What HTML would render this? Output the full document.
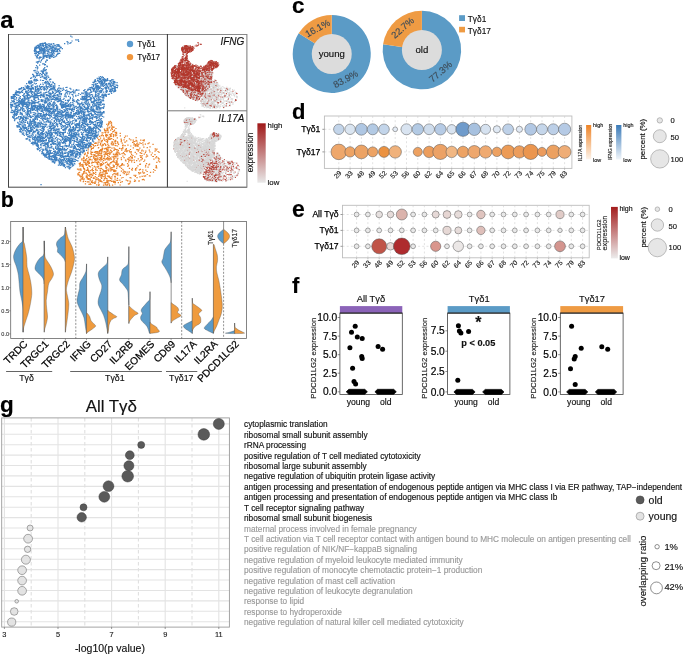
<!DOCTYPE html>
<html><head><meta charset="utf-8"><style>html,body{margin:0;padding:0;background:#fff;overflow:hidden}svg{display:block;will-change:transform}text{font-family:"Liberation Sans",sans-serif}</style></head>
<body><svg width="685" height="657" viewBox="0 0 685 657">
<rect width="685" height="657" fill="#fff"/>
<path d="M17.8 110.3h.1M16.3 106.7h.1M56.8 51.3h.1M55.8 147.1h.1M34.1 121.9h.1M41.3 60.7h.1M43.3 145.7h.1M72.8 123.3h.1M83.5 96.6h.1M73.2 99.8h.1M95.8 130.9h.1M72.0 108.9h.1M55.2 138.3h.1M82.2 139.2h.1M104.6 82.2h.1M74.2 115.9h.1M61.2 126.5h.1M85.8 124.4h.1M98.8 78.5h.1M36.7 92.0h.1M18.7 99.3h.1M103.3 77.7h.1M48.7 154.4h.1M35.1 72.0h.1M49.9 114.1h.1M84.6 107.7h.1M52.4 93.0h.1M27.5 85.5h.1M21.0 88.5h.1M47.5 88.6h.1M60.3 103.7h.1M38.6 147.4h.1M67.0 166.3h.1M93.4 109.9h.1M65.9 87.5h.1M38.0 130.1h.1M58.3 161.0h.1M113.1 88.6h.1M32.1 121.4h.1M100.8 103.2h.1M94.5 137.4h.1M45.9 143.8h.1M52.8 93.3h.1M47.8 111.9h.1M80.2 109.1h.1M56.9 152.8h.1M32.8 74.4h.1M36.0 116.7h.1M108.3 87.3h.1M73.0 156.9h.1M67.4 108.7h.1M28.6 102.4h.1M66.0 112.8h.1M21.5 113.4h.1M39.9 140.2h.1M70.7 138.6h.1M57.9 120.0h.1M65.3 130.1h.1M67.6 103.0h.1M70.4 161.8h.1M57.7 51.7h.1M17.9 127.2h.1M87.3 126.0h.1M53.0 104.1h.1M56.6 107.7h.1M12.1 112.6h.1M77.4 107.3h.1M38.7 47.5h.1M39.2 58.9h.1M71.6 131.1h.1M55.9 51.7h.1M78.5 143.9h.1M103.2 99.9h.1M69.7 159.7h.1M24.0 109.2h.1M41.3 105.8h.1M47.5 44.8h.1M61.3 160.7h.1M98.4 97.2h.1M100.1 92.2h.1M47.0 147.8h.1M78.7 93.7h.1M37.6 63.2h.1M36.2 79.6h.1M27.0 98.9h.1M114.3 81.7h.1M61.3 106.1h.1M38.5 53.9h.1M67.2 137.4h.1M26.1 134.1h.1M89.3 145.2h.1M66.6 106.3h.1M73.1 155.4h.1M49.0 55.8h.1M70.3 121.9h.1M83.5 104.4h.1M96.2 137.2h.1M67.8 125.9h.1M83.8 139.5h.1M82.6 130.1h.1M41.4 107.8h.1M11.9 100.6h.1M32.8 116.1h.1M66.6 163.0h.1M98.6 106.9h.1M63.1 99.5h.1M25.2 86.0h.1M41.3 89.6h.1M49.0 96.6h.1M100.1 78.6h.1M30.5 89.7h.1M78.1 158.0h.1M69.3 133.5h.1M89.1 99.5h.1M23.7 102.2h.1M42.2 136.0h.1M38.1 125.5h.1M70.2 92.4h.1M37.9 114.6h.1M91.0 94.7h.1M66.6 90.2h.1M64.4 122.1h.1M33.3 76.8h.1M53.2 98.9h.1M61.1 116.8h.1M52.3 159.7h.1M36.8 56.3h.1M66.4 128.8h.1M87.9 124.4h.1M59.4 112.3h.1M42.8 58.7h.1M78.7 130.9h.1M17.6 108.8h.1M42.6 100.8h.1M79.6 154.3h.1M12.4 105.5h.1M46.5 95.7h.1M31.4 143.3h.1M114.7 81.9h.1M34.1 95.3h.1M52.5 156.1h.1M110.6 84.1h.1M50.9 89.8h.1M40.2 87.0h.1M32.4 87.6h.1M98.8 97.2h.1M30.8 88.6h.1M13.3 94.5h.1M61.3 163.5h.1M56.4 104.9h.1M89.8 146.6h.1M44.5 88.3h.1M63.8 132.3h.1M35.3 95.2h.1M82.8 137.1h.1M100.8 79.7h.1M50.3 135.9h.1M36.7 73.5h.1M45.2 92.6h.1M97.3 125.1h.1M21.1 102.6h.1M110.5 89.6h.1M21.4 117.9h.1M33.5 89.1h.1M74.7 124.9h.1M20.9 92.5h.1M27.7 130.5h.1M43.7 114.2h.1M55.0 151.8h.1M55.8 146.3h.1M69.6 123.5h.1M19.6 121.2h.1M40.6 108.4h.1M21.7 104.5h.1M51.9 156.9h.1M53.7 149.6h.1M53.2 108.0h.1M14.4 113.6h.1M22.7 118.3h.1M55.4 116.2h.1M81.2 99.0h.1M92.5 141.2h.1M29.4 102.4h.1M23.9 97.0h.1M57.7 107.0h.1M89.2 140.9h.1M15.9 106.2h.1M89.1 145.6h.1M47.9 138.2h.1M64.2 158.9h.1M38.4 106.5h.1M22.4 109.6h.1M48.9 152.9h.1M72.6 154.1h.1M52.6 143.4h.1M48.9 139.2h.1M29.1 136.6h.1M73.3 126.5h.1M26.1 120.4h.1M65.4 155.8h.1M34.5 125.1h.1M21.5 87.7h.1M73.0 117.0h.1M77.4 102.6h.1M78.9 152.7h.1M67.4 93.9h.1M11.3 112.2h.1M75.7 106.6h.1M43.4 80.5h.1M60.2 136.3h.1M35.1 47.4h.1M91.0 130.4h.1M35.5 136.6h.1M105.1 84.1h.1M84.8 126.7h.1M60.7 148.7h.1M102.6 97.8h.1M32.9 121.3h.1M110.3 86.1h.1M84.8 122.7h.1M97.7 122.7h.1M44.5 96.1h.1M64.4 150.2h.1M13.3 94.7h.1M93.5 86.4h.1M10.5 104.6h.1M33.2 131.0h.1M21.9 123.0h.1M95.1 130.7h.1M53.3 92.4h.1M35.2 100.8h.1M91.5 137.8h.1M47.6 83.8h.1M101.1 126.3h.1M28.3 98.0h.1M59.9 154.5h.1M45.3 108.6h.1M95.8 135.3h.1M31.2 123.2h.1M32.3 91.6h.1M53.1 142.6h.1M64.1 122.5h.1M25.3 118.9h.1M56.4 115.1h.1M93.6 131.1h.1M83.4 123.7h.1M43.8 122.0h.1M55.3 141.5h.1M55.7 100.1h.1M54.2 127.9h.1M29.8 125.3h.1M52.0 104.5h.1M14.1 111.2h.1M72.1 110.9h.1M65.3 123.4h.1M32.7 129.1h.1M116.3 87.5h.1M39.6 93.1h.1M55.2 95.7h.1M48.0 76.0h.1M96.6 92.1h.1M97.4 122.7h.1M114.1 87.2h.1M100.0 87.4h.1M38.9 90.1h.1M40.4 73.5h.1M35.2 140.7h.1M94.4 127.1h.1M31.3 130.1h.1M90.1 98.0h.1M63.1 105.5h.1M100.8 101.7h.1M81.9 148.8h.1M18.1 123.1h.1M65.1 103.8h.1M103.1 88.8h.1M66.8 140.0h.1M57.0 95.9h.1M99.3 79.5h.1M53.6 106.2h.1M64.7 165.8h.1M95.5 84.4h.1M42.3 116.7h.1M42.4 43.3h.1M81.1 142.3h.1M76.1 120.5h.1M85.2 117.9h.1M33.0 126.9h.1M42.6 95.9h.1M56.5 123.7h.1M15.9 114.3h.1M72.1 158.7h.1M73.9 161.1h.1M61.3 94.7h.1M77.9 132.2h.1M80.3 145.9h.1M43.6 134.8h.1M103.0 104.0h.1M49.7 115.2h.1M96.1 88.5h.1M78.0 95.4h.1M94.7 114.2h.1M86.0 147.2h.1M99.8 118.5h.1M56.3 154.8h.1M84.0 118.6h.1M97.2 78.3h.1M38.4 95.9h.1M47.5 53.3h.1M35.3 119.3h.1M37.5 137.5h.1M35.1 115.8h.1M61.5 117.1h.1M21.5 122.5h.1M26.9 118.0h.1M103.5 104.0h.1M38.3 141.1h.1M37.4 47.3h.1M15.5 113.0h.1M59.5 162.3h.1M16.9 118.2h.1M37.8 113.9h.1M52.5 99.2h.1M37.6 87.0h.1M86.6 124.3h.1M73.9 138.4h.1M45.0 75.0h.1M25.1 99.1h.1M77.9 99.7h.1M98.9 102.9h.1M39.3 148.7h.1M28.1 104.6h.1M32.8 102.9h.1M37.8 68.0h.1M46.8 60.2h.1M99.9 109.1h.1M57.0 157.9h.1M29.5 140.0h.1M19.4 119.5h.1M86.4 145.2h.1M89.1 94.1h.1M46.2 149.0h.1M50.1 117.8h.1M23.0 132.9h.1M103.5 83.1h.1M51.2 137.5h.1M63.4 107.4h.1M37.0 145.9h.1M20.4 130.9h.1M72.3 108.6h.1M23.3 104.9h.1M40.2 57.9h.1M24.8 117.4h.1M25.9 115.0h.1M111.3 91.7h.1M100.7 109.0h.1M46.6 72.9h.1M15.8 107.9h.1M55.6 122.5h.1M56.8 106.4h.1M78.4 144.9h.1M68.6 159.4h.1M37.1 108.3h.1M43.0 124.4h.1M74.2 163.4h.1M39.0 101.5h.1M36.3 53.6h.1M100.7 119.7h.1M86.7 100.8h.1M76.2 101.8h.1M51.4 116.6h.1M48.1 151.5h.1M70.1 104.7h.1M57.5 50.3h.1M57.5 135.5h.1M46.4 87.1h.1M76.6 150.0h.1M65.9 136.0h.1M92.0 102.6h.1M73.3 105.5h.1M51.0 99.7h.1M52.2 112.8h.1M44.8 142.1h.1M64.0 98.7h.1M109.4 83.5h.1M32.1 96.4h.1M71.0 105.4h.1M93.5 110.6h.1M65.9 107.9h.1M52.1 87.8h.1M83.1 108.9h.1M50.4 93.2h.1M72.0 153.8h.1M117.6 85.9h.1M99.2 107.3h.1M105.9 95.7h.1M41.3 107.2h.1M78.1 118.8h.1M14.6 94.5h.1M43.1 129.9h.1M42.9 149.0h.1M63.8 112.5h.1M79.9 109.7h.1M72.0 94.5h.1M26.9 138.6h.1M66.4 146.6h.1M44.9 133.0h.1M58.6 91.3h.1M102.3 82.3h.1M98.1 80.9h.1M52.1 133.4h.1M43.4 153.2h.1M28.7 87.8h.1M67.6 91.3h.1M99.2 86.9h.1M30.6 78.4h.1M57.9 148.3h.1M27.2 87.1h.1M65.4 111.1h.1M93.3 91.2h.1M52.1 53.4h.1M101.9 83.1h.1M21.8 113.6h.1M53.6 157.5h.1M54.6 125.9h.1M48.0 122.0h.1M89.3 132.6h.1M31.4 80.8h.1M100.7 114.6h.1M37.5 97.5h.1M40.9 47.9h.1M36.4 56.6h.1M85.0 92.3h.1M99.5 78.1h.1M77.8 99.8h.1M85.4 96.7h.1M85.9 144.4h.1M69.0 165.1h.1M36.1 107.7h.1M111.1 87.0h.1M98.1 111.9h.1M28.3 126.8h.1M59.8 139.4h.1M31.3 131.3h.1M60.6 88.4h.1M21.8 104.3h.1M30.5 111.2h.1M77.8 160.8h.1M37.2 73.6h.1M100.7 80.0h.1M78.9 149.5h.1M44.6 89.1h.1M49.9 147.7h.1M14.5 114.2h.1M98.5 131.8h.1M42.4 116.0h.1M95.0 96.3h.1M81.5 107.6h.1M46.6 98.0h.1M57.9 113.8h.1M45.0 100.8h.1M76.9 145.1h.1M83.1 119.6h.1M71.7 163.0h.1M47.1 154.5h.1M30.4 128.4h.1M19.2 126.1h.1M71.0 92.6h.1M20.3 109.6h.1M62.8 112.6h.1M65.4 116.9h.1M54.1 51.8h.1M103.3 112.1h.1M35.6 89.6h.1M42.4 132.0h.1M28.1 136.8h.1M92.5 128.6h.1M23.3 89.7h.1M14.7 118.9h.1M69.3 144.1h.1M37.5 66.9h.1M100.5 116.0h.1M84.2 90.7h.1M84.5 144.7h.1M26.3 106.0h.1M52.5 152.9h.1M28.3 88.2h.1M72.3 91.6h.1M46.0 45.1h.1M25.7 127.4h.1M39.5 105.8h.1M71.4 109.3h.1M70.5 140.0h.1M93.6 122.6h.1M92.4 136.1h.1M69.5 93.9h.1M62.0 89.0h.1M35.4 86.7h.1M58.9 98.9h.1M42.7 63.9h.1M69.5 161.1h.1M48.6 140.5h.1M62.3 156.2h.1M37.8 45.4h.1M38.9 131.6h.1M75.1 151.8h.1M31.2 135.3h.1M46.8 59.8h.1M68.0 153.2h.1M45.3 137.3h.1M53.8 128.4h.1M16.2 94.9h.1M63.4 118.1h.1M76.3 134.1h.1M55.7 110.6h.1M69.9 125.7h.1M45.7 136.2h.1M86.8 139.1h.1M43.4 140.2h.1M66.5 161.5h.1M11.0 102.7h.1M93.6 88.4h.1M34.6 138.2h.1M16.5 106.0h.1M29.2 135.8h.1M96.5 100.7h.1M16.5 113.9h.1M37.2 75.7h.1M38.9 137.6h.1M40.5 84.4h.1M83.7 118.1h.1M72.6 154.2h.1M105.4 88.1h.1M42.1 45.6h.1M28.2 128.9h.1M35.3 142.7h.1M14.1 106.4h.1M56.5 55.8h.1M117.0 82.5h.1M23.0 104.2h.1M89.7 105.8h.1M48.2 105.3h.1M49.2 43.8h.1M80.5 111.3h.1M53.1 82.8h.1M115.1 91.5h.1M75.6 159.7h.1M76.0 90.2h.1M79.8 111.9h.1M65.1 117.4h.1M35.3 122.1h.1M50.9 132.6h.1M66.8 120.0h.1M44.8 122.1h.1M34.1 120.0h.1M87.9 108.5h.1M66.6 109.2h.1M98.8 100.7h.1M51.2 147.8h.1M37.2 55.5h.1M96.7 108.5h.1M19.5 92.5h.1M85.1 99.3h.1M26.2 128.5h.1M50.0 85.5h.1M29.3 133.3h.1M19.9 123.0h.1M31.8 96.0h.1M76.7 89.5h.1M57.8 88.9h.1M41.9 94.1h.1M97.6 87.1h.1M72.5 159.5h.1M50.2 126.7h.1M51.0 109.0h.1M12.8 117.5h.1M59.9 148.7h.1M61.1 155.1h.1M63.1 107.2h.1M82.4 136.2h.1M69.8 139.8h.1M91.4 113.9h.1M83.5 132.4h.1M55.1 116.4h.1M39.7 75.7h.1M70.0 107.1h.1M62.8 116.3h.1M41.5 132.4h.1M73.9 100.0h.1M58.0 153.6h.1M56.8 123.4h.1M96.5 105.5h.1M100.3 79.6h.1M108.5 83.5h.1M60.2 134.6h.1M41.4 86.5h.1M63.6 160.1h.1M62.4 151.8h.1M13.5 118.2h.1M46.0 99.4h.1M95.1 80.2h.1M69.6 142.2h.1M59.8 46.8h.1M20.5 124.3h.1M50.5 126.4h.1M45.8 149.1h.1M22.6 105.3h.1M22.7 101.7h.1M67.8 106.6h.1M31.4 93.6h.1M104.1 106.0h.1M62.7 142.6h.1M38.5 46.4h.1M74.3 141.7h.1M14.5 120.7h.1M98.0 85.8h.1M59.9 159.0h.1M54.0 53.6h.1M89.2 128.4h.1M47.2 60.3h.1M61.8 105.4h.1M77.5 149.5h.1M82.7 136.8h.1M67.4 162.2h.1M37.2 148.6h.1M31.4 100.4h.1M63.2 157.4h.1M86.7 92.1h.1M95.7 128.9h.1M99.2 93.9h.1M80.5 148.3h.1M74.2 148.3h.1M10.5 104.4h.1M55.2 119.0h.1M46.2 69.5h.1M101.2 120.8h.1M85.7 98.4h.1M106.5 92.4h.1M59.1 144.9h.1M48.0 55.3h.1M103.1 107.5h.1M49.1 126.1h.1M50.6 108.6h.1M83.8 113.0h.1M88.7 137.4h.1M73.5 115.5h.1M52.4 137.0h.1M40.3 139.0h.1M80.1 144.3h.1M86.6 129.9h.1M27.5 115.3h.1M95.7 86.4h.1M65.7 153.5h.1M43.7 49.3h.1M31.3 83.1h.1M52.5 91.3h.1M58.6 148.4h.1M94.1 82.3h.1M91.8 102.0h.1M82.4 137.7h.1M49.2 158.6h.1M41.1 122.2h.1M99.3 114.2h.1M36.3 51.3h.1M91.4 128.3h.1M43.2 124.1h.1M78.5 130.0h.1M52.6 161.5h.1M46.9 92.2h.1M66.3 127.2h.1M17.1 94.8h.1M102.0 127.0h.1M53.6 115.1h.1M82.5 137.9h.1M90.2 146.4h.1M86.0 131.5h.1M39.7 51.0h.1M99.0 77.0h.1M96.6 88.0h.1M45.1 42.9h.1M16.4 98.9h.1M34.2 122.1h.1M45.8 114.4h.1M64.5 96.1h.1M78.0 134.2h.1M53.2 107.3h.1M113.8 84.2h.1M17.7 103.0h.1M59.0 128.9h.1M59.1 85.7h.1M31.0 135.6h.1M38.7 113.4h.1M88.0 133.5h.1M43.0 48.1h.1M48.4 156.2h.1M94.0 102.1h.1M61.4 146.5h.1M21.8 113.8h.1M32.6 74.4h.1M57.2 135.1h.1M33.1 116.5h.1M94.9 101.2h.1M77.5 154.5h.1M51.3 55.7h.1M59.3 116.6h.1M86.4 98.1h.1M80.2 130.0h.1M34.7 92.1h.1M99.0 122.7h.1M33.7 127.5h.1M38.4 61.9h.1M27.6 107.3h.1M102.0 112.8h.1M64.3 120.9h.1M15.9 111.5h.1M48.1 54.4h.1M21.0 89.0h.1M84.8 118.2h.1M59.2 94.0h.1M89.1 143.3h.1M101.8 97.0h.1M57.7 131.9h.1M42.5 86.6h.1M20.2 98.5h.1M39.6 74.1h.1M45.5 140.0h.1M99.1 82.2h.1M49.6 110.5h.1M27.4 109.7h.1M68.1 161.1h.1M29.0 97.9h.1M84.6 136.9h.1M36.8 75.0h.1M79.5 117.3h.1M74.6 130.4h.1M63.3 165.1h.1M39.5 139.8h.1M54.2 129.7h.1M110.7 85.8h.1M96.7 127.3h.1M81.2 116.8h.1M51.4 125.0h.1M49.3 133.9h.1M49.6 108.7h.1M36.8 143.2h.1M51.1 139.2h.1M51.5 88.7h.1M61.0 152.5h.1M81.7 148.3h.1M13.2 98.0h.1M59.7 132.5h.1M22.7 103.2h.1M34.9 98.2h.1M60.7 161.0h.1M90.4 113.7h.1M59.8 135.0h.1M32.2 126.4h.1M60.8 136.2h.1M35.3 105.6h.1M49.7 156.7h.1M34.5 118.1h.1M13.9 98.0h.1M30.7 137.2h.1M111.5 93.4h.1M35.2 102.8h.1M113.8 83.2h.1M47.1 127.1h.1M59.0 113.6h.1M66.4 116.0h.1M28.1 116.6h.1M54.2 154.9h.1M54.0 49.0h.1M104.0 95.6h.1M80.6 107.4h.1M36.3 125.8h.1M35.5 88.8h.1M90.1 121.5h.1M82.6 143.6h.1M61.3 128.3h.1M35.2 97.0h.1M32.4 94.3h.1M89.4 88.0h.1M38.7 47.0h.1M53.9 95.7h.1M72.9 161.7h.1M48.4 131.6h.1M28.9 103.4h.1M79.3 122.8h.1M37.6 146.4h.1M11.6 110.2h.1M39.4 51.4h.1M28.7 130.5h.1M46.2 108.6h.1M55.1 103.1h.1M77.4 130.6h.1M95.5 134.7h.1M34.8 143.3h.1M20.2 116.7h.1M86.4 144.2h.1M81.7 114.0h.1M30.8 116.2h.1M37.9 96.1h.1M41.4 123.4h.1M76.4 156.6h.1M43.6 126.3h.1M95.8 81.7h.1M15.3 107.5h.1M22.9 106.6h.1M49.2 133.1h.1M17.6 91.5h.1M37.3 127.1h.1M44.4 102.8h.1M93.2 89.5h.1M59.2 123.1h.1M60.3 120.8h.1M93.2 97.8h.1M52.5 54.4h.1M27.7 109.8h.1M92.6 96.4h.1M38.0 136.2h.1M41.2 101.4h.1M46.6 73.9h.1M46.9 66.2h.1M92.5 119.2h.1M112.8 83.9h.1M49.5 89.9h.1M50.9 56.4h.1M108.2 94.4h.1M88.6 138.0h.1M37.3 125.5h.1M98.6 86.2h.1M90.4 128.1h.1M69.2 100.1h.1M46.8 74.0h.1M45.3 45.8h.1M34.5 51.4h.1M59.9 93.3h.1M113.0 81.7h.1M43.6 153.1h.1M21.4 116.8h.1M66.0 103.7h.1M32.5 88.3h.1M13.8 117.2h.1M87.5 96.8h.1M66.6 146.3h.1M90.4 143.9h.1M56.8 90.6h.1M30.2 111.7h.1M70.6 143.1h.1M49.1 159.4h.1M12.5 106.1h.1M65.2 160.5h.1M25.5 122.3h.1M55.8 118.7h.1M39.8 95.7h.1M87.4 137.2h.1M37.6 107.9h.1M75.1 156.9h.1M73.2 133.7h.1M86.9 132.4h.1M57.8 53.4h.1M96.1 128.2h.1M59.7 123.3h.1M46.3 139.5h.1M54.3 120.7h.1M44.1 106.3h.1M62.5 162.0h.1M31.4 117.4h.1M53.6 87.3h.1M48.0 129.9h.1M48.3 122.2h.1M53.4 97.2h.1M69.9 126.3h.1M49.5 150.2h.1M73.7 128.2h.1M44.9 103.2h.1M49.3 155.7h.1M67.5 160.1h.1M51.8 119.6h.1M38.1 89.4h.1M49.2 158.0h.1M27.3 129.8h.1M34.6 49.8h.1M89.2 133.6h.1M30.8 137.1h.1M51.7 54.3h.1M91.4 118.0h.1M86.5 122.2h.1M75.8 127.6h.1M56.9 91.9h.1M26.4 86.9h.1M16.4 109.6h.1M13.6 98.1h.1M52.8 161.8h.1M51.4 129.9h.1M96.2 94.9h.1M71.5 134.6h.1M44.2 90.1h.1M44.4 138.3h.1M102.6 104.3h.1M26.1 138.8h.1M56.1 160.6h.1M39.9 56.9h.1M57.7 134.4h.1M88.9 124.6h.1M63.3 133.8h.1M50.0 158.9h.1M71.7 144.8h.1M59.3 151.7h.1M25.6 128.5h.1M78.8 90.1h.1M13.7 101.3h.1M87.6 134.7h.1M61.2 141.9h.1M78.1 109.9h.1M83.7 136.7h.1M60.0 146.6h.1M83.9 112.6h.1M60.8 104.9h.1M49.7 112.6h.1M105.7 89.0h.1M72.9 164.8h.1M78.0 113.7h.1M68.7 151.6h.1M48.9 119.0h.1M11.1 112.5h.1M100.4 127.1h.1M83.2 132.7h.1M15.3 96.5h.1M43.8 114.4h.1M54.9 156.7h.1M53.7 130.7h.1M39.2 61.2h.1M77.3 125.2h.1M88.4 112.2h.1M26.1 116.9h.1M27.3 106.1h.1M20.0 102.9h.1M46.2 139.3h.1M82.4 148.1h.1M64.3 159.3h.1M19.6 124.6h.1M43.3 107.3h.1M36.4 62.1h.1M86.3 96.7h.1M101.5 124.5h.1M87.4 107.1h.1M19.5 129.5h.1M34.0 93.2h.1M17.6 111.2h.1M64.2 104.3h.1M82.3 105.2h.1M98.0 102.4h.1M84.1 130.7h.1M87.2 143.8h.1M44.8 49.3h.1M22.4 90.6h.1M48.2 153.1h.1M73.5 165.1h.1M31.2 108.1h.1M46.4 89.8h.1M40.0 106.1h.1M55.2 126.5h.1M93.2 131.5h.1M50.5 79.2h.1M86.5 146.0h.1M58.8 87.8h.1M48.8 138.0h.1M94.7 125.3h.1M78.6 130.2h.1M66.7 127.3h.1M46.4 56.2h.1M89.6 104.2h.1M39.1 104.1h.1M103.7 98.1h.1M102.1 84.4h.1M106.2 96.5h.1M93.5 89.9h.1M52.9 117.8h.1M51.0 43.9h.1M92.2 84.6h.1M73.3 115.2h.1M79.6 118.6h.1M43.6 95.2h.1M73.4 90.2h.1M39.1 140.7h.1M77.5 140.9h.1M91.3 98.2h.1M19.8 100.9h.1M19.8 89.2h.1M85.8 107.8h.1M28.3 107.1h.1M50.2 151.4h.1M104.8 87.8h.1M76.4 113.8h.1M49.9 57.0h.1M45.5 149.4h.1M49.0 93.4h.1M81.5 126.6h.1M95.3 100.3h.1M50.5 135.3h.1M83.7 128.0h.1M28.7 124.1h.1M37.9 124.0h.1M62.2 120.5h.1M43.3 128.3h.1M76.6 141.2h.1M34.0 98.5h.1M71.2 137.8h.1M58.4 165.2h.1M99.4 108.4h.1M99.7 129.6h.1M107.0 85.4h.1M46.3 50.9h.1M69.6 120.0h.1M25.5 131.0h.1M94.9 100.2h.1M36.8 130.4h.1M49.8 107.0h.1M47.5 135.1h.1M53.9 108.9h.1M64.7 142.1h.1M39.8 122.9h.1M50.7 115.7h.1M99.7 112.3h.1M83.2 145.6h.1M54.5 107.0h.1M29.8 115.6h.1M61.3 110.5h.1M64.4 148.4h.1M71.6 110.5h.1M94.4 81.3h.1M34.7 115.0h.1M50.1 103.2h.1M79.5 129.9h.1M69.5 135.2h.1M19.3 104.4h.1M42.4 100.9h.1M95.2 133.9h.1M45.6 56.2h.1M91.7 94.6h.1M52.4 82.0h.1M57.6 97.8h.1M99.7 102.7h.1M53.9 155.3h.1M81.4 113.3h.1M70.2 151.9h.1M49.8 153.9h.1M78.3 149.2h.1M87.0 134.6h.1M79.4 125.6h.1M12.4 98.4h.1M23.8 127.3h.1M95.4 81.2h.1M88.2 89.1h.1M52.7 105.9h.1M23.2 108.6h.1M114.5 91.0h.1M44.8 124.3h.1M52.5 138.0h.1M58.5 153.1h.1M57.6 139.0h.1M26.5 108.2h.1M35.7 113.4h.1M13.7 98.7h.1M42.7 116.6h.1M31.0 108.0h.1M98.7 95.2h.1M54.1 118.1h.1M84.9 116.8h.1M40.0 105.4h.1M39.7 123.8h.1M96.5 105.2h.1M22.4 106.9h.1M87.7 89.8h.1M37.8 145.5h.1M79.9 144.9h.1M60.0 132.8h.1M61.4 124.7h.1M113.7 92.0h.1M50.5 130.6h.1M60.3 148.6h.1M90.2 132.9h.1M38.9 142.1h.1M43.7 89.1h.1M26.8 114.4h.1M46.3 55.5h.1M101.6 84.1h.1M42.7 76.3h.1M11.3 97.6h.1M37.3 45.6h.1M86.7 116.1h.1M86.8 144.9h.1M69.4 145.3h.1M86.5 115.0h.1M77.8 118.3h.1M97.7 114.2h.1M110.2 89.4h.1M46.0 131.9h.1M79.7 126.3h.1M94.0 98.8h.1M21.9 120.9h.1M36.8 129.0h.1M58.1 142.8h.1M58.9 44.8h.1M54.5 163.2h.1M42.9 104.7h.1M79.7 106.4h.1M31.9 85.0h.1M55.7 148.3h.1M73.3 115.9h.1M53.7 55.4h.1M96.4 118.2h.1M74.7 152.7h.1M36.7 115.5h.1M42.0 138.8h.1M45.8 111.2h.1M71.2 158.1h.1M59.7 112.4h.1M61.6 122.7h.1M80.0 143.7h.1M86.1 109.4h.1M45.2 116.7h.1M36.7 107.8h.1M47.4 144.1h.1M70.3 140.4h.1M63.3 161.0h.1M100.8 92.7h.1M45.6 62.2h.1M42.8 131.1h.1M92.8 140.3h.1M45.4 148.0h.1M43.9 129.0h.1M101.7 114.2h.1M37.2 111.2h.1M36.2 130.7h.1M93.3 101.5h.1M47.7 153.8h.1M19.9 127.0h.1M36.7 126.4h.1M54.2 99.4h.1M87.1 141.7h.1M40.5 136.0h.1M79.0 103.3h.1M58.6 114.2h.1M37.7 75.2h.1M64.2 139.7h.1M106.3 90.1h.1M78.7 136.2h.1M58.2 101.7h.1M61.6 164.5h.1M104.2 94.8h.1M98.5 89.8h.1M33.1 137.7h.1M96.4 135.0h.1M50.5 95.0h.1M66.0 116.3h.1M47.9 95.4h.1M68.6 96.4h.1M44.1 104.9h.1M27.2 86.2h.1M94.3 98.4h.1M17.1 126.9h.1M51.1 158.8h.1M42.6 51.0h.1M14.7 104.1h.1M89.6 121.6h.1M98.1 99.8h.1M47.5 144.6h.1M82.6 109.9h.1M11.4 98.7h.1M94.5 133.4h.1M35.1 131.6h.1M92.1 115.0h.1M69.4 138.1h.1M33.6 102.2h.1M38.0 126.7h.1M67.8 118.1h.1M31.4 81.8h.1M88.8 115.6h.1M40.6 137.4h.1M44.7 67.6h.1M100.3 81.6h.1M49.7 57.6h.1M37.0 115.7h.1M42.9 109.0h.1M70.7 102.7h.1M35.7 110.3h.1M47.9 105.5h.1M30.8 121.7h.1M39.6 57.4h.1M77.3 151.4h.1M33.5 139.3h.1M110.7 85.2h.1M113.4 86.0h.1M68.9 161.6h.1M90.9 118.5h.1M94.6 134.0h.1M51.5 144.1h.1M97.7 80.6h.1M12.7 104.4h.1M88.6 119.1h.1M74.3 145.6h.1M39.2 47.7h.1M54.6 162.2h.1M55.3 49.7h.1M63.2 104.6h.1M65.3 144.0h.1M104.6 95.6h.1M35.8 100.7h.1M71.5 155.1h.1M65.4 167.6h.1M43.8 58.2h.1M62.3 153.7h.1M88.8 138.5h.1M69.9 117.8h.1M28.1 86.0h.1M90.5 124.5h.1M65.7 113.6h.1M80.0 125.5h.1M63.3 138.2h.1M23.9 96.4h.1M56.7 113.5h.1M52.2 96.5h.1M52.7 99.3h.1M37.5 130.8h.1M60.7 91.5h.1M87.2 100.6h.1M81.9 102.4h.1M20.8 117.0h.1M45.1 98.1h.1M29.6 133.6h.1M45.4 119.2h.1M54.3 121.3h.1M47.0 46.8h.1M43.1 120.7h.1M38.3 98.0h.1M45.9 92.5h.1M53.6 102.6h.1M56.0 159.0h.1M83.7 90.7h.1M48.8 130.9h.1M86.8 97.3h.1M36.8 79.3h.1M47.4 142.5h.1M37.9 109.3h.1M73.3 96.9h.1M46.9 48.3h.1M37.7 149.7h.1M106.0 80.1h.1M39.4 53.5h.1M14.7 120.0h.1M30.2 97.7h.1M81.0 107.1h.1M65.5 102.8h.1M60.6 47.8h.1M25.5 118.7h.1M21.7 129.3h.1M51.6 112.3h.1M53.6 143.7h.1M92.6 110.3h.1M37.6 54.8h.1M44.8 94.0h.1M20.9 131.8h.1M84.9 89.5h.1M59.7 145.2h.1M44.7 107.4h.1M105.3 87.2h.1M53.6 151.5h.1M70.0 88.4h.1M43.0 53.2h.1M97.5 109.4h.1M82.6 123.6h.1M35.6 141.0h.1M67.4 139.9h.1M67.0 156.4h.1M53.0 103.1h.1M89.0 104.1h.1M49.3 154.0h.1M58.7 113.7h.1M67.1 164.0h.1M62.9 150.0h.1M46.5 132.8h.1M38.2 99.1h.1M70.3 98.7h.1M88.5 147.0h.1M23.6 95.9h.1M33.9 70.6h.1M39.6 49.6h.1M42.5 127.7h.1M89.4 129.7h.1M60.9 101.2h.1M14.3 101.4h.1M98.1 104.3h.1M39.3 135.8h.1M48.2 86.7h.1M46.5 157.4h.1M73.7 146.9h.1M68.6 135.2h.1M67.8 163.6h.1M38.5 113.4h.1M72.4 160.6h.1M55.0 161.9h.1M49.7 116.1h.1M86.5 125.0h.1M59.6 143.0h.1M39.7 108.1h.1M88.9 127.2h.1M54.2 113.2h.1M12.7 110.4h.1M54.5 117.3h.1M37.6 144.7h.1M12.0 97.1h.1M34.1 98.1h.1M45.0 82.5h.1M27.5 93.4h.1M45.0 143.2h.1M21.0 121.8h.1M90.6 127.2h.1M23.9 119.9h.1M61.0 102.3h.1M75.8 96.1h.1M60.1 112.1h.1M52.3 161.3h.1M80.4 152.1h.1M61.5 136.7h.1M14.0 97.1h.1M66.8 122.5h.1M102.5 94.8h.1M48.6 120.9h.1M38.4 141.1h.1M42.3 119.6h.1M52.2 108.8h.1M89.5 131.1h.1M82.7 122.3h.1M46.8 86.6h.1M55.1 56.6h.1M45.1 42.7h.1M54.8 140.0h.1M16.5 97.5h.1M85.8 108.3h.1M46.3 94.8h.1M43.4 149.8h.1M43.6 58.1h.1M87.4 135.0h.1M32.2 133.8h.1M71.0 92.4h.1M42.6 110.8h.1M78.9 116.5h.1M34.0 125.7h.1M12.2 105.0h.1M38.0 90.8h.1M36.3 83.5h.1M48.9 83.5h.1M23.2 105.9h.1M76.8 127.7h.1M77.0 90.3h.1M28.6 86.3h.1M99.9 90.8h.1M38.1 115.1h.1M35.2 90.8h.1M79.1 123.1h.1M32.7 110.1h.1M73.9 109.5h.1M20.1 114.1h.1M36.0 117.0h.1M52.7 96.0h.1M93.1 110.6h.1M33.4 114.4h.1M35.0 141.4h.1M86.7 104.4h.1M86.3 134.2h.1M38.5 127.2h.1M48.6 45.8h.1M21.4 103.7h.1M28.5 98.7h.1M64.0 109.6h.1M70.4 165.2h.1M63.3 143.2h.1M49.8 93.0h.1M72.2 164.4h.1M74.2 147.3h.1M67.7 116.1h.1M90.5 89.8h.1M39.3 104.1h.1M54.7 141.6h.1M106.1 87.7h.1M60.9 155.3h.1M37.8 61.6h.1M61.9 101.8h.1M88.1 106.9h.1M65.3 116.2h.1M87.6 110.5h.1M17.4 91.7h.1M37.7 136.6h.1M25.0 106.5h.1M21.3 100.2h.1M55.7 159.6h.1M18.2 91.7h.1M48.3 133.2h.1M65.7 110.7h.1M72.6 98.9h.1M99.7 130.0h.1M38.4 123.0h.1M92.3 102.3h.1M75.9 121.5h.1M75.5 120.1h.1M34.0 125.1h.1M96.0 111.6h.1M35.8 114.0h.1M49.8 97.5h.1M29.6 116.1h.1M61.1 132.7h.1M74.7 146.3h.1M37.6 107.0h.1M34.1 139.3h.1M17.7 122.4h.1M46.4 98.3h.1M27.3 88.7h.1M83.5 116.5h.1M33.4 75.0h.1M79.1 115.0h.1M69.9 158.7h.1M60.1 161.0h.1M31.4 121.4h.1M61.4 159.8h.1M85.7 118.0h.1M58.8 148.2h.1M27.8 131.9h.1M60.1 145.0h.1M16.9 113.0h.1M76.7 153.3h.1M45.8 61.4h.1M79.8 156.9h.1M68.6 160.9h.1M68.2 156.6h.1M45.3 126.3h.1M55.4 132.9h.1M27.0 103.7h.1M19.3 104.0h.1M86.0 121.0h.1M81.8 108.5h.1M43.5 150.2h.1M65.2 132.3h.1M51.5 112.4h.1M48.0 47.5h.1M40.6 144.3h.1M75.3 136.3h.1M100.1 111.1h.1M54.4 88.2h.1M62.9 111.5h.1M84.1 110.1h.1M39.9 107.6h.1M48.8 51.9h.1M52.0 96.3h.1M66.9 152.3h.1M45.3 43.6h.1M79.9 125.4h.1M49.3 102.3h.1M31.1 122.8h.1M70.6 136.0h.1M69.1 146.8h.1M77.9 127.1h.1M48.7 91.6h.1M67.6 122.3h.1M59.7 163.6h.1M66.7 103.0h.1M25.8 106.6h.1M56.7 50.0h.1M55.5 138.1h.1M55.2 93.4h.1M110.1 80.5h.1M44.3 110.0h.1M41.5 100.3h.1M87.6 125.0h.1M29.8 126.2h.1M36.5 65.6h.1M83.7 115.7h.1M97.5 128.0h.1M75.6 125.6h.1M19.9 88.6h.1M50.3 123.3h.1M50.3 89.6h.1M37.3 69.0h.1M84.2 106.9h.1M76.5 120.9h.1M72.1 153.3h.1M80.0 112.7h.1M18.6 104.1h.1M35.1 122.7h.1M61.1 161.5h.1M100.8 90.4h.1M27.6 114.0h.1M80.6 120.0h.1M81.3 108.5h.1M100.2 102.7h.1M53.9 52.0h.1M33.7 131.3h.1M84.5 120.6h.1M112.7 79.9h.1M52.9 155.6h.1M92.5 118.4h.1M112.6 85.3h.1M83.3 148.7h.1M59.1 92.5h.1M80.7 110.8h.1M69.7 162.5h.1M68.3 100.9h.1M92.2 111.2h.1M68.2 153.8h.1M29.8 137.3h.1M61.8 151.1h.1M46.2 107.5h.1M103.6 92.1h.1M34.2 103.6h.1M49.1 126.3h.1M41.1 111.5h.1M101.9 107.9h.1M39.3 107.2h.1M66.2 124.5h.1M90.4 120.4h.1M30.0 131.5h.1M16.8 95.2h.1M60.5 152.9h.1M90.4 139.3h.1M67.3 126.9h.1M43.8 149.9h.1M23.4 87.7h.1M63.2 164.6h.1M44.7 70.3h.1M92.9 115.0h.1M64.8 122.5h.1M85.2 93.9h.1M42.5 137.6h.1M78.2 111.5h.1M45.5 102.8h.1M106.6 88.5h.1M22.2 108.1h.1M105.5 81.0h.1M36.8 143.9h.1M60.3 156.6h.1M71.9 135.5h.1M53.2 105.6h.1M84.4 107.0h.1M32.2 101.6h.1M37.5 146.7h.1M110.6 89.5h.1M72.7 129.9h.1M89.9 113.7h.1M36.0 102.6h.1M14.8 99.4h.1M90.9 143.0h.1M68.5 168.0h.1M43.5 95.8h.1M80.4 154.1h.1M88.1 106.5h.1M21.6 118.2h.1M93.9 127.6h.1M68.1 116.9h.1M40.5 77.3h.1M48.9 156.9h.1M42.8 50.9h.1M37.4 102.3h.1M45.7 54.0h.1M20.2 124.3h.1M81.9 127.6h.1M84.6 121.1h.1M65.6 117.2h.1M91.6 109.9h.1M32.6 106.8h.1M72.6 100.7h.1M65.7 141.7h.1M43.9 87.3h.1M89.3 89.5h.1M50.5 153.5h.1M54.9 86.8h.1M29.0 89.2h.1M31.7 85.5h.1M80.5 94.5h.1M80.6 111.9h.1M40.6 96.1h.1M25.6 117.4h.1M14.2 112.3h.1M51.2 144.4h.1M95.2 111.3h.1M46.3 47.8h.1M88.1 106.6h.1M31.5 77.8h.1M26.7 134.3h.1M92.6 133.4h.1M79.1 130.4h.1M49.0 108.2h.1M65.7 139.8h.1M13.5 111.7h.1M46.2 92.4h.1M43.7 137.0h.1M59.3 149.5h.1M65.7 136.7h.1M22.2 114.7h.1M91.6 114.6h.1M72.7 118.1h.1M19.8 131.7h.1M62.6 139.7h.1M77.5 110.1h.1M55.2 127.0h.1M18.3 107.0h.1M111.4 85.8h.1M55.2 131.9h.1M70.3 163.1h.1M55.2 45.4h.1M42.4 109.0h.1M83.1 93.7h.1M18.1 112.2h.1M86.4 118.9h.1M57.2 109.1h.1M53.1 106.5h.1M97.7 135.7h.1M48.0 135.9h.1M76.4 148.8h.1M58.4 150.8h.1M94.3 124.5h.1M66.5 119.2h.1M29.3 114.3h.1M37.3 146.2h.1M82.7 98.2h.1M49.1 153.2h.1M86.8 99.2h.1M55.4 111.1h.1M117.3 87.7h.1M95.2 103.9h.1M85.1 111.9h.1M59.6 50.4h.1M24.6 97.5h.1M33.5 123.1h.1M72.9 104.1h.1M117.4 85.5h.1M63.1 105.7h.1M11.4 104.7h.1M53.8 105.2h.1M91.3 108.2h.1M30.8 102.9h.1M95.4 85.0h.1M43.5 149.8h.1M15.5 103.6h.1M89.4 115.2h.1M40.8 50.8h.1M91.4 102.3h.1M74.3 108.1h.1M15.4 104.0h.1M90.7 97.1h.1M72.6 117.9h.1M96.7 85.2h.1M75.6 136.8h.1M90.2 99.6h.1M76.8 137.1h.1M57.2 99.6h.1M48.6 141.0h.1M42.2 132.5h.1M93.8 84.2h.1M50.8 109.4h.1M41.8 50.1h.1M87.5 130.4h.1M69.9 108.7h.1M80.8 106.8h.1M100.8 123.6h.1M91.6 91.9h.1M68.2 114.4h.1M46.9 119.2h.1M51.2 128.7h.1M49.9 109.1h.1M100.6 76.6h.1M52.4 125.0h.1M88.9 94.7h.1M51.6 114.8h.1M59.6 46.1h.1M46.4 124.7h.1M71.0 129.5h.1M91.0 121.3h.1M80.9 103.7h.1M111.2 87.0h.1M34.8 124.7h.1M99.1 98.9h.1M63.7 89.6h.1M84.8 121.8h.1M24.5 97.1h.1M75.9 154.3h.1M89.6 143.0h.1M114.6 88.7h.1M60.7 150.7h.1M55.6 144.0h.1M91.6 131.7h.1M67.4 91.6h.1M66.9 87.4h.1M48.9 141.6h.1M82.7 104.3h.1M61.6 113.6h.1M63.4 102.7h.1M89.5 135.5h.1M93.8 90.0h.1M50.8 156.2h.1M94.0 90.7h.1M56.8 119.0h.1M68.9 159.9h.1M87.6 137.8h.1M33.5 105.7h.1M49.3 104.4h.1M29.2 140.1h.1M74.5 113.7h.1M42.5 128.3h.1M94.5 104.9h.1M66.7 124.2h.1M106.2 91.3h.1M52.2 134.4h.1M49.2 95.6h.1M46.9 94.6h.1M95.4 113.3h.1M42.4 139.2h.1M51.2 105.7h.1M48.6 115.3h.1M38.4 136.1h.1M90.2 137.3h.1M69.6 115.9h.1M69.3 157.2h.1M54.0 157.3h.1M101.2 81.8h.1M38.9 109.4h.1M50.3 123.5h.1M14.7 115.8h.1M27.3 94.3h.1M91.3 123.1h.1M65.2 125.5h.1M53.0 148.4h.1M53.8 128.4h.1M47.2 97.3h.1M32.7 87.4h.1M30.3 102.9h.1M72.4 140.3h.1M79.8 128.2h.1M34.9 80.8h.1M95.5 92.3h.1M31.7 100.7h.1M19.9 92.4h.1M101.3 80.6h.1M65.5 143.8h.1M37.1 118.1h.1M63.3 88.2h.1M69.9 140.3h.1M20.7 129.2h.1M95.5 94.6h.1M104.2 83.2h.1M86.2 146.0h.1M64.5 111.3h.1M102.3 112.9h.1M89.9 121.3h.1M27.7 123.0h.1M28.8 110.8h.1M26.3 93.2h.1M45.0 51.6h.1M19.1 124.7h.1M62.2 155.2h.1M57.1 107.2h.1M43.4 87.1h.1M84.6 97.4h.1M39.2 48.5h.1M100.1 96.8h.1M70.3 161.9h.1M50.6 130.0h.1M84.3 138.9h.1M101.6 95.0h.1M89.3 96.7h.1M56.1 119.3h.1M106.3 83.6h.1M81.8 129.5h.1M77.6 146.4h.1M62.5 106.2h.1M88.1 114.5h.1M33.8 124.8h.1M51.8 146.6h.1M90.7 99.0h.1M22.7 125.9h.1M91.4 129.3h.1M96.5 102.4h.1M19.0 89.6h.1M78.2 123.9h.1M77.7 112.0h.1M30.0 102.8h.1M46.1 153.7h.1M61.6 107.4h.1M100.9 100.1h.1M58.8 49.1h.1M31.3 82.7h.1M44.3 108.4h.1M64.6 149.7h.1M24.5 127.6h.1M53.9 112.7h.1M49.8 135.8h.1M59.8 158.3h.1M47.7 120.4h.1M59.8 109.4h.1M20.4 118.2h.1M91.6 132.9h.1M26.4 139.2h.1M70.9 136.8h.1M36.4 129.7h.1M72.9 165.6h.1M94.4 89.4h.1M73.4 144.3h.1M15.1 114.6h.1M52.7 143.4h.1M45.6 45.2h.1M45.5 108.7h.1M82.4 117.5h.1M51.2 93.8h.1M57.8 132.8h.1M97.9 93.7h.1M11.3 96.7h.1M53.6 95.2h.1M40.8 87.4h.1M35.6 96.8h.1M47.7 114.6h.1M51.9 113.3h.1M20.3 112.6h.1M54.2 121.7h.1M44.5 50.1h.1M91.4 91.8h.1M84.5 114.3h.1M88.1 132.6h.1M54.7 50.8h.1M37.7 133.3h.1M58.0 46.4h.1M90.8 100.7h.1M97.1 110.0h.1M51.2 101.4h.1M28.5 126.9h.1M40.4 88.6h.1M72.0 121.5h.1M48.4 98.8h.1M93.9 103.2h.1M48.6 145.8h.1M52.2 123.3h.1M80.0 129.2h.1M55.1 150.8h.1M69.7 92.0h.1M49.7 128.5h.1M108.7 88.9h.1M69.5 160.3h.1M99.0 114.2h.1M79.1 124.5h.1M92.4 109.2h.1M83.3 148.7h.1M57.0 105.8h.1M74.2 101.4h.1M37.1 119.4h.1M75.6 156.0h.1M100.2 101.8h.1M61.1 115.0h.1M79.7 123.4h.1M90.4 145.4h.1M12.7 116.7h.1M78.3 118.9h.1M98.8 110.0h.1M63.6 102.1h.1M82.7 148.0h.1M64.6 128.9h.1M45.7 44.6h.1M28.0 118.6h.1M87.8 90.4h.1M85.4 94.2h.1M57.3 101.6h.1M45.9 154.8h.1M23.4 117.2h.1M88.2 135.8h.1M87.3 111.7h.1M98.4 125.4h.1M81.9 122.5h.1M59.2 158.8h.1M26.8 104.8h.1M51.8 142.0h.1M40.7 147.5h.1M54.2 101.9h.1M12.8 98.2h.1M69.1 164.0h.1M53.4 50.7h.1M30.0 110.7h.1M97.7 95.4h.1M104.8 80.1h.1M68.3 124.5h.1M70.1 134.4h.1M85.3 91.8h.1M49.3 83.7h.1M93.1 108.9h.1M23.6 133.2h.1M103.8 106.8h.1M102.8 94.1h.1M56.9 139.8h.1M90.9 107.5h.1M63.4 116.0h.1M71.3 113.2h.1M71.1 160.1h.1M74.3 140.6h.1M100.7 108.7h.1M43.2 112.6h.1M35.0 122.8h.1M92.4 134.5h.1M75.8 124.4h.1M33.2 135.1h.1M50.9 130.1h.1M56.9 159.7h.1M47.2 66.7h.1M35.6 135.1h.1M37.9 103.0h.1M50.0 110.9h.1M54.5 153.2h.1M34.9 49.1h.1M80.3 111.5h.1M75.7 95.3h.1M57.2 99.9h.1M25.1 130.6h.1M70.8 89.1h.1M27.6 138.9h.1M27.0 113.3h.1M85.9 147.6h.1M57.2 54.4h.1M104.1 78.6h.1M25.2 96.0h.1M43.6 73.5h.1M67.6 112.1h.1M38.0 122.6h.1M21.3 132.2h.1M109.0 87.0h.1M33.8 101.3h.1M43.0 119.0h.1M69.0 117.5h.1M73.9 147.2h.1M61.9 132.7h.1M112.1 89.6h.1M56.0 110.9h.1M102.0 114.1h.1M66.3 140.2h.1M26.0 117.7h.1M75.0 159.3h.1M15.0 110.5h.1M52.8 92.5h.1M40.8 130.0h.1M37.6 80.5h.1M85.7 130.2h.1M22.7 117.8h.1M69.5 125.4h.1M34.1 96.4h.1M16.1 118.6h.1M33.1 92.0h.1M71.9 158.6h.1M96.7 114.6h.1M49.7 157.5h.1M11.0 112.3h.1M60.7 120.8h.1M49.7 111.3h.1M34.5 99.6h.1M117.0 85.0h.1M51.9 153.4h.1M66.0 118.4h.1M45.3 119.3h.1M46.5 124.8h.1M83.5 127.9h.1M40.5 80.1h.1M66.8 112.0h.1M69.1 145.5h.1M14.4 95.1h.1M58.8 121.4h.1M95.8 128.5h.1M90.6 89.4h.1M54.3 97.3h.1M44.4 53.2h.1M77.0 155.6h.1M73.4 93.0h.1M64.3 146.0h.1M41.0 94.8h.1M89.5 128.3h.1M46.5 121.7h.1M73.2 126.7h.1M63.2 126.4h.1M63.4 165.8h.1M29.3 95.1h.1M61.9 115.1h.1M81.2 132.3h.1M36.9 47.3h.1M15.8 106.6h.1M86.3 98.9h.1M24.2 124.2h.1M52.4 53.3h.1M86.4 140.0h.1M105.8 91.8h.1M40.9 92.4h.1M13.4 114.8h.1M72.8 95.1h.1M60.8 152.9h.1M112.4 90.9h.1M44.7 86.9h.1M56.5 158.7h.1M40.7 88.0h.1M98.6 106.2h.1M47.1 87.7h.1M62.7 148.0h.1M34.6 103.5h.1M90.1 126.8h.1M71.7 109.3h.1M93.4 97.5h.1M99.4 130.0h.1M94.0 135.7h.1M97.4 123.6h.1M96.6 119.0h.1M85.1 101.2h.1M43.1 143.6h.1M90.7 91.0h.1M56.2 92.4h.1M63.5 156.1h.1M90.3 138.5h.1M82.8 116.4h.1M60.0 143.9h.1M96.6 118.0h.1M32.7 129.8h.1M21.3 91.3h.1M87.9 100.5h.1M61.0 123.5h.1M81.9 141.5h.1M51.3 52.5h.1M77.1 144.6h.1M49.5 110.7h.1M45.6 88.8h.1M22.6 102.0h.1M28.1 108.8h.1M66.8 105.6h.1M71.4 130.5h.1M53.1 85.9h.1M40.1 113.9h.1M24.2 135.3h.1M21.7 129.4h.1M86.2 91.3h.1M43.8 71.2h.1M50.9 113.4h.1M100.6 84.2h.1M50.8 130.8h.1M47.0 157.3h.1M64.0 98.3h.1M78.7 142.1h.1M36.5 140.0h.1M41.2 99.6h.1M97.4 91.2h.1M50.2 122.7h.1M40.9 115.7h.1M40.9 107.7h.1M79.2 141.1h.1M41.1 106.8h.1M44.9 118.1h.1M87.6 105.3h.1M18.9 92.8h.1M56.8 116.6h.1M19.6 106.5h.1M95.3 135.4h.1M23.8 94.3h.1M21.0 113.9h.1M77.0 135.2h.1M70.9 152.9h.1M87.9 96.8h.1M41.5 143.8h.1M36.7 129.5h.1M56.1 128.9h.1M37.8 109.1h.1M114.3 89.0h.1M62.7 138.6h.1M89.6 118.4h.1M46.3 101.1h.1M37.6 89.5h.1M80.0 104.4h.1M92.5 95.0h.1M27.4 96.0h.1M39.7 120.8h.1M103.7 96.9h.1M20.9 108.9h.1M48.4 106.4h.1M64.2 148.8h.1M24.0 122.4h.1M40.1 57.7h.1M25.7 127.8h.1M58.5 116.2h.1M98.4 129.2h.1M62.3 125.4h.1M45.1 49.4h.1M76.9 139.4h.1M89.8 144.6h.1M38.6 132.4h.1M22.0 105.1h.1M53.3 125.2h.1M79.8 154.9h.1M101.5 91.4h.1M57.7 148.9h.1M32.4 136.8h.1M106.0 94.6h.1M55.0 90.4h.1M102.8 95.7h.1M88.4 114.2h.1M87.4 118.6h.1M91.5 98.5h.1M40.9 92.0h.1M101.5 125.7h.1M42.4 126.4h.1M100.7 122.7h.1M30.8 108.1h.1M29.7 139.4h.1M23.5 116.1h.1M113.4 84.1h.1M78.4 158.2h.1M47.7 51.6h.1M96.3 135.6h.1M115.0 82.6h.1M43.2 46.3h.1M74.5 123.0h.1M33.1 142.7h.1M94.7 99.6h.1M30.7 88.6h.1M46.3 121.8h.1M55.6 134.0h.1M32.9 139.6h.1M87.4 144.7h.1M48.0 118.5h.1M57.7 129.0h.1M81.7 93.1h.1M21.4 125.0h.1M83.4 151.7h.1M74.3 109.7h.1M35.5 53.4h.1M70.8 147.3h.1M30.7 117.1h.1M102.6 89.9h.1M85.7 109.6h.1M62.8 106.0h.1M22.7 95.5h.1M24.9 110.6h.1M76.9 112.1h.1M106.2 87.2h.1M70.0 143.4h.1M106.2 95.7h.1M55.8 147.0h.1M31.9 103.0h.1M37.8 140.2h.1M93.7 131.7h.1M28.8 105.9h.1M94.7 117.2h.1M37.4 93.1h.1M36.9 58.0h.1M72.1 104.6h.1M40.7 114.8h.1M65.7 93.1h.1M23.2 134.5h.1M84.3 123.3h.1M67.5 100.4h.1M53.9 144.2h.1M35.3 80.9h.1M57.2 142.8h.1M78.8 133.9h.1M57.0 94.8h.1M55.1 91.0h.1M62.0 157.0h.1M16.4 115.4h.1M68.2 101.7h.1M69.8 115.1h.1M99.8 83.2h.1M47.1 144.7h.1M17.7 102.5h.1M51.1 99.5h.1M68.7 166.5h.1M51.8 48.8h.1M95.6 126.3h.1M27.6 123.5h.1M29.7 132.5h.1M34.4 95.3h.1M38.8 95.5h.1M15.3 103.2h.1M53.4 96.6h.1M45.7 55.5h.1M31.6 107.1h.1M63.7 136.2h.1M49.7 79.3h.1M61.0 149.7h.1M35.6 118.2h.1M39.6 65.2h.1M48.1 103.5h.1M65.4 160.7h.1M64.8 158.5h.1M57.8 129.7h.1M57.5 108.3h.1M49.7 128.0h.1M96.7 132.4h.1M73.9 140.6h.1M18.6 116.6h.1M51.2 132.8h.1M51.7 133.3h.1M40.2 115.2h.1M42.3 138.8h.1M30.0 95.9h.1M112.1 79.8h.1M91.8 87.1h.1M58.3 150.2h.1M50.2 85.4h.1M59.1 162.8h.1M57.8 148.0h.1M30.2 125.8h.1M19.9 103.8h.1M48.3 51.6h.1M80.1 127.1h.1M31.8 129.1h.1M31.3 105.9h.1M12.8 96.6h.1M28.0 117.0h.1M60.7 113.1h.1M75.4 154.2h.1M49.1 95.0h.1M72.5 94.5h.1M37.6 133.9h.1M84.1 98.3h.1M53.6 110.2h.1M41.7 95.4h.1M41.1 100.1h.1M59.8 100.7h.1M26.4 105.7h.1M42.8 49.3h.1M47.6 55.6h.1M33.8 109.8h.1M11.5 105.5h.1M100.5 126.3h.1M62.6 159.6h.1M108.1 87.7h.1M33.7 96.5h.1M102.4 76.9h.1M36.7 117.1h.1M71.9 116.4h.1M28.0 126.9h.1M71.7 124.4h.1M44.1 155.4h.1M78.6 111.2h.1M26.6 83.7h.1M31.7 105.2h.1M32.3 108.7h.1M44.0 68.6h.1M49.3 90.5h.1M44.1 78.3h.1M32.7 142.0h.1M86.9 93.0h.1M54.2 136.2h.1M16.9 107.5h.1M59.3 150.4h.1M65.0 156.8h.1M60.3 99.1h.1M30.1 91.0h.1M47.4 46.9h.1M47.2 57.1h.1M89.4 122.4h.1M15.3 109.0h.1M47.2 133.3h.1M77.9 103.1h.1M91.5 144.1h.1M86.0 95.5h.1M22.6 119.1h.1M32.1 123.1h.1M70.7 139.4h.1M80.1 118.6h.1M93.8 127.1h.1M21.6 113.1h.1M106.7 84.7h.1M22.1 104.9h.1M44.1 127.6h.1M98.5 128.4h.1M95.7 91.2h.1M92.8 105.4h.1M68.5 108.9h.1M42.6 127.1h.1M45.2 144.9h.1M68.8 91.7h.1M61.4 155.9h.1M78.9 100.7h.1M101.8 90.7h.1M60.7 116.6h.1M58.2 46.2h.1M73.5 104.0h.1M42.1 110.1h.1M76.2 119.8h.1M71.2 160.7h.1M76.6 108.4h.1M59.0 131.9h.1M70.0 135.3h.1M75.1 91.1h.1M80.8 98.9h.1M77.6 153.6h.1M80.2 109.7h.1M81.6 93.1h.1M49.2 108.4h.1M59.0 130.1h.1M16.9 117.7h.1M89.4 88.0h.1M69.5 167.1h.1M105.4 84.7h.1M38.4 72.2h.1M10.7 106.0h.1M27.1 130.2h.1M104.9 82.0h.1M114.8 89.9h.1M45.3 64.6h.1M53.1 132.5h.1M32.0 82.3h.1M37.0 142.9h.1M51.7 135.4h.1M18.3 118.0h.1M18.8 110.2h.1M88.4 107.2h.1M45.9 101.8h.1M55.5 98.7h.1M102.7 81.1h.1M34.0 105.7h.1M16.0 103.5h.1M68.1 140.4h.1M96.1 114.8h.1M23.7 116.0h.1M69.7 103.9h.1M56.1 116.1h.1M16.9 125.6h.1M84.9 122.7h.1M59.9 96.0h.1M52.8 50.5h.1M53.1 107.6h.1M89.8 129.9h.1M30.7 109.4h.1M26.5 133.0h.1M28.1 100.9h.1M68.6 154.1h.1M21.7 129.6h.1M81.2 110.1h.1M90.9 133.8h.1M92.5 139.6h.1M69.3 109.7h.1M35.3 137.3h.1M76.7 160.5h.1M34.5 102.5h.1M51.1 141.5h.1M87.0 117.5h.1M65.1 152.2h.1M101.9 123.3h.1M14.2 96.3h.1M81.8 125.4h.1M37.3 124.2h.1M33.1 132.4h.1M71.4 109.5h.1M18.9 110.1h.1M68.0 146.1h.1M83.1 93.2h.1M25.2 124.8h.1M56.5 137.4h.1M70.3 126.8h.1M90.6 87.7h.1M23.5 121.7h.1M98.9 117.1h.1M42.0 151.5h.1M62.3 112.0h.1M96.4 116.7h.1M93.1 133.0h.1M111.8 79.5h.1M66.7 112.7h.1M56.6 133.5h.1M30.1 119.6h.1M18.0 125.8h.1M25.2 128.3h.1M15.1 94.0h.1M21.3 122.5h.1M38.8 99.6h.1M22.6 127.1h.1M16.8 111.6h.1M35.9 91.0h.1M51.1 50.4h.1M70.9 162.0h.1M82.8 144.6h.1M34.7 94.5h.1M38.8 134.3h.1M72.3 115.7h.1M32.7 116.5h.1M63.9 158.2h.1M110.9 80.5h.1M94.7 111.6h.1M76.7 124.0h.1M100.2 99.4h.1M34.2 143.4h.1M29.5 121.8h.1M60.3 125.0h.1M48.2 144.1h.1M53.7 46.8h.1M60.2 165.3h.1M96.7 109.2h.1M100.3 127.1h.1M80.0 152.8h.1M56.1 124.0h.1M34.3 128.5h.1M22.3 126.6h.1M42.9 130.1h.1M50.3 121.0h.1M30.7 113.2h.1M69.7 118.0h.1M35.7 126.9h.1M83.7 125.7h.1M37.4 115.2h.1M65.2 145.8h.1M59.1 111.2h.1M101.8 100.1h.1M86.1 93.3h.1M42.4 49.1h.1M48.1 99.5h.1M63.4 149.8h.1M100.3 127.3h.1M62.8 134.8h.1M107.1 80.5h.1M51.0 133.8h.1M85.0 98.8h.1M94.8 99.8h.1M73.2 120.5h.1M91.9 123.0h.1M37.6 116.1h.1M55.3 130.4h.1M44.0 63.9h.1M50.9 146.0h.1M57.6 126.1h.1M27.5 97.0h.1M66.7 92.5h.1M91.1 135.8h.1M35.1 70.4h.1M37.5 105.9h.1M92.8 123.2h.1M42.8 143.3h.1M101.3 102.2h.1M44.5 48.9h.1M65.0 150.1h.1M88.5 111.2h.1M72.3 122.8h.1M13.7 115.2h.1M47.2 152.3h.1M22.7 130.9h.1M71.3 163.1h.1M42.5 80.5h.1M37.2 116.5h.1M45.5 144.9h.1M18.8 95.4h.1M98.8 119.5h.1M39.5 89.8h.1M29.1 89.1h.1M31.4 123.9h.1M57.8 147.7h.1M48.1 107.8h.1M85.3 124.5h.1M46.9 44.1h.1M50.7 79.4h.1M45.2 55.8h.1M16.4 94.7h.1M57.6 129.7h.1M51.0 156.4h.1M50.4 103.1h.1M36.2 72.9h.1M44.4 144.0h.1M73.8 143.0h.1M62.9 132.5h.1M73.0 107.2h.1M51.1 122.1h.1M96.0 133.1h.1M46.4 143.1h.1M113.8 83.5h.1M34.7 53.3h.1M73.7 158.8h.1M24.1 88.3h.1M113.9 91.2h.1M49.2 122.1h.1M46.7 102.6h.1M43.3 131.4h.1M19.4 126.9h.1M32.1 101.1h.1M57.0 98.3h.1M75.2 161.3h.1M49.8 46.7h.1M87.5 140.7h.1M36.2 47.1h.1M11.4 108.2h.1M25.2 97.8h.1M22.0 115.0h.1M44.4 116.2h.1M54.8 48.1h.1M102.1 97.2h.1M37.0 71.2h.1M44.4 127.4h.1M60.5 134.3h.1M59.5 53.3h.1M82.1 96.4h.1M68.3 104.5h.1M106.3 80.4h.1M113.5 80.0h.1M34.0 102.0h.1M51.3 126.6h.1M93.8 133.8h.1M65.6 117.0h.1M34.8 48.2h.1M85.0 137.3h.1M70.0 152.0h.1M27.9 112.5h.1M51.7 51.6h.1M35.2 131.8h.1M35.5 84.0h.1M23.0 130.6h.1M38.3 133.3h.1M50.0 135.3h.1M68.6 121.5h.1M54.7 94.2h.1M30.5 111.4h.1M38.0 102.6h.1M54.1 106.8h.1M45.7 149.6h.1M95.4 96.2h.1M97.2 127.2h.1M24.0 116.0h.1M91.5 117.8h.1M61.8 165.2h.1M11.9 101.0h.1M51.4 44.3h.1M34.0 97.4h.1M85.7 130.6h.1M69.0 131.2h.1M46.3 82.1h.1M11.0 107.4h.1M113.8 82.8h.1M34.4 136.9h.1M103.1 83.9h.1M59.1 53.4h.1M66.5 115.2h.1M29.4 108.5h.1M62.0 127.4h.1M95.9 131.4h.1M54.5 132.9h.1M98.8 126.5h.1M19.7 93.1h.1M76.1 106.4h.1M18.6 101.3h.1M53.9 102.2h.1M85.4 132.0h.1M30.6 117.7h.1M20.8 107.6h.1M101.0 120.7h.1M53.3 52.4h.1M52.0 47.8h.1M109.5 91.4h.1M95.8 87.3h.1M50.4 130.1h.1M57.7 94.5h.1M103.9 111.6h.1M51.4 99.6h.1M41.1 71.1h.1M52.7 125.3h.1M31.1 90.6h.1M59.4 133.5h.1M59.8 90.2h.1M62.5 152.4h.1M70.9 150.7h.1M40.3 104.2h.1M30.1 141.1h.1M47.8 101.2h.1M66.5 150.0h.1M51.4 108.4h.1M104.2 80.9h.1M55.4 155.7h.1M47.1 120.1h.1M22.0 122.6h.1M60.8 152.8h.1M68.2 155.0h.1M38.1 146.3h.1M34.1 114.5h.1M89.8 92.9h.1M92.3 130.5h.1M47.1 95.4h.1M43.7 87.0h.1M64.7 156.3h.1M41.9 59.5h.1M19.8 93.0h.1M19.2 97.9h.1M33.1 112.5h.1M111.8 83.0h.1M22.4 110.4h.1M47.3 97.8h.1M40.5 62.1h.1M115.6 90.6h.1M96.2 109.2h.1M62.0 110.9h.1M58.3 160.0h.1M84.8 98.5h.1M74.6 107.4h.1M80.7 118.7h.1M33.0 119.2h.1M104.2 104.3h.1M63.6 141.6h.1M61.8 119.5h.1M62.3 142.9h.1M51.1 132.4h.1M92.2 107.0h.1M83.8 139.0h.1M49.5 158.8h.1M93.9 100.8h.1M42.8 83.0h.1M41.1 46.1h.1M64.3 166.4h.1M63.2 164.7h.1M77.4 151.6h.1M63.6 130.5h.1M74.1 106.0h.1M58.2 49.5h.1M36.3 145.4h.1M38.9 117.3h.1M38.6 52.9h.1M54.9 99.3h.1M69.5 128.8h.1M60.8 150.6h.1M39.7 44.0h.1M105.0 94.1h.1M70.7 160.3h.1M45.8 77.8h.1M49.1 45.5h.1M80.0 129.8h.1M45.3 100.0h.1M95.7 95.3h.1M87.2 96.9h.1M71.9 145.1h.1M47.9 57.1h.1M30.0 88.5h.1M78.4 108.0h.1M47.5 148.0h.1M85.2 146.1h.1M62.7 146.3h.1M69.6 164.2h.1M37.9 57.9h.1M87.5 115.1h.1M94.4 127.9h.1M43.2 138.1h.1M85.8 130.2h.1M36.2 80.8h.1M20.3 96.7h.1M46.2 86.1h.1M53.8 162.1h.1M66.0 109.2h.1M96.1 106.6h.1M91.4 106.7h.1M52.8 141.9h.1M93.4 124.6h.1M38.3 93.4h.1M37.9 139.3h.1M27.9 134.6h.1M39.5 87.0h.1M103.4 108.4h.1M60.5 132.2h.1M52.3 111.0h.1M64.5 148.4h.1M19.0 101.0h.1M57.9 118.9h.1M50.2 53.0h.1M55.3 109.8h.1M30.1 116.9h.1M28.1 95.4h.1M82.7 124.3h.1M72.9 136.0h.1M107.3 91.1h.1M58.1 138.8h.1M46.4 56.5h.1M40.0 129.7h.1M60.1 112.5h.1M20.3 88.5h.1M34.3 83.2h.1M41.9 70.8h.1M73.8 113.7h.1M40.2 45.9h.1M43.8 69.1h.1M68.7 131.0h.1M93.2 102.1h.1M19.0 124.3h.1M42.6 49.1h.1M72.6 151.9h.1M109.1 83.2h.1M64.1 115.2h.1M86.5 150.4h.1M35.5 143.4h.1M38.2 140.3h.1M99.0 105.0h.1M12.6 112.3h.1M65.8 149.9h.1M49.7 118.0h.1M75.0 136.9h.1M38.9 53.2h.1M44.6 82.9h.1M33.4 88.2h.1M45.7 143.4h.1M69.8 156.9h.1M60.7 153.3h.1M84.3 138.5h.1M69.0 137.9h.1M72.1 146.9h.1M48.7 43.9h.1M22.4 98.8h.1M89.7 116.8h.1M80.1 145.1h.1M29.1 81.3h.1M63.0 121.7h.1M50.0 98.2h.1M43.0 114.8h.1M38.7 51.7h.1M111.2 82.8h.1M102.0 122.0h.1M39.6 89.9h.1M53.4 57.4h.1M34.6 106.7h.1M14.4 111.6h.1M35.8 122.3h.1M65.3 126.9h.1M89.6 137.3h.1M52.3 161.8h.1M30.8 129.7h.1M30.2 120.4h.1M95.3 91.7h.1M47.0 118.4h.1M45.0 125.8h.1M84.9 148.2h.1M29.0 102.5h.1M14.7 96.6h.1M85.9 124.2h.1M55.1 160.5h.1M26.1 103.2h.1M95.4 116.7h.1M70.1 105.8h.1M44.6 145.6h.1M35.5 116.5h.1M68.8 129.8h.1M105.7 94.3h.1M66.1 138.6h.1M29.8 104.3h.1M31.5 88.7h.1M78.9 107.0h.1M57.5 131.3h.1M65.5 90.6h.1M98.5 97.8h.1M73.0 109.2h.1M93.4 127.4h.1M72.6 153.1h.1M50.6 88.8h.1M112.2 88.2h.1M74.9 92.9h.1M19.1 92.2h.1M96.9 99.9h.1M90.4 121.3h.1M62.0 139.9h.1M23.5 128.0h.1M75.7 157.3h.1M45.6 73.0h.1M116.6 85.1h.1M84.9 120.5h.1M45.8 146.6h.1M88.4 146.2h.1M103.6 111.7h.1M45.8 50.9h.1M56.3 125.2h.1M31.5 104.0h.1M62.7 133.4h.1M95.9 83.7h.1M88.7 142.9h.1M47.4 108.6h.1M28.8 131.2h.1M32.4 82.1h.1M77.6 114.4h.1M67.0 120.4h.1M58.0 111.7h.1M117.0 82.6h.1M46.2 115.7h.1M81.5 113.0h.1M45.8 124.2h.1M49.7 106.2h.1M92.5 87.8h.1M63.7 122.1h.1M115.1 86.6h.1M53.9 156.1h.1M35.5 141.1h.1M47.6 146.1h.1M67.4 110.5h.1M59.3 101.2h.1M51.0 159.9h.1M62.7 129.9h.1M43.1 57.9h.1M98.0 106.6h.1M94.1 127.5h.1M20.4 127.9h.1M112.1 90.9h.1M68.5 137.7h.1M98.5 114.0h.1M34.0 142.3h.1M54.9 151.3h.1M26.5 107.9h.1M78.6 108.0h.1M55.1 157.7h.1M64.3 159.2h.1M39.5 53.3h.1M66.2 156.2h.1M58.0 44.7h.1M83.3 139.3h.1M34.6 112.9h.1M34.8 121.5h.1M19.0 91.5h.1M79.1 127.9h.1M14.9 110.2h.1M42.8 101.7h.1M56.7 149.5h.1M31.9 92.5h.1M46.7 132.3h.1M64.5 121.8h.1M36.5 137.9h.1M78.0 142.7h.1M56.8 121.5h.1M34.2 131.6h.1M59.2 112.1h.1M70.1 122.6h.1M52.0 159.6h.1M57.5 89.9h.1M79.5 105.6h.1M95.9 136.0h.1M43.7 94.4h.1M45.2 70.1h.1M59.1 111.6h.1M28.4 128.6h.1M33.1 96.8h.1M93.6 141.9h.1M31.3 124.9h.1M66.8 158.5h.1M42.5 133.4h.1M56.6 153.9h.1M41.1 57.3h.1M81.2 107.2h.1M55.0 114.1h.1M44.5 88.9h.1M78.1 146.3h.1M73.6 91.8h.1M40.4 107.0h.1M72.7 102.5h.1M83.3 123.4h.1M46.3 140.7h.1M43.2 96.8h.1M22.0 113.4h.1M66.9 92.1h.1M27.7 136.6h.1M90.7 142.6h.1M75.4 155.6h.1M51.3 89.2h.1M110.1 90.2h.1M95.7 130.5h.1M102.8 112.6h.1M79.6 153.5h.1M86.2 100.6h.1M32.9 96.9h.1M62.8 114.8h.1M62.5 149.1h.1M73.2 138.4h.1M93.3 115.1h.1M47.4 110.4h.1M61.3 160.5h.1M51.5 126.4h.1M43.6 49.1h.1M23.6 125.9h.1M97.5 83.5h.1M64.0 106.1h.1M36.5 97.4h.1M51.9 139.6h.1M21.7 88.1h.1M24.2 96.6h.1M92.6 88.6h.1M97.0 117.2h.1M65.9 157.0h.1M70.9 105.1h.1M84.0 121.6h.1M62.3 159.9h.1M32.4 108.8h.1M59.2 149.1h.1M46.5 57.3h.1M58.3 119.1h.1M57.6 91.6h.1M45.5 107.5h.1M47.1 49.7h.1M30.9 83.0h.1M46.9 78.2h.1M100.5 113.2h.1M43.2 51.4h.1M88.6 145.9h.1M87.9 130.1h.1M76.4 101.2h.1M61.3 119.4h.1M46.3 113.0h.1M28.5 131.6h.1M28.3 136.8h.1M42.3 104.3h.1M52.9 128.7h.1M69.6 132.4h.1M52.9 159.8h.1M54.6 158.6h.1M38.5 132.8h.1M54.2 127.3h.1M43.1 84.7h.1M37.4 149.2h.1M81.7 124.5h.1M40.0 138.7h.1M32.5 138.7h.1M79.9 122.0h.1M82.9 134.8h.1M100.4 105.2h.1M32.9 120.2h.1M55.6 105.5h.1M55.1 117.6h.1M32.7 103.6h.1M39.8 135.9h.1M42.7 150.1h.1M100.8 112.2h.1M60.8 110.9h.1M50.3 103.9h.1M109.5 91.4h.1M41.6 136.8h.1M73.0 137.0h.1M42.9 150.5h.1M95.3 134.1h.1M35.0 123.0h.1M89.6 132.4h.1M67.7 127.1h.1M40.8 95.8h.1M63.0 154.1h.1M30.9 122.4h.1M67.5 167.0h.1M73.6 135.1h.1M51.1 160.0h.1M62.4 90.5h.1M47.2 149.9h.1M100.3 107.9h.1M44.7 56.7h.1M80.1 149.7h.1M28.8 100.6h.1M57.8 109.4h.1M54.2 115.0h.1M42.0 95.1h.1M26.7 102.3h.1M89.4 106.0h.1M40.8 94.3h.1M82.0 121.0h.1M50.0 124.6h.1M34.5 76.2h.1M42.0 118.2h.1M44.1 119.0h.1M95.1 97.0h.1M81.9 142.8h.1M26.4 131.8h.1M41.6 53.0h.1M69.5 124.1h.1M37.1 56.9h.1M37.8 109.4h.1M58.2 146.6h.1M27.0 87.4h.1M46.0 83.4h.1M79.3 104.7h.1M45.1 156.8h.1M57.1 95.3h.1M16.1 105.3h.1M81.8 111.2h.1M54.3 49.0h.1M35.8 67.6h.1M86.1 146.3h.1M92.2 122.4h.1M25.1 89.5h.1M30.4 130.6h.1M31.7 142.8h.1M71.1 105.8h.1M27.8 97.6h.1M83.9 140.3h.1M91.2 88.0h.1M64.8 115.0h.1M29.1 105.5h.1M113.5 83.0h.1M76.9 101.4h.1M85.1 115.3h.1M42.4 71.5h.1M95.1 105.5h.1M60.1 155.7h.1M68.5 139.0h.1M28.6 99.2h.1M33.6 102.3h.1M70.6 116.8h.1M67.5 137.2h.1M64.6 164.7h.1M92.3 115.3h.1M42.6 95.9h.1M61.0 102.0h.1M66.7 162.9h.1M98.7 80.9h.1M61.6 160.5h.1M11.3 107.1h.1M42.8 137.4h.1M19.3 100.9h.1M43.6 93.0h.1M45.3 155.4h.1M85.1 119.3h.1M88.6 131.6h.1M63.3 134.7h.1M19.3 100.4h.1M76.4 108.5h.1M62.1 162.8h.1M34.9 131.4h.1M51.5 56.9h.1M103.1 80.1h.1M38.6 101.9h.1M48.5 92.0h.1M92.5 117.4h.1M89.9 95.4h.1M44.2 106.1h.1M38.0 123.2h.1M44.6 64.8h.1M57.8 129.1h.1M103.9 112.8h.1M48.2 146.9h.1M95.6 123.0h.1M38.3 149.1h.1M82.4 146.3h.1M67.7 160.1h.1M57.2 142.8h.1M42.2 126.3h.1M63.2 129.4h.1M27.0 99.5h.1M51.8 88.8h.1M105.6 80.8h.1M112.1 90.6h.1M67.6 124.3h.1M43.7 100.0h.1M51.2 135.8h.1M36.8 109.1h.1M44.6 115.6h.1M81.3 146.6h.1M93.7 128.3h.1M93.6 85.4h.1M40.0 150.5h.1M49.2 87.2h.1M96.6 104.9h.1M26.7 135.2h.1M32.9 84.8h.1M62.6 104.5h.1M95.6 93.1h.1M79.1 106.6h.1M15.9 107.8h.1M60.4 118.6h.1M17.0 105.1h.1M66.7 145.7h.1M115.1 85.0h.1M114.2 91.3h.1M37.9 125.6h.1M65.0 94.3h.1M28.6 81.8h.1M40.4 50.5h.1M79.7 105.3h.1M35.3 107.9h.1M89.2 104.4h.1M56.3 108.9h.1M79.0 146.9h.1M17.0 100.6h.1M53.8 144.4h.1M34.3 108.3h.1M43.4 51.9h.1M103.5 100.6h.1M33.7 106.8h.1M23.1 119.7h.1M51.3 140.7h.1M28.0 113.7h.1M89.3 109.0h.1M27.7 111.4h.1M63.6 133.2h.1M88.5 143.1h.1M109.3 94.2h.1M92.5 140.2h.1M58.0 119.3h.1M66.4 149.6h.1M18.4 105.3h.1M50.8 95.2h.1M28.6 83.0h.1M34.7 79.3h.1M82.9 98.7h.1M113.3 85.8h.1M58.7 160.2h.1M98.8 82.0h.1M38.4 145.2h.1M82.8 128.2h.1M102.3 116.4h.1M84.2 150.2h.1M37.4 136.8h.1M91.3 113.0h.1M47.8 100.1h.1M22.3 133.9h.1M79.0 113.2h.1M65.9 145.5h.1M92.7 117.0h.1M68.7 100.2h.1M55.0 114.4h.1M31.1 92.2h.1M74.0 133.7h.1M24.0 127.8h.1M98.4 112.3h.1M94.0 106.3h.1M66.8 136.8h.1M23.1 103.3h.1M48.4 110.4h.1M19.5 89.0h.1M35.9 124.8h.1M65.1 162.1h.1M55.2 154.8h.1M44.0 138.5h.1M39.0 108.6h.1M53.3 82.3h.1M40.2 126.8h.1M80.6 154.9h.1M40.2 92.2h.1M41.4 133.8h.1M53.9 45.9h.1M40.9 145.4h.1M95.7 129.1h.1M47.6 104.7h.1M70.0 109.3h.1M35.1 86.5h.1M80.6 144.0h.1M51.6 128.6h.1M87.8 99.5h.1M28.3 86.4h.1M54.7 89.2h.1M35.2 52.9h.1M79.9 141.9h.1M78.1 124.1h.1M83.5 99.6h.1M43.9 96.8h.1M72.6 159.8h.1M107.9 80.5h.1M59.0 96.9h.1M17.4 112.4h.1M84.1 126.4h.1M98.9 91.8h.1M86.8 140.3h.1M44.1 129.8h.1M102.9 100.9h.1M68.6 113.9h.1M30.1 92.0h.1M95.0 113.5h.1M29.1 86.6h.1M35.0 143.7h.1M74.1 161.4h.1M56.4 55.2h.1M89.8 127.3h.1M50.0 104.5h.1M20.2 97.0h.1M77.6 99.7h.1M62.3 111.3h.1M44.6 74.4h.1M48.6 77.4h.1M41.8 134.4h.1M50.6 144.4h.1M26.4 127.7h.1M71.1 155.8h.1M104.6 85.5h.1M19.7 129.7h.1M39.6 150.9h.1M65.8 140.8h.1M85.7 103.0h.1M33.8 132.8h.1M40.5 133.2h.1M33.9 99.3h.1M53.1 88.4h.1M17.7 111.9h.1M96.9 137.1h.1M27.5 121.9h.1M53.8 143.0h.1M103.6 117.0h.1M114.5 86.6h.1M42.2 99.8h.1M94.4 81.1h.1M22.5 92.3h.1M43.1 43.8h.1M76.3 126.3h.1M32.0 105.6h.1M65.8 95.9h.1M107.3 86.6h.1M97.0 112.4h.1M86.8 108.4h.1M70.1 135.9h.1M62.0 156.9h.1M84.7 109.7h.1M99.3 99.7h.1M49.4 100.2h.1M41.2 86.9h.1M43.5 54.2h.1M53.1 124.5h.1M92.8 110.8h.1M88.8 114.9h.1M57.2 148.9h.1M73.0 130.6h.1M87.1 118.0h.1M72.2 129.4h.1M50.5 48.2h.1M76.7 151.6h.1M78.3 112.6h.1M40.6 97.5h.1M97.8 85.7h.1M67.3 103.2h.1M42.4 44.0h.1M47.8 158.2h.1M65.7 128.6h.1M14.1 117.1h.1M15.8 109.5h.1M35.3 77.3h.1M101.2 115.2h.1M93.0 82.4h.1M42.9 141.7h.1M28.9 130.6h.1M59.3 150.9h.1M34.4 120.5h.1M78.6 125.3h.1M42.5 142.0h.1M86.3 94.4h.1M109.1 84.8h.1M74.3 148.4h.1M54.5 104.2h.1M79.6 156.6h.1M53.7 136.0h.1M32.9 132.6h.1M96.4 86.7h.1M17.5 105.7h.1M25.8 95.9h.1M46.8 144.3h.1M72.9 120.6h.1M58.0 144.7h.1M85.3 134.8h.1M110.3 89.1h.1M51.0 55.7h.1M21.8 100.3h.1M50.0 132.3h.1M42.8 104.9h.1M73.3 100.8h.1M110.7 89.9h.1M36.4 125.8h.1M78.7 113.2h.1M35.0 105.0h.1M45.0 117.1h.1M54.0 112.0h.1M68.2 109.0h.1M88.0 93.2h.1M37.4 143.6h.1M52.1 47.4h.1M29.2 103.7h.1M22.0 105.1h.1M34.0 80.7h.1M52.4 112.9h.1M33.7 119.6h.1M23.1 111.1h.1M54.2 123.4h.1M49.4 56.2h.1M62.0 112.5h.1M68.5 140.3h.1M52.7 123.1h.1M100.4 88.0h.1M64.9 105.8h.1M75.9 149.1h.1M76.6 110.6h.1M85.2 126.5h.1M57.6 117.4h.1M54.2 87.3h.1M20.0 110.8h.1M44.6 51.5h.1M70.3 97.4h.1M68.6 106.7h.1M34.9 117.8h.1M43.0 88.9h.1M48.9 84.9h.1M92.2 138.8h.1M88.7 127.6h.1M65.3 131.9h.1M79.4 150.3h.1M51.7 134.9h.1M93.8 110.1h.1M67.5 148.6h.1M40.3 141.8h.1M70.3 109.3h.1M52.0 96.3h.1M73.5 144.3h.1M85.8 135.0h.1M28.8 98.9h.1M84.9 96.5h.1M67.4 155.3h.1M67.7 133.1h.1M86.6 120.6h.1M22.3 114.8h.1M40.9 107.9h.1M77.2 144.9h.1M80.9 115.7h.1M81.2 111.0h.1M83.6 115.9h.1M81.7 125.7h.1M76.9 123.9h.1M79.4 123.9h.1M79.5 121.1h.1M72.3 109.5h.1M71.3 112.3h.1M70.5 106.9h.1M72.7 110.8h.1M71.2 109.6h.1M63.9 138.0h.1M66.0 140.9h.1M59.1 141.8h.1M62.5 120.9h.1M62.7 119.4h.1M60.8 124.2h.1M69.9 142.9h.1M75.7 141.3h.1M69.3 141.4h.1M42.2 71.5h.1M45.9 71.0h.1M43.4 73.0h.1M43.5 71.4h.1M43.2 69.9h.1M69.5 168.8h.1M43.2 106.6h.1M40.9 107.4h.1M37.4 108.7h.1M42.1 108.7h.1M40.3 107.4h.1M115.0 87.1h.1M114.9 87.9h.1M115.3 89.2h.1M32.4 107.6h.1M34.4 109.6h.1M33.9 102.9h.1M34.4 106.8h.1M36.5 105.8h.1M35.4 106.7h.1M58.5 101.1h.1M61.9 103.8h.1M61.9 101.6h.1M60.8 103.8h.1M61.6 101.6h.1M62.8 101.9h.1M64.8 106.5h.1M60.2 104.3h.1M63.7 106.3h.1M53.8 57.4h.1M49.9 55.5h.1M49.9 58.3h.1M49.4 58.1h.1M45.5 81.6h.1M42.0 76.8h.1M44.6 77.9h.1M80.9 141.1h.1M82.2 143.2h.1M80.8 144.8h.1M76.4 132.8h.1M74.2 134.4h.1M73.9 131.8h.1M75.4 134.4h.1M75.1 132.4h.1M55.2 153.1h.1M57.9 155.4h.1M56.0 152.0h.1M54.0 153.9h.1M55.0 151.5h.1M58.1 153.4h.1M34.6 128.2h.1M36.3 127.0h.1M34.3 125.3h.1M38.1 124.5h.1M35.5 126.5h.1M17.3 92.7h.1M16.7 107.9h.1M16.8 106.1h.1M15.2 110.0h.1M28.8 92.2h.1M26.8 95.3h.1M27.0 91.6h.1M86.0 102.1h.1M85.7 98.8h.1M82.1 97.5h.1M42.9 54.2h.1M43.9 55.6h.1M82.8 100.0h.1M83.7 99.6h.1M85.0 94.2h.1M53.5 161.1h.1M55.9 156.8h.1M55.8 160.2h.1M56.2 158.6h.1M54.6 159.7h.1M56.3 159.8h.1M43.8 114.6h.1M42.2 116.3h.1M43.5 115.9h.1M41.1 114.9h.1M41.9 117.6h.1M42.2 111.3h.1M70.8 115.9h.1M68.1 115.5h.1M71.3 115.6h.1M69.6 116.1h.1M71.5 139.0h.1M67.7 137.6h.1M71.2 138.6h.1M60.0 114.8h.1M56.9 114.4h.1M57.9 113.6h.1M58.6 116.0h.1M57.7 112.4h.1M60.8 114.9h.1M37.6 139.1h.1M38.2 140.6h.1M36.6 138.0h.1M86.4 119.3h.1M83.9 120.6h.1M85.3 104.0h.1M87.5 109.8h.1M84.6 106.2h.1M87.3 109.0h.1M88.1 106.3h.1M88.5 106.5h.1M15.4 93.3h.1M15.9 94.1h.1M16.0 94.6h.1M16.4 92.7h.1M18.2 95.1h.1M15.5 92.3h.1M43.5 112.4h.1M44.5 109.5h.1M41.2 113.5h.1M41.1 111.5h.1M42.0 110.5h.1M42.4 106.7h.1M84.9 126.3h.1M82.5 124.7h.1M84.5 128.0h.1M85.3 128.4h.1M84.5 96.1h.1M82.5 98.2h.1M82.4 96.6h.1M82.8 97.0h.1M82.0 99.5h.1M61.4 93.6h.1M57.7 94.9h.1M54.8 97.4h.1M60.6 97.0h.1M59.4 93.4h.1M84.9 130.3h.1M87.7 128.7h.1M85.5 129.8h.1M88.2 130.0h.1M84.3 126.7h.1M84.0 128.0h.1M47.2 118.0h.1M47.3 120.4h.1M48.1 120.9h.1M96.3 108.0h.1M97.2 108.2h.1M96.5 107.2h.1M52.9 127.2h.1M49.3 128.4h.1M51.1 128.6h.1M50.2 127.1h.1M50.5 127.5h.1M56.5 155.2h.1M55.7 154.5h.1M55.9 159.8h.1M52.4 155.8h.1M55.2 159.4h.1M54.2 159.3h.1M27.5 111.8h.1M28.5 111.3h.1M27.6 110.4h.1M28.8 113.0h.1M25.4 112.8h.1M27.7 114.5h.1M34.7 139.9h.1M38.9 137.5h.1M43.3 141.5h.1M38.2 138.0h.1M68.8 156.5h.1M68.3 158.5h.1M65.8 156.9h.1M69.6 159.5h.1M68.8 156.4h.1M53.1 143.9h.1M51.4 146.0h.1M49.3 147.9h.1M46.7 136.4h.1M45.5 134.7h.1M46.0 135.3h.1M25.0 102.0h.1M23.9 102.7h.1M23.4 100.3h.1M43.5 140.5h.1M44.8 140.7h.1M42.1 140.5h.1M39.5 137.0h.1M41.1 138.6h.1M43.8 133.5h.1M61.1 100.3h.1M58.9 100.1h.1M61.0 100.0h.1M60.3 98.7h.1M58.0 99.2h.1M56.6 100.0h.1M110.7 91.9h.1M113.9 90.8h.1M111.9 88.7h.1M80.1 145.6h.1M85.3 144.5h.1M84.6 142.5h.1M40.0 125.7h.1M39.6 123.3h.1M76.0 126.1h.1M75.7 127.8h.1M75.9 127.5h.1M77.1 127.7h.1M76.4 125.4h.1M77.0 123.7h.1M72.1 151.4h.1M74.6 153.2h.1M73.3 153.5h.1M73.9 148.7h.1M71.5 151.7h.1M70.2 150.7h.1M77.4 139.3h.1M77.6 138.4h.1M76.4 137.3h.1M71.8 137.4h.1M77.4 138.4h.1M77.0 134.5h.1M70.1 115.3h.1M68.0 116.8h.1M63.6 126.8h.1M65.2 127.2h.1M64.3 129.9h.1M63.8 125.8h.1M99.5 115.8h.1M97.9 115.6h.1M100.1 122.2h.1M97.6 118.0h.1M99.2 117.1h.1M101.5 118.5h.1M103.3 86.3h.1M101.8 85.8h.1M102.9 85.4h.1M101.4 82.8h.1M101.1 81.4h.1M100.6 85.9h.1M44.1 110.4h.1M46.0 110.1h.1M46.5 106.4h.1M45.7 110.7h.1M90.1 132.2h.1M87.9 134.5h.1M87.2 136.3h.1M89.6 132.5h.1M18.2 92.2h.1M16.9 91.9h.1M29.8 123.7h.1M29.7 122.2h.1M29.8 124.7h.1M75.2 135.6h.1M74.4 136.3h.1M70.6 131.7h.1M75.1 134.3h.1M96.1 96.7h.1M96.7 98.4h.1M97.9 96.6h.1M54.8 153.1h.1M53.6 149.1h.1M55.7 151.8h.1M50.2 141.5h.1M49.8 138.0h.1M51.0 140.8h.1M53.0 138.6h.1M50.9 141.1h.1M52.8 140.8h.1M39.9 110.0h.1M38.2 105.8h.1M41.0 110.0h.1M23.8 89.4h.1M43.5 118.1h.1M39.5 117.4h.1M40.8 118.5h.1M31.7 89.4h.1M32.0 87.9h.1M28.3 90.4h.1M31.0 86.0h.1M30.8 88.1h.1M31.4 86.4h.1M18.7 99.6h.1M20.6 101.7h.1M21.5 102.7h.1M22.1 101.1h.1M21.4 101.6h.1M20.0 102.4h.1M59.8 145.4h.1M63.7 142.4h.1M103.8 79.9h.1M100.6 81.7h.1M101.1 80.7h.1M102.7 79.3h.1M101.6 77.8h.1M82.7 148.1h.1M83.1 147.1h.1M82.7 152.8h.1M82.3 148.9h.1M31.7 127.6h.1M30.4 127.4h.1M32.3 125.9h.1M30.5 127.8h.1M28.5 125.9h.1M29.4 125.6h.1M100.4 96.7h.1M101.6 92.0h.1M101.6 95.1h.1M101.2 92.2h.1M98.7 97.2h.1M70.7 167.4h.1M70.1 167.8h.1M45.1 144.9h.1M43.5 140.4h.1M47.7 143.2h.1M31.0 80.8h.1M29.3 82.2h.1M29.2 81.1h.1M46.5 72.8h.1M46.2 77.1h.1M48.7 110.6h.1M48.6 108.3h.1M47.9 107.9h.1M70.4 141.2h.1M72.5 136.9h.1M72.1 140.5h.1M69.8 139.0h.1M72.0 135.2h.1M71.0 131.1h.1M73.5 129.5h.1M70.6 131.4h.1M70.6 127.8h.1M71.0 130.8h.1M46.7 108.7h.1M45.4 114.7h.1M46.5 110.8h.1M48.8 111.8h.1M47.8 110.1h.1M74.9 134.1h.1M71.0 135.8h.1M72.2 130.7h.1M70.9 131.7h.1M68.9 135.5h.1M70.6 138.1h.1M54.6 100.0h.1M56.7 99.4h.1M56.8 97.6h.1M55.9 98.1h.1M80.7 140.1h.1M86.8 139.7h.1M83.2 140.6h.1M65.6 114.7h.1M62.0 115.5h.1M55.6 144.2h.1M55.2 143.6h.1M51.8 141.3h.1M76.5 116.3h.1M78.5 116.6h.1M79.4 113.4h.1M79.0 113.6h.1M56.5 120.3h.1M56.6 116.3h.1M13.2 96.0h.1M53.5 85.8h.1M50.5 86.7h.1M51.6 86.3h.1M50.0 87.0h.1M51.0 84.8h.1M16.6 93.0h.1M16.2 94.7h.1M16.0 93.2h.1M65.9 150.1h.1M70.0 149.9h.1M70.6 154.6h.1M67.8 153.8h.1M49.4 80.0h.1M46.2 84.9h.1M47.5 81.4h.1M69.6 123.3h.1M68.2 121.7h.1M69.7 123.4h.1M72.1 123.5h.1M69.4 123.2h.1M68.9 123.1h.1M93.8 138.7h.1M94.7 139.0h.1M50.3 152.2h.1M47.7 152.1h.1M51.5 153.1h.1M49.4 154.8h.1M50.4 153.4h.1M48.9 151.0h.1M39.3 48.6h.1M41.2 51.1h.1M19.6 119.4h.1M20.5 118.9h.1M65.1 106.8h.1M63.7 106.2h.1M66.8 109.5h.1M64.6 110.0h.1M47.9 109.4h.1M48.1 109.6h.1M48.5 111.2h.1M99.6 124.8h.1M96.2 127.5h.1M96.1 127.2h.1M73.1 152.2h.1M76.6 154.3h.1M72.8 154.5h.1M71.0 152.3h.1M74.8 156.8h.1M38.8 88.5h.1M35.9 91.3h.1M106.1 94.8h.1M56.1 51.5h.1M54.7 50.4h.1M53.6 52.0h.1M51.9 50.9h.1M52.8 50.3h.1M41.8 126.1h.1M40.1 124.8h.1M42.8 124.2h.1M40.6 124.4h.1M42.1 123.5h.1M61.1 114.1h.1M61.7 114.0h.1M24.3 104.5h.1M24.2 102.9h.1M25.6 104.5h.1M24.2 104.6h.1M23.1 104.0h.1M86.8 135.6h.1M87.1 137.2h.1M81.5 139.1h.1M86.3 138.4h.1M34.7 94.7h.1M36.9 94.4h.1M35.5 95.4h.1M47.3 144.0h.1M47.6 145.2h.1M48.9 142.7h.1M80.7 152.5h.1M79.0 155.2h.1M82.1 152.0h.1M82.7 152.4h.1M36.4 47.4h.1M38.6 45.8h.1M21.9 128.9h.1M20.8 128.6h.1M25.3 120.7h.1M22.4 120.7h.1M26.4 119.0h.1M23.4 119.7h.1M23.3 118.6h.1M51.7 84.3h.1M54.6 83.6h.1M50.2 81.8h.1M51.3 84.4h.1M49.4 84.8h.1M48.2 82.4h.1M101.5 107.9h.1M97.0 106.9h.1M99.9 104.4h.1M84.3 129.5h.1M84.7 129.7h.1M85.7 130.1h.1M87.1 130.6h.1M25.0 102.2h.1M26.7 98.3h.1M25.2 99.9h.1M71.4 132.9h.1M72.3 135.5h.1M74.4 133.5h.1M74.0 136.2h.1M73.0 132.0h.1M89.7 111.6h.1M93.3 108.8h.1M88.3 111.1h.1M91.0 109.8h.1M35.4 55.1h.1M38.1 55.5h.1M37.4 52.5h.1M37.1 56.0h.1M71.7 153.0h.1M72.4 154.9h.1M71.9 153.9h.1M20.3 104.0h.1M19.0 102.1h.1M94.9 136.3h.1M95.2 136.6h.1M96.3 135.1h.1M95.4 131.8h.1M58.9 155.2h.1M58.1 150.9h.1M60.9 150.7h.1M57.6 151.9h.1M58.9 150.3h.1M59.0 152.8h.1M12.7 101.7h.1M13.7 100.3h.1M14.2 103.2h.1M13.2 102.0h.1M12.7 101.5h.1M50.9 150.5h.1M47.9 151.1h.1M46.7 152.3h.1M47.0 150.9h.1M46.2 150.6h.1M100.5 78.5h.1M99.0 81.1h.1M101.0 81.7h.1M74.9 151.0h.1M78.0 152.9h.1M77.7 151.7h.1M52.2 47.2h.1M49.9 46.8h.1M38.8 140.0h.1M37.0 140.1h.1M38.0 141.1h.1M40.8 140.7h.1M37.5 141.8h.1M41.3 141.7h.1M84.6 96.9h.1M84.3 99.7h.1M86.0 98.9h.1M86.2 102.2h.1M80.7 99.2h.1M83.9 112.4h.1M81.8 107.5h.1M84.7 113.0h.1M82.3 112.0h.1M83.6 112.0h.1M83.2 114.5h.1M65.7 160.3h.1M62.6 163.6h.1M63.6 163.2h.1M83.2 148.9h.1M81.4 148.3h.1M79.8 147.3h.1M84.5 144.4h.1M82.5 149.1h.1M34.9 124.3h.1M34.9 123.0h.1M35.0 123.7h.1M35.7 124.0h.1M33.2 123.2h.1M37.4 119.6h.1M60.4 162.7h.1M61.4 161.8h.1M60.2 162.7h.1M59.2 161.1h.1M59.7 164.2h.1M42.9 116.0h.1M46.3 113.8h.1M47.2 117.9h.1M46.4 114.6h.1M48.4 113.9h.1M30.9 96.9h.1M28.5 94.7h.1M30.0 96.2h.1M31.1 91.5h.1M72.0 136.4h.1M76.2 139.2h.1M74.0 137.0h.1M74.1 138.7h.1M74.1 139.0h.1M98.2 134.2h.1M100.4 130.9h.1M59.3 135.7h.1M60.8 134.7h.1M63.1 134.3h.1M61.0 136.2h.1M58.0 131.5h.1M89.1 145.8h.1M88.8 145.1h.1M87.0 147.9h.1M27.4 102.1h.1M24.5 100.3h.1M41.4 43.9h.1M91.6 115.6h.1M93.5 116.9h.1M54.1 156.5h.1M51.9 158.1h.1M49.1 156.6h.1M52.8 156.2h.1M41.2 140.8h.1M40.4 138.4h.1M37.6 136.8h.1M39.7 137.8h.1M40.4 139.4h.1M42.0 138.4h.1M61.8 117.4h.1M59.3 121.7h.1M59.5 120.2h.1M65.5 100.3h.1M69.4 100.2h.1M66.1 96.9h.1M68.7 100.2h.1M17.4 114.1h.1M80.5 137.5h.1M78.8 135.0h.1M80.0 136.8h.1M33.8 95.4h.1M37.2 95.5h.1M33.8 95.4h.1M75.1 129.3h.1M73.8 127.6h.1M73.5 129.1h.1M72.5 127.6h.1M75.5 129.9h.1M75.2 128.8h.1M97.7 88.0h.1M97.1 86.1h.1M96.3 89.8h.1M98.3 89.2h.1M69.8 138.2h.1M67.5 139.0h.1M68.8 135.3h.1M21.3 128.4h.1M24.0 128.3h.1M24.0 129.6h.1M60.1 142.8h.1M60.6 140.5h.1M58.5 143.5h.1M26.1 88.1h.1M27.8 87.3h.1M99.9 125.6h.1M96.3 125.9h.1M50.8 136.7h.1M45.9 136.3h.1M51.8 140.3h.1M49.4 138.7h.1M50.5 137.9h.1M49.5 137.9h.1M101.1 105.1h.1M96.9 103.3h.1M98.1 102.0h.1M97.7 102.6h.1M81.7 142.0h.1M85.7 140.3h.1M82.3 141.3h.1M82.0 140.8h.1M83.1 142.3h.1M83.4 142.6h.1M50.5 111.3h.1M53.7 110.2h.1M53.8 111.0h.1M52.5 111.5h.1M55.1 109.5h.1M54.5 111.7h.1M30.7 82.8h.1M30.0 83.9h.1M29.3 83.1h.1M29.6 82.5h.1M29.6 81.4h.1M31.1 81.5h.1M91.2 99.2h.1M88.4 102.0h.1M88.0 103.1h.1M87.5 105.0h.1M47.7 134.1h.1M49.0 133.3h.1M50.6 135.1h.1M49.1 134.0h.1M49.5 134.1h.1M70.5 130.1h.1M69.7 130.1h.1M71.6 133.3h.1M45.0 156.6h.1M46.4 155.8h.1M43.3 153.8h.1M44.6 154.4h.1M44.6 155.8h.1M71.0 116.8h.1M70.8 112.3h.1M74.5 119.0h.1M50.1 94.1h.1M46.6 95.2h.1M50.3 96.7h.1M51.5 97.9h.1M47.8 98.9h.1M43.6 129.5h.1M41.8 126.5h.1M41.2 130.3h.1M41.9 128.4h.1M88.3 133.8h.1M90.4 135.4h.1M54.0 129.6h.1M49.9 130.9h.1M53.8 130.6h.1M53.4 130.6h.1M44.9 101.4h.1M45.9 102.4h.1M44.7 102.1h.1M49.1 99.8h.1M43.7 105.1h.1M78.0 113.8h.1M75.0 115.1h.1M73.5 111.7h.1M75.1 113.8h.1M75.7 112.7h.1M75.1 113.6h.1M43.5 53.5h.1M43.7 50.3h.1M43.9 48.6h.1M44.6 52.6h.1M39.8 49.0h.1M42.7 49.8h.1M43.7 48.8h.1M43.3 51.8h.1M44.3 50.8h.1M86.2 96.8h.1M87.5 95.3h.1M87.1 94.3h.1M31.8 123.0h.1M33.2 120.1h.1M37.4 96.2h.1M36.3 97.6h.1M35.9 97.1h.1M56.9 117.0h.1M57.6 115.6h.1M68.1 140.4h.1M70.9 141.7h.1M70.6 142.1h.1M24.2 100.8h.1M27.2 97.2h.1M24.6 99.0h.1M108.8 84.1h.1M110.8 81.4h.1M109.3 83.1h.1M111.1 82.7h.1M68.9 153.0h.1M70.3 152.7h.1M70.4 155.2h.1M72.5 154.6h.1M83.5 113.4h.1M84.3 112.1h.1M83.9 112.5h.1M83.2 111.7h.1M92.7 104.4h.1M93.4 106.8h.1M91.7 101.6h.1M95.3 105.4h.1M93.7 103.3h.1M60.5 159.6h.1M56.7 160.1h.1M61.4 157.6h.1M47.8 137.6h.1M49.0 140.3h.1M83.2 118.4h.1M82.2 119.0h.1M94.8 114.2h.1M93.5 109.8h.1M94.2 112.5h.1M93.4 111.4h.1M91.4 110.3h.1M94.5 110.2h.1M83.0 150.6h.1M84.2 151.4h.1M88.2 147.9h.1M81.0 151.2h.1M82.8 152.8h.1M94.9 117.3h.1M92.9 114.9h.1M88.3 108.4h.1M91.5 107.3h.1M87.9 108.2h.1M90.8 110.9h.1M87.6 109.1h.1M90.6 109.2h.1M33.0 144.7h.1M36.1 139.1h.1M33.3 142.5h.1M34.9 140.1h.1M32.6 143.4h.1M83.3 146.4h.1M86.2 144.4h.1M83.0 144.9h.1M84.7 146.9h.1M85.7 144.8h.1M71.0 118.0h.1M70.9 114.5h.1M72.0 116.8h.1M74.5 118.8h.1M68.7 116.9h.1M98.9 87.4h.1M98.7 87.0h.1M97.9 88.6h.1M101.5 88.7h.1M82.3 104.4h.1M83.2 106.2h.1M81.8 103.3h.1M84.2 102.7h.1M87.0 103.9h.1M93.5 136.8h.1M95.8 136.2h.1M94.4 137.9h.1M95.0 138.6h.1M46.4 136.6h.1M50.1 137.3h.1M68.5 105.7h.1M65.9 105.2h.1M67.8 106.6h.1M68.4 105.3h.1M65.6 105.1h.1M63.6 104.8h.1M103.1 84.3h.1M106.7 85.2h.1M106.6 84.1h.1M106.5 83.6h.1M92.2 122.5h.1M91.3 121.8h.1M90.2 123.0h.1M90.7 121.3h.1M92.6 121.9h.1M49.1 100.2h.1M49.7 103.8h.1M52.6 98.9h.1M29.8 130.7h.1M26.5 129.4h.1M25.1 126.0h.1M32.3 126.6h.1M74.8 164.0h.1M71.2 164.0h.1M72.2 163.4h.1M71.6 162.1h.1M71.4 160.8h.1M72.2 166.1h.1M56.5 46.9h.1M61.1 47.4h.1M24.0 98.7h.1M22.0 103.1h.1M25.0 103.6h.1M35.4 89.9h.1M38.1 91.7h.1M36.9 90.0h.1M36.7 89.8h.1M38.4 90.8h.1M22.7 99.7h.1M16.7 102.5h.1M20.6 101.4h.1M53.1 140.2h.1M57.4 141.1h.1M21.5 99.5h.1M25.9 103.2h.1M25.1 102.8h.1M21.9 103.6h.1M23.8 101.0h.1M65.1 136.7h.1M65.4 139.1h.1M64.2 139.9h.1M65.2 140.6h.1M62.4 137.0h.1M62.1 137.6h.1M88.4 96.7h.1M87.0 95.3h.1M86.1 99.5h.1M36.8 95.5h.1M35.9 93.9h.1M36.2 94.3h.1M37.4 95.7h.1M34.5 93.7h.1M36.0 97.6h.1M95.2 79.6h.1M97.5 80.1h.1M75.6 147.9h.1M74.4 146.0h.1M73.8 150.7h.1M70.8 146.9h.1M66.7 141.4h.1M64.9 137.9h.1M64.1 141.0h.1M62.4 142.7h.1M64.9 142.8h.1M62.4 143.2h.1M40.0 135.1h.1M39.8 134.3h.1M42.4 134.4h.1M39.1 137.1h.1M40.7 133.4h.1M47.6 108.5h.1M47.9 111.2h.1M47.9 108.6h.1M51.8 109.3h.1M50.4 46.4h.1M57.1 48.9h.1M52.2 45.9h.1M51.8 48.6h.1M52.1 48.7h.1M52.8 50.1h.1M46.4 79.7h.1M46.3 82.1h.1M45.6 82.6h.1M45.2 78.8h.1M47.6 81.8h.1M79.1 145.1h.1M74.3 140.8h.1M75.2 146.6h.1M76.0 144.7h.1M54.2 126.0h.1M56.9 125.0h.1M55.8 119.7h.1M59.4 92.2h.1M58.4 96.2h.1M59.8 94.2h.1M59.6 92.4h.1M58.7 90.5h.1M59.1 88.2h.1M39.2 117.4h.1M40.2 115.6h.1M39.0 116.0h.1M38.3 117.0h.1M84.3 119.3h.1M85.1 123.2h.1M84.6 121.6h.1M84.2 116.3h.1M80.9 117.8h.1M82.6 120.7h.1M84.9 121.6h.1M83.5 115.7h.1M59.0 119.9h.1M60.1 116.6h.1M67.0 114.6h.1M68.8 115.6h.1M67.0 112.1h.1M66.9 112.1h.1M67.3 112.7h.1M68.5 112.1h.1M53.5 111.5h.1M53.7 110.8h.1M49.3 112.5h.1M52.5 113.2h.1M51.4 112.4h.1M57.5 126.6h.1M57.6 124.4h.1M51.9 56.5h.1M50.0 54.7h.1M50.0 55.3h.1M44.4 56.2h.1M49.6 56.5h.1M64.9 153.4h.1M64.3 153.3h.1M54.8 85.2h.1M53.5 86.3h.1M98.7 107.9h.1M98.9 106.5h.1M98.1 106.0h.1M98.7 104.4h.1M76.5 134.3h.1M76.3 135.0h.1M43.4 154.8h.1M42.4 151.8h.1M42.0 153.1h.1M41.8 153.7h.1M106.4 88.0h.1M107.3 90.9h.1M110.5 91.4h.1M38.1 61.9h.1M64.3 149.9h.1M60.3 149.3h.1M62.6 147.2h.1M62.5 146.8h.1M61.9 149.3h.1M105.3 79.3h.1M106.7 81.0h.1M107.5 79.4h.1M107.2 79.6h.1M109.6 81.0h.1M107.4 78.5h.1M88.8 126.7h.1M93.2 129.6h.1M91.7 129.2h.1M36.8 145.6h.1M36.7 144.8h.1M35.0 144.2h.1M56.8 144.8h.1M57.5 145.9h.1M55.7 143.9h.1M55.8 148.2h.1M34.7 49.1h.1M36.0 48.5h.1M35.9 49.9h.1M39.4 46.4h.1M39.2 46.8h.1M38.2 75.4h.1M36.2 76.0h.1M37.1 73.6h.1M37.9 73.4h.1M36.6 75.2h.1M43.0 72.7h.1M42.4 72.6h.1M42.5 73.1h.1M45.4 70.3h.1M47.0 72.8h.1M46.7 109.6h.1M45.9 109.5h.1M45.0 75.6h.1M44.8 74.5h.1M46.9 76.1h.1M45.7 75.1h.1M42.1 74.8h.1M41.6 74.6h.1M37.4 133.1h.1M32.8 134.9h.1M37.7 132.5h.1M37.8 134.0h.1M35.7 135.2h.1M17.4 105.7h.1M23.2 103.5h.1M19.5 106.2h.1M24.4 103.8h.1M16.2 90.8h.1M19.5 92.9h.1M18.9 89.0h.1M79.8 149.8h.1M76.9 142.5h.1M78.4 146.3h.1M25.6 92.1h.1M24.3 93.7h.1M25.6 91.0h.1M26.7 91.2h.1M28.0 94.4h.1M27.1 91.9h.1M64.8 107.1h.1M62.5 107.6h.1M62.5 104.5h.1M65.4 104.6h.1M76.2 113.1h.1M74.0 114.0h.1M55.5 109.5h.1M51.5 113.4h.1M57.5 110.9h.1M52.8 113.2h.1M55.1 115.4h.1M44.1 114.5h.1M40.8 116.3h.1M32.3 110.5h.1M30.9 112.7h.1M30.5 110.1h.1M32.0 110.0h.1M33.7 108.8h.1M30.7 112.4h.1M34.8 79.1h.1M34.0 79.8h.1M33.4 75.9h.1M55.4 152.2h.1M54.0 153.7h.1M55.5 147.8h.1M27.4 113.3h.1M28.3 108.5h.1M27.3 111.8h.1M26.9 112.0h.1M58.3 155.4h.1M56.2 157.7h.1M57.1 153.1h.1M44.0 77.4h.1M42.4 76.6h.1M88.9 131.4h.1M89.7 131.3h.1M85.2 131.0h.1M28.0 111.9h.1M24.3 111.3h.1M40.8 135.9h.1M43.2 135.0h.1M41.0 133.6h.1M102.3 121.3h.1M102.2 122.3h.1M100.1 123.6h.1M102.0 124.1h.1M22.8 124.0h.1M22.9 126.7h.1M68.1 155.9h.1M68.7 156.3h.1M66.5 159.4h.1M91.8 135.4h.1M92.5 136.1h.1M90.7 137.6h.1M65.3 104.7h.1M63.2 104.4h.1M62.1 108.2h.1M67.4 105.3h.1M65.5 106.6h.1M94.6 88.2h.1M97.8 88.7h.1M96.8 89.7h.1M99.4 88.4h.1M93.7 91.1h.1M96.1 87.5h.1M70.2 114.0h.1M68.3 116.3h.1M71.0 116.3h.1M68.6 114.6h.1M42.2 44.1h.1M40.4 44.6h.1M40.8 43.7h.1M43.9 43.3h.1M40.7 48.2h.1M73.0 154.4h.1M72.9 151.6h.1M72.3 150.4h.1M72.7 150.3h.1M73.5 148.8h.1M73.4 148.3h.1M96.6 136.5h.1M95.3 133.9h.1M97.1 135.4h.1M100.9 123.1h.1M100.2 121.9h.1M99.1 120.7h.1M97.7 120.5h.1M81.8 137.9h.1M82.1 133.7h.1M79.9 139.6h.1M82.1 137.9h.1M81.6 134.4h.1M82.0 142.4h.1M81.4 146.0h.1M78.6 144.2h.1M82.9 147.1h.1M84.5 144.1h.1M84.1 147.1h.1M90.9 113.4h.1M90.4 116.8h.1M89.4 119.9h.1M91.6 115.2h.1M41.6 110.1h.1M37.3 110.2h.1M39.1 110.2h.1M37.7 111.9h.1M39.8 113.5h.1M36.8 87.2h.1M39.4 85.8h.1M37.5 88.6h.1M37.2 85.8h.1M35.4 87.6h.1M80.4 108.2h.1M80.1 108.4h.1M82.1 112.2h.1M78.5 112.6h.1M56.3 132.3h.1M55.8 130.2h.1M56.5 130.0h.1M55.9 130.3h.1M60.0 51.3h.1M60.6 48.0h.1M91.0 92.5h.1M94.1 89.4h.1M90.1 87.5h.1M36.2 46.4h.1M36.5 48.4h.1M34.3 50.7h.1M37.4 47.8h.1M76.5 100.9h.1M77.8 104.1h.1M11.1 107.5h.1M86.6 120.8h.1M87.4 123.8h.1M90.0 128.8h.1M86.4 121.5h.1M55.3 89.8h.1M53.1 89.6h.1M41.0 149.2h.1M41.1 147.0h.1M47.9 50.3h.1M49.0 49.8h.1M37.7 136.4h.1M36.3 138.3h.1M38.4 136.8h.1M38.3 138.0h.1M38.0 136.0h.1M35.9 135.2h.1M28.8 87.3h.1M27.7 87.2h.1M28.1 92.8h.1M31.9 95.7h.1M75.1 120.7h.1M72.7 123.5h.1M65.5 115.2h.1M65.9 117.9h.1M64.9 114.9h.1M69.0 116.3h.1M67.2 114.0h.1M95.6 124.6h.1M95.5 121.4h.1M96.6 120.6h.1M94.8 121.5h.1M57.0 49.3h.1M56.7 44.8h.1M38.0 51.5h.1M50.8 56.5h.1M49.1 48.9h.1M53.5 47.6h.1M56.0 46.9h.1M39.5 53.6h.1M46.8 55.7h.1M44.9 52.7h.1M41.7 48.8h.1M44.3 51.4h.1M52.3 56.0h.1M43.0 53.5h.1M43.3 46.1h.1M45.8 46.2h.1M53.1 51.8h.1M43.0 45.6h.1M35.5 51.1h.1M51.0 52.7h.1M50.1 45.0h.1M43.7 50.0h.1M51.7 55.6h.1M59.1 48.7h.1M41.4 47.7h.1M58.0 53.8h.1M44.5 50.3h.1M43.1 56.8h.1M62.3 48.7h.1M48.9 49.7h.1M43.9 52.7h.1M43.3 51.1h.1M38.8 48.0h.1M52.7 49.9h.1M51.1 48.1h.1M51.3 50.3h.1M43.5 57.4h.1M37.7 45.7h.1M57.9 45.3h.1M40.4 49.5h.1M40.9 53.2h.1M52.3 50.4h.1M45.9 47.1h.1M36.6 52.2h.1M48.8 52.0h.1M48.6 51.7h.1M53.3 43.7h.1M44.6 47.7h.1M52.5 56.1h.1M42.3 48.6h.1M53.3 43.8h.1M49.8 49.3h.1M45.5 43.7h.1M51.5 56.4h.1M54.0 44.0h.1M40.8 47.6h.1M50.3 55.3h.1M43.7 45.6h.1M38.8 45.2h.1M45.0 56.0h.1M43.0 45.0h.1M51.9 46.8h.1M55.8 48.4h.1M36.2 47.3h.1M44.0 55.1h.1M43.1 55.9h.1M49.3 53.0h.1M38.5 45.1h.1M46.2 46.6h.1M41.0 52.3h.1M68.0 42.3h.1M77.2 40.0h.1M69.9 43.4h.1M64.6 43.7h.1M78.3 39.8h.1M67.1 41.7h.1M67.8 43.9h.1M75.8 39.8h.1M70.9 42.7h.1M72.0 41.0h.1M41.0 184.7h.1M70.7 36.2h.1M72.0 37.0h.1M78.6 41.3h.1" stroke="#3f80c0" stroke-width="1.2" stroke-linecap="square" fill="none"/>
<path d="M100.0 151.0h.1M131.6 154.6h.1M95.1 183.3h.1M83.8 171.6h.1M98.2 155.1h.1M103.5 158.3h.1M88.3 179.1h.1M111.5 123.8h.1M105.9 132.0h.1M94.1 178.5h.1M98.9 184.8h.1M111.9 133.8h.1M82.0 178.5h.1M101.2 153.0h.1M105.8 171.7h.1M90.3 156.8h.1M100.3 165.2h.1M109.2 127.8h.1M113.7 131.5h.1M94.7 152.4h.1M89.8 172.8h.1M85.3 164.4h.1M107.9 182.8h.1M100.2 179.9h.1M117.7 175.1h.1M99.5 151.7h.1M95.8 178.0h.1M77.5 169.2h.1M103.9 138.0h.1M111.1 152.4h.1M109.1 122.5h.1M110.5 162.6h.1M124.2 173.6h.1M91.2 174.1h.1M113.8 170.4h.1M149.4 175.9h.1M115.0 155.8h.1M113.8 156.3h.1M100.5 144.8h.1M144.6 176.2h.1M106.6 182.2h.1M108.6 176.0h.1M101.5 153.8h.1M116.8 153.8h.1M144.0 140.9h.1M105.4 148.3h.1M111.5 136.1h.1M104.5 143.7h.1M86.3 173.2h.1M123.1 172.7h.1M116.9 180.4h.1M153.6 169.5h.1M103.1 176.7h.1M147.5 156.1h.1M114.9 173.3h.1M77.8 173.8h.1M106.5 136.9h.1M120.1 185.0h.1M139.1 180.9h.1M129.0 150.6h.1M119.1 153.1h.1M92.4 180.8h.1M133.8 145.0h.1M130.8 139.8h.1M82.4 179.1h.1M108.0 132.6h.1M146.2 156.8h.1M99.0 184.5h.1M102.8 172.4h.1M102.3 140.3h.1M100.3 175.9h.1M118.3 150.4h.1M93.8 157.6h.1M134.1 143.6h.1M95.2 167.2h.1M95.6 181.9h.1M86.2 177.1h.1M134.1 160.2h.1M102.3 140.6h.1M91.5 177.5h.1M80.9 170.4h.1M113.0 161.3h.1M113.9 127.1h.1M92.5 183.0h.1M113.9 166.0h.1M109.5 185.7h.1M107.5 181.8h.1M97.9 151.5h.1M122.9 169.7h.1M106.0 159.0h.1M104.7 130.5h.1M96.0 160.9h.1M156.8 162.4h.1M121.7 150.2h.1M101.4 176.1h.1M116.8 154.4h.1M114.3 165.8h.1M95.6 145.6h.1M127.9 145.2h.1M115.6 141.5h.1M110.3 168.8h.1M113.9 158.2h.1M116.8 163.1h.1M100.9 181.5h.1M102.0 132.9h.1M132.6 142.3h.1M87.5 169.8h.1M102.3 149.3h.1M106.1 168.3h.1M128.6 159.7h.1M123.9 165.1h.1M90.4 166.9h.1M121.2 148.6h.1M108.7 145.5h.1M85.3 154.0h.1M98.2 142.2h.1M127.2 136.0h.1M150.1 176.0h.1M115.1 145.4h.1M112.0 151.6h.1M128.6 174.0h.1M115.5 134.0h.1M108.0 183.1h.1M112.9 169.8h.1M106.2 139.6h.1M121.2 141.7h.1M100.3 170.7h.1M105.3 182.6h.1M110.4 178.4h.1M134.4 181.5h.1M107.2 173.3h.1M115.9 128.5h.1M111.8 181.5h.1M113.9 154.4h.1M89.1 182.0h.1M107.3 142.3h.1M90.3 146.9h.1M116.5 164.7h.1M104.7 156.4h.1M124.0 157.7h.1M84.5 154.7h.1M85.7 160.6h.1M122.2 181.7h.1M142.3 158.8h.1M82.5 178.7h.1M111.8 176.9h.1M107.8 144.1h.1M126.2 150.1h.1M99.0 162.4h.1M138.6 172.7h.1M105.5 153.8h.1M85.4 163.0h.1M117.1 164.1h.1M98.4 147.8h.1M107.7 155.7h.1M150.0 146.8h.1M106.1 141.5h.1M88.4 161.4h.1M98.6 185.4h.1M112.1 156.8h.1M124.0 139.9h.1M111.1 169.2h.1M101.3 181.1h.1M95.6 172.4h.1M93.1 182.5h.1M117.3 137.9h.1M83.7 162.1h.1M95.6 179.9h.1M145.8 170.1h.1M108.8 139.3h.1M84.5 171.4h.1M114.0 147.8h.1M107.0 150.3h.1M99.7 155.4h.1M115.6 140.3h.1M115.0 178.0h.1M113.7 157.4h.1M117.7 158.3h.1M127.5 163.6h.1M116.7 149.8h.1M92.3 162.0h.1M115.0 181.5h.1M84.4 169.2h.1M109.1 137.0h.1M87.6 169.2h.1M100.8 172.4h.1M80.6 176.9h.1M86.8 170.3h.1M86.5 170.5h.1M112.0 144.9h.1M132.3 157.2h.1M94.1 146.1h.1M99.1 174.9h.1M126.3 148.5h.1M108.0 183.0h.1M110.4 157.8h.1M108.0 153.3h.1M134.6 180.0h.1M97.7 156.0h.1M129.2 171.8h.1M134.9 141.5h.1M79.5 172.3h.1M149.3 150.1h.1M108.4 165.5h.1M127.1 174.4h.1M113.2 144.9h.1M104.1 174.2h.1M153.9 159.2h.1M110.0 177.3h.1M86.8 155.7h.1M80.8 169.2h.1M137.1 149.5h.1M105.6 135.2h.1M107.7 147.0h.1M101.5 168.7h.1M135.2 152.4h.1M106.9 185.4h.1M141.2 143.5h.1M82.1 166.3h.1M89.2 172.4h.1M101.4 156.7h.1M128.4 165.2h.1M100.0 163.8h.1M146.6 154.8h.1M112.6 174.9h.1M113.6 161.6h.1M117.4 178.4h.1M91.1 177.5h.1M120.3 135.8h.1M98.6 139.8h.1M81.8 159.8h.1M131.7 157.4h.1M130.5 156.4h.1M83.4 160.6h.1M103.3 136.0h.1M111.6 126.0h.1M107.6 125.9h.1M135.6 168.6h.1M147.1 171.5h.1M93.4 147.7h.1M122.7 148.6h.1M136.8 149.7h.1M107.5 149.4h.1M89.1 159.2h.1M80.7 165.2h.1M96.2 155.8h.1M135.2 146.2h.1M125.0 154.7h.1M108.7 169.1h.1M98.5 166.4h.1M122.2 143.2h.1M88.0 153.3h.1M98.1 144.0h.1M106.2 134.6h.1M110.6 134.9h.1M85.4 181.5h.1M136.7 143.8h.1M124.8 142.1h.1M140.0 173.2h.1M131.3 153.0h.1M111.5 169.8h.1M101.3 153.7h.1M106.8 153.0h.1M97.9 152.3h.1M88.9 165.5h.1M117.3 173.4h.1M121.3 157.9h.1M91.6 154.5h.1M106.9 180.7h.1M119.5 148.3h.1M156.5 156.7h.1M139.7 164.4h.1M99.8 140.0h.1M91.7 163.2h.1M122.7 147.4h.1M144.2 154.2h.1M82.8 177.4h.1M81.9 158.8h.1M141.6 151.0h.1M149.5 164.2h.1M93.7 156.7h.1M106.1 152.0h.1M145.3 144.1h.1M111.4 122.4h.1M103.4 160.5h.1M117.7 165.4h.1M107.7 151.5h.1M86.4 176.3h.1M100.6 176.0h.1M103.3 171.2h.1M98.2 166.5h.1M95.1 158.4h.1M91.5 170.0h.1M106.0 130.7h.1M116.5 132.3h.1M138.9 149.9h.1M108.6 124.6h.1M106.4 182.4h.1M111.4 143.1h.1M99.5 150.6h.1M113.7 135.4h.1M87.2 155.1h.1M87.5 161.1h.1M130.4 149.5h.1M143.8 161.5h.1M130.9 158.0h.1M140.4 164.0h.1M98.9 179.8h.1M78.0 174.8h.1M132.3 158.1h.1M117.5 141.8h.1M125.9 161.0h.1M96.3 158.8h.1M88.9 162.6h.1M87.4 162.4h.1M94.7 182.1h.1M159.6 161.8h.1M125.0 145.7h.1M90.1 178.9h.1M98.3 178.9h.1M81.0 179.2h.1M124.9 151.3h.1M90.3 183.9h.1M143.0 144.9h.1M115.5 154.4h.1M115.7 135.8h.1M83.2 173.8h.1M99.0 153.3h.1M158.0 151.5h.1M117.5 156.0h.1M110.5 136.7h.1M87.9 168.9h.1M96.2 151.5h.1M109.1 153.6h.1M127.5 159.1h.1M144.3 180.0h.1M89.0 184.4h.1M110.7 170.9h.1M117.8 174.8h.1M107.2 179.0h.1M107.7 182.4h.1M88.0 175.4h.1M138.2 151.2h.1M111.3 159.2h.1M92.2 148.5h.1M116.6 168.5h.1M132.4 168.4h.1M115.1 181.8h.1M113.9 150.5h.1M127.7 180.5h.1M79.9 176.2h.1M100.1 181.5h.1M156.0 167.7h.1M139.8 148.2h.1M94.8 154.7h.1M94.3 166.3h.1M87.3 177.1h.1M108.2 138.2h.1M80.2 163.3h.1M115.3 156.3h.1M129.1 157.7h.1M108.5 170.7h.1M107.2 164.7h.1M96.9 179.7h.1M95.4 143.3h.1M83.6 173.3h.1M97.2 167.1h.1M107.0 147.8h.1M95.6 159.7h.1M140.6 157.3h.1M85.2 173.0h.1M143.9 176.0h.1M107.4 157.7h.1M102.8 144.3h.1M93.0 148.4h.1M87.4 167.5h.1M107.6 140.4h.1M94.8 161.2h.1M125.4 136.1h.1M106.2 170.6h.1M85.0 153.1h.1M117.9 151.8h.1M108.6 164.5h.1M94.6 155.6h.1M115.0 184.0h.1M101.5 157.0h.1M143.0 140.3h.1M128.8 184.1h.1M110.6 130.1h.1M111.3 162.6h.1M115.3 149.1h.1M141.0 159.8h.1M103.8 180.3h.1M145.5 175.9h.1M119.9 154.3h.1M87.1 176.8h.1M149.8 151.9h.1M109.8 163.8h.1M113.7 182.3h.1M156.2 165.7h.1M117.6 180.3h.1M104.6 129.9h.1M105.7 173.7h.1M121.4 140.3h.1M137.1 144.8h.1M101.9 150.7h.1M102.0 181.8h.1M128.6 161.8h.1M108.8 158.8h.1M110.6 180.6h.1M155.0 151.1h.1M115.6 140.7h.1M106.8 124.4h.1M143.4 151.0h.1M138.9 181.2h.1M115.8 162.7h.1M136.4 146.0h.1M140.1 152.6h.1M108.7 170.8h.1M98.0 154.2h.1M102.7 162.2h.1M90.0 174.9h.1M158.5 160.8h.1M126.4 174.8h.1M136.5 153.9h.1M82.3 175.1h.1M91.8 152.3h.1M110.4 138.9h.1M88.5 157.4h.1M93.5 158.2h.1M104.4 158.2h.1M111.6 138.7h.1M99.5 153.1h.1M153.3 156.5h.1M117.1 173.4h.1M118.4 164.2h.1M116.6 135.1h.1M82.2 177.5h.1M115.2 176.7h.1M115.1 182.4h.1M90.8 184.5h.1M78.5 174.7h.1M128.4 165.2h.1M130.0 181.1h.1M121.4 171.2h.1M136.7 167.9h.1M119.3 166.3h.1M114.9 170.5h.1M95.8 156.5h.1M90.8 151.2h.1M97.1 178.0h.1M98.6 147.5h.1M106.5 149.4h.1M142.1 150.0h.1M82.7 177.1h.1M99.3 159.5h.1M117.5 146.0h.1M95.9 152.9h.1M140.4 169.4h.1M91.9 181.2h.1M114.1 150.2h.1M146.5 163.7h.1M129.4 168.3h.1M148.8 164.8h.1M100.2 181.0h.1M114.3 141.1h.1M114.7 181.9h.1M91.4 146.8h.1M89.4 160.0h.1M83.5 158.4h.1M86.0 163.4h.1M107.6 130.7h.1M84.9 162.4h.1M104.4 129.1h.1M115.0 171.5h.1M97.7 157.9h.1M92.7 152.4h.1M101.3 135.6h.1M83.7 160.0h.1M115.9 145.7h.1M100.8 153.8h.1M156.1 150.1h.1M87.6 152.8h.1M121.1 139.1h.1M91.0 177.1h.1M88.7 171.7h.1M92.8 174.1h.1M117.4 159.8h.1M107.6 163.9h.1M118.3 164.1h.1M101.3 163.5h.1M89.4 163.5h.1M102.5 156.0h.1M117.7 173.2h.1M108.3 150.2h.1M121.8 165.5h.1M112.0 127.6h.1M88.5 178.6h.1M153.0 144.4h.1M139.5 161.0h.1M103.7 152.0h.1M101.2 155.6h.1M99.9 140.0h.1M92.5 171.0h.1M91.5 148.5h.1M109.2 156.4h.1M95.2 176.5h.1M117.7 154.3h.1M96.2 156.0h.1M113.8 127.4h.1M143.8 147.2h.1M82.8 164.3h.1M95.9 162.5h.1M97.7 162.9h.1M145.8 151.1h.1M121.5 178.0h.1M93.4 178.5h.1M123.0 177.5h.1M109.8 134.6h.1M111.9 128.6h.1M136.6 160.6h.1M153.4 172.2h.1M112.5 185.1h.1M97.2 164.0h.1M129.1 172.2h.1M99.6 136.3h.1M125.0 171.6h.1M107.1 154.4h.1M101.0 168.4h.1M86.4 176.9h.1M105.5 144.4h.1M155.2 148.8h.1M83.3 181.6h.1M104.7 155.8h.1M147.2 174.5h.1M117.8 152.6h.1M91.1 146.4h.1M115.0 179.9h.1M92.3 169.7h.1M86.5 165.4h.1M128.4 183.8h.1M112.1 141.6h.1M91.6 156.4h.1M105.9 154.4h.1M149.1 142.8h.1M98.5 182.9h.1M116.7 162.0h.1M101.5 153.9h.1M137.8 145.6h.1M129.6 183.4h.1M109.9 127.0h.1M154.9 154.7h.1M116.8 166.8h.1M113.4 139.5h.1M107.6 141.6h.1M134.1 175.4h.1M108.9 176.8h.1M96.9 151.8h.1M109.1 176.1h.1M83.6 180.0h.1M99.9 157.6h.1M91.3 181.9h.1M89.2 162.4h.1M101.1 177.7h.1M100.8 159.4h.1M79.0 169.8h.1M93.0 144.5h.1M130.6 160.2h.1M98.7 180.8h.1M92.1 165.3h.1M105.2 184.9h.1M107.2 139.8h.1M97.2 159.9h.1M136.1 140.4h.1M142.0 155.7h.1M96.5 143.2h.1M137.9 165.8h.1M100.4 144.8h.1M125.4 142.0h.1M111.3 133.6h.1M145.4 152.6h.1M101.7 140.9h.1M101.7 165.3h.1M123.4 152.9h.1M83.7 157.1h.1M139.9 176.9h.1M102.2 134.8h.1M94.7 143.4h.1M87.4 178.9h.1M103.1 144.6h.1M151.3 154.8h.1M80.1 168.9h.1M140.2 164.4h.1M134.8 156.8h.1M91.0 176.8h.1M109.9 139.3h.1M110.9 159.1h.1M100.1 168.9h.1M120.1 167.1h.1M113.4 154.2h.1M116.5 156.1h.1M90.2 170.7h.1M156.2 166.2h.1M145.6 165.4h.1M103.6 163.7h.1M115.9 170.9h.1M116.2 153.1h.1M107.0 129.9h.1M98.0 155.7h.1M113.2 165.2h.1M107.4 129.2h.1M119.8 180.2h.1M87.3 181.8h.1M132.0 160.3h.1M126.6 140.9h.1M117.2 161.9h.1M133.6 141.8h.1M126.4 174.2h.1M90.2 180.2h.1M101.1 149.7h.1M101.8 174.7h.1M123.1 145.2h.1M104.0 182.8h.1M110.4 121.4h.1M131.6 161.8h.1M114.8 149.0h.1M86.2 164.2h.1M144.2 139.9h.1M106.9 167.6h.1M104.6 148.8h.1M97.3 164.2h.1M102.1 175.4h.1M91.3 175.0h.1M108.1 160.0h.1M126.7 151.6h.1M114.3 170.0h.1M90.0 159.2h.1M106.6 182.3h.1M104.9 178.2h.1M115.6 164.1h.1M81.8 176.3h.1M111.0 150.6h.1M148.0 143.6h.1M94.2 173.4h.1M121.5 168.3h.1M117.0 149.7h.1M115.0 142.9h.1M92.6 162.4h.1M109.3 152.1h.1M104.8 132.2h.1M125.4 149.9h.1M88.3 170.3h.1M101.7 158.2h.1M91.0 153.2h.1M113.2 181.2h.1M102.9 174.2h.1M84.1 178.9h.1M108.9 122.2h.1M136.1 137.7h.1M97.3 151.5h.1M78.9 172.6h.1M117.0 151.8h.1M107.6 176.2h.1M130.1 177.6h.1M100.9 151.0h.1M102.5 164.4h.1M96.6 177.8h.1M112.0 161.9h.1M158.1 157.8h.1M98.0 161.7h.1M101.6 146.0h.1M155.0 170.5h.1M79.9 166.2h.1M88.8 182.0h.1M95.5 169.9h.1M83.4 166.9h.1M102.5 176.0h.1M86.9 177.6h.1M117.7 155.9h.1M108.8 180.9h.1M109.5 177.2h.1M93.9 162.5h.1M113.6 134.7h.1M93.3 170.5h.1M131.4 158.0h.1M108.4 132.0h.1M115.7 143.5h.1M106.7 162.1h.1M111.5 181.3h.1M117.8 143.1h.1M95.8 168.9h.1M156.9 149.2h.1M100.5 138.2h.1M97.0 170.3h.1M135.4 169.9h.1M113.4 143.9h.1M101.4 153.6h.1M114.7 170.2h.1M108.1 130.0h.1M111.2 144.0h.1M85.4 183.9h.1M106.4 148.3h.1M155.8 157.8h.1M101.6 142.0h.1M120.3 175.4h.1M110.0 147.3h.1M121.7 164.4h.1M142.1 176.4h.1M114.2 130.5h.1M109.3 184.2h.1M141.2 153.3h.1M122.8 147.0h.1M114.3 162.2h.1M93.9 173.5h.1M135.3 144.7h.1M127.3 150.8h.1M88.9 178.8h.1M84.0 162.0h.1M133.3 147.9h.1M116.9 174.0h.1M110.4 150.1h.1M97.0 166.8h.1M116.5 133.4h.1M87.4 162.5h.1M93.4 145.4h.1M103.3 145.2h.1M107.0 128.3h.1M124.5 137.6h.1M152.8 156.5h.1M121.4 159.7h.1M83.4 167.4h.1M109.1 158.4h.1M102.4 148.1h.1M109.0 165.6h.1M110.6 178.4h.1M122.3 163.7h.1M77.9 169.0h.1M140.2 155.6h.1M140.7 140.1h.1M126.0 149.6h.1M115.9 174.3h.1M129.2 160.3h.1M125.5 160.1h.1M148.0 167.1h.1M91.9 159.9h.1M95.7 152.8h.1M108.1 158.1h.1M104.7 151.6h.1M108.5 170.9h.1M118.3 182.7h.1M102.7 148.6h.1M108.0 138.1h.1M101.6 174.4h.1M105.5 133.0h.1M96.7 184.9h.1M95.7 174.3h.1M131.1 151.5h.1M159.0 152.3h.1M123.7 171.2h.1M86.7 158.6h.1M101.9 151.8h.1M92.1 144.5h.1M139.9 142.8h.1M103.9 139.2h.1M137.5 149.7h.1M144.4 172.9h.1M92.0 162.5h.1M104.5 129.3h.1M112.4 169.3h.1M105.7 145.4h.1M84.1 158.1h.1M112.6 131.8h.1M138.7 144.4h.1M135.8 170.2h.1M139.4 169.9h.1M87.7 152.9h.1M156.7 168.0h.1M122.0 153.7h.1M105.5 177.0h.1M105.0 159.9h.1M84.8 170.0h.1M133.2 140.2h.1M93.3 172.6h.1M134.7 156.9h.1M89.3 176.2h.1M94.4 183.5h.1M142.8 169.9h.1M110.6 136.0h.1M132.1 170.2h.1M142.2 158.4h.1M79.8 164.6h.1M139.1 174.0h.1M91.5 182.4h.1M108.9 121.9h.1M82.5 164.8h.1M103.7 158.7h.1M147.2 147.6h.1M124.1 153.7h.1M106.0 167.7h.1M114.2 158.9h.1M93.8 177.5h.1M97.0 153.5h.1M97.8 158.7h.1M102.8 169.5h.1M85.1 160.4h.1M91.2 152.6h.1M88.2 163.2h.1M122.5 164.4h.1M135.3 176.5h.1M137.9 146.5h.1M105.5 166.0h.1M101.3 164.2h.1M130.9 152.9h.1M109.9 166.8h.1M80.0 180.1h.1M111.7 128.5h.1M105.9 172.3h.1M126.2 180.1h.1M106.4 158.6h.1M93.4 154.8h.1M106.5 178.6h.1M125.1 172.3h.1M108.5 123.5h.1M102.2 148.4h.1M105.1 178.2h.1M132.9 155.5h.1M105.8 184.2h.1M135.5 145.9h.1M80.3 162.9h.1M115.6 149.5h.1M92.6 175.6h.1M107.8 144.6h.1M122.6 145.3h.1M115.9 157.9h.1M110.5 153.1h.1M107.2 135.5h.1M142.8 142.8h.1M88.3 161.1h.1M106.9 173.1h.1M98.7 176.3h.1M123.4 152.5h.1M120.2 133.4h.1M150.5 172.4h.1M103.2 135.5h.1M79.3 163.7h.1M104.5 171.6h.1M104.7 140.3h.1M104.1 154.3h.1M98.6 168.2h.1M99.9 173.9h.1M111.2 167.6h.1M102.1 159.5h.1M142.6 171.9h.1M101.6 178.3h.1M90.8 154.0h.1M100.6 166.0h.1M113.8 173.9h.1M113.7 171.3h.1M89.8 174.5h.1M94.6 159.3h.1M112.3 129.3h.1M109.1 180.6h.1M127.8 166.4h.1M112.8 142.9h.1M109.5 160.0h.1M105.2 170.7h.1M79.9 164.4h.1M100.5 150.2h.1M105.7 135.8h.1M137.0 177.6h.1M88.5 179.4h.1M122.9 156.1h.1M137.9 146.1h.1M115.3 182.5h.1M113.5 166.7h.1M107.6 135.0h.1M104.9 171.1h.1M85.5 164.6h.1M88.1 151.0h.1M78.2 174.0h.1M107.9 180.8h.1M105.0 182.8h.1M99.1 153.6h.1M142.4 179.6h.1M140.6 172.9h.1M99.1 160.0h.1M136.8 141.2h.1M129.6 151.8h.1M107.0 169.9h.1M145.5 166.9h.1M105.2 175.1h.1M100.8 160.8h.1M135.7 175.3h.1M92.7 168.2h.1M116.2 160.8h.1M103.6 170.5h.1M113.5 136.6h.1M87.2 174.4h.1M143.4 179.4h.1M103.5 185.2h.1M131.7 169.5h.1M95.3 151.5h.1M144.6 160.1h.1M115.2 132.3h.1M98.2 162.1h.1M105.4 162.7h.1M107.3 153.6h.1M115.9 174.6h.1M120.8 165.6h.1M106.4 135.4h.1M81.8 164.7h.1M106.7 134.9h.1M85.9 160.4h.1M83.6 168.7h.1M106.1 167.0h.1M87.8 152.5h.1M156.4 166.9h.1M107.5 184.7h.1M107.0 151.0h.1M90.3 159.7h.1M159.3 159.0h.1M113.7 160.1h.1M107.2 159.1h.1M102.9 132.8h.1M100.9 174.8h.1M127.1 172.2h.1M84.2 168.7h.1M141.4 157.2h.1M110.0 123.2h.1M100.7 149.5h.1M158.6 158.9h.1M97.8 164.6h.1M127.7 180.9h.1M128.8 159.0h.1M97.6 138.1h.1M135.4 180.9h.1M87.8 164.4h.1M134.4 162.4h.1M109.8 154.5h.1M79.2 175.0h.1M106.4 171.1h.1M96.3 156.7h.1M114.1 181.7h.1M130.4 182.0h.1M92.4 182.5h.1M83.8 172.9h.1M79.9 175.4h.1M152.3 153.0h.1M105.3 153.1h.1M98.7 139.7h.1M109.0 147.0h.1M96.4 162.6h.1M108.5 147.9h.1M86.4 175.8h.1M113.6 127.1h.1M130.7 146.0h.1M89.2 166.5h.1M100.8 149.8h.1M114.7 176.4h.1M107.8 128.0h.1M129.4 138.9h.1M111.6 178.8h.1M120.6 182.4h.1M118.5 144.3h.1M91.3 149.4h.1M78.0 169.2h.1M102.4 145.8h.1M83.0 165.4h.1M97.6 145.3h.1M111.5 125.4h.1M100.6 143.7h.1M100.4 158.2h.1M85.8 159.5h.1M104.4 178.9h.1M137.4 143.0h.1M114.1 166.9h.1M97.4 163.3h.1M104.8 176.3h.1M95.6 142.9h.1M80.5 180.8h.1M141.7 153.4h.1M117.9 173.0h.1M99.5 173.0h.1M111.9 148.2h.1M143.4 173.2h.1M88.4 181.9h.1M112.7 167.5h.1M82.3 174.2h.1M117.2 155.8h.1M112.6 126.9h.1M109.1 138.0h.1M80.7 169.1h.1M115.9 135.0h.1M99.9 142.1h.1M138.2 158.9h.1M88.2 149.2h.1M86.8 156.4h.1M94.8 155.4h.1M131.0 178.0h.1M114.5 130.2h.1" stroke="#e8832c" stroke-width="1.2" stroke-linecap="square" fill="none"/>
<path d="M193.5 71.7h.1M189.7 76.3h.1M201.9 103.8h.1M186.8 91.1h.1M213.9 101.4h.1M208.5 71.2h.1M210.2 72.6h.1M189.7 95.3h.1M197.4 98.1h.1M201.2 75.7h.1M214.6 90.7h.1M192.3 92.7h.1M212.7 83.4h.1M197.2 88.9h.1M177.8 84.3h.1M189.8 89.7h.1M201.0 103.5h.1M206.3 102.6h.1M209.6 93.3h.1M213.1 101.7h.1M216.0 61.7h.1M205.1 70.9h.1M217.3 92.2h.1M193.6 94.9h.1M200.9 70.5h.1M217.5 106.9h.1M212.7 96.2h.1M202.9 85.5h.1M213.9 64.3h.1M213.2 94.3h.1M216.9 102.0h.1M187.4 79.5h.1M212.1 85.1h.1M183.8 74.4h.1M213.0 107.0h.1M208.9 95.5h.1M206.7 94.4h.1M205.2 100.3h.1M221.8 89.2h.1M205.6 97.5h.1M192.4 89.8h.1M230.5 97.1h.1M191.3 95.6h.1M193.0 98.8h.1M214.3 106.1h.1M198.8 95.7h.1M203.0 91.8h.1M212.5 87.9h.1M223.0 98.6h.1M196.0 98.3h.1M205.8 90.5h.1M176.4 70.2h.1M195.3 86.8h.1M210.4 60.6h.1M211.5 95.7h.1M202.7 81.4h.1M202.2 73.9h.1M179.0 86.8h.1M216.9 94.6h.1M219.7 108.0h.1M210.9 74.2h.1M210.4 103.6h.1M188.4 50.1h.1M210.9 101.7h.1M210.8 98.7h.1M201.0 78.7h.1M201.6 103.6h.1M179.0 65.5h.1M234.2 95.5h.1M229.4 92.6h.1M189.5 51.6h.1M186.3 89.1h.1M185.3 74.6h.1M185.6 81.2h.1M219.5 91.9h.1M212.6 103.3h.1M203.0 73.0h.1M193.0 90.6h.1M201.6 88.7h.1M203.9 76.0h.1M206.5 76.7h.1M202.0 90.7h.1M180.1 78.2h.1M199.8 97.6h.1M183.6 76.6h.1M206.0 99.9h.1M217.6 106.9h.1M200.8 101.1h.1M210.4 107.8h.1M216.9 96.2h.1M207.0 101.4h.1M211.7 103.8h.1M185.5 89.0h.1M205.4 93.7h.1M209.1 86.1h.1M207.0 76.8h.1M189.1 49.9h.1M208.8 80.1h.1M211.2 79.8h.1M176.4 85.6h.1M203.6 97.9h.1M218.2 100.0h.1M204.1 80.2h.1M217.4 102.0h.1M206.8 104.4h.1M208.6 87.6h.1M201.8 92.5h.1M224.4 88.1h.1M203.2 87.0h.1M204.8 80.4h.1M201.0 82.6h.1M179.4 86.4h.1M228.1 106.2h.1M209.8 98.3h.1M206.0 102.5h.1M200.1 82.1h.1M218.1 84.9h.1M215.9 101.3h.1M203.4 103.1h.1M201.9 80.3h.1M214.8 91.3h.1M192.7 97.5h.1M210.7 71.9h.1M208.3 99.8h.1M204.1 82.4h.1M198.0 98.8h.1M194.3 77.2h.1M212.4 78.1h.1M225.9 89.8h.1M195.6 94.2h.1M201.2 92.3h.1M235.1 94.7h.1M204.1 79.7h.1M202.7 91.9h.1M201.2 74.2h.1M232.9 93.5h.1M209.8 76.9h.1M202.5 78.0h.1M208.3 107.3h.1M227.1 88.8h.1M205.6 75.6h.1M210.7 74.7h.1M182.0 80.8h.1M188.3 74.4h.1M211.2 102.5h.1M205.3 93.9h.1M175.8 74.6h.1M215.5 106.0h.1M203.1 104.5h.1M193.4 88.5h.1M218.7 93.8h.1M211.5 90.9h.1M177.4 82.8h.1M195.0 90.9h.1M211.1 74.6h.1M206.5 96.9h.1M191.1 91.7h.1M215.4 105.1h.1M209.7 74.8h.1M215.9 86.5h.1M211.5 89.1h.1M203.7 96.2h.1M217.7 92.4h.1M209.3 78.6h.1M212.0 76.2h.1M214.0 86.3h.1M195.0 94.1h.1M227.5 90.7h.1M211.5 99.3h.1M233.1 102.5h.1M211.3 62.5h.1M208.4 95.1h.1M191.9 71.4h.1M201.9 75.0h.1M210.4 79.8h.1M203.3 67.9h.1M212.8 83.5h.1M181.7 74.9h.1M209.9 94.5h.1M216.7 88.0h.1M203.0 103.2h.1M205.2 105.3h.1M210.1 66.2h.1M213.4 107.6h.1M211.0 82.2h.1M213.5 101.7h.1M213.6 106.8h.1M224.8 97.8h.1M203.3 91.4h.1M193.9 93.1h.1M208.0 83.1h.1M178.2 87.9h.1M204.5 83.9h.1M204.1 78.1h.1M205.4 70.9h.1M211.2 100.7h.1M207.7 106.9h.1M210.0 85.7h.1M222.5 103.3h.1M207.4 84.1h.1M188.8 93.6h.1M214.8 99.5h.1M183.0 89.8h.1M206.1 86.3h.1M218.2 94.6h.1M213.9 83.1h.1M199.5 94.0h.1M203.1 87.3h.1M178.7 76.8h.1M183.2 92.5h.1M206.4 87.1h.1M208.1 102.9h.1M200.2 79.7h.1M213.7 106.8h.1M212.9 95.4h.1M209.0 93.9h.1M181.3 87.9h.1M189.1 97.0h.1M226.0 106.5h.1M193.1 76.0h.1M185.8 50.6h.1M188.7 93.3h.1M208.0 84.6h.1M214.1 61.3h.1M204.8 79.2h.1M202.7 75.6h.1M208.8 101.4h.1M217.5 106.6h.1M203.7 80.2h.1M209.0 82.6h.1M218.3 92.5h.1M180.4 89.7h.1M208.9 80.8h.1M235.8 100.1h.1M202.7 74.4h.1M204.1 84.0h.1M190.4 94.3h.1M202.9 104.7h.1M189.6 50.2h.1M194.0 95.7h.1M220.3 100.6h.1M213.9 93.0h.1M197.8 94.7h.1M202.5 75.1h.1M204.0 80.2h.1M213.7 106.8h.1M215.8 90.0h.1M206.5 105.9h.1M210.7 103.1h.1M208.3 82.9h.1M207.8 102.5h.1M215.9 82.1h.1M215.2 80.8h.1M191.7 73.2h.1M214.2 91.3h.1M203.5 76.6h.1M216.1 85.5h.1M187.3 95.9h.1M212.3 108.1h.1M204.5 90.3h.1M183.7 78.3h.1M211.5 76.9h.1M177.0 77.7h.1M234.4 95.5h.1M204.8 101.6h.1M206.3 83.3h.1M204.7 90.2h.1M206.9 103.2h.1M209.4 72.1h.1M211.9 99.0h.1M223.7 96.0h.1M205.0 85.9h.1M193.0 47.3h.1M202.9 99.8h.1M210.1 69.7h.1M190.7 98.0h.1M213.6 91.9h.1M193.4 93.9h.1M215.4 98.1h.1M205.3 88.5h.1M215.8 65.0h.1M215.6 96.6h.1M175.2 80.0h.1M189.5 94.1h.1M202.3 78.5h.1M203.1 81.3h.1M206.8 74.0h.1M212.4 96.3h.1M202.2 106.2h.1M208.8 78.0h.1M205.2 98.1h.1M204.8 104.2h.1M178.2 64.9h.1M191.5 47.4h.1M209.5 73.7h.1M200.3 79.4h.1M201.5 101.3h.1M213.7 92.4h.1M214.0 94.2h.1M214.0 94.5h.1M205.0 84.9h.1M211.0 82.6h.1M176.5 71.6h.1M193.4 93.8h.1M207.7 74.6h.1M228.3 97.4h.1M216.4 84.6h.1M228.7 101.1h.1M209.3 74.7h.1M218.1 95.3h.1M227.9 102.6h.1M199.8 93.4h.1M191.2 91.4h.1M203.6 76.4h.1M215.4 96.0h.1M198.3 94.3h.1M228.5 89.5h.1M208.5 86.6h.1M223.1 90.5h.1M171.4 71.9h.1M208.6 107.3h.1M210.3 98.1h.1M208.3 82.6h.1M209.5 100.1h.1M225.9 103.8h.1M203.4 106.5h.1M201.3 83.9h.1M225.0 101.5h.1M214.2 106.8h.1M211.8 80.5h.1M201.5 94.9h.1M232.1 100.1h.1M189.7 97.8h.1M196.4 98.0h.1M204.9 88.4h.1M182.5 87.8h.1M232.6 92.7h.1M184.9 85.5h.1M195.4 90.0h.1M203.6 95.7h.1M214.1 107.9h.1M205.6 101.5h.1M230.0 105.5h.1M204.3 86.0h.1M197.3 96.8h.1M210.3 73.5h.1M181.4 69.1h.1M207.3 90.2h.1M223.4 99.3h.1M176.5 67.3h.1M224.5 93.9h.1M209.1 74.7h.1M229.0 94.1h.1M181.0 89.1h.1M208.9 83.4h.1M205.6 83.8h.1M186.8 94.7h.1M217.8 96.1h.1M185.9 69.3h.1M208.7 73.1h.1M188.3 94.4h.1M192.9 89.6h.1M202.0 90.1h.1M195.0 96.5h.1M209.7 98.4h.1M211.2 103.5h.1M202.9 87.3h.1M205.8 106.7h.1M202.0 83.9h.1M176.5 71.4h.1M217.8 103.4h.1M210.6 93.4h.1M193.0 96.3h.1M186.8 71.7h.1M205.3 77.3h.1M208.9 84.1h.1M195.2 77.3h.1M193.4 69.4h.1M190.8 93.2h.1M208.4 106.7h.1M211.0 89.9h.1M205.7 95.9h.1M205.2 74.6h.1M203.9 79.7h.1M184.7 88.6h.1M214.2 93.3h.1M217.8 90.7h.1M210.9 99.3h.1M186.6 79.2h.1M201.5 77.2h.1M205.9 98.2h.1M217.1 88.7h.1M228.7 98.8h.1M179.8 75.4h.1M175.3 84.6h.1M222.3 97.5h.1M185.7 90.8h.1M208.9 83.4h.1M228.6 95.1h.1M223.5 103.2h.1M190.3 90.2h.1M187.5 74.5h.1M214.4 87.5h.1M210.3 94.1h.1M217.1 98.0h.1M210.8 100.9h.1M198.2 97.9h.1M213.2 98.2h.1M205.1 94.9h.1M207.5 80.3h.1M211.0 73.0h.1M218.2 92.6h.1M211.0 84.2h.1M209.8 96.4h.1M200.1 82.8h.1M211.5 103.4h.1M184.8 49.2h.1M183.5 76.6h.1M207.9 90.6h.1M203.7 88.4h.1M213.9 92.7h.1M178.9 75.9h.1M188.3 46.0h.1M205.5 72.1h.1M191.8 92.2h.1M182.6 82.5h.1M210.3 79.3h.1M203.8 80.9h.1M187.5 90.0h.1M214.3 85.0h.1M188.3 91.7h.1M196.0 97.7h.1M206.0 96.7h.1M218.7 93.4h.1M205.8 77.5h.1M178.0 78.5h.1M210.9 82.7h.1M189.2 81.7h.1M211.9 90.8h.1M209.9 97.7h.1M200.8 88.6h.1M203.9 90.2h.1M180.4 65.7h.1M203.8 75.1h.1M230.4 88.2h.1M217.0 82.6h.1M206.1 73.3h.1M217.1 99.6h.1M203.8 100.8h.1M215.0 104.6h.1M204.7 104.5h.1M206.1 98.6h.1M177.2 72.7h.1" stroke="#d8d8d8" stroke-width="0.95" stroke-linecap="square" fill="none"/>
<path d="M185.2 78.0h.1M211.6 93.4h.1M210.8 89.1h.1M192.0 48.9h.1M208.7 67.0h.1M205.2 75.8h.1M177.7 79.8h.1M174.0 67.1h.1M206.0 74.6h.1M208.8 63.8h.1M181.6 69.1h.1M209.8 95.3h.1M186.1 75.1h.1M183.1 73.3h.1M199.8 83.6h.1M198.1 84.0h.1M186.2 69.0h.1M213.5 100.1h.1M201.3 81.8h.1M198.5 74.8h.1M190.7 70.7h.1M207.5 65.7h.1M188.4 75.4h.1M193.8 71.4h.1M178.2 74.3h.1M174.8 70.4h.1M195.7 73.0h.1M191.7 81.7h.1M186.2 87.5h.1M183.1 68.8h.1M195.1 75.6h.1M189.9 67.7h.1M187.4 51.9h.1M196.5 94.3h.1M181.4 71.7h.1M190.4 73.7h.1M196.0 73.4h.1M211.5 61.0h.1M178.9 78.1h.1M183.1 49.8h.1M187.2 51.2h.1M184.1 60.0h.1M194.1 89.7h.1M201.3 83.9h.1M186.2 48.2h.1M187.0 65.0h.1M192.2 75.8h.1M201.0 76.7h.1M214.8 64.0h.1M196.3 72.1h.1M186.2 49.4h.1M190.4 48.3h.1M175.2 81.5h.1M209.9 70.6h.1M176.3 74.3h.1M179.1 64.7h.1M199.1 83.5h.1M180.1 80.2h.1M194.8 84.9h.1M179.8 65.6h.1M182.0 47.6h.1M192.5 91.8h.1M195.6 75.4h.1M208.8 64.1h.1M183.7 84.6h.1M179.6 77.8h.1M194.6 77.7h.1M205.7 75.6h.1M212.0 98.0h.1M182.7 82.3h.1M184.1 75.1h.1M208.3 62.5h.1M210.1 81.8h.1M197.8 97.1h.1M186.3 56.5h.1M188.1 67.0h.1M186.0 83.8h.1M208.4 85.6h.1M184.1 48.3h.1M200.8 92.4h.1M190.6 65.5h.1M196.3 76.2h.1M175.8 65.6h.1M225.8 90.5h.1M182.4 71.8h.1M193.4 67.0h.1M186.6 62.6h.1M184.7 80.4h.1M183.6 50.4h.1M200.4 71.2h.1M214.4 68.2h.1M191.7 48.4h.1M185.7 92.5h.1M182.0 80.8h.1M188.0 77.4h.1M198.3 86.2h.1M172.7 73.5h.1M188.6 69.6h.1M188.2 51.3h.1M178.5 70.2h.1M203.0 69.9h.1M203.9 90.1h.1M190.6 73.7h.1M173.6 68.1h.1M215.7 63.1h.1M187.5 79.6h.1M198.3 94.0h.1M211.2 66.5h.1M182.1 68.6h.1M183.1 85.2h.1M191.7 49.3h.1M197.8 91.3h.1M183.5 54.0h.1M187.8 86.4h.1M186.8 51.1h.1M178.5 67.0h.1M189.7 51.4h.1M212.2 61.9h.1M214.9 63.4h.1M212.7 63.3h.1M218.7 96.3h.1M201.2 91.0h.1M195.2 73.8h.1M193.4 86.6h.1M185.9 58.0h.1M196.0 81.3h.1M183.3 82.4h.1M185.7 49.2h.1M203.0 105.2h.1M208.9 84.3h.1M205.0 70.3h.1M182.4 71.0h.1M185.5 58.7h.1M203.8 82.4h.1M192.5 66.5h.1M198.8 99.5h.1M174.0 78.5h.1M193.5 81.0h.1M200.0 73.6h.1M184.6 47.8h.1M190.2 64.6h.1M208.1 66.6h.1M217.4 66.2h.1M187.6 90.2h.1M182.6 54.0h.1M200.7 90.4h.1M197.9 91.4h.1M201.1 68.6h.1M208.1 87.7h.1M208.1 98.1h.1M204.7 69.3h.1M184.7 51.9h.1M184.3 67.3h.1M184.9 50.0h.1M204.7 71.0h.1M188.5 73.4h.1M212.3 60.9h.1M188.2 69.2h.1M206.6 65.3h.1M178.7 80.3h.1M187.6 51.2h.1M181.6 87.9h.1M183.4 59.9h.1M194.0 82.7h.1M211.2 70.7h.1M182.0 89.9h.1M185.9 77.1h.1M177.6 73.5h.1M196.7 80.2h.1M175.5 65.6h.1M207.1 77.4h.1M192.7 75.6h.1M173.9 75.8h.1M183.5 85.3h.1M186.3 77.5h.1M203.8 71.9h.1M173.0 72.5h.1M216.7 64.5h.1M206.5 78.1h.1M192.8 50.2h.1M202.0 74.7h.1M174.3 73.2h.1M187.1 61.8h.1M195.6 83.2h.1M218.0 65.2h.1M201.2 79.0h.1M189.6 85.8h.1M210.9 61.3h.1M186.5 48.5h.1M194.5 72.6h.1M197.0 83.8h.1M186.5 45.9h.1M200.0 81.9h.1M177.3 69.4h.1M194.7 73.4h.1M196.8 88.4h.1M192.7 68.1h.1M191.7 78.1h.1M182.5 61.7h.1M204.2 82.3h.1M201.9 94.8h.1M183.1 74.5h.1M194.6 72.8h.1M191.4 49.4h.1M195.2 73.5h.1M187.1 51.6h.1M210.3 69.5h.1M185.8 52.3h.1M173.3 72.4h.1M207.3 73.8h.1M210.2 74.2h.1M212.5 61.9h.1M185.2 59.6h.1M208.7 76.5h.1M195.7 65.2h.1M183.3 59.0h.1M171.4 76.1h.1M186.5 57.5h.1M200.2 66.4h.1M208.6 69.1h.1M212.6 72.6h.1M204.7 71.7h.1M210.2 71.0h.1M184.7 71.3h.1M191.0 46.7h.1M187.8 60.2h.1M186.0 56.9h.1M212.9 95.2h.1M204.7 69.9h.1M186.3 63.2h.1M203.9 102.0h.1M193.4 92.9h.1M210.2 69.5h.1M187.6 63.6h.1M203.8 79.1h.1M203.9 83.0h.1M188.1 87.3h.1M186.7 75.4h.1M195.0 80.4h.1M209.0 65.2h.1M175.1 67.6h.1M187.8 50.7h.1M202.9 69.6h.1M211.0 77.7h.1M198.5 99.7h.1M198.5 80.7h.1M182.6 69.6h.1M205.7 73.5h.1M197.5 100.4h.1M217.0 65.0h.1M194.5 99.1h.1M193.4 77.2h.1M213.9 62.1h.1M197.9 76.1h.1M211.1 61.9h.1M197.8 78.1h.1M207.1 77.1h.1M211.1 99.7h.1M209.2 78.0h.1M197.8 89.2h.1M177.1 79.4h.1M214.6 91.7h.1M189.4 88.4h.1M185.7 78.6h.1M198.9 74.7h.1M181.6 72.3h.1M189.6 75.5h.1M188.3 70.6h.1M184.6 50.1h.1M198.7 78.5h.1M177.1 69.1h.1M187.3 46.2h.1M192.0 66.2h.1M187.0 67.3h.1M202.1 87.1h.1M186.8 53.7h.1M210.0 65.9h.1M210.9 61.7h.1M208.6 62.0h.1M192.6 84.7h.1M182.7 83.6h.1M183.3 67.0h.1M212.7 62.3h.1M189.0 51.6h.1M203.5 72.6h.1M199.6 91.0h.1M192.8 86.4h.1M174.8 75.1h.1M196.0 67.4h.1M212.0 68.8h.1M213.4 68.8h.1M185.3 87.9h.1M206.3 83.8h.1M176.8 78.9h.1M183.7 47.9h.1M201.5 76.7h.1M174.9 65.8h.1M174.6 68.5h.1M193.2 72.3h.1M187.7 75.6h.1M195.4 88.5h.1M201.9 88.1h.1M174.5 82.0h.1M172.2 69.2h.1M183.3 56.6h.1M184.6 47.7h.1M193.0 68.1h.1M194.9 80.6h.1M197.9 78.0h.1M187.1 77.1h.1M208.7 70.8h.1M182.1 84.6h.1M188.3 85.6h.1M189.7 50.2h.1M179.1 82.5h.1M194.3 85.4h.1M173.9 74.1h.1M195.4 72.7h.1M189.5 76.5h.1M194.0 95.7h.1M183.7 87.2h.1M180.3 74.2h.1M178.0 77.2h.1M173.5 77.0h.1M187.6 79.6h.1M183.1 89.0h.1M175.1 79.2h.1M177.6 81.6h.1M186.3 55.2h.1M188.7 87.0h.1M203.4 92.1h.1M201.4 66.3h.1M202.6 85.8h.1M220.2 89.0h.1M194.7 66.1h.1M180.2 87.0h.1M180.2 64.5h.1M181.9 78.5h.1M183.5 69.8h.1M187.3 78.8h.1M188.3 94.1h.1M201.9 81.9h.1M187.7 48.9h.1M199.9 86.6h.1M173.8 70.2h.1M191.6 70.4h.1M191.0 84.7h.1M192.4 66.9h.1M187.0 86.7h.1M204.0 83.7h.1M183.9 86.4h.1M182.8 90.0h.1M218.3 63.0h.1M197.6 67.3h.1M185.4 60.3h.1M177.9 73.6h.1M195.4 90.8h.1M181.4 75.0h.1M178.9 78.0h.1M181.1 67.2h.1M209.7 65.0h.1M178.5 72.3h.1M204.8 77.3h.1M205.9 84.4h.1M201.5 84.0h.1M190.6 72.5h.1M188.0 49.5h.1M181.5 72.0h.1M206.3 80.0h.1M182.1 74.2h.1M197.9 97.9h.1M195.8 87.6h.1M186.4 72.1h.1M196.0 79.1h.1M209.5 97.0h.1M191.6 73.5h.1M209.8 68.7h.1M177.7 70.6h.1M193.3 98.2h.1M183.1 50.8h.1M182.5 47.5h.1M197.1 87.3h.1M196.9 96.8h.1M211.7 76.3h.1M193.4 78.0h.1M199.0 77.3h.1M203.3 92.2h.1M186.3 71.6h.1M174.0 74.0h.1M212.1 63.6h.1M179.2 81.3h.1M178.5 83.9h.1M218.6 64.5h.1M203.4 92.1h.1M176.1 83.6h.1M182.5 47.2h.1M198.4 86.1h.1M208.6 86.7h.1M196.7 71.4h.1M174.0 72.9h.1M206.2 73.2h.1M181.1 69.3h.1M208.9 83.2h.1M208.6 73.1h.1M210.2 64.6h.1M213.9 91.7h.1M190.5 82.1h.1M172.9 68.3h.1M192.9 67.3h.1M216.5 63.6h.1M198.4 94.3h.1M188.9 86.2h.1M216.3 66.7h.1M199.7 93.1h.1M185.2 82.2h.1M203.2 77.9h.1M185.9 80.3h.1M186.7 65.8h.1M192.3 97.0h.1M194.5 99.3h.1M210.5 96.8h.1M197.5 74.5h.1M201.0 72.1h.1M202.3 70.2h.1M178.9 76.7h.1M215.7 65.0h.1M193.0 66.4h.1M186.6 88.2h.1M199.7 67.6h.1M203.6 76.2h.1M204.3 69.2h.1M186.8 75.6h.1M215.5 63.7h.1M177.1 82.9h.1M193.5 86.6h.1M174.2 73.2h.1M204.2 68.1h.1M177.9 82.9h.1M199.2 89.5h.1M190.7 68.1h.1M195.4 82.6h.1M197.3 81.8h.1M176.4 75.2h.1M185.8 67.6h.1M190.4 83.7h.1M189.6 80.9h.1M206.5 83.0h.1M205.3 73.0h.1M186.4 71.3h.1M195.4 80.9h.1M185.4 48.4h.1M203.7 83.0h.1M176.4 82.4h.1M197.4 78.6h.1M191.8 50.7h.1M181.3 80.8h.1M208.8 85.9h.1M196.9 78.1h.1M176.9 77.7h.1M192.3 93.0h.1M185.3 45.8h.1M187.8 83.8h.1M195.7 72.3h.1M180.4 60.9h.1M194.7 88.9h.1M185.8 50.3h.1M185.3 85.3h.1M213.5 61.9h.1M213.8 64.2h.1M178.7 75.3h.1M178.6 83.8h.1M175.3 71.1h.1M188.9 83.8h.1M192.8 67.2h.1M188.4 51.4h.1M211.1 63.7h.1M186.5 70.7h.1M188.8 69.3h.1M173.9 71.8h.1M193.7 86.8h.1M184.4 85.3h.1M214.6 65.8h.1M199.3 76.8h.1M179.9 79.6h.1M191.8 48.2h.1M190.2 75.7h.1M215.8 96.7h.1M211.1 79.3h.1M211.1 64.5h.1M182.9 51.7h.1M190.7 49.1h.1M185.9 65.1h.1M189.9 67.4h.1M180.3 86.2h.1M191.6 94.3h.1M190.9 66.7h.1M195.4 77.8h.1M178.1 65.5h.1M188.6 72.7h.1M206.0 90.5h.1M194.8 82.0h.1M192.6 79.4h.1M188.3 72.6h.1M178.8 75.0h.1M189.1 88.9h.1M198.7 80.9h.1M197.4 87.8h.1M181.7 80.4h.1M176.8 70.8h.1M191.8 89.4h.1M204.9 71.0h.1M191.8 89.5h.1M181.8 48.6h.1M189.2 88.5h.1M185.7 94.0h.1M203.9 70.5h.1M186.5 51.3h.1M180.6 68.8h.1M190.5 81.0h.1M198.7 78.6h.1M180.3 62.6h.1M184.8 46.0h.1M185.3 71.1h.1M181.6 68.6h.1M195.5 87.9h.1M176.3 77.3h.1M208.9 65.1h.1M196.4 67.0h.1M188.6 91.6h.1M198.5 77.6h.1M203.3 92.9h.1M180.5 64.3h.1M201.6 81.4h.1M190.4 95.3h.1M190.1 62.9h.1M203.0 81.5h.1M175.3 65.7h.1M190.2 97.5h.1M196.4 81.3h.1M203.3 88.5h.1M190.4 76.3h.1M193.1 78.0h.1M184.5 74.4h.1M197.9 72.9h.1M182.2 82.3h.1M184.8 74.1h.1M195.0 92.6h.1M185.5 72.7h.1M182.1 50.0h.1M205.5 83.9h.1M213.0 68.1h.1M194.0 94.9h.1M192.9 76.1h.1M203.6 70.5h.1M183.0 68.7h.1M210.9 65.4h.1M198.6 71.0h.1M198.5 67.0h.1M185.5 50.1h.1M203.4 91.0h.1M190.2 69.2h.1M215.7 63.1h.1M179.3 84.1h.1M182.8 90.3h.1M187.1 52.0h.1M210.3 65.1h.1M188.6 51.0h.1M191.3 96.9h.1M190.9 51.6h.1M189.4 77.2h.1M186.3 81.3h.1M190.3 75.5h.1M214.9 63.2h.1M202.7 87.3h.1M178.1 83.2h.1M186.8 81.3h.1M179.4 71.8h.1M179.7 82.2h.1M194.5 73.2h.1M175.9 70.8h.1M208.9 68.6h.1M183.7 46.6h.1M206.8 84.0h.1M175.3 82.5h.1M185.8 52.0h.1M179.3 72.2h.1M204.9 74.4h.1M183.5 66.6h.1M174.9 66.1h.1M188.8 67.7h.1M189.6 76.3h.1M190.0 74.0h.1M187.3 60.2h.1M206.2 85.0h.1M181.2 77.9h.1M182.5 47.4h.1M193.6 73.4h.1M194.1 89.5h.1M188.2 46.8h.1M175.8 65.9h.1M186.5 90.4h.1M191.0 93.6h.1M188.5 47.3h.1M201.0 101.0h.1M187.4 56.1h.1M185.3 87.2h.1M180.1 65.4h.1M186.6 77.1h.1M209.5 75.1h.1M212.8 64.3h.1M208.4 65.5h.1M173.5 74.9h.1M202.6 87.9h.1M190.4 68.8h.1M178.2 73.2h.1M189.1 74.6h.1M190.1 84.1h.1M213.8 64.0h.1M172.0 73.3h.1M220.3 96.9h.1M181.7 49.1h.1M201.8 82.2h.1M187.7 47.6h.1M187.4 90.3h.1M215.5 66.1h.1M199.4 90.7h.1M202.2 68.3h.1M187.0 88.0h.1M192.3 71.4h.1M188.7 46.5h.1M208.7 86.2h.1M177.0 71.7h.1M187.8 72.2h.1M181.1 64.0h.1M172.3 71.5h.1M180.2 62.2h.1M187.6 77.1h.1M193.7 83.1h.1M182.6 83.7h.1M199.3 73.3h.1M178.9 82.5h.1M202.8 88.6h.1M182.9 88.3h.1M197.5 78.5h.1M174.8 75.1h.1M184.6 78.8h.1M174.9 81.4h.1M208.4 85.4h.1M197.3 83.3h.1M210.9 82.6h.1M187.7 71.2h.1M204.9 86.3h.1M191.0 85.1h.1M199.3 86.6h.1M179.3 65.9h.1M189.5 48.2h.1M186.6 74.5h.1M191.2 91.9h.1M193.1 76.2h.1M184.1 49.2h.1M188.0 67.2h.1M198.4 86.6h.1M178.7 69.4h.1M211.3 62.6h.1M214.7 80.3h.1M187.6 85.6h.1M173.7 73.6h.1M196.2 76.0h.1M196.2 79.6h.1M188.2 87.9h.1M179.0 66.4h.1M207.1 83.5h.1M208.1 71.0h.1M190.8 64.9h.1M208.5 80.1h.1M188.8 72.0h.1M188.5 75.3h.1M213.6 63.5h.1M181.6 71.6h.1M199.6 98.8h.1M181.4 74.5h.1M190.5 48.3h.1M206.3 76.7h.1M183.9 52.6h.1M206.1 65.4h.1M176.5 82.0h.1M185.1 81.0h.1M189.9 95.1h.1M194.8 87.4h.1M210.2 68.6h.1M192.7 80.8h.1M195.7 74.7h.1M200.2 71.5h.1M190.4 49.6h.1M183.2 86.7h.1M216.9 86.2h.1M216.2 65.5h.1M204.0 74.1h.1M198.4 75.5h.1M191.8 86.1h.1M180.9 73.7h.1M189.9 48.8h.1M184.7 75.7h.1M210.1 69.4h.1M211.1 94.3h.1M186.3 48.4h.1M175.1 72.6h.1M196.8 77.8h.1M195.0 83.8h.1M194.7 82.4h.1M185.8 48.4h.1M199.0 90.1h.1M226.6 101.5h.1M185.6 49.3h.1M203.1 89.8h.1M186.8 92.2h.1M177.6 71.7h.1M203.1 91.8h.1M181.8 81.7h.1M198.2 85.3h.1M175.7 83.5h.1M190.2 52.0h.1M184.8 73.2h.1M174.1 68.4h.1M194.3 87.6h.1M212.1 103.2h.1M193.6 97.7h.1M197.0 86.3h.1M186.2 51.4h.1M184.9 75.1h.1M194.6 71.8h.1M187.7 87.4h.1M185.6 86.0h.1" stroke="#b3372c" stroke-width="0.95" stroke-linecap="square" fill="none"/>
<path d="M196.9 97.4h.1M198.8 94.6h.1M194.5 72.7h.1M208.5 70.5h.1M190.8 64.2h.1M205.2 106.6h.1M220.7 98.7h.1M196.9 100.5h.1M187.5 86.1h.1M185.5 65.8h.1M214.8 96.3h.1M208.6 96.3h.1M226.5 101.4h.1M213.2 104.5h.1M235.7 99.7h.1M205.7 105.2h.1M190.9 78.4h.1M188.0 46.9h.1M197.3 97.1h.1M217.4 95.2h.1M219.7 100.2h.1M185.3 89.1h.1M196.2 95.5h.1M192.0 93.5h.1M211.8 76.3h.1M179.0 82.5h.1M207.0 104.7h.1M188.4 74.5h.1M192.5 91.9h.1M206.0 90.8h.1M222.4 92.7h.1M207.5 101.8h.1M182.7 87.3h.1M182.1 80.4h.1M232.7 98.9h.1M183.5 80.8h.1M192.2 87.7h.1M221.4 96.0h.1M194.2 97.9h.1M208.4 96.7h.1M181.2 86.1h.1M192.2 94.2h.1M203.5 102.8h.1M210.0 98.0h.1M212.4 96.4h.1M188.6 96.5h.1M209.5 100.0h.1M204.2 78.6h.1M210.8 75.6h.1M206.2 78.7h.1M222.3 92.5h.1M190.1 73.1h.1M209.8 86.3h.1M206.8 80.0h.1M191.2 94.6h.1M214.7 106.2h.1M211.2 96.7h.1M214.8 104.1h.1M175.5 72.4h.1M173.6 72.2h.1M190.2 95.9h.1M196.9 84.3h.1M208.4 93.7h.1M200.0 95.8h.1M195.7 78.5h.1M190.6 94.0h.1M227.0 89.9h.1M205.7 91.3h.1M201.4 89.2h.1M196.1 96.4h.1M183.1 87.1h.1M202.8 71.7h.1M183.2 46.9h.1M200.4 94.5h.1M209.5 104.9h.1M212.2 76.0h.1M214.1 83.5h.1M183.2 74.8h.1M195.1 83.4h.1M195.6 78.2h.1M207.1 84.6h.1M208.5 95.0h.1M200.1 92.2h.1M210.1 91.7h.1M205.9 90.7h.1M217.7 88.9h.1M211.0 90.3h.1M224.5 96.1h.1M187.0 92.9h.1M182.7 87.3h.1M204.8 99.4h.1M213.8 94.0h.1M193.0 94.6h.1M200.0 95.3h.1M195.2 96.4h.1M186.4 60.0h.1M203.0 88.8h.1M231.8 95.3h.1M185.5 81.3h.1M177.2 86.2h.1M187.5 89.3h.1M187.0 95.2h.1M203.5 100.9h.1M206.6 82.6h.1M207.6 73.1h.1M212.9 84.1h.1M215.5 105.1h.1M182.9 58.0h.1M202.2 75.9h.1M217.7 85.6h.1M198.2 98.3h.1M178.3 85.7h.1M200.3 86.1h.1M172.6 77.3h.1M201.5 73.6h.1M230.4 94.5h.1M181.1 79.1h.1M210.8 81.0h.1M207.5 86.5h.1M212.3 97.3h.1M198.5 98.9h.1M182.9 89.5h.1M204.1 101.4h.1M195.1 92.5h.1M179.5 77.0h.1M172.5 75.8h.1M205.4 100.9h.1M196.9 99.9h.1M215.8 98.2h.1M214.8 106.1h.1M217.1 101.4h.1M207.5 78.8h.1M216.9 106.8h.1M218.9 92.8h.1M186.6 57.7h.1M202.0 92.5h.1M207.0 78.6h.1M228.8 88.3h.1M204.4 99.1h.1M233.5 94.7h.1M186.7 51.4h.1M197.5 92.6h.1M230.4 105.8h.1M196.4 87.0h.1M218.5 89.0h.1M195.0 96.7h.1M192.0 81.4h.1M202.7 96.9h.1M180.6 68.9h.1M212.6 94.5h.1M204.1 98.1h.1M188.1 94.5h.1M209.1 95.2h.1M204.0 76.4h.1M197.1 99.3h.1M206.4 96.6h.1M211.1 104.1h.1M204.1 78.7h.1M193.5 92.5h.1M187.7 70.2h.1M183.3 87.9h.1M212.2 90.5h.1M207.5 88.8h.1M200.4 79.8h.1M197.0 97.7h.1M221.1 93.9h.1M184.6 90.6h.1M231.7 91.6h.1M204.6 98.5h.1M205.4 74.4h.1M209.3 79.0h.1M183.6 85.1h.1M201.5 92.4h.1M205.5 94.1h.1M177.9 82.7h.1M209.3 79.7h.1M190.9 94.7h.1M209.3 71.7h.1M188.9 74.4h.1M214.0 105.3h.1M208.4 87.8h.1M200.7 82.8h.1M235.2 93.1h.1M211.5 96.2h.1M213.5 93.5h.1M218.1 99.1h.1M189.9 97.8h.1M209.8 99.0h.1M204.8 90.1h.1M206.6 74.7h.1M194.7 86.6h.1M210.3 78.2h.1M194.3 91.7h.1M196.7 94.3h.1M215.9 87.7h.1M185.5 92.8h.1M203.4 93.4h.1M205.6 92.3h.1M206.6 90.6h.1M203.6 83.0h.1M195.9 92.6h.1M212.1 71.1h.1M211.9 95.3h.1M220.9 91.3h.1M211.8 88.5h.1M204.3 83.1h.1M214.2 83.0h.1M183.3 86.6h.1M205.3 101.0h.1M207.3 77.3h.1M204.3 98.9h.1M224.6 93.3h.1M185.3 82.9h.1M192.6 93.8h.1M191.0 96.8h.1M218.4 102.9h.1M204.9 101.5h.1M194.2 93.7h.1M217.0 91.7h.1M205.1 89.0h.1M218.6 95.3h.1M201.1 76.7h.1M212.4 93.5h.1M211.3 72.9h.1M189.0 83.9h.1M195.7 92.6h.1M185.3 64.8h.1M225.2 100.7h.1M222.5 103.5h.1M220.3 104.9h.1M197.4 95.7h.1M195.1 99.1h.1M207.4 106.2h.1M212.0 101.2h.1M211.8 88.4h.1M200.8 91.1h.1M183.1 90.3h.1M198.5 92.8h.1M229.2 93.1h.1M196.0 96.8h.1M220.2 87.9h.1M176.7 85.1h.1M214.3 107.0h.1M199.3 97.6h.1M182.6 87.5h.1M172.1 71.3h.1M224.5 104.9h.1M215.2 104.6h.1M192.4 99.3h.1M214.1 92.4h.1M221.5 103.0h.1M199.8 95.6h.1M193.5 47.6h.1M207.1 95.4h.1M213.3 86.4h.1M202.7 74.0h.1M212.8 83.8h.1M205.5 73.4h.1M184.6 77.8h.1M192.3 97.5h.1M201.5 76.5h.1M216.8 86.8h.1M189.1 95.4h.1M182.0 84.5h.1M205.2 98.1h.1M185.3 58.2h.1M210.1 107.1h.1M177.6 66.1h.1M201.9 105.9h.1M218.5 87.3h.1M176.4 66.6h.1M198.0 95.2h.1M229.0 89.8h.1M204.7 85.7h.1M193.1 95.1h.1M178.1 85.7h.1M208.5 78.3h.1M210.4 94.2h.1M189.7 93.9h.1M222.4 105.8h.1M201.0 103.1h.1M207.6 80.9h.1M191.4 96.9h.1M187.2 90.1h.1M189.1 96.5h.1M202.5 73.8h.1M220.0 99.5h.1M176.2 72.9h.1M192.4 93.0h.1M176.0 80.6h.1M178.1 72.1h.1M190.0 89.9h.1M210.0 89.2h.1M209.1 95.2h.1M204.5 97.2h.1M237.1 96.6h.1M212.4 101.6h.1M208.9 93.8h.1M194.5 95.9h.1M219.0 90.1h.1M202.8 105.2h.1M211.8 77.9h.1M203.2 99.4h.1M207.9 105.1h.1M189.3 94.0h.1M193.6 78.0h.1M207.5 107.1h.1M217.9 97.4h.1M201.9 83.8h.1M216.4 108.0h.1M208.4 89.7h.1M208.9 103.3h.1M192.7 98.3h.1M221.0 90.5h.1M211.1 92.4h.1M211.6 80.9h.1M203.0 99.1h.1M231.1 93.1h.1M213.6 101.9h.1M214.0 96.6h.1M223.4 99.3h.1M224.1 104.7h.1M201.9 98.9h.1M227.2 92.4h.1M197.7 97.8h.1M177.1 65.5h.1M222.8 102.4h.1M203.7 76.1h.1M209.2 98.2h.1M204.6 79.9h.1M208.0 85.5h.1M228.8 95.9h.1M191.6 74.1h.1M183.8 71.3h.1M220.3 88.4h.1M209.3 73.0h.1M207.6 77.2h.1M196.7 96.4h.1M197.0 80.8h.1M181.5 70.4h.1M201.9 99.7h.1M216.9 84.5h.1M196.4 70.9h.1M223.8 100.7h.1M192.7 89.0h.1M203.8 87.6h.1M191.2 91.8h.1M215.9 105.3h.1M204.8 81.7h.1M179.8 88.7h.1M204.5 88.4h.1M214.8 86.9h.1M229.8 90.4h.1M210.0 62.3h.1M202.8 82.8h.1M198.9 86.9h.1M209.4 105.7h.1M209.2 89.6h.1M209.0 86.5h.1M204.2 71.2h.1M217.5 104.4h.1M190.3 73.0h.1M214.3 90.0h.1M183.3 53.8h.1M230.2 91.4h.1M204.8 92.8h.1M215.4 87.8h.1M190.5 94.8h.1M201.7 95.5h.1M192.4 77.8h.1M209.9 71.5h.1M210.6 77.6h.1M201.0 72.5h.1M203.2 93.9h.1M203.9 94.7h.1M195.5 95.2h.1M178.3 66.8h.1M194.2 91.2h.1M210.8 106.4h.1M209.9 93.6h.1M215.7 100.4h.1M203.8 92.7h.1M216.8 100.0h.1M210.7 88.3h.1M208.8 102.5h.1M188.2 70.8h.1M218.4 95.2h.1M204.4 74.9h.1M183.1 56.2h.1M185.4 78.0h.1M201.9 104.1h.1M214.1 106.6h.1M215.0 97.0h.1M194.6 99.6h.1M198.0 97.0h.1M197.0 97.0h.1M203.1 83.9h.1M205.1 103.3h.1M184.1 76.6h.1M192.1 91.7h.1M206.7 85.5h.1M182.8 89.6h.1M209.0 98.1h.1M197.6 85.8h.1M203.6 78.6h.1M187.7 87.2h.1M195.1 91.9h.1M185.2 88.5h.1M229.5 96.3h.1M214.8 65.0h.1M209.9 69.2h.1M209.3 108.0h.1M211.7 85.1h.1M213.4 84.7h.1M207.0 75.2h.1M214.6 99.0h.1M209.9 93.3h.1M192.9 98.6h.1M200.6 95.1h.1M197.2 70.8h.1M210.2 88.2h.1M207.5 103.9h.1M189.1 85.5h.1M208.4 87.1h.1M208.6 85.6h.1M210.5 83.8h.1M209.8 90.6h.1M205.5 93.0h.1M193.5 94.9h.1M193.8 99.0h.1M187.7 74.5h.1M203.5 96.3h.1M225.1 96.2h.1M207.9 94.7h.1M221.0 104.7h.1M184.6 88.6h.1M204.5 91.6h.1M214.9 93.6h.1M184.8 76.6h.1M185.6 89.8h.1M213.7 86.9h.1M202.1 74.3h.1M192.3 79.1h.1M202.5 74.4h.1M214.4 96.2h.1M205.1 104.4h.1M186.4 51.4h.1M187.2 93.7h.1M209.2 86.0h.1M226.5 106.2h.1M193.8 76.6h.1M211.1 71.4h.1M202.6 82.4h.1M188.4 70.8h.1M204.3 84.3h.1M213.1 105.0h.1" stroke="#d8d8d8" stroke-width="0.95" stroke-linecap="square" fill="none"/>
<path d="M193.3 65.6h.1M192.0 86.3h.1M196.7 94.8h.1M200.1 68.9h.1M189.4 63.8h.1M197.8 87.4h.1M194.7 98.4h.1M187.3 47.3h.1M177.7 76.3h.1M204.0 69.3h.1M190.2 73.4h.1M176.5 79.1h.1M190.2 68.6h.1M210.8 69.3h.1M181.2 89.3h.1M196.7 88.4h.1M196.8 73.0h.1M181.5 68.6h.1M206.2 87.0h.1M192.7 50.2h.1M182.0 58.4h.1M184.7 68.4h.1M178.7 77.4h.1M175.9 84.8h.1M175.7 84.6h.1M187.0 76.4h.1M199.0 67.6h.1M188.7 72.1h.1M208.0 64.3h.1M198.0 73.2h.1M207.9 89.1h.1M175.1 65.9h.1M182.8 59.1h.1M182.4 66.9h.1M235.6 100.4h.1M206.8 68.4h.1M188.3 80.4h.1M188.2 85.3h.1M209.4 93.4h.1M192.4 71.2h.1M190.2 49.6h.1M229.6 102.2h.1M174.9 71.1h.1M198.7 70.2h.1M184.6 49.1h.1M198.2 87.8h.1M186.0 60.7h.1M185.8 83.6h.1M176.8 78.2h.1M181.0 79.5h.1M199.2 82.8h.1M203.2 90.2h.1M199.0 73.1h.1M173.3 74.6h.1M189.8 70.2h.1M185.7 76.1h.1M188.8 66.1h.1M202.4 70.2h.1M192.7 90.4h.1M208.3 75.2h.1M183.7 68.7h.1M177.3 72.3h.1M187.1 81.5h.1M214.0 61.7h.1M189.1 76.6h.1M187.8 74.1h.1M182.0 81.4h.1M196.9 70.8h.1M185.8 82.2h.1M173.4 76.4h.1M207.9 64.7h.1M206.8 78.8h.1M207.5 69.1h.1M174.8 72.5h.1M180.4 73.2h.1M193.5 71.2h.1M188.8 47.1h.1M192.8 85.4h.1M206.7 71.0h.1M179.9 82.7h.1M191.0 79.0h.1M213.1 61.6h.1M175.0 72.4h.1M206.9 69.9h.1M197.8 42.7h.1M171.1 72.6h.1M180.3 67.3h.1M210.4 70.2h.1M178.4 78.6h.1M186.0 87.6h.1M202.5 91.1h.1M205.5 67.7h.1M171.8 69.4h.1M202.7 83.6h.1M197.8 88.0h.1M199.2 74.9h.1M187.0 47.8h.1M195.7 76.3h.1M182.2 49.2h.1M187.9 84.6h.1M183.1 69.0h.1M207.4 71.7h.1M183.2 85.6h.1M197.2 90.6h.1M183.4 73.2h.1M212.3 63.3h.1M194.2 72.6h.1M184.4 49.0h.1M205.3 93.9h.1M171.6 74.3h.1M191.2 79.3h.1M174.3 72.0h.1M212.6 61.3h.1M181.1 85.0h.1M179.5 68.5h.1M208.7 100.2h.1M199.7 85.6h.1M208.3 62.4h.1M206.6 79.6h.1M195.5 97.3h.1M190.4 94.9h.1M184.8 47.7h.1M173.0 69.2h.1M185.1 52.9h.1M189.1 80.4h.1M235.7 99.5h.1M175.7 74.0h.1M184.3 77.3h.1M192.0 77.5h.1M183.7 65.6h.1M211.3 62.2h.1M202.8 70.5h.1M185.1 78.7h.1M187.1 59.2h.1M184.1 74.2h.1M187.2 64.8h.1M199.0 92.1h.1M184.5 68.9h.1M184.1 87.3h.1M184.6 67.2h.1M182.8 90.7h.1M185.8 85.9h.1M206.1 65.4h.1M192.2 84.5h.1M182.7 59.8h.1M189.7 48.9h.1M186.3 64.9h.1M203.8 66.6h.1M203.2 69.4h.1M206.4 80.1h.1M217.3 62.7h.1M182.4 69.6h.1M192.0 83.7h.1M184.0 50.2h.1M197.9 86.4h.1M190.8 76.9h.1M208.9 81.5h.1M197.9 86.9h.1M187.9 80.4h.1M192.0 82.1h.1M179.4 64.8h.1M177.1 69.3h.1M176.4 74.9h.1M181.7 81.8h.1M194.1 75.9h.1M187.1 68.6h.1M190.2 65.1h.1M179.7 87.0h.1M187.2 86.7h.1M188.7 62.7h.1M204.0 70.0h.1M203.5 69.2h.1M188.9 90.2h.1M204.1 80.7h.1M185.6 57.5h.1M229.4 95.1h.1M194.5 65.5h.1M193.2 98.2h.1M178.7 64.3h.1M183.6 47.2h.1M206.4 65.2h.1M176.8 72.2h.1M198.8 84.7h.1M206.7 69.4h.1M190.5 82.7h.1M208.8 68.3h.1M198.7 94.4h.1M197.3 89.2h.1M180.9 59.4h.1M186.1 71.9h.1M187.0 62.8h.1M213.4 67.1h.1M181.6 69.8h.1M186.0 82.8h.1M180.9 74.5h.1M185.1 57.9h.1M191.8 70.5h.1M194.5 83.6h.1M193.3 78.9h.1M213.9 106.1h.1M171.3 73.3h.1M187.0 57.3h.1M205.0 91.7h.1M194.3 79.2h.1M186.9 86.2h.1M199.9 85.8h.1M184.2 73.4h.1M190.3 83.2h.1M195.2 89.5h.1M180.2 86.3h.1M188.2 48.6h.1M210.6 83.7h.1M198.7 96.9h.1M216.9 63.1h.1M195.9 77.3h.1M192.5 97.1h.1M197.6 92.9h.1M181.0 72.0h.1M183.0 75.2h.1M211.5 65.7h.1M189.1 51.2h.1M178.7 75.8h.1M189.4 64.7h.1M207.5 78.1h.1M197.9 77.9h.1M205.6 71.6h.1M195.5 71.9h.1M188.6 86.4h.1M198.3 90.3h.1M183.0 57.1h.1M192.1 65.8h.1M204.3 84.7h.1M187.1 69.8h.1M187.7 51.9h.1M180.3 66.5h.1M194.6 92.5h.1M197.5 73.8h.1M196.9 77.1h.1M208.8 69.0h.1M178.5 64.6h.1M197.5 65.6h.1M212.2 64.7h.1M185.2 84.9h.1M189.0 51.6h.1M175.0 71.1h.1M200.6 81.1h.1M205.2 78.8h.1M177.8 80.5h.1M184.2 82.0h.1M199.1 86.1h.1M172.7 69.4h.1M209.4 84.9h.1M197.5 86.2h.1M198.6 68.3h.1M212.7 68.4h.1M211.6 70.7h.1M186.5 78.0h.1M180.1 74.2h.1M185.2 79.3h.1M189.8 73.3h.1M204.9 67.2h.1M184.1 46.1h.1M187.0 60.6h.1M181.9 68.3h.1M204.1 80.6h.1M174.3 71.8h.1M198.4 77.9h.1M184.3 76.8h.1M189.8 66.8h.1M182.2 77.9h.1M189.4 83.2h.1M174.4 75.2h.1M202.8 92.1h.1M183.3 72.0h.1M200.8 75.1h.1M191.4 67.3h.1M187.5 69.7h.1M186.9 63.4h.1M197.9 84.2h.1M188.3 83.2h.1M173.5 74.2h.1M189.3 46.2h.1M191.0 89.8h.1M203.2 91.3h.1M181.6 73.2h.1M215.7 101.1h.1M210.9 80.3h.1M196.2 87.1h.1M207.0 67.1h.1M202.8 89.3h.1M207.4 80.5h.1M206.2 75.8h.1M183.9 72.5h.1M200.1 80.1h.1M176.5 68.7h.1M185.5 74.6h.1M209.1 87.0h.1M204.2 68.0h.1M188.4 87.3h.1M184.0 86.9h.1M176.9 83.0h.1M175.5 82.9h.1M175.7 83.2h.1M177.1 80.5h.1M196.7 77.5h.1M183.2 74.7h.1M181.8 83.1h.1M196.0 90.7h.1M193.7 97.2h.1M194.6 78.6h.1M177.3 75.7h.1M206.1 77.4h.1M213.5 88.1h.1M199.2 83.0h.1M195.6 89.0h.1M186.8 92.5h.1M185.9 76.9h.1M175.0 82.1h.1M173.9 68.6h.1M174.2 76.1h.1M207.1 71.5h.1M186.2 90.0h.1M180.4 84.4h.1M203.7 69.9h.1M201.7 78.3h.1M190.0 89.4h.1M211.5 63.7h.1M196.7 74.6h.1M183.1 62.1h.1M205.3 75.0h.1M191.0 66.2h.1M186.0 51.0h.1M188.8 80.9h.1M203.1 79.8h.1M175.1 83.6h.1M185.2 75.1h.1M186.1 82.7h.1M174.9 66.9h.1M188.5 52.1h.1M179.0 72.7h.1M172.9 75.8h.1M188.3 71.7h.1M199.1 91.3h.1M172.6 71.2h.1M174.3 66.9h.1M175.8 76.8h.1M177.9 78.3h.1M179.5 63.2h.1M185.4 75.4h.1M187.0 49.1h.1M209.3 86.7h.1M182.2 68.6h.1M171.4 73.9h.1M180.4 67.9h.1M178.9 68.2h.1M190.7 48.9h.1M172.1 78.0h.1M236.9 93.6h.1M198.8 68.5h.1M188.3 65.1h.1M176.8 66.2h.1M211.4 106.3h.1M180.4 63.3h.1M196.7 72.7h.1M212.0 68.1h.1M196.9 80.1h.1M196.5 82.0h.1M208.8 62.4h.1M192.0 69.7h.1M203.6 86.8h.1M176.2 76.6h.1M181.8 70.5h.1M181.1 80.0h.1M197.4 80.9h.1M181.8 72.2h.1M194.4 73.1h.1M211.1 74.5h.1M190.0 65.6h.1M209.8 80.7h.1M181.8 60.3h.1M190.8 47.9h.1M186.4 78.2h.1M204.6 68.7h.1M175.6 81.4h.1M194.7 80.4h.1M191.0 82.3h.1M172.1 72.6h.1M180.0 75.6h.1M187.4 69.5h.1M188.3 66.5h.1M196.9 70.8h.1M198.5 86.3h.1M198.8 72.5h.1M183.0 81.3h.1M187.5 50.2h.1M188.0 88.7h.1M189.1 70.5h.1M193.0 67.8h.1M185.3 71.0h.1M199.4 88.6h.1M207.1 98.4h.1M183.0 60.0h.1M187.0 77.6h.1M181.5 81.6h.1M209.9 73.6h.1M211.5 68.5h.1M180.1 63.1h.1M187.2 53.2h.1M203.7 84.2h.1M196.0 88.9h.1M217.4 63.1h.1M186.0 77.1h.1M177.1 82.7h.1M192.7 75.8h.1M197.8 84.6h.1M189.9 78.5h.1M185.8 48.7h.1M187.6 62.7h.1M209.8 62.2h.1M172.1 76.1h.1M198.4 44.8h.1M196.1 79.5h.1M185.4 68.9h.1M188.2 64.1h.1M182.2 65.3h.1M186.8 58.0h.1M185.5 89.7h.1M211.0 62.6h.1M182.1 60.7h.1M175.1 82.5h.1M190.5 71.5h.1M191.0 84.0h.1M189.2 83.3h.1M182.3 86.1h.1M186.6 55.1h.1M205.7 76.9h.1M196.6 78.1h.1M181.6 69.6h.1M201.8 94.5h.1M191.3 79.2h.1M181.0 86.0h.1M188.9 61.6h.1M183.5 67.8h.1M192.7 76.6h.1M183.2 85.6h.1M194.8 70.1h.1M192.1 50.2h.1M185.6 51.3h.1M201.7 81.2h.1M200.5 66.1h.1M192.0 84.4h.1M189.5 91.1h.1M189.0 85.0h.1M192.1 68.3h.1M203.0 69.2h.1M189.4 51.2h.1M175.8 67.4h.1M200.1 44.2h.1M172.7 78.2h.1M178.1 67.7h.1M182.7 78.2h.1M188.4 96.5h.1M173.6 68.3h.1M178.8 77.0h.1M195.8 88.3h.1M212.8 68.8h.1M204.0 69.5h.1M180.8 85.5h.1M190.0 85.0h.1M213.7 65.6h.1M188.1 46.0h.1M184.5 77.2h.1M189.5 47.8h.1M197.3 79.4h.1M213.5 68.8h.1M201.3 90.0h.1M179.2 70.2h.1M174.1 67.5h.1M195.4 84.9h.1M184.5 69.6h.1M179.2 71.7h.1M212.4 69.3h.1M187.8 80.4h.1M182.3 69.3h.1M198.9 69.3h.1M188.1 49.6h.1M190.2 71.8h.1M184.0 59.3h.1M201.9 81.8h.1M185.3 82.3h.1M180.4 80.1h.1M185.6 69.3h.1M193.7 75.3h.1M197.9 83.6h.1M208.3 70.0h.1M191.5 87.1h.1M184.4 87.5h.1M173.8 77.4h.1M175.5 69.2h.1M203.1 72.5h.1M184.3 52.1h.1M207.8 84.5h.1M190.1 49.1h.1M180.8 74.0h.1M207.5 85.3h.1M198.1 74.8h.1M205.7 69.2h.1M203.4 85.0h.1M205.8 82.8h.1M173.7 74.9h.1M188.4 52.3h.1M188.5 77.4h.1M202.8 93.5h.1M203.8 77.8h.1M195.5 73.6h.1M176.6 78.7h.1M206.0 85.4h.1M199.2 84.6h.1M213.2 90.2h.1M217.6 66.0h.1M184.5 85.3h.1M191.5 72.8h.1M184.3 46.9h.1M176.1 65.5h.1M181.2 84.3h.1M185.6 87.4h.1M179.0 64.7h.1M179.8 71.9h.1M216.9 67.2h.1M200.5 81.2h.1M190.1 46.0h.1M210.5 65.6h.1M182.3 81.2h.1M185.7 65.0h.1M197.9 77.0h.1M183.4 81.4h.1M194.0 79.7h.1M188.6 81.5h.1M216.6 99.3h.1M185.6 79.8h.1M209.9 65.7h.1M183.2 74.1h.1M182.0 62.3h.1M193.0 90.5h.1M186.4 71.0h.1M187.8 78.8h.1M178.8 69.6h.1M193.6 77.3h.1M210.0 105.3h.1M203.4 81.0h.1M180.2 69.3h.1M195.7 86.5h.1M213.5 65.3h.1M199.6 81.6h.1M178.8 84.7h.1M205.0 67.6h.1M197.8 84.4h.1M235.9 100.5h.1M193.4 76.5h.1M195.3 68.2h.1M192.7 48.2h.1M181.8 78.6h.1M192.1 85.8h.1M205.4 74.3h.1M213.3 68.2h.1M182.1 57.7h.1M213.6 62.1h.1M208.3 66.0h.1M179.6 85.0h.1M179.5 62.9h.1M218.2 64.1h.1M195.8 69.3h.1M178.5 65.0h.1M189.1 88.6h.1M190.4 90.1h.1M196.4 72.0h.1M198.6 88.4h.1M182.2 50.2h.1M192.0 82.4h.1M177.1 83.1h.1M198.6 96.8h.1M197.3 87.4h.1M196.0 82.7h.1M196.9 86.1h.1M186.5 95.6h.1M178.6 76.5h.1M211.9 68.4h.1M203.5 77.7h.1M192.9 84.9h.1M185.9 85.4h.1M202.6 74.0h.1M175.8 71.8h.1M182.2 63.7h.1M180.6 67.4h.1M207.6 75.4h.1M202.0 90.5h.1M188.0 75.6h.1M192.0 92.2h.1M195.3 87.3h.1M189.8 48.7h.1M188.3 85.2h.1M198.1 74.9h.1M209.2 86.3h.1M192.8 79.6h.1M185.9 68.2h.1M183.7 49.5h.1M207.8 71.4h.1M180.4 81.2h.1M184.4 59.0h.1M181.9 50.2h.1M199.1 83.6h.1M203.1 69.9h.1M183.5 82.6h.1M195.7 77.8h.1M190.1 49.8h.1M223.6 92.9h.1M181.3 77.0h.1M193.3 96.8h.1M188.3 76.2h.1M195.6 76.7h.1M202.4 89.3h.1M190.5 83.7h.1M187.6 72.8h.1M184.6 83.9h.1M185.1 83.2h.1M177.2 71.0h.1M178.8 76.2h.1M178.6 65.7h.1M197.4 82.2h.1M176.9 80.2h.1M192.2 46.7h.1M197.9 89.0h.1M179.1 70.1h.1M196.3 88.2h.1M183.0 82.6h.1M203.1 81.0h.1M189.3 82.3h.1M190.3 47.3h.1M178.9 68.7h.1M187.1 58.8h.1M185.7 73.9h.1M199.8 83.3h.1M187.1 81.5h.1M184.2 74.0h.1M193.5 70.7h.1M200.3 87.1h.1M197.8 87.6h.1M185.2 46.1h.1M208.5 70.6h.1M186.5 45.5h.1M179.6 85.4h.1M189.2 73.2h.1M208.2 62.9h.1M187.2 48.0h.1M197.1 90.6h.1M192.8 67.8h.1M186.4 82.0h.1M174.9 81.5h.1M190.7 65.9h.1M190.4 50.3h.1M189.0 74.8h.1M196.7 77.0h.1M212.6 68.8h.1M211.5 78.8h.1M186.2 47.7h.1M184.0 78.3h.1M190.4 94.3h.1M191.6 77.9h.1M183.0 75.6h.1M178.2 82.9h.1M173.2 77.1h.1M172.3 69.8h.1M177.3 67.9h.1M198.4 91.2h.1M201.5 93.8h.1M190.9 77.4h.1M197.6 76.8h.1M185.0 82.3h.1M174.2 76.9h.1M184.0 66.2h.1M186.0 54.8h.1M191.1 90.0h.1M189.9 48.9h.1M195.6 72.9h.1M205.1 69.3h.1M184.7 64.9h.1M209.7 83.0h.1M182.1 73.1h.1M177.8 72.7h.1M192.7 64.4h.1M182.3 56.5h.1M185.3 83.1h.1M194.4 80.2h.1M173.3 69.1h.1M200.6 71.3h.1M184.8 89.0h.1M227.3 89.6h.1M186.0 75.2h.1M201.3 76.5h.1M208.2 66.0h.1M177.2 72.0h.1M203.0 92.2h.1M188.5 75.6h.1M190.8 69.6h.1M193.8 76.8h.1M203.1 80.5h.1M184.7 84.0h.1M185.0 85.8h.1M213.0 63.7h.1M182.8 47.6h.1M181.6 67.7h.1M190.0 72.5h.1M182.2 66.2h.1M199.3 85.8h.1M195.1 46.0h.1M186.7 58.8h.1M207.0 87.3h.1M206.6 66.0h.1M191.2 83.9h.1M206.0 89.7h.1M181.9 80.1h.1M194.4 73.9h.1M198.9 70.6h.1M208.1 75.1h.1M202.6 90.9h.1M180.9 62.8h.1M189.3 70.5h.1M186.3 51.7h.1M203.7 76.2h.1M182.1 66.6h.1M174.1 82.5h.1" stroke="#b3372c" stroke-width="0.95" stroke-linecap="square" fill="none"/>
<path d="M183.2 85.3h.1M214.8 94.2h.1M201.8 73.5h.1M203.3 78.7h.1M217.4 104.9h.1M211.3 94.0h.1M214.5 81.0h.1M187.4 92.6h.1M184.5 87.1h.1M210.4 73.9h.1M194.1 94.2h.1M188.6 75.5h.1M189.2 90.2h.1M212.1 72.4h.1M222.0 92.6h.1M227.0 94.3h.1M205.2 82.1h.1M192.2 95.0h.1M206.3 103.4h.1M201.0 93.9h.1M216.3 83.5h.1M173.0 79.4h.1M211.4 86.3h.1M208.1 86.4h.1M193.2 92.0h.1M198.8 79.7h.1M209.5 94.1h.1M235.2 101.6h.1M216.0 83.2h.1M222.0 89.1h.1M206.5 100.0h.1M185.7 94.7h.1M197.2 95.8h.1M181.6 89.2h.1M204.6 81.3h.1M185.4 92.7h.1M216.4 64.2h.1M224.7 93.9h.1M211.4 94.3h.1M212.9 104.2h.1M176.4 79.8h.1M192.6 94.9h.1M214.7 104.4h.1M214.7 96.5h.1M183.8 77.7h.1M210.3 107.9h.1M205.4 70.5h.1M209.0 97.4h.1M178.1 87.7h.1M208.8 82.2h.1M217.0 100.1h.1M208.6 69.4h.1M201.4 86.6h.1M205.4 85.8h.1M191.4 97.3h.1M223.4 107.5h.1M208.9 104.9h.1M204.6 91.0h.1M203.0 78.4h.1M225.5 88.3h.1M203.0 105.4h.1M204.2 97.2h.1M217.3 104.2h.1M220.9 92.0h.1M192.8 80.2h.1M207.9 96.2h.1M207.2 106.3h.1M210.7 72.6h.1M212.4 72.4h.1M191.0 94.0h.1M217.5 84.9h.1M203.5 77.6h.1M227.1 100.5h.1M216.9 101.6h.1M201.7 92.7h.1M213.5 100.7h.1M204.2 94.0h.1M206.8 89.6h.1M198.1 74.8h.1M194.3 77.9h.1M209.2 73.8h.1M180.6 73.0h.1M213.8 100.3h.1M202.5 75.5h.1M208.3 87.3h.1M186.6 95.0h.1M228.0 92.6h.1M206.1 83.7h.1M203.6 97.0h.1M218.9 107.0h.1M203.4 97.3h.1M190.9 93.0h.1M216.1 83.2h.1M191.7 68.9h.1M234.0 94.0h.1M189.3 74.4h.1M212.9 61.9h.1M195.9 92.5h.1M209.5 86.2h.1M182.3 88.7h.1M222.8 86.5h.1M194.6 95.3h.1M188.4 94.7h.1M181.0 72.3h.1M203.3 79.3h.1M214.1 98.7h.1M185.0 94.3h.1M184.7 107.9h.1M196.7 95.5h.1M215.5 83.9h.1M237.2 97.8h.1M191.4 96.4h.1M206.8 67.4h.1M207.3 71.8h.1M187.1 89.6h.1M199.8 86.3h.1M185.7 92.7h.1M206.2 72.5h.1M216.8 85.9h.1M202.8 80.6h.1M216.1 95.6h.1M188.5 95.6h.1M211.8 91.9h.1M218.6 105.9h.1M209.6 98.8h.1M185.7 88.9h.1M200.5 97.3h.1M196.9 94.4h.1M184.5 91.5h.1M201.8 80.9h.1M211.1 92.5h.1M201.9 83.5h.1M210.6 81.6h.1M182.4 48.1h.1M202.0 82.6h.1M205.1 84.1h.1M211.4 104.1h.1M206.9 104.7h.1M185.5 79.0h.1M183.5 87.4h.1M195.2 77.2h.1M211.2 97.4h.1M206.7 87.2h.1M217.1 96.5h.1M217.7 86.4h.1M206.0 88.6h.1M183.3 80.6h.1M212.5 87.4h.1M203.6 82.0h.1M208.4 72.8h.1M205.2 86.1h.1M189.0 90.9h.1M217.7 88.4h.1M202.4 105.5h.1M188.9 68.5h.1M187.8 94.0h.1M191.2 91.0h.1M201.7 76.5h.1M205.3 75.3h.1M177.8 67.2h.1M190.7 85.1h.1M230.0 93.1h.1M205.1 89.9h.1M203.0 87.2h.1M190.5 96.7h.1M198.4 94.1h.1M210.5 70.5h.1M208.0 72.1h.1M205.2 104.5h.1M201.1 89.4h.1M185.3 93.4h.1M184.5 90.1h.1M197.9 92.9h.1M209.6 81.7h.1M213.5 96.6h.1M214.9 68.1h.1M219.7 85.3h.1M224.8 94.7h.1M188.2 93.1h.1M184.0 88.2h.1M181.1 87.2h.1M216.9 95.4h.1M218.7 94.5h.1M204.7 68.2h.1M214.5 101.8h.1M234.7 96.7h.1M206.4 82.5h.1M206.1 97.0h.1M216.9 63.3h.1M231.4 94.8h.1M214.1 61.6h.1M206.7 93.2h.1M214.9 107.6h.1M208.1 71.6h.1M178.8 86.8h.1M183.1 87.8h.1M202.2 78.9h.1M189.9 49.0h.1M211.4 94.3h.1M187.0 64.1h.1M193.4 92.1h.1M213.0 101.9h.1M235.7 92.7h.1M203.8 83.6h.1M226.4 104.3h.1M180.0 75.7h.1M171.6 73.1h.1M216.1 93.3h.1M214.2 86.1h.1M220.6 94.3h.1M193.4 97.4h.1M190.3 92.4h.1M199.8 85.7h.1M211.9 104.0h.1M203.7 91.4h.1M223.9 107.3h.1M213.3 103.0h.1M220.6 89.7h.1M200.5 93.3h.1M209.1 82.8h.1M230.6 104.1h.1M214.1 88.4h.1M222.4 92.0h.1M202.9 92.1h.1M210.0 72.6h.1M210.6 94.0h.1M213.1 107.0h.1M205.8 90.8h.1M199.1 96.5h.1M179.9 72.0h.1M215.2 100.0h.1M196.4 92.0h.1M215.4 80.1h.1M207.4 86.5h.1M200.8 73.9h.1M214.4 97.0h.1M179.8 67.2h.1M172.4 68.4h.1M209.6 98.9h.1M220.5 99.4h.1M209.9 75.9h.1M210.7 83.8h.1M236.5 96.1h.1M194.9 88.2h.1M194.3 71.5h.1M223.8 87.8h.1M189.2 91.6h.1M195.0 91.9h.1M216.4 89.5h.1M217.4 101.6h.1M205.5 73.6h.1M186.8 47.5h.1M204.0 73.4h.1M204.9 95.4h.1M203.4 100.3h.1M195.2 99.6h.1M174.9 71.6h.1M194.7 97.1h.1M212.8 102.1h.1M206.5 80.0h.1M199.6 93.8h.1M205.2 90.3h.1M219.2 94.0h.1M185.6 76.2h.1M207.8 91.6h.1M196.1 76.0h.1M212.5 75.8h.1M210.9 71.5h.1M198.8 97.8h.1M183.3 88.7h.1M183.2 88.3h.1M220.2 96.1h.1M205.6 98.4h.1M188.1 84.2h.1M209.2 95.6h.1M200.3 85.7h.1M233.0 104.0h.1M217.7 88.6h.1M207.4 85.8h.1M178.9 64.5h.1M220.6 106.5h.1M197.4 67.1h.1M197.8 65.9h.1M202.3 73.7h.1M209.2 71.0h.1M229.8 89.5h.1M201.0 101.0h.1M204.7 87.5h.1M200.9 87.5h.1M191.2 93.4h.1M213.9 83.8h.1M205.7 105.5h.1M199.4 85.4h.1M201.7 80.0h.1M210.2 91.5h.1M193.7 91.1h.1M208.8 96.9h.1M221.4 99.3h.1M226.9 90.9h.1M190.9 87.5h.1M200.3 81.8h.1M199.7 79.8h.1M196.8 74.6h.1M219.3 99.8h.1M191.3 96.6h.1M193.5 93.0h.1M179.4 86.7h.1M206.9 93.8h.1M203.2 90.4h.1M224.1 106.3h.1M193.2 72.5h.1M201.4 77.9h.1M192.2 94.1h.1M196.1 80.6h.1M210.9 105.8h.1M193.5 93.7h.1M188.2 95.6h.1M193.7 96.9h.1M204.5 74.3h.1M189.5 96.8h.1M213.3 90.6h.1M200.5 81.2h.1M224.3 92.4h.1M202.0 98.5h.1M183.5 88.7h.1M211.4 98.6h.1M201.5 102.5h.1M194.8 96.2h.1M207.5 98.1h.1M216.7 90.0h.1M182.4 78.2h.1M214.6 81.5h.1M202.8 96.5h.1M195.7 95.7h.1M194.5 99.0h.1M234.3 90.2h.1M193.6 97.3h.1M201.3 76.2h.1M206.6 66.2h.1M235.3 92.1h.1M181.6 77.0h.1M226.5 90.3h.1M205.4 69.3h.1M229.3 94.1h.1M226.4 91.0h.1M221.8 94.7h.1M227.7 96.5h.1M184.0 66.2h.1M216.5 97.6h.1M217.4 105.8h.1M184.7 73.7h.1M208.1 73.4h.1M213.8 102.8h.1M210.1 83.2h.1M184.3 72.5h.1M211.4 71.7h.1M184.1 86.4h.1M216.2 88.9h.1M211.0 69.2h.1M188.2 96.7h.1M225.7 89.1h.1M206.5 95.6h.1M217.7 98.8h.1M182.1 87.0h.1M215.5 86.0h.1M225.5 91.7h.1M198.8 99.1h.1M212.1 102.5h.1M226.8 87.2h.1M203.4 73.4h.1M218.7 89.6h.1M227.6 90.9h.1M212.0 90.1h.1M212.2 86.3h.1M195.7 92.7h.1M181.8 76.3h.1M205.0 78.4h.1M208.0 80.6h.1M214.3 94.1h.1M212.3 71.0h.1M211.6 103.5h.1M179.7 81.5h.1M201.6 80.8h.1M198.4 72.7h.1M228.8 102.7h.1M179.1 83.2h.1M196.4 100.1h.1M194.1 97.0h.1M201.8 73.0h.1M207.9 75.0h.1M215.9 89.6h.1M207.8 83.7h.1M183.1 91.2h.1M188.7 82.6h.1M218.3 106.0h.1M201.9 83.1h.1M181.9 88.2h.1M229.8 101.4h.1M221.9 90.7h.1M200.4 77.8h.1M182.0 90.1h.1M206.5 87.9h.1M213.4 102.4h.1M217.9 83.2h.1M230.4 102.7h.1M226.3 88.9h.1M196.1 98.3h.1M183.1 92.3h.1M207.1 77.5h.1M203.6 79.7h.1M209.0 84.5h.1M203.2 104.7h.1M191.8 94.0h.1M203.2 70.7h.1M208.8 89.5h.1M197.0 95.5h.1M229.0 97.0h.1M209.3 82.7h.1M219.6 105.9h.1M215.4 94.0h.1M219.9 106.9h.1M207.2 65.0h.1M207.8 74.6h.1M195.2 80.5h.1M208.7 75.7h.1M173.6 74.1h.1M218.5 96.9h.1M187.6 96.2h.1M181.8 71.8h.1M178.3 86.1h.1M214.0 89.3h.1M190.2 92.3h.1M199.6 95.6h.1M205.5 81.4h.1M180.7 71.2h.1M194.9 88.1h.1M175.9 66.9h.1M183.0 92.0h.1M204.9 79.8h.1M215.0 108.3h.1M196.2 98.8h.1M231.4 98.7h.1M189.0 88.7h.1M216.9 95.9h.1M206.0 106.7h.1M195.6 97.1h.1M186.4 95.5h.1M215.7 93.7h.1M217.0 66.6h.1M217.5 90.6h.1M182.1 71.9h.1M180.9 86.8h.1M173.9 67.6h.1" stroke="#d8d8d8" stroke-width="0.95" stroke-linecap="square" fill="none"/>
<path d="M182.0 81.1h.1M172.5 70.1h.1M189.1 70.6h.1M187.4 93.6h.1M173.3 74.0h.1M191.6 76.6h.1M206.4 69.8h.1M214.7 101.0h.1M185.3 48.3h.1M196.1 65.2h.1M182.9 74.3h.1M211.3 92.5h.1M175.4 69.4h.1M183.0 47.8h.1M189.1 83.2h.1M185.3 60.4h.1M190.8 95.6h.1M198.4 88.5h.1M189.2 49.8h.1M184.4 86.5h.1M197.5 89.7h.1M207.1 68.3h.1M184.0 55.4h.1M218.5 65.3h.1M193.4 79.8h.1M211.8 92.3h.1M194.2 73.4h.1M182.2 64.8h.1M204.3 81.4h.1M185.6 47.1h.1M210.4 64.9h.1M198.6 82.8h.1M189.8 68.9h.1M185.4 82.6h.1M215.4 64.6h.1M186.4 85.2h.1M195.6 77.1h.1M176.6 78.5h.1M196.2 45.1h.1M187.0 71.1h.1M209.3 70.0h.1M189.2 71.3h.1M184.3 52.2h.1M198.4 80.1h.1M186.8 47.1h.1M183.3 49.4h.1M180.5 72.5h.1M184.1 68.8h.1M189.0 68.6h.1M195.0 80.3h.1M191.7 80.9h.1M213.3 62.3h.1M192.1 83.4h.1M184.4 62.0h.1M194.3 92.6h.1M208.7 61.7h.1M217.5 65.0h.1M220.8 90.6h.1M206.3 67.6h.1M187.4 65.3h.1M181.5 71.3h.1M193.9 71.5h.1M188.2 67.8h.1M182.4 68.0h.1M207.8 71.6h.1M173.5 73.6h.1M200.4 71.1h.1M205.0 68.6h.1M198.2 74.7h.1M180.0 82.9h.1M180.4 81.6h.1M201.2 44.3h.1M200.4 88.7h.1M179.1 84.6h.1M207.9 78.1h.1M182.0 80.6h.1M202.7 72.1h.1M193.8 80.7h.1M195.1 69.0h.1M215.5 67.1h.1M199.4 75.0h.1M193.4 72.3h.1M201.0 70.6h.1M201.4 67.9h.1M181.3 60.5h.1M179.4 65.9h.1M185.3 62.1h.1M179.3 76.4h.1M208.4 78.2h.1M178.9 67.5h.1M191.7 78.0h.1M208.7 72.4h.1M186.3 57.7h.1M174.3 80.5h.1M216.8 97.7h.1M182.1 71.0h.1M199.5 86.6h.1M178.3 71.7h.1M200.1 81.4h.1M186.2 74.9h.1M188.8 79.9h.1M193.7 81.5h.1M215.5 64.4h.1M181.6 70.0h.1M187.0 88.5h.1M209.7 61.9h.1M180.2 63.2h.1M206.7 80.0h.1M178.6 71.6h.1M197.4 77.3h.1M179.2 70.3h.1M182.6 50.3h.1M190.6 80.1h.1M195.7 90.7h.1M183.2 65.0h.1M172.8 69.1h.1M209.0 85.2h.1M189.5 72.6h.1M207.1 67.1h.1M200.6 76.0h.1M185.8 48.2h.1M175.3 80.8h.1M181.8 77.2h.1M195.0 79.9h.1M197.0 95.4h.1M201.0 84.8h.1M185.5 83.9h.1M186.1 66.4h.1M186.4 59.7h.1M211.4 63.1h.1M202.1 90.8h.1M181.5 85.1h.1M199.5 78.9h.1M217.2 66.7h.1M193.3 85.7h.1M184.7 47.0h.1M183.4 77.3h.1M178.2 79.0h.1M206.1 80.5h.1M206.8 76.6h.1M171.5 73.8h.1M189.4 86.0h.1M217.1 65.8h.1M197.4 72.4h.1M197.4 89.5h.1M182.0 69.9h.1M196.9 76.8h.1M183.1 47.5h.1M193.1 77.2h.1M180.6 80.8h.1M179.0 83.4h.1M195.5 70.8h.1M201.1 91.0h.1M204.4 70.1h.1M183.0 46.8h.1M207.8 101.6h.1M189.9 96.9h.1M200.0 88.8h.1M206.4 80.8h.1M196.8 76.0h.1M190.5 77.3h.1M201.5 91.3h.1M189.3 83.8h.1M178.7 81.0h.1M212.0 61.6h.1M213.6 66.3h.1M194.0 75.5h.1M211.3 62.7h.1M187.1 68.8h.1M176.0 78.5h.1M192.9 48.9h.1M196.0 76.3h.1M180.8 75.3h.1M181.4 71.6h.1M190.3 98.0h.1M218.6 95.2h.1M186.7 46.4h.1M197.6 72.7h.1M189.8 75.7h.1M180.7 69.1h.1M184.5 81.4h.1M189.2 90.9h.1M180.1 76.5h.1M186.8 60.9h.1M193.0 68.9h.1M179.4 62.5h.1M198.7 81.0h.1M213.2 62.3h.1M182.0 64.7h.1M181.9 67.2h.1M187.3 82.6h.1M196.4 97.0h.1M172.4 77.2h.1M187.1 85.1h.1M211.5 105.1h.1M209.1 69.2h.1M212.0 69.7h.1M175.2 83.7h.1M197.9 45.5h.1M189.5 74.8h.1M209.3 64.2h.1M202.9 87.9h.1M180.7 65.3h.1M176.8 73.3h.1M192.4 76.9h.1M183.9 73.8h.1M191.6 85.4h.1M202.9 69.1h.1M197.9 77.7h.1M216.6 65.7h.1M196.7 71.1h.1M195.5 77.3h.1M194.1 48.2h.1M195.4 81.9h.1M188.1 89.0h.1M186.8 74.8h.1M179.1 63.2h.1M187.6 49.4h.1M195.4 84.7h.1M226.1 105.8h.1M200.9 75.9h.1M181.9 81.5h.1M189.7 76.5h.1M211.3 82.2h.1M180.5 89.5h.1M182.4 66.7h.1M191.2 48.0h.1M193.3 84.8h.1M195.3 78.3h.1M200.6 85.8h.1M180.4 83.9h.1M175.5 70.0h.1M184.6 68.8h.1M211.3 77.4h.1M185.9 77.0h.1M182.1 79.1h.1M173.1 70.4h.1M180.1 71.9h.1M180.0 78.4h.1M208.8 67.3h.1M192.7 92.2h.1M192.1 76.1h.1M196.1 72.0h.1M172.8 72.1h.1M183.2 54.5h.1M188.7 64.3h.1M209.3 72.8h.1M181.9 48.3h.1M185.9 57.1h.1M194.4 75.7h.1M179.9 75.8h.1M195.1 75.1h.1M178.8 80.8h.1M186.9 94.3h.1M205.5 85.4h.1M189.9 76.5h.1M194.3 76.2h.1M189.6 65.3h.1M218.5 64.3h.1M182.8 84.0h.1M177.3 70.8h.1M205.2 69.3h.1M182.0 88.8h.1M182.8 68.2h.1M207.8 77.3h.1M199.0 72.4h.1M178.5 67.1h.1M183.1 86.8h.1M177.1 77.7h.1M189.1 87.9h.1M189.3 65.7h.1M204.8 79.7h.1M186.5 90.4h.1M183.9 92.1h.1M185.9 45.8h.1M188.5 51.6h.1M181.2 80.9h.1M189.5 48.1h.1M188.8 83.9h.1M182.8 67.1h.1M215.9 67.8h.1M199.1 67.1h.1M210.7 78.8h.1M212.1 64.3h.1M178.4 72.8h.1M177.1 83.7h.1M189.3 51.7h.1M211.4 74.1h.1M191.7 88.2h.1M179.5 74.4h.1M193.1 49.3h.1M193.4 92.9h.1M188.7 50.8h.1M220.2 92.0h.1M191.5 51.3h.1M217.1 106.6h.1M185.9 46.8h.1M183.4 66.0h.1M214.2 82.1h.1M210.2 65.0h.1M199.2 91.4h.1M175.7 78.1h.1M186.9 47.2h.1M188.0 60.8h.1M174.0 70.9h.1M210.4 72.9h.1M185.5 50.3h.1M187.8 93.3h.1M186.2 65.9h.1M208.3 81.4h.1M180.7 62.9h.1M187.2 74.5h.1M189.4 85.3h.1M182.6 47.6h.1M179.8 66.7h.1M211.8 62.9h.1M191.4 83.4h.1M180.2 80.5h.1M175.4 81.3h.1M183.0 59.1h.1M183.2 86.6h.1M176.7 72.5h.1M192.2 89.5h.1M197.4 87.4h.1M209.4 87.0h.1M184.4 46.3h.1M185.3 68.9h.1M183.4 70.3h.1M189.0 84.2h.1M189.0 66.2h.1M183.3 74.8h.1M207.5 78.3h.1M209.1 65.6h.1M226.8 88.4h.1M185.7 49.5h.1M186.4 49.9h.1M175.3 67.6h.1M210.7 63.3h.1M209.8 64.4h.1M205.0 104.7h.1M195.3 92.7h.1M188.1 49.6h.1M185.6 83.8h.1M174.3 74.6h.1M193.0 86.0h.1M194.4 85.7h.1M176.7 84.1h.1M190.1 81.8h.1M176.6 81.2h.1M218.3 102.9h.1M193.9 73.1h.1M189.2 86.4h.1M190.1 69.5h.1M184.9 70.8h.1M187.7 73.1h.1M210.8 65.1h.1M183.3 71.8h.1M174.9 67.3h.1M177.6 68.9h.1M187.0 64.6h.1M188.2 89.4h.1M176.2 80.8h.1M182.8 51.5h.1M171.9 76.2h.1M183.5 86.8h.1M190.4 76.0h.1M197.0 77.5h.1M193.9 85.1h.1M204.7 69.3h.1M207.4 74.7h.1M203.0 103.7h.1M182.3 75.2h.1M203.1 86.8h.1M179.7 81.8h.1M179.3 73.3h.1M183.5 86.5h.1M179.1 74.4h.1M183.7 85.7h.1M189.5 89.1h.1M184.4 48.5h.1M190.3 75.2h.1M188.7 64.3h.1M202.9 89.7h.1M179.4 72.3h.1M198.7 75.4h.1M201.6 80.7h.1M184.4 60.7h.1M183.0 64.5h.1M194.1 66.5h.1M187.9 76.8h.1M183.0 91.0h.1M204.9 83.8h.1M191.0 88.9h.1M188.7 88.9h.1M204.2 90.9h.1M204.9 81.3h.1M210.2 61.2h.1M184.2 86.1h.1M188.7 78.5h.1M208.9 66.8h.1M183.6 46.9h.1M175.4 76.9h.1M206.7 70.2h.1M183.1 67.6h.1M208.2 76.2h.1M196.5 77.8h.1M202.2 75.4h.1M171.9 72.9h.1M192.6 83.3h.1M180.8 67.0h.1M192.8 92.8h.1M182.5 58.8h.1M185.6 64.0h.1M213.2 65.1h.1M199.0 91.9h.1M188.6 86.2h.1M176.8 79.3h.1M173.6 78.9h.1M205.1 68.2h.1M175.6 71.4h.1M199.4 88.5h.1M193.0 88.0h.1M185.8 48.3h.1M176.6 84.3h.1M194.4 85.0h.1M177.6 71.6h.1M195.5 89.9h.1M202.2 88.3h.1M186.3 90.7h.1M209.4 74.4h.1M171.8 71.1h.1M197.3 84.9h.1M174.4 82.6h.1M181.3 59.7h.1M189.8 80.8h.1M196.5 82.6h.1M216.1 65.7h.1M192.5 80.1h.1M192.1 83.4h.1M189.0 61.6h.1M174.0 76.4h.1M183.5 68.9h.1M189.1 97.0h.1M194.2 79.9h.1M191.2 69.8h.1M199.5 79.0h.1M191.1 85.6h.1M171.8 70.9h.1M197.3 80.9h.1M209.2 78.7h.1M207.6 88.4h.1M180.3 80.7h.1M216.2 61.8h.1M176.7 75.5h.1M186.2 95.2h.1M194.0 65.8h.1M190.0 49.5h.1M192.6 69.3h.1M172.1 78.4h.1M190.3 71.6h.1M199.4 74.2h.1M196.9 69.1h.1M217.4 102.8h.1M197.1 84.4h.1M183.6 84.9h.1M190.8 94.0h.1M206.0 69.2h.1M216.7 64.5h.1M177.4 70.2h.1M196.1 86.8h.1M206.1 83.1h.1M197.6 82.4h.1M193.0 71.0h.1M203.9 77.0h.1M177.9 83.2h.1M183.2 91.1h.1M201.7 94.2h.1M174.6 78.6h.1M204.9 95.1h.1M188.5 61.6h.1M190.2 64.4h.1M194.5 97.4h.1M186.0 61.2h.1M213.7 63.5h.1M192.4 94.0h.1M186.8 67.4h.1M216.7 63.7h.1M217.2 64.8h.1M175.5 76.2h.1M176.1 72.6h.1M180.1 61.2h.1M188.7 80.6h.1M184.4 63.8h.1M190.9 67.8h.1M189.7 87.4h.1M209.2 82.0h.1M191.7 77.0h.1M180.0 83.1h.1M191.5 77.3h.1M182.9 79.2h.1M171.5 69.2h.1M187.2 71.8h.1M216.8 82.6h.1M173.3 67.3h.1M203.5 89.4h.1M194.6 73.9h.1M185.0 68.1h.1M209.0 83.1h.1M179.3 75.4h.1M178.9 71.1h.1M196.5 98.6h.1M220.9 101.3h.1M172.1 71.4h.1M188.7 68.1h.1M211.7 63.8h.1M208.1 96.0h.1M175.1 73.4h.1M179.7 80.4h.1M188.1 75.3h.1M191.5 96.5h.1M198.2 81.4h.1M197.9 84.6h.1M190.9 77.0h.1M178.6 68.9h.1M206.2 84.9h.1M205.4 83.3h.1M198.4 43.0h.1M182.2 88.7h.1M174.3 75.6h.1M189.0 86.8h.1M177.6 71.9h.1M181.2 79.5h.1M198.0 87.6h.1M214.3 62.1h.1M179.8 63.6h.1M191.1 74.9h.1M175.2 79.2h.1M194.7 85.2h.1M192.3 47.0h.1M183.1 84.2h.1M185.5 92.2h.1M214.6 63.5h.1M198.4 74.6h.1M194.6 71.6h.1M188.9 86.1h.1M182.6 82.0h.1M172.1 75.3h.1M223.6 107.6h.1M187.3 58.7h.1M179.9 82.0h.1M197.5 74.8h.1M183.1 69.6h.1M186.3 68.1h.1M186.0 72.8h.1M212.5 73.7h.1M183.3 83.9h.1M197.8 71.8h.1M182.8 52.2h.1M193.1 97.5h.1M205.0 88.1h.1M183.7 47.4h.1M185.2 87.7h.1M198.7 83.8h.1M196.4 76.0h.1M205.8 87.6h.1M190.0 87.6h.1M184.4 65.7h.1M187.6 62.5h.1M178.6 73.4h.1M201.5 82.9h.1M190.5 78.6h.1M184.2 83.7h.1M186.7 54.1h.1M185.1 94.0h.1M187.0 62.8h.1M209.6 61.2h.1M190.6 75.8h.1M185.2 48.1h.1M182.6 90.6h.1M187.7 70.7h.1M176.2 83.4h.1M178.1 73.3h.1M181.1 82.5h.1M188.2 85.6h.1M194.8 73.3h.1M190.1 67.4h.1M183.2 66.1h.1M191.1 73.1h.1M182.6 49.3h.1M188.5 78.6h.1M203.9 69.0h.1M191.1 80.6h.1M182.9 78.6h.1M207.9 75.0h.1M197.2 80.8h.1M191.0 75.6h.1M196.5 73.6h.1M208.1 66.3h.1M174.2 67.0h.1M177.6 84.1h.1M185.9 72.9h.1M203.0 86.6h.1M184.7 77.2h.1M187.7 74.8h.1M194.9 77.3h.1M191.1 70.1h.1M210.4 62.4h.1M186.6 87.0h.1M185.0 68.6h.1M216.9 63.4h.1M196.1 73.1h.1M175.5 78.7h.1M182.1 62.3h.1M189.3 76.6h.1M183.3 81.2h.1M184.9 84.9h.1M183.6 47.6h.1M182.8 65.0h.1M203.9 90.3h.1M186.3 61.0h.1M192.5 48.3h.1M186.0 79.0h.1M190.5 82.9h.1M191.4 81.7h.1M211.2 76.0h.1M197.7 70.1h.1M202.0 74.9h.1M177.1 74.7h.1M178.9 85.9h.1M186.0 95.0h.1M189.8 81.8h.1M208.1 70.2h.1M197.5 81.9h.1M192.6 70.2h.1M184.1 80.7h.1M176.7 72.5h.1M197.0 67.1h.1M193.6 89.1h.1M184.0 47.2h.1M179.7 84.2h.1M195.3 73.7h.1M206.3 68.7h.1M202.2 99.3h.1M195.9 83.3h.1M184.0 80.9h.1M196.7 81.4h.1M188.5 87.3h.1M189.6 47.6h.1M196.3 76.8h.1M210.4 62.9h.1M178.8 75.7h.1M191.2 75.4h.1M195.4 72.4h.1M236.5 93.3h.1M183.9 48.1h.1M187.3 61.1h.1M182.7 49.7h.1M204.7 90.9h.1M201.1 96.2h.1M194.9 88.7h.1M196.5 73.6h.1M204.8 103.9h.1M187.4 78.5h.1M193.9 77.3h.1M207.9 69.6h.1M197.2 90.0h.1M198.9 93.6h.1M188.3 96.1h.1M205.6 105.4h.1M180.7 75.1h.1M187.5 90.1h.1M176.1 76.6h.1M183.4 81.9h.1M186.2 49.9h.1M183.9 78.3h.1M188.5 77.7h.1M209.8 79.7h.1M198.5 83.6h.1M218.6 102.8h.1M179.6 63.0h.1M191.7 69.6h.1M209.5 78.2h.1M186.9 84.7h.1M181.0 77.9h.1M181.5 68.7h.1M184.4 73.9h.1M191.5 51.0h.1M214.0 66.8h.1M194.1 86.9h.1M185.2 46.8h.1M182.2 73.6h.1M194.2 88.1h.1M205.9 72.5h.1M185.1 75.3h.1M179.8 78.1h.1M199.2 88.5h.1M197.3 81.0h.1M193.2 81.7h.1M188.9 82.8h.1M177.2 81.3h.1M185.8 48.8h.1M178.9 74.6h.1M172.6 69.8h.1M226.4 93.7h.1M176.6 72.1h.1M204.6 71.6h.1M207.8 66.8h.1M199.0 94.2h.1M182.9 51.4h.1M191.3 77.7h.1M188.2 82.2h.1M186.1 74.4h.1M208.4 75.8h.1M184.2 73.0h.1M188.3 48.3h.1M193.9 71.4h.1M181.4 79.3h.1M187.1 73.5h.1M207.7 75.4h.1M177.4 69.6h.1M193.7 95.2h.1M215.3 65.9h.1M201.2 76.2h.1M188.4 66.2h.1M199.3 70.7h.1M176.0 70.4h.1M184.8 73.8h.1M182.8 61.6h.1M185.2 58.2h.1M176.1 83.6h.1M209.6 82.6h.1M183.4 88.7h.1M200.8 71.8h.1M199.2 87.5h.1" stroke="#b3372c" stroke-width="0.95" stroke-linecap="square" fill="none"/>
<path d="M208.2 90.9h.1M204.2 80.9h.1M210.2 88.1h.1M187.8 91.3h.1M206.4 84.8h.1M196.1 93.6h.1M217.1 84.1h.1M212.4 75.8h.1M207.4 106.9h.1M192.1 91.6h.1M212.4 98.6h.1M207.0 106.7h.1M198.5 98.5h.1M206.2 89.6h.1M206.0 83.1h.1M213.4 102.1h.1M208.2 102.9h.1M236.7 97.4h.1M215.9 81.8h.1M208.5 97.5h.1M206.1 84.3h.1M205.0 72.4h.1M186.5 61.4h.1M209.1 77.2h.1M211.4 95.6h.1M204.5 86.1h.1M204.9 77.8h.1M208.1 82.6h.1M183.3 51.1h.1M195.4 82.5h.1M205.3 74.7h.1M183.3 77.1h.1M214.1 96.0h.1M210.9 106.3h.1M205.9 105.3h.1M211.3 104.8h.1M203.6 102.7h.1M210.3 75.1h.1M191.8 68.4h.1M207.1 71.4h.1M204.6 70.5h.1M216.0 91.8h.1M199.9 79.5h.1M210.6 92.9h.1M221.0 102.6h.1M204.1 82.2h.1M221.9 102.4h.1M217.8 98.2h.1M232.7 104.0h.1M232.5 89.5h.1M210.2 108.2h.1M207.1 94.6h.1M209.9 90.0h.1M183.7 88.2h.1M189.5 95.7h.1M212.6 107.0h.1M206.1 104.1h.1M195.0 96.7h.1M194.2 91.4h.1M197.0 94.0h.1M221.8 93.2h.1M184.4 87.8h.1M200.7 90.2h.1M218.0 94.0h.1M207.7 85.2h.1M234.5 101.2h.1M213.5 85.9h.1M198.4 93.2h.1M189.2 63.8h.1M176.1 83.7h.1M204.8 104.4h.1M191.2 96.8h.1M211.1 81.0h.1M214.7 80.4h.1M214.0 88.2h.1M192.1 76.7h.1M207.9 75.3h.1M185.7 88.5h.1M206.4 105.3h.1M231.0 99.4h.1M201.4 85.5h.1M218.2 94.3h.1M182.1 88.5h.1M214.6 101.7h.1M215.4 86.8h.1M187.8 90.0h.1M227.6 99.6h.1M192.8 93.4h.1M207.4 79.1h.1M204.5 84.1h.1M198.6 93.5h.1M178.9 78.8h.1M223.0 106.2h.1M203.6 102.1h.1M192.5 76.7h.1M204.5 90.2h.1M201.6 98.6h.1M200.9 94.2h.1M209.5 101.6h.1M210.9 67.3h.1M212.3 74.4h.1M201.8 75.9h.1M206.0 98.1h.1M204.2 77.4h.1M210.1 99.8h.1M225.9 97.1h.1M182.3 82.5h.1M203.8 87.7h.1M190.2 89.9h.1M182.7 88.2h.1M186.7 89.7h.1M229.1 95.8h.1M201.1 75.0h.1M213.1 94.0h.1M197.3 100.9h.1M189.5 69.1h.1M229.4 104.2h.1M211.0 76.5h.1M204.7 102.8h.1M183.5 46.6h.1M204.3 72.4h.1M212.3 86.5h.1M206.1 79.4h.1M188.6 51.1h.1M213.4 100.4h.1M201.5 71.0h.1M212.2 90.2h.1M214.2 84.1h.1M210.0 73.3h.1M195.6 95.6h.1M207.0 90.0h.1M195.3 95.6h.1M186.1 49.4h.1M196.9 93.3h.1M203.4 90.7h.1M211.0 96.2h.1M205.6 106.6h.1M198.7 94.6h.1M212.9 93.3h.1M197.4 88.4h.1M190.8 93.4h.1M206.9 80.3h.1M200.4 74.4h.1M186.2 94.6h.1M196.1 67.2h.1M219.0 98.8h.1M216.5 101.3h.1M213.3 86.1h.1M172.9 76.9h.1M208.2 105.1h.1M215.2 91.5h.1M181.1 88.0h.1M210.4 68.0h.1M210.6 95.0h.1M185.3 73.6h.1M199.8 76.7h.1M188.1 75.9h.1M188.1 93.9h.1M176.5 70.5h.1M207.3 98.1h.1M189.5 96.2h.1M205.9 81.5h.1M209.9 71.7h.1M175.4 78.0h.1M223.4 96.9h.1M181.9 89.7h.1M202.7 104.2h.1M223.1 106.0h.1M207.9 73.7h.1M236.7 96.5h.1M191.7 96.9h.1M188.3 95.1h.1M209.0 100.9h.1M218.2 100.7h.1M207.0 71.7h.1M206.2 78.1h.1M201.3 103.5h.1M185.7 88.3h.1M206.8 86.4h.1M210.1 83.5h.1M208.1 72.1h.1M210.8 80.4h.1M223.5 97.8h.1M202.3 101.0h.1M217.2 83.9h.1M201.3 78.0h.1M189.3 90.0h.1M204.2 102.7h.1M209.6 74.3h.1M188.7 50.0h.1M201.9 89.9h.1M205.7 84.5h.1M206.5 87.6h.1M194.2 98.6h.1M215.3 66.0h.1M185.7 47.0h.1M194.2 96.8h.1M231.1 101.5h.1M184.3 89.0h.1M212.0 92.0h.1M218.3 64.1h.1M188.4 92.7h.1M210.2 104.2h.1M229.8 88.4h.1M187.2 59.3h.1M215.2 87.9h.1M205.6 86.4h.1M207.4 101.3h.1M197.5 93.5h.1M209.5 76.1h.1M230.3 88.6h.1M204.1 91.8h.1M217.8 103.3h.1M192.0 75.4h.1M177.0 66.0h.1M188.9 94.2h.1M211.2 80.8h.1M183.9 47.7h.1M204.3 107.5h.1M218.3 93.4h.1M212.9 84.8h.1M192.6 92.7h.1M206.7 107.8h.1M204.8 80.1h.1M223.7 102.2h.1M191.6 97.1h.1M173.5 73.4h.1M224.3 95.4h.1M200.5 89.3h.1M196.6 94.1h.1M173.7 68.3h.1M186.6 92.4h.1M200.3 85.1h.1M180.0 84.1h.1M214.4 83.9h.1M182.8 83.4h.1M200.4 75.3h.1M197.9 78.6h.1M201.3 74.2h.1M203.8 93.2h.1M221.4 88.2h.1M205.8 87.4h.1M202.2 104.4h.1M218.1 86.1h.1M206.3 90.3h.1M214.5 84.7h.1M223.7 97.1h.1M190.5 65.1h.1M218.5 105.1h.1M202.0 98.3h.1M210.2 73.4h.1M208.6 104.2h.1M206.2 80.2h.1M203.9 73.8h.1M198.1 98.4h.1M215.6 101.8h.1M218.4 97.8h.1M211.5 81.4h.1M216.9 97.1h.1M207.0 92.0h.1M180.5 66.0h.1M202.3 101.0h.1M188.9 75.7h.1M227.4 92.5h.1M209.1 73.6h.1M177.8 78.9h.1M216.9 82.7h.1M226.6 100.8h.1M206.5 91.2h.1M202.1 91.9h.1M200.3 76.7h.1M201.8 99.0h.1M208.7 85.6h.1M176.0 65.3h.1M200.3 74.4h.1M212.6 73.3h.1M210.2 73.7h.1M213.6 96.4h.1M180.0 75.1h.1M202.5 76.5h.1M222.9 93.0h.1M213.0 105.0h.1M184.0 50.3h.1M193.0 92.1h.1M205.5 103.8h.1M185.8 77.7h.1M182.9 90.8h.1M219.8 86.4h.1M199.2 93.0h.1M217.3 106.6h.1M202.6 91.9h.1M197.6 93.8h.1M183.9 53.7h.1M211.0 61.2h.1M223.1 99.8h.1M204.0 89.3h.1M187.5 91.7h.1M190.9 96.0h.1M207.3 99.3h.1M193.3 47.9h.1M199.9 95.1h.1M217.0 92.9h.1M203.5 84.9h.1M199.9 94.5h.1M210.7 88.2h.1M207.3 87.7h.1M204.3 94.4h.1M184.6 92.3h.1M218.4 98.8h.1M181.9 88.3h.1M193.1 91.1h.1M206.8 94.0h.1M189.1 46.1h.1M186.0 73.5h.1M211.7 96.8h.1M187.1 95.9h.1M208.1 82.8h.1M202.9 79.0h.1M228.6 93.8h.1M185.7 92.5h.1M227.9 90.2h.1M220.8 98.9h.1M200.1 82.8h.1M208.8 106.6h.1M203.1 93.9h.1M212.4 67.2h.1M185.8 94.0h.1M205.2 87.0h.1M183.2 46.7h.1M213.8 97.9h.1M193.9 99.3h.1M206.8 75.0h.1M196.3 95.0h.1M209.7 80.7h.1M191.4 81.2h.1M186.4 78.6h.1M192.7 96.5h.1M205.6 91.7h.1M210.6 86.6h.1M215.1 94.6h.1M187.8 70.5h.1M185.9 52.3h.1M224.4 90.9h.1M219.6 94.5h.1M187.7 93.1h.1M207.0 91.2h.1M194.2 92.2h.1M214.0 102.8h.1M212.2 101.9h.1M222.6 93.3h.1M220.8 91.5h.1M228.3 101.4h.1M180.1 87.0h.1M200.6 90.5h.1M207.0 73.6h.1M192.1 76.7h.1M205.3 97.5h.1M213.5 88.9h.1M188.6 94.3h.1M207.1 85.1h.1M216.3 101.1h.1M203.7 78.9h.1M195.4 83.9h.1M189.4 86.2h.1M232.4 99.1h.1M226.5 90.8h.1M217.4 107.6h.1M221.5 94.3h.1M217.0 92.7h.1M206.3 103.6h.1M190.5 86.6h.1M186.3 88.5h.1M208.8 90.7h.1M211.8 91.8h.1M180.9 89.7h.1M198.1 76.1h.1M221.7 87.2h.1M202.6 76.4h.1M188.7 82.4h.1M215.1 98.7h.1M201.9 90.4h.1M184.5 65.4h.1M210.7 76.1h.1M207.6 93.7h.1M223.0 96.6h.1M215.9 81.1h.1M224.3 106.7h.1M215.9 106.4h.1M212.9 88.4h.1M184.6 74.1h.1M207.3 92.0h.1M179.4 62.4h.1M209.2 66.2h.1M227.0 97.3h.1M203.1 75.0h.1M202.3 101.6h.1M195.4 97.2h.1M218.1 85.3h.1M193.4 94.1h.1M213.1 103.7h.1M221.3 101.9h.1M201.9 89.1h.1M201.5 90.5h.1M210.0 94.9h.1M213.8 86.0h.1M206.5 85.1h.1M186.8 89.9h.1M178.1 79.6h.1M184.9 59.5h.1M189.7 96.9h.1M230.2 97.7h.1M212.2 74.0h.1M209.9 77.5h.1M226.2 95.7h.1M207.4 97.9h.1M215.7 92.9h.1M213.2 91.9h.1M187.6 89.6h.1M216.4 100.3h.1M173.7 67.5h.1M216.1 90.4h.1M184.9 89.9h.1M184.2 87.7h.1M184.6 49.8h.1M195.5 72.7h.1M195.5 78.1h.1M230.3 104.0h.1M207.0 74.3h.1M188.5 95.9h.1M217.4 106.5h.1M208.9 64.7h.1M189.8 97.7h.1M205.8 82.4h.1M201.8 91.4h.1M211.0 92.7h.1M197.4 83.9h.1M211.1 80.6h.1M205.5 77.0h.1M192.8 76.1h.1M189.2 65.9h.1M217.7 94.6h.1M214.0 99.1h.1M181.8 73.7h.1M207.2 86.2h.1M192.0 90.8h.1M210.2 106.2h.1M224.3 97.1h.1M205.6 85.5h.1M184.2 88.3h.1M214.2 104.1h.1M187.0 76.7h.1M176.8 85.8h.1M187.8 79.9h.1M194.1 95.4h.1M210.7 95.9h.1M205.9 82.6h.1M203.7 97.9h.1M205.9 99.4h.1" stroke="#d8d8d8" stroke-width="0.95" stroke-linecap="square" fill="none"/>
<path d="M179.5 71.7h.1M196.9 73.6h.1M213.2 64.0h.1M189.8 70.4h.1M207.6 103.2h.1M182.3 86.1h.1M203.4 87.9h.1M185.9 65.9h.1M186.5 82.2h.1M183.4 87.3h.1M194.0 74.3h.1M196.5 85.2h.1M181.8 49.4h.1M205.3 72.9h.1M180.3 67.0h.1M200.7 44.4h.1M187.7 74.2h.1M192.1 74.8h.1M201.4 73.8h.1M181.9 68.3h.1M173.1 75.3h.1M192.1 83.7h.1M209.7 63.4h.1M197.0 86.2h.1M180.4 64.7h.1M216.9 63.7h.1M183.1 77.7h.1M207.9 82.7h.1M190.2 93.3h.1M213.8 81.4h.1M212.9 65.3h.1M183.8 72.5h.1M179.9 69.6h.1M210.3 105.7h.1M191.1 90.1h.1M184.3 65.0h.1M184.3 77.5h.1M190.0 73.5h.1M186.2 65.5h.1M184.0 73.2h.1M204.6 70.2h.1M211.7 76.9h.1M184.4 73.8h.1M185.5 46.5h.1M173.6 67.7h.1M183.8 87.0h.1M197.3 77.6h.1M196.7 97.5h.1M211.9 66.2h.1M181.7 83.2h.1M188.9 64.8h.1M202.2 93.7h.1M175.2 73.5h.1M190.9 77.9h.1M196.7 95.2h.1M193.9 77.5h.1M199.7 86.9h.1M184.0 49.3h.1M207.5 68.5h.1M205.7 76.1h.1M187.7 75.9h.1M217.8 89.8h.1M202.7 89.1h.1M193.2 70.1h.1M179.1 75.6h.1M172.0 70.0h.1M187.0 92.2h.1M204.8 88.2h.1M216.4 61.8h.1M198.8 73.8h.1M216.0 63.2h.1M202.4 84.9h.1M182.2 51.0h.1M205.0 87.8h.1M187.5 75.3h.1M182.0 72.9h.1M197.8 86.5h.1M202.4 93.2h.1M178.2 84.6h.1M200.8 84.1h.1M194.4 70.5h.1M194.0 76.2h.1M213.2 65.4h.1M191.3 75.5h.1M175.3 65.9h.1M202.7 76.8h.1M216.2 66.7h.1M211.4 62.2h.1M209.8 65.7h.1M191.6 92.4h.1M188.8 72.4h.1M195.8 95.4h.1M184.6 65.2h.1M197.3 81.3h.1M184.6 73.9h.1M184.7 75.7h.1M184.9 86.8h.1M195.2 95.4h.1M207.4 77.4h.1M192.3 91.1h.1M203.3 67.7h.1M185.9 70.7h.1M187.6 74.4h.1M191.4 96.0h.1M185.1 60.5h.1M200.3 82.2h.1M187.9 73.5h.1M189.9 89.7h.1M186.7 63.1h.1M177.2 69.2h.1M184.6 86.4h.1M205.5 73.6h.1M187.0 87.9h.1M179.6 80.3h.1M187.9 70.1h.1M200.0 68.6h.1M188.5 76.2h.1M199.9 83.8h.1M205.3 81.7h.1M179.2 84.1h.1M192.5 65.3h.1M188.6 52.4h.1M212.0 72.6h.1M185.5 49.1h.1M205.7 79.1h.1M179.6 62.5h.1M199.1 75.8h.1M172.8 76.1h.1M188.4 87.7h.1M182.3 66.1h.1M191.0 82.5h.1M209.9 67.9h.1M210.2 62.8h.1M198.4 68.3h.1M198.6 86.9h.1M198.2 93.4h.1M216.1 66.1h.1M191.7 66.6h.1M199.5 73.9h.1M187.1 66.2h.1M202.7 67.7h.1M181.6 81.7h.1M217.5 64.8h.1M215.0 66.9h.1M209.1 68.4h.1M211.7 82.5h.1M184.7 70.7h.1M187.8 63.0h.1M197.6 73.2h.1M199.5 76.7h.1M187.9 49.4h.1M192.0 74.3h.1M182.3 80.5h.1M181.9 61.5h.1M180.7 73.1h.1M228.4 99.0h.1M209.5 64.6h.1M193.2 70.3h.1M197.3 77.7h.1M191.4 94.8h.1M178.2 85.2h.1M214.4 65.3h.1M176.6 82.4h.1M185.0 48.8h.1M198.5 74.5h.1M190.2 47.7h.1M178.5 65.1h.1M190.5 70.4h.1M187.2 53.0h.1M214.5 65.1h.1M201.8 78.9h.1M184.6 68.2h.1M185.3 85.8h.1M213.5 66.9h.1M199.2 92.0h.1M194.4 94.4h.1M183.6 71.5h.1M186.5 45.6h.1M190.5 76.5h.1M176.2 80.6h.1M199.4 90.9h.1M200.3 92.1h.1M185.8 58.1h.1M183.7 50.1h.1M179.2 67.3h.1M197.7 88.8h.1M173.3 72.1h.1M189.3 51.5h.1M196.4 74.5h.1M205.4 66.5h.1M187.9 85.2h.1M172.5 78.7h.1M204.9 96.4h.1M209.4 70.7h.1M206.5 86.2h.1M183.4 78.2h.1M190.6 98.4h.1M173.8 68.4h.1M188.5 73.8h.1M188.4 85.6h.1M190.7 88.9h.1M204.1 69.1h.1M186.1 73.4h.1M194.6 85.5h.1M194.8 74.9h.1M193.1 90.0h.1M197.4 96.9h.1M171.5 70.1h.1M209.2 74.2h.1M213.5 68.4h.1M195.6 88.6h.1M191.8 68.6h.1M189.4 65.8h.1M181.1 84.9h.1M185.8 59.0h.1M197.8 89.6h.1M188.2 74.3h.1M192.6 46.4h.1M214.3 107.2h.1M183.1 65.7h.1M177.8 66.7h.1M183.5 92.2h.1M188.8 86.4h.1M184.8 81.0h.1M212.4 69.8h.1M195.4 100.4h.1M201.7 83.8h.1M216.1 66.6h.1M196.8 87.2h.1M191.5 81.1h.1M204.7 67.7h.1M206.3 82.7h.1M225.1 95.8h.1M188.3 95.5h.1M190.7 63.5h.1M198.8 78.2h.1M207.3 63.9h.1M215.3 66.4h.1M203.2 70.1h.1M206.0 70.5h.1M176.8 74.5h.1M181.0 83.4h.1M181.8 67.9h.1M205.7 89.6h.1M206.6 90.0h.1M175.1 67.4h.1M190.1 73.9h.1M181.0 77.7h.1M181.5 62.2h.1M193.4 85.9h.1M189.5 88.8h.1M198.3 87.1h.1M214.7 63.7h.1M185.3 77.7h.1M210.8 81.9h.1M190.3 75.4h.1M190.3 84.2h.1M207.1 75.0h.1M211.8 60.5h.1M195.8 81.4h.1M179.2 70.9h.1M209.8 65.4h.1M171.4 74.0h.1M209.3 67.2h.1M193.4 81.3h.1M224.7 96.1h.1M198.4 78.1h.1M192.6 70.7h.1M197.6 74.8h.1M196.0 91.0h.1M231.7 102.1h.1M193.9 92.3h.1M187.3 67.2h.1M174.7 73.0h.1M181.3 73.2h.1M229.6 105.6h.1M196.9 87.8h.1M208.0 84.3h.1M181.4 82.7h.1M202.2 70.3h.1M174.8 70.5h.1M197.8 82.9h.1M200.8 93.3h.1M186.1 49.1h.1M213.3 65.9h.1M188.5 83.2h.1M201.1 85.7h.1M185.6 77.2h.1M198.3 90.5h.1M200.7 81.7h.1M182.8 66.3h.1M178.6 68.2h.1M200.3 87.9h.1M193.0 74.8h.1M185.8 68.8h.1M195.6 86.8h.1M175.2 67.6h.1M180.7 82.3h.1M188.6 67.6h.1M185.3 58.9h.1M201.6 72.7h.1M174.6 67.3h.1M183.9 47.3h.1M211.1 77.1h.1M199.1 99.3h.1M187.3 55.9h.1M190.8 97.9h.1M208.1 63.8h.1M189.3 76.1h.1M199.3 87.7h.1M193.1 85.1h.1M181.1 69.3h.1M181.6 80.3h.1M181.9 61.6h.1M198.8 93.3h.1M189.4 50.6h.1M192.4 77.7h.1M177.5 78.3h.1M189.2 87.2h.1M185.7 58.8h.1M188.0 88.4h.1M201.3 90.1h.1M185.2 72.5h.1M213.5 65.1h.1M183.0 81.9h.1M182.5 60.1h.1M215.8 85.4h.1M198.0 73.1h.1M190.4 46.1h.1M178.5 69.4h.1M181.8 87.5h.1M217.7 66.5h.1M189.9 88.6h.1M177.6 82.1h.1M178.3 69.9h.1M188.2 48.6h.1M176.7 72.1h.1M192.1 79.5h.1M186.2 48.8h.1M176.8 72.8h.1M185.7 83.1h.1M205.6 65.9h.1M202.0 93.8h.1M191.5 83.9h.1M203.6 77.6h.1M193.5 71.5h.1M199.3 86.9h.1M189.0 77.6h.1M185.1 93.3h.1M178.4 87.6h.1M194.3 89.4h.1M176.1 72.7h.1M177.1 71.9h.1M181.7 79.7h.1M181.7 74.3h.1M183.7 74.8h.1M181.4 84.4h.1M205.6 97.6h.1M177.6 69.7h.1M195.0 72.6h.1M193.1 90.4h.1M196.2 77.1h.1M197.7 88.2h.1M208.6 84.2h.1M186.7 59.8h.1M191.8 70.6h.1M189.1 64.0h.1M176.3 77.1h.1M187.3 91.7h.1M184.6 75.1h.1M203.2 85.9h.1M188.5 83.0h.1M197.9 67.4h.1M215.5 64.2h.1M183.3 52.2h.1M200.0 91.7h.1M186.6 79.1h.1M192.1 49.5h.1M188.7 69.9h.1M202.7 82.0h.1M183.5 73.5h.1M205.7 73.9h.1M189.6 48.2h.1M215.6 62.1h.1M211.6 63.3h.1M185.0 82.1h.1M198.2 84.3h.1M199.3 87.8h.1M185.5 46.8h.1M186.8 86.6h.1M186.9 70.4h.1M186.7 71.9h.1M182.2 65.8h.1M213.7 67.3h.1M203.4 75.8h.1M182.0 80.7h.1M215.4 66.9h.1M184.6 67.4h.1M185.1 74.5h.1M182.5 62.2h.1M182.0 84.5h.1M189.4 49.4h.1M181.6 82.0h.1M197.9 93.9h.1M199.0 77.5h.1M207.7 77.3h.1M181.6 79.5h.1M182.7 48.0h.1M195.6 68.9h.1M172.0 73.1h.1M205.2 73.8h.1M201.8 95.7h.1M185.1 87.5h.1M204.8 90.9h.1M207.9 66.2h.1M182.5 74.1h.1M191.7 96.1h.1M172.5 69.8h.1M199.4 89.0h.1M188.2 82.2h.1M191.5 79.6h.1M190.0 72.0h.1M185.1 78.4h.1M182.1 69.4h.1M194.5 85.9h.1M190.3 84.1h.1M186.7 46.6h.1M222.1 97.1h.1M176.2 72.9h.1M199.0 77.7h.1M190.8 70.4h.1M197.5 45.8h.1M178.5 70.5h.1M185.9 83.4h.1M189.1 47.9h.1M181.0 75.1h.1M186.6 91.7h.1M191.6 48.7h.1M187.8 64.8h.1M186.4 49.4h.1M202.0 75.7h.1M180.3 63.1h.1M192.8 78.0h.1M194.2 83.8h.1M179.3 84.4h.1M179.7 72.5h.1M198.1 85.1h.1M182.1 77.6h.1M195.5 75.6h.1M185.3 58.6h.1M204.0 86.9h.1M200.1 94.5h.1M201.1 81.3h.1M185.4 87.1h.1M199.0 90.1h.1M202.4 73.8h.1M179.1 82.0h.1M184.1 79.8h.1M189.3 69.8h.1M191.7 93.8h.1M193.6 70.8h.1M188.6 47.3h.1M196.5 46.1h.1M180.2 65.7h.1M192.0 67.0h.1M193.4 72.8h.1M182.7 74.1h.1M184.5 47.9h.1M174.6 67.0h.1M185.5 52.5h.1M177.2 72.7h.1M206.9 103.6h.1M176.1 78.7h.1M232.9 91.2h.1M182.4 48.7h.1M199.0 82.3h.1M192.9 80.9h.1M205.5 73.7h.1M184.6 74.1h.1M181.3 65.9h.1M188.6 51.8h.1M215.8 67.0h.1M203.3 89.3h.1M201.9 72.6h.1M175.0 70.9h.1M191.7 80.1h.1M186.2 77.8h.1M180.3 80.9h.1M198.2 75.3h.1M210.4 76.9h.1M186.5 69.8h.1M190.3 75.2h.1M187.5 46.4h.1M185.6 46.0h.1M204.2 79.1h.1M206.9 65.4h.1M172.8 71.3h.1M188.3 63.5h.1M197.9 67.4h.1M177.1 70.1h.1M186.2 50.1h.1M175.8 80.3h.1M197.1 77.8h.1M188.2 68.5h.1M186.2 65.8h.1M212.2 70.6h.1M185.7 84.4h.1M203.1 93.7h.1M186.8 86.6h.1M185.3 48.3h.1M190.0 64.5h.1M197.3 68.0h.1M196.2 99.8h.1M203.0 91.0h.1M204.2 70.4h.1M211.5 68.5h.1M176.0 72.3h.1M187.8 51.0h.1M192.3 48.5h.1M191.2 97.1h.1M197.1 70.7h.1M182.8 74.7h.1M211.7 69.5h.1M194.3 86.0h.1M180.1 65.7h.1M188.2 79.0h.1M181.7 89.7h.1M187.0 51.5h.1M199.3 85.5h.1M193.2 79.8h.1M206.0 66.0h.1M215.8 80.5h.1M184.0 65.0h.1M201.7 81.9h.1M188.8 51.1h.1M185.5 50.6h.1M196.1 75.9h.1M171.5 69.6h.1M186.8 77.0h.1M194.3 91.0h.1M188.6 65.0h.1M192.1 68.5h.1M176.0 71.9h.1M207.9 81.5h.1M191.8 74.7h.1M197.3 98.9h.1M211.2 67.5h.1M181.0 83.8h.1M195.7 74.2h.1M209.2 64.8h.1M186.4 63.0h.1M182.6 82.0h.1M186.8 71.5h.1M192.9 47.0h.1M204.7 79.0h.1M184.1 81.1h.1M200.5 94.1h.1M210.2 62.3h.1M177.6 83.1h.1M190.4 95.8h.1M183.7 70.5h.1M202.4 88.7h.1M189.7 97.6h.1M205.3 84.0h.1M192.0 78.3h.1M179.1 68.3h.1M185.6 47.9h.1M175.3 71.7h.1M185.2 77.8h.1M195.5 66.6h.1M175.5 84.3h.1M181.0 65.1h.1M193.1 85.9h.1M185.8 86.9h.1M182.3 76.8h.1M183.4 54.0h.1M181.9 47.9h.1M199.4 98.5h.1M204.1 66.1h.1M172.3 68.9h.1M226.6 103.7h.1M178.8 65.1h.1M202.0 74.3h.1M203.8 82.3h.1M198.1 77.5h.1M179.4 69.8h.1M198.4 96.5h.1M181.3 60.1h.1M173.0 77.6h.1M180.6 83.5h.1M174.7 71.3h.1M203.4 81.1h.1M187.9 75.2h.1M188.6 74.7h.1M214.2 95.1h.1M185.3 84.7h.1M186.2 59.5h.1M186.8 49.1h.1M191.0 48.6h.1M206.9 70.3h.1M192.2 50.4h.1M186.6 46.9h.1M178.6 75.8h.1M185.5 81.4h.1M173.3 67.7h.1M184.3 82.4h.1M175.6 79.0h.1M189.6 47.5h.1M204.5 72.0h.1M178.2 74.1h.1M187.3 93.0h.1M189.2 85.1h.1M193.7 79.2h.1M193.9 78.3h.1M186.5 67.4h.1M176.0 76.6h.1M204.3 67.1h.1M220.3 101.9h.1M193.2 86.6h.1M200.4 85.7h.1M191.3 49.5h.1M191.2 84.0h.1M172.4 68.2h.1M178.8 84.1h.1M191.6 90.4h.1M190.0 66.1h.1M211.7 81.3h.1M215.3 62.1h.1M193.7 96.0h.1M200.0 96.9h.1M183.1 86.8h.1M183.9 64.4h.1M174.6 73.7h.1M192.1 79.0h.1M176.2 79.8h.1M191.6 70.7h.1M178.4 77.0h.1M185.8 68.6h.1M200.3 76.4h.1M204.5 70.0h.1M200.6 88.0h.1M182.7 66.2h.1M191.2 70.7h.1M175.9 80.6h.1M187.3 48.6h.1M214.3 107.1h.1M189.6 69.1h.1M191.8 69.9h.1M211.0 60.4h.1M206.5 70.5h.1M198.5 84.2h.1M181.4 73.7h.1M172.9 76.7h.1M194.6 87.5h.1M183.5 90.5h.1M191.1 87.4h.1M180.1 77.8h.1M192.2 90.3h.1M183.2 75.9h.1M178.6 74.9h.1M212.1 65.8h.1M173.9 73.4h.1M209.6 66.8h.1M176.1 76.7h.1M198.7 71.8h.1M178.1 78.1h.1M174.5 80.8h.1M196.4 68.0h.1M186.3 73.9h.1M198.9 82.4h.1M171.6 75.1h.1M187.3 68.3h.1M173.2 68.0h.1M189.5 88.0h.1M199.4 77.6h.1M193.3 47.8h.1M197.4 88.2h.1M199.4 71.3h.1M197.5 80.6h.1M209.8 96.1h.1M202.3 90.4h.1M192.2 70.3h.1M207.5 72.6h.1M193.2 99.3h.1M178.3 63.5h.1M183.8 75.2h.1M210.1 76.8h.1M185.6 52.2h.1M206.7 66.7h.1M197.6 69.6h.1M185.2 75.6h.1M196.0 74.7h.1M188.9 65.8h.1M198.9 85.5h.1M202.2 90.0h.1M189.1 84.9h.1M196.5 66.9h.1M173.3 72.3h.1M210.3 67.1h.1M201.4 86.1h.1M191.9 88.7h.1M211.4 66.9h.1M189.7 81.7h.1M215.5 66.2h.1M183.0 51.1h.1M191.0 75.0h.1M191.5 84.9h.1M210.6 61.1h.1M204.8 90.5h.1M187.4 68.7h.1M188.0 90.8h.1M201.9 76.3h.1M184.3 81.6h.1M186.0 48.1h.1M183.8 48.1h.1M187.4 53.2h.1M183.2 76.8h.1M188.9 82.3h.1M177.0 71.1h.1M178.8 65.1h.1M208.5 81.8h.1M205.8 87.1h.1M182.4 81.6h.1M209.8 71.8h.1M176.0 78.1h.1M199.0 71.0h.1M210.4 78.2h.1M191.7 79.0h.1M194.8 69.9h.1" stroke="#b3372c" stroke-width="0.95" stroke-linecap="square" fill="none"/>
<path d="M214.5 145.1h.1M187.0 139.7h.1M200.8 115.0h.1M204.8 166.2h.1M191.0 145.3h.1M197.0 144.4h.1M213.9 141.0h.1M178.7 145.5h.1M205.8 157.9h.1M208.5 171.8h.1M197.6 149.9h.1M211.2 141.5h.1M226.1 170.3h.1M175.8 149.1h.1M193.9 123.4h.1M180.2 139.2h.1M197.7 165.8h.1M219.9 157.8h.1M186.6 165.9h.1M192.3 120.9h.1M179.0 154.0h.1M218.9 174.6h.1M210.3 146.3h.1M209.6 153.6h.1M212.9 147.0h.1M199.2 161.3h.1M229.7 162.6h.1M207.5 176.6h.1M196.1 168.4h.1M195.5 163.0h.1M198.5 166.7h.1M183.5 161.0h.1M178.7 146.9h.1M191.5 161.6h.1M192.2 142.9h.1M185.0 123.7h.1M211.0 141.6h.1M192.5 146.5h.1M218.5 155.7h.1M203.9 146.2h.1M187.8 120.7h.1M187.6 118.1h.1M181.3 143.7h.1M174.5 151.1h.1M197.1 138.6h.1M207.9 144.7h.1M185.2 124.4h.1M191.9 119.8h.1M185.1 145.8h.1M194.1 142.2h.1M177.4 143.7h.1M177.8 154.1h.1M217.3 181.0h.1M188.9 142.4h.1M183.2 144.0h.1M214.5 138.2h.1M181.8 134.8h.1M215.6 158.1h.1M208.3 145.1h.1M204.6 172.5h.1M186.7 119.0h.1M200.6 157.2h.1M188.9 168.7h.1M202.4 141.1h.1M188.9 117.5h.1M178.0 143.9h.1M196.0 149.6h.1M197.4 167.2h.1M187.9 118.6h.1M193.9 123.1h.1M212.3 148.6h.1M207.2 152.9h.1M178.6 145.5h.1M188.9 129.8h.1M186.7 145.1h.1M189.4 149.4h.1M206.7 157.6h.1M191.5 157.8h.1M196.0 143.4h.1M201.4 145.1h.1M211.0 180.7h.1M213.6 175.8h.1M189.3 147.8h.1M205.6 143.2h.1M207.1 139.3h.1M213.9 172.6h.1M211.2 174.6h.1M181.9 147.1h.1M189.6 163.1h.1M205.1 148.3h.1M215.4 170.1h.1M200.2 160.4h.1M209.5 171.6h.1M184.9 140.7h.1M197.4 165.8h.1M199.1 168.7h.1M189.2 164.2h.1M217.1 153.2h.1M186.0 118.9h.1M188.4 155.6h.1M213.9 169.4h.1M179.5 155.5h.1M204.5 164.9h.1M201.8 162.0h.1M209.1 143.5h.1M229.4 162.9h.1M216.9 137.5h.1M193.5 145.7h.1M216.4 161.1h.1M202.7 168.7h.1M211.2 136.5h.1M202.9 155.7h.1M206.7 145.0h.1M192.7 145.6h.1M203.3 148.6h.1M183.2 155.2h.1M195.1 136.8h.1M183.2 137.7h.1M211.7 142.5h.1M188.8 154.8h.1M222.8 165.8h.1M182.7 146.9h.1M209.4 146.9h.1M191.9 121.2h.1M208.5 156.0h.1M177.0 139.5h.1M178.5 145.3h.1M232.4 166.2h.1M180.0 142.2h.1M191.5 158.4h.1M198.5 152.2h.1M233.7 168.7h.1M205.4 177.0h.1M207.0 164.0h.1M193.1 140.6h.1M189.4 135.2h.1M194.2 165.2h.1M218.2 163.0h.1M186.4 153.7h.1M214.5 136.0h.1M190.0 152.4h.1M195.2 140.3h.1M191.0 157.1h.1M216.6 166.4h.1M182.9 145.1h.1M176.1 140.0h.1M195.4 140.6h.1M189.4 166.0h.1M196.3 157.9h.1M200.3 157.5h.1M210.5 138.8h.1M214.0 146.8h.1M194.7 170.2h.1M212.2 163.6h.1M188.1 131.1h.1M196.4 168.8h.1M185.7 154.0h.1M189.2 162.9h.1M195.5 150.7h.1M192.5 118.0h.1M210.8 138.0h.1M212.8 145.5h.1M210.7 134.8h.1M190.4 118.9h.1M188.3 123.3h.1M187.9 138.3h.1M175.2 143.9h.1M215.9 137.5h.1M198.5 161.2h.1M180.3 155.7h.1M196.5 159.8h.1M196.9 145.2h.1M187.0 146.8h.1M187.1 137.4h.1M192.6 150.0h.1M207.8 143.5h.1M205.5 147.7h.1M204.2 145.6h.1M174.0 145.7h.1M191.0 154.3h.1M187.7 143.6h.1M207.2 172.6h.1M176.2 140.9h.1M187.7 131.2h.1M215.9 173.9h.1M197.0 160.4h.1M202.9 154.0h.1M185.9 158.2h.1M182.4 151.2h.1M206.0 152.5h.1M186.8 121.0h.1M181.7 157.0h.1M213.9 176.7h.1M205.5 164.8h.1M190.6 141.7h.1M182.5 147.5h.1M181.8 159.3h.1M184.5 145.8h.1M196.5 139.0h.1M188.1 161.4h.1M187.0 139.9h.1M226.7 168.6h.1M193.2 171.1h.1M189.0 151.9h.1M198.4 147.4h.1M207.0 143.0h.1M192.0 148.2h.1M193.3 149.7h.1M194.5 149.4h.1M199.6 161.8h.1M187.9 154.1h.1M189.0 149.8h.1M225.2 175.7h.1M232.2 163.4h.1M210.7 155.8h.1M217.2 177.4h.1M212.3 141.7h.1M192.1 167.0h.1M210.9 167.8h.1M203.6 151.7h.1M183.4 152.3h.1M209.4 147.9h.1M207.3 163.4h.1M192.1 135.2h.1M195.6 154.5h.1M203.1 163.4h.1M179.5 141.6h.1M187.9 162.0h.1M210.3 159.8h.1M196.4 148.9h.1M191.1 135.1h.1M217.6 178.0h.1M182.4 155.7h.1M209.3 153.0h.1M194.1 145.9h.1M179.1 145.1h.1M178.4 153.4h.1M177.7 148.1h.1M194.0 165.5h.1M199.7 173.4h.1M179.0 146.2h.1M184.1 154.6h.1M175.9 147.5h.1M188.0 121.4h.1M195.8 148.2h.1M181.1 146.5h.1M195.2 159.3h.1M231.9 169.5h.1M185.4 119.8h.1M205.6 163.3h.1M216.8 160.4h.1M215.3 156.9h.1M187.3 143.4h.1M189.0 164.8h.1M208.8 142.3h.1M214.2 158.9h.1M203.4 149.4h.1M190.1 160.1h.1M204.4 171.7h.1M176.0 145.6h.1M200.0 147.4h.1M218.5 168.8h.1M196.3 151.0h.1M201.1 165.9h.1M189.5 131.5h.1M183.3 131.7h.1M212.7 167.2h.1M186.9 163.1h.1M177.9 142.6h.1M182.8 134.6h.1M214.7 147.0h.1M218.1 137.4h.1M213.3 175.0h.1M188.0 146.2h.1M210.5 176.2h.1M187.8 120.5h.1M175.5 148.0h.1M213.5 134.3h.1M192.9 159.5h.1M176.4 149.1h.1M203.9 144.7h.1M188.2 155.1h.1M210.9 154.6h.1M197.9 139.0h.1M193.3 150.6h.1M195.1 165.3h.1M200.2 150.8h.1M179.4 144.2h.1M186.0 158.0h.1M217.7 138.9h.1M177.5 152.0h.1M196.5 120.2h.1M195.3 119.1h.1M191.0 140.1h.1M187.0 163.6h.1M186.7 154.4h.1M181.5 154.9h.1M220.4 167.1h.1M178.4 151.3h.1M213.3 153.1h.1M187.0 122.2h.1M177.1 145.6h.1M203.9 150.0h.1M190.7 139.0h.1M183.1 155.1h.1M184.4 161.8h.1M187.0 141.4h.1M187.8 127.0h.1M214.3 140.9h.1M178.5 149.1h.1M188.2 120.8h.1M200.5 170.6h.1M197.2 157.7h.1M193.0 167.1h.1M182.4 148.3h.1M212.2 136.8h.1M218.7 156.4h.1M197.8 163.0h.1M210.5 178.0h.1M203.7 148.3h.1M188.4 156.6h.1M192.3 156.1h.1M207.8 147.1h.1M222.1 158.2h.1M194.8 150.4h.1M211.9 170.2h.1M199.9 138.0h.1M195.4 141.5h.1M204.8 146.4h.1M212.7 153.4h.1M184.4 120.4h.1M178.6 144.6h.1M214.5 136.7h.1M182.1 155.0h.1M185.0 119.6h.1M195.8 154.1h.1M224.3 175.4h.1M184.3 120.4h.1M184.4 153.6h.1M195.0 157.6h.1M205.0 163.9h.1M201.7 143.3h.1M195.0 168.0h.1M207.5 143.5h.1M175.1 148.3h.1M214.1 149.6h.1M238.3 171.3h.1M189.5 146.1h.1M185.2 137.5h.1M199.8 168.8h.1M194.4 159.2h.1M193.8 169.6h.1M187.9 135.6h.1M192.3 168.2h.1M206.2 151.9h.1M213.7 150.1h.1M174.0 147.8h.1M187.4 167.4h.1M198.4 154.1h.1M186.8 159.4h.1M197.9 170.5h.1M197.0 158.4h.1M177.7 138.1h.1M179.5 152.2h.1M184.6 137.7h.1M181.0 140.7h.1M219.3 139.6h.1M190.2 135.4h.1M201.2 172.7h.1M206.4 159.8h.1M208.8 152.9h.1M204.6 148.6h.1M197.8 153.7h.1M202.3 167.6h.1M210.6 178.5h.1M186.2 150.4h.1M202.6 152.5h.1M203.2 160.9h.1M183.8 147.6h.1M213.0 154.4h.1M208.6 150.8h.1M194.4 163.8h.1M209.0 138.7h.1M188.9 150.8h.1M206.0 170.2h.1M205.4 164.8h.1M185.2 123.6h.1M177.6 140.1h.1M211.7 145.5h.1M217.7 138.3h.1M205.0 146.7h.1M219.7 174.8h.1M203.4 151.5h.1M200.5 156.9h.1M210.4 157.2h.1M214.6 175.2h.1M200.6 171.5h.1M188.8 121.5h.1M206.5 151.4h.1M179.1 144.7h.1M213.2 174.2h.1M196.5 148.3h.1M208.4 141.8h.1M205.8 160.9h.1M214.9 146.3h.1M210.0 145.7h.1M194.1 141.4h.1M207.6 151.6h.1M187.7 146.3h.1M199.8 155.1h.1M184.2 154.5h.1M192.6 162.9h.1M201.1 151.3h.1M203.8 157.1h.1M209.1 142.8h.1M197.5 148.3h.1M211.4 167.0h.1M185.6 158.5h.1M181.6 142.9h.1M184.1 135.7h.1M200.3 117.5h.1M191.9 168.8h.1M184.0 141.6h.1M203.9 166.9h.1M195.0 156.7h.1M208.9 179.3h.1M188.4 146.1h.1M180.5 137.9h.1M201.1 156.7h.1M181.8 138.4h.1M201.3 160.5h.1M191.1 144.7h.1M220.2 176.6h.1M216.5 180.0h.1M217.0 135.9h.1M194.9 137.8h.1M200.8 161.4h.1M208.1 146.2h.1M196.5 167.3h.1M185.5 140.1h.1M215.8 173.6h.1M215.9 166.6h.1M206.5 156.8h.1M218.8 157.5h.1M215.8 157.6h.1M234.9 162.5h.1M231.4 170.1h.1M197.9 148.2h.1M191.4 168.5h.1M217.1 179.6h.1M184.5 161.5h.1M208.6 153.0h.1M198.5 171.5h.1M196.8 153.0h.1M177.9 148.9h.1M205.4 164.1h.1M203.9 149.4h.1M190.2 163.0h.1M191.7 147.0h.1M209.4 165.0h.1M185.9 161.7h.1M189.9 162.3h.1M216.4 167.3h.1M194.1 150.9h.1M185.6 118.7h.1M217.5 167.7h.1M224.2 167.8h.1M215.8 175.7h.1M191.1 151.2h.1M184.4 163.1h.1M182.3 142.2h.1M194.6 157.4h.1M188.4 147.9h.1M194.4 150.3h.1M209.1 162.4h.1M188.0 136.4h.1M183.1 143.7h.1M210.2 147.2h.1M219.3 157.4h.1M221.1 172.6h.1M203.0 148.7h.1M192.5 154.6h.1M183.9 158.0h.1M214.1 154.1h.1M190.3 157.4h.1M176.7 145.8h.1M191.2 167.2h.1M197.6 169.5h.1M208.8 160.0h.1M211.0 177.6h.1M199.3 170.6h.1M210.1 163.2h.1M210.9 151.0h.1M202.6 144.1h.1M199.3 173.1h.1M217.3 135.6h.1M191.3 148.3h.1M202.3 159.5h.1M186.1 138.1h.1M178.2 144.4h.1M199.8 160.4h.1M199.3 143.3h.1M200.3 162.0h.1M207.5 177.7h.1M186.5 141.3h.1M176.1 146.3h.1M186.9 118.0h.1M202.3 158.7h.1M178.4 143.0h.1M194.9 164.9h.1M203.2 166.4h.1M213.4 157.1h.1M194.0 170.2h.1M217.1 153.1h.1M201.3 158.4h.1M177.5 140.1h.1M179.8 142.8h.1M199.8 153.7h.1M189.9 163.0h.1M216.3 165.8h.1M191.8 158.2h.1M213.3 144.5h.1M219.6 156.8h.1M182.2 144.5h.1M199.9 154.8h.1M185.2 163.0h.1M196.2 144.0h.1M189.5 138.7h.1M209.8 151.9h.1M182.2 138.1h.1M213.1 169.1h.1M200.6 168.0h.1M190.9 148.9h.1M190.8 138.7h.1M210.7 155.4h.1M212.7 139.6h.1M193.5 142.7h.1M192.6 166.4h.1M206.0 175.4h.1M193.9 160.1h.1M191.6 159.3h.1M199.6 143.3h.1M199.7 159.1h.1M193.1 143.2h.1M179.2 138.6h.1M205.3 158.4h.1M207.9 177.1h.1M193.4 138.7h.1M184.5 133.1h.1M200.2 159.4h.1M182.3 148.5h.1M180.6 151.8h.1M199.7 152.2h.1M207.9 146.2h.1M214.4 174.4h.1M206.2 155.1h.1M179.4 138.5h.1M232.4 178.9h.1M210.9 149.6h.1M193.6 164.4h.1M199.9 147.1h.1M180.1 149.0h.1M211.0 134.4h.1M190.1 146.8h.1M202.6 163.3h.1M188.2 150.4h.1M199.3 159.1h.1M182.6 137.0h.1M204.3 156.4h.1M210.2 139.3h.1M216.7 167.2h.1M191.3 138.2h.1M217.3 140.6h.1M194.2 141.1h.1M193.7 170.1h.1M182.8 138.2h.1M211.5 159.0h.1M197.8 154.7h.1M208.3 154.3h.1M197.6 162.1h.1M233.0 177.5h.1M196.2 149.5h.1M217.2 136.4h.1M213.8 139.4h.1M188.0 123.4h.1M205.3 142.1h.1M202.2 149.5h.1M183.0 141.5h.1M182.0 153.0h.1M189.2 119.5h.1M182.1 153.2h.1M208.1 157.4h.1M188.8 144.7h.1M211.1 158.5h.1M188.9 117.6h.1M200.8 169.6h.1M190.0 123.3h.1M185.7 149.8h.1M177.6 156.6h.1M191.0 120.5h.1M194.2 167.1h.1M186.0 157.8h.1M208.1 162.6h.1M202.7 159.0h.1M211.3 156.0h.1M184.0 162.2h.1M180.2 153.3h.1M205.5 142.4h.1M178.5 156.5h.1M230.0 164.0h.1M207.6 159.0h.1M191.2 159.4h.1M190.7 147.0h.1M202.8 165.7h.1M189.5 153.0h.1M211.7 144.3h.1M186.0 144.1h.1M213.4 155.4h.1M198.9 118.1h.1M196.3 150.0h.1M182.2 139.7h.1M208.6 145.9h.1M189.5 169.0h.1M206.9 159.0h.1M207.2 151.9h.1M181.1 160.7h.1M200.2 114.6h.1M179.2 143.4h.1M239.3 166.7h.1M182.2 148.0h.1M185.6 163.7h.1M186.2 143.9h.1M189.4 133.0h.1M210.1 158.1h.1M194.5 164.9h.1M183.4 131.7h.1M186.6 146.7h.1M193.9 119.4h.1M192.7 171.1h.1M204.1 151.0h.1M182.8 135.7h.1M181.0 148.5h.1M219.3 172.9h.1M189.1 146.6h.1M203.1 163.3h.1M181.4 138.9h.1M210.3 142.1h.1M192.9 149.2h.1M188.6 131.8h.1M199.7 170.0h.1M205.9 149.3h.1M190.6 155.0h.1M191.5 170.2h.1M212.8 176.9h.1M184.8 150.9h.1M200.1 171.0h.1M200.3 166.7h.1M196.7 148.9h.1M201.4 140.1h.1M194.8 149.6h.1M209.9 141.0h.1M209.9 151.1h.1M181.7 157.3h.1M198.5 145.8h.1M198.7 161.2h.1M203.4 170.6h.1M194.6 163.3h.1M210.2 142.3h.1M206.6 151.3h.1M216.5 171.9h.1M176.6 139.5h.1M184.5 151.9h.1M197.1 153.2h.1M219.0 135.0h.1M221.0 176.1h.1M189.4 161.5h.1M183.8 152.1h.1M185.8 126.1h.1M227.1 167.0h.1M192.9 137.6h.1M179.3 158.2h.1M201.2 172.3h.1M211.7 149.8h.1M206.8 151.3h.1M217.4 139.4h.1M190.2 156.7h.1M188.3 149.6h.1M198.9 155.4h.1M196.3 150.2h.1M221.6 167.1h.1M211.2 140.8h.1M191.9 162.1h.1M221.1 169.4h.1M194.4 157.3h.1M202.7 155.0h.1M179.1 145.1h.1M185.1 142.1h.1M195.6 152.6h.1M205.4 165.3h.1M203.4 174.3h.1M189.8 151.3h.1M219.6 139.2h.1M193.1 138.4h.1M174.5 143.9h.1M200.0 153.1h.1M199.3 157.2h.1M192.1 121.0h.1M179.8 155.6h.1M199.7 170.3h.1M196.6 145.3h.1M191.6 123.3h.1M184.4 162.9h.1M188.2 161.4h.1M219.8 175.3h.1M182.9 162.5h.1M177.0 146.4h.1M188.4 129.2h.1M211.7 145.6h.1M191.0 149.6h.1M215.0 180.4h.1M187.9 122.4h.1M194.0 146.7h.1M204.4 165.6h.1M192.5 118.0h.1M209.2 156.9h.1M189.1 132.1h.1M185.7 131.3h.1M213.5 152.1h.1M194.5 151.7h.1M199.4 170.2h.1M193.2 166.5h.1M195.3 121.0h.1M181.1 150.1h.1M204.2 146.1h.1M194.0 167.4h.1M180.5 145.9h.1M211.5 149.9h.1M202.2 149.3h.1M192.3 162.1h.1M204.0 154.3h.1M220.8 168.3h.1M184.1 156.1h.1M191.2 140.2h.1M221.1 167.6h.1M186.9 154.2h.1M192.3 151.2h.1M176.0 144.8h.1M186.3 159.3h.1M199.5 172.0h.1M213.4 165.8h.1M183.2 147.9h.1M214.0 176.8h.1M192.4 146.6h.1M196.0 150.0h.1M181.4 137.9h.1M200.8 164.3h.1M224.7 165.5h.1M180.5 150.9h.1M194.1 151.8h.1M178.9 139.8h.1M173.9 142.7h.1M227.9 164.8h.1M185.6 161.3h.1M195.9 143.2h.1M184.2 160.4h.1M178.1 156.4h.1M212.2 153.5h.1M217.8 171.3h.1M209.9 177.2h.1M191.2 157.0h.1M208.7 149.4h.1M194.9 165.0h.1M200.3 139.9h.1M198.8 171.2h.1M207.6 171.2h.1M201.8 158.3h.1M186.4 121.4h.1M177.3 139.4h.1M187.7 158.7h.1M208.4 161.6h.1M203.5 154.0h.1M176.8 155.5h.1M191.0 123.9h.1M186.4 127.6h.1M199.9 162.7h.1M206.7 141.8h.1M175.1 150.9h.1M208.0 144.1h.1M214.4 142.3h.1M193.0 146.4h.1M196.1 154.3h.1M219.0 179.7h.1M218.2 137.4h.1M211.7 155.5h.1M212.1 135.8h.1M196.6 146.0h.1M195.8 166.0h.1M210.0 148.1h.1M200.5 147.5h.1M188.7 131.8h.1M191.5 169.6h.1M185.7 139.1h.1M193.7 168.7h.1M209.7 148.3h.1M199.1 150.2h.1M192.6 136.9h.1M200.8 169.6h.1M177.2 147.8h.1M180.6 158.1h.1M207.2 177.8h.1M212.6 142.0h.1M189.5 148.1h.1M198.9 170.2h.1M204.4 148.4h.1M220.1 161.3h.1M187.1 119.1h.1M194.5 156.3h.1M210.8 169.9h.1M175.9 148.4h.1M179.1 157.0h.1M200.2 161.0h.1M199.1 167.9h.1M199.6 153.6h.1M199.8 171.3h.1M185.8 150.0h.1M175.3 149.6h.1M195.4 119.3h.1M189.8 151.3h.1M188.6 138.4h.1M206.4 142.1h.1M206.3 163.3h.1M209.4 139.5h.1M211.7 178.2h.1M207.2 177.5h.1M216.1 178.6h.1M185.1 121.8h.1M207.7 145.6h.1M182.5 144.5h.1M207.4 145.0h.1M199.5 157.3h.1M212.6 145.2h.1M196.6 170.0h.1M192.3 139.9h.1M198.1 159.4h.1M197.2 154.8h.1M185.9 160.3h.1M181.9 158.2h.1M196.7 164.1h.1M210.4 136.7h.1M177.9 157.1h.1M191.1 122.1h.1M223.4 175.9h.1M201.0 159.8h.1M181.4 146.4h.1M198.0 162.0h.1M217.2 160.3h.1M188.4 123.1h.1M226.1 175.5h.1M181.8 161.2h.1M205.5 145.2h.1M190.9 146.4h.1M210.3 147.7h.1M192.9 144.1h.1M206.9 161.4h.1M234.2 168.4h.1M180.7 139.3h.1M208.3 178.6h.1M173.9 148.7h.1M209.1 181.2h.1M197.1 148.9h.1M203.3 143.1h.1M185.7 139.5h.1M175.6 140.6h.1M209.3 165.4h.1M202.8 152.6h.1M180.9 137.1h.1M217.0 154.3h.1M202.2 164.2h.1M186.1 121.5h.1M210.7 180.7h.1M209.3 149.1h.1M194.0 143.0h.1M195.8 149.2h.1M194.8 162.8h.1M188.7 133.3h.1M197.1 158.1h.1M177.9 147.6h.1M198.6 173.0h.1M216.9 175.1h.1M216.7 163.0h.1M186.8 118.4h.1M182.0 150.5h.1M203.8 159.5h.1M175.0 142.4h.1M199.5 164.3h.1M205.1 160.3h.1M188.5 146.0h.1M189.4 153.0h.1M177.9 141.8h.1M211.3 168.6h.1M204.1 165.8h.1M177.7 144.3h.1M199.2 150.6h.1M210.2 144.2h.1M214.1 180.0h.1M211.6 138.7h.1M187.0 146.7h.1M210.5 169.1h.1M223.4 163.5h.1M207.1 160.5h.1M213.6 143.3h.1M198.9 139.3h.1M199.3 160.8h.1M206.1 151.6h.1M180.0 154.9h.1M185.8 154.7h.1M198.4 171.5h.1M191.0 159.3h.1M199.5 143.3h.1M204.9 150.8h.1M212.5 148.8h.1M205.8 148.5h.1M182.2 157.4h.1M190.9 119.3h.1M186.8 160.7h.1M210.8 168.2h.1M186.1 151.0h.1M188.1 167.4h.1M208.7 140.1h.1M215.5 181.4h.1M189.0 118.9h.1M187.0 140.7h.1M192.4 142.8h.1M182.5 148.8h.1M183.0 141.3h.1M194.6 167.2h.1M187.1 143.3h.1M215.7 159.3h.1M208.6 145.1h.1M202.4 154.7h.1M206.8 147.6h.1M207.7 161.5h.1M191.9 169.3h.1M227.5 169.3h.1M183.9 144.6h.1M209.4 164.3h.1M208.6 162.6h.1M200.3 167.0h.1M185.2 156.9h.1M200.4 145.8h.1M211.0 159.7h.1M180.1 152.5h.1M179.5 142.7h.1M183.3 160.6h.1M206.1 157.0h.1M191.0 123.3h.1M221.4 172.1h.1M218.5 156.1h.1M183.7 132.8h.1M204.4 155.4h.1M219.7 138.2h.1M216.4 178.7h.1M238.2 168.7h.1M214.1 155.4h.1M200.9 156.4h.1M207.4 140.1h.1M182.6 134.6h.1M212.6 146.1h.1M185.0 126.2h.1M183.3 162.8h.1M210.0 166.8h.1M201.9 159.6h.1M210.4 155.9h.1M213.3 172.5h.1M177.2 142.9h.1M210.5 136.2h.1M191.2 144.6h.1M190.2 167.1h.1M209.1 158.4h.1M216.7 179.5h.1M174.3 145.5h.1M179.4 150.4h.1M181.0 146.0h.1M192.0 122.3h.1M192.1 122.3h.1M187.6 152.1h.1M204.3 145.2h.1M230.8 172.2h.1M188.6 120.3h.1M209.8 153.3h.1M187.5 141.1h.1M197.5 172.3h.1M203.9 168.0h.1M200.8 140.8h.1M208.0 156.7h.1M211.4 170.6h.1M207.7 174.6h.1M187.1 148.4h.1M188.6 160.5h.1M220.0 168.5h.1M193.3 169.1h.1M180.0 154.4h.1M203.8 162.2h.1M192.9 153.8h.1M215.3 168.6h.1M194.4 160.8h.1M188.3 140.7h.1M200.1 172.5h.1M212.2 159.3h.1M227.5 168.9h.1M204.5 166.7h.1M180.9 139.6h.1M212.8 152.5h.1M219.1 136.9h.1M182.6 159.9h.1M217.8 152.9h.1M211.5 146.2h.1M184.2 144.4h.1M185.0 160.4h.1M191.3 163.2h.1M190.2 152.6h.1M192.7 147.2h.1M197.2 146.0h.1M196.4 168.0h.1M189.4 165.2h.1M195.3 148.8h.1M212.4 146.0h.1M184.1 162.7h.1M200.5 150.2h.1M206.0 143.0h.1M215.1 140.9h.1M208.2 149.9h.1M185.4 150.7h.1M192.3 140.2h.1M200.4 160.6h.1M199.3 143.3h.1M205.1 140.2h.1M195.3 162.6h.1M201.6 147.5h.1M190.2 137.3h.1M195.5 162.5h.1M207.2 163.5h.1M187.9 118.8h.1M191.0 159.1h.1M191.2 123.2h.1M208.2 160.5h.1M189.7 139.7h.1M197.8 155.3h.1M206.4 146.0h.1M178.6 145.5h.1M200.2 167.8h.1M182.2 136.0h.1M202.6 138.8h.1M201.1 170.1h.1M207.0 157.4h.1M206.5 160.0h.1M216.5 134.0h.1M190.1 143.8h.1M189.6 137.2h.1M209.2 152.8h.1M181.1 153.8h.1" stroke="#d8d8d8" stroke-width="0.95" stroke-linecap="square" fill="none"/>
<path d="M217.3 166.7h.1M232.0 179.0h.1M204.7 163.4h.1M224.4 159.5h.1M202.8 158.7h.1M200.3 166.0h.1M232.9 170.2h.1M209.5 167.7h.1M212.0 172.1h.1M214.5 177.7h.1M230.7 170.6h.1M208.1 178.9h.1M213.8 172.1h.1M212.6 133.6h.1M210.1 165.0h.1M211.3 166.9h.1M231.4 167.2h.1M215.5 134.0h.1M205.0 164.9h.1M211.1 166.4h.1M224.3 163.8h.1M190.6 161.3h.1M213.4 163.4h.1M176.4 139.6h.1M226.7 170.3h.1M203.7 176.8h.1M216.0 169.5h.1M195.2 139.7h.1M217.0 175.0h.1M209.4 174.7h.1M173.8 148.8h.1M216.4 134.1h.1M188.0 141.8h.1M178.6 153.4h.1M217.0 177.4h.1M216.1 135.9h.1M213.5 167.4h.1M217.1 169.6h.1M207.0 154.1h.1M201.8 164.9h.1M226.0 166.0h.1M218.4 164.9h.1M200.6 158.2h.1M204.1 154.0h.1M211.2 170.0h.1M209.8 157.0h.1M195.4 169.7h.1M219.7 177.6h.1M216.3 136.7h.1M200.9 150.3h.1M213.4 135.0h.1M225.0 166.4h.1M216.5 133.6h.1M230.4 179.7h.1M229.4 167.4h.1M209.7 172.6h.1M223.4 178.1h.1M201.0 161.4h.1M214.3 168.4h.1M216.6 168.2h.1M213.4 162.9h.1M216.5 181.3h.1M192.1 123.5h.1M211.9 173.2h.1M187.6 145.2h.1M187.3 122.1h.1M185.9 118.6h.1M183.5 136.4h.1M206.2 178.7h.1M211.5 169.6h.1M194.5 147.5h.1M193.5 160.3h.1M208.6 157.8h.1M219.7 180.0h.1M174.7 144.1h.1M177.0 151.3h.1M217.2 169.5h.1M188.1 121.3h.1M216.0 180.2h.1M199.0 117.3h.1M215.4 180.4h.1M220.1 172.0h.1M222.6 160.8h.1M211.3 178.3h.1M233.3 163.0h.1M196.6 161.1h.1M219.3 170.2h.1M205.5 162.8h.1M203.4 176.4h.1M185.0 156.6h.1M208.8 169.8h.1M216.3 174.6h.1M215.2 162.9h.1M214.7 133.2h.1M187.4 140.6h.1M195.0 166.9h.1M222.7 170.0h.1M213.6 152.5h.1M208.4 175.8h.1M219.5 171.2h.1M209.0 154.2h.1M207.6 180.0h.1M215.9 173.3h.1M187.0 150.3h.1M216.4 159.2h.1M186.1 119.5h.1M211.4 174.2h.1M238.1 165.7h.1M214.6 136.2h.1M206.5 174.7h.1M200.9 171.7h.1M221.1 162.6h.1M231.6 166.2h.1M200.3 159.8h.1M209.2 177.7h.1M204.6 177.8h.1M218.3 160.6h.1M205.3 165.2h.1M219.3 176.4h.1M206.9 169.9h.1M218.7 174.4h.1M219.4 155.4h.1M187.0 119.9h.1M180.2 139.7h.1M208.3 172.7h.1M216.0 135.9h.1M231.2 161.3h.1M216.5 161.4h.1M209.1 166.2h.1M215.4 135.2h.1M219.5 169.7h.1M192.0 120.2h.1M237.6 174.9h.1" stroke="#b3372c" stroke-width="0.95" stroke-linecap="square" fill="none"/>
<path d="M191.1 122.9h.1M201.3 155.3h.1M207.7 148.0h.1M182.2 150.8h.1M210.8 160.0h.1M198.7 155.3h.1M219.5 139.4h.1M177.3 138.3h.1M208.0 147.0h.1M185.5 157.1h.1M193.5 163.0h.1M181.3 155.3h.1M237.9 169.2h.1M199.8 160.8h.1M189.2 167.8h.1M211.7 181.4h.1M210.1 148.0h.1M184.6 122.3h.1M185.9 126.1h.1M201.2 157.0h.1M215.9 139.4h.1M194.0 163.4h.1M193.0 151.0h.1M197.5 156.2h.1M197.7 159.7h.1M218.0 134.9h.1M202.3 168.2h.1M208.3 157.3h.1M202.8 161.7h.1M191.9 167.2h.1M186.5 132.3h.1M202.5 155.6h.1M202.4 169.0h.1M209.3 176.5h.1M184.2 151.4h.1M186.2 120.1h.1M180.0 144.2h.1M205.1 162.1h.1M203.4 143.1h.1M188.2 120.9h.1M206.2 147.8h.1M181.1 153.1h.1M176.5 140.0h.1M192.3 121.0h.1M204.4 147.3h.1M189.7 120.7h.1M205.8 176.4h.1M207.3 143.6h.1M191.3 156.7h.1M206.0 154.8h.1M201.0 167.1h.1M174.2 141.9h.1M181.4 137.1h.1M188.2 130.4h.1M212.2 137.9h.1M211.4 148.5h.1M198.0 168.8h.1M208.5 156.6h.1M224.2 162.2h.1M195.7 157.7h.1M188.3 124.5h.1M213.6 170.5h.1M202.7 154.7h.1M196.8 146.5h.1M197.2 147.5h.1M189.0 135.0h.1M202.5 152.9h.1M179.1 148.2h.1M184.0 144.1h.1M211.3 141.1h.1M192.9 155.5h.1M192.7 157.0h.1M201.2 145.1h.1M201.1 153.8h.1M223.6 166.8h.1M214.3 163.8h.1M181.2 142.2h.1M181.2 153.6h.1M198.6 172.0h.1M187.2 121.3h.1M197.5 165.6h.1M192.2 148.4h.1M189.3 159.1h.1M208.5 145.9h.1M203.6 165.3h.1M215.2 136.7h.1M197.7 171.1h.1M194.5 138.3h.1M200.2 138.3h.1M212.0 133.5h.1M183.6 157.2h.1M184.5 143.6h.1M186.7 124.4h.1M198.8 147.2h.1M186.4 145.8h.1M211.0 158.5h.1M209.2 167.1h.1M208.1 141.8h.1M191.0 157.7h.1M185.9 159.5h.1M208.9 170.0h.1M202.7 152.2h.1M206.2 139.1h.1M193.8 156.2h.1M219.8 135.4h.1M197.9 150.1h.1M219.5 180.0h.1M176.7 144.4h.1M199.6 163.6h.1M183.2 140.7h.1M212.2 141.2h.1M190.7 158.5h.1M232.8 179.2h.1M186.4 119.2h.1M187.9 121.2h.1M210.5 159.3h.1M198.0 141.4h.1M197.1 146.0h.1M206.3 148.7h.1M206.6 164.0h.1M192.6 170.7h.1M194.1 150.7h.1M203.2 157.0h.1M206.7 156.0h.1M189.5 149.8h.1M178.9 151.8h.1M200.5 170.5h.1M194.2 143.1h.1M208.9 168.8h.1M209.4 146.5h.1M184.2 140.4h.1M220.7 176.5h.1M193.4 120.7h.1M199.2 148.7h.1M196.8 157.9h.1M212.9 149.6h.1M190.5 148.5h.1M192.7 162.6h.1M184.3 120.0h.1M192.0 119.6h.1M200.9 157.0h.1M204.3 147.6h.1M204.6 167.9h.1M203.4 143.1h.1M195.2 143.8h.1M181.8 144.9h.1M202.2 156.4h.1M183.4 158.9h.1M181.1 140.3h.1M201.9 151.8h.1M213.7 152.6h.1M210.5 139.1h.1M196.3 144.0h.1M212.8 149.6h.1M196.5 168.5h.1M206.7 139.6h.1M198.9 167.4h.1M192.0 118.9h.1M214.8 148.5h.1M215.7 138.3h.1M181.9 154.7h.1M176.7 144.6h.1M189.7 169.0h.1M182.9 136.8h.1M206.4 162.3h.1M206.6 153.7h.1M189.8 142.0h.1M191.8 122.7h.1M174.6 142.4h.1M187.7 137.2h.1M198.1 144.9h.1M196.6 145.3h.1M186.8 146.6h.1M188.8 150.9h.1M217.4 181.7h.1M208.0 165.4h.1M208.2 162.5h.1M203.4 157.7h.1M198.4 164.0h.1M175.9 146.8h.1M198.0 149.9h.1M200.6 166.5h.1M184.3 151.3h.1M196.3 144.0h.1M207.0 164.4h.1M211.6 137.3h.1M195.7 171.4h.1M207.1 141.8h.1M196.7 152.0h.1M182.8 151.1h.1M220.7 136.5h.1M193.8 167.9h.1M214.2 165.4h.1M201.1 167.6h.1M192.1 149.0h.1M186.9 120.0h.1M191.6 136.2h.1M186.4 137.4h.1M212.3 140.4h.1M184.6 121.3h.1M216.9 153.8h.1M192.2 145.9h.1M213.9 161.6h.1M181.3 150.9h.1M197.1 146.1h.1M205.7 164.4h.1M182.2 141.4h.1M189.8 163.3h.1M200.0 145.8h.1M191.8 137.1h.1M185.6 158.5h.1M228.7 161.9h.1M200.4 160.2h.1M206.4 149.1h.1M207.2 153.2h.1M205.7 165.2h.1M182.1 153.9h.1M201.3 141.8h.1M213.2 141.8h.1M175.1 141.9h.1M179.7 148.3h.1M192.0 141.7h.1M180.9 137.6h.1M227.0 166.4h.1M191.0 148.2h.1M176.4 143.5h.1M181.2 149.7h.1M188.0 123.8h.1M173.5 145.3h.1M211.6 143.6h.1M216.6 159.0h.1M189.8 165.7h.1M183.0 136.5h.1M195.0 156.2h.1M200.7 159.2h.1M200.2 157.3h.1M214.2 150.6h.1M188.9 133.7h.1M212.6 181.6h.1M220.2 162.8h.1M210.3 150.8h.1M182.7 139.8h.1M187.1 148.4h.1M193.6 151.6h.1M209.3 137.9h.1M190.6 120.7h.1M183.3 146.3h.1M207.2 150.0h.1M188.6 119.8h.1M180.0 138.5h.1M204.6 179.5h.1M198.1 168.9h.1M186.5 159.4h.1M192.4 161.3h.1M198.0 150.9h.1M186.0 119.7h.1M214.2 161.5h.1M208.7 176.7h.1M190.6 162.4h.1M190.5 121.7h.1M207.2 152.5h.1M190.8 160.3h.1M221.4 163.1h.1M180.4 150.0h.1M206.0 159.7h.1M206.0 139.1h.1M185.4 136.9h.1M211.9 167.3h.1M206.0 151.4h.1M186.9 158.3h.1M194.2 162.4h.1M188.8 122.0h.1M191.6 161.5h.1M202.2 156.2h.1M216.5 156.3h.1M181.6 137.8h.1M206.1 155.8h.1M217.6 164.5h.1M188.8 143.9h.1M188.3 141.8h.1M183.5 157.8h.1M211.1 157.5h.1M205.8 165.1h.1M219.1 163.0h.1M214.6 134.3h.1M220.0 138.4h.1M187.7 150.4h.1M202.9 138.5h.1M205.1 146.6h.1M204.7 174.3h.1M205.5 152.6h.1M194.2 143.2h.1M212.8 142.8h.1M196.7 144.1h.1M193.3 150.1h.1M185.7 126.0h.1M199.7 150.4h.1M184.4 157.4h.1M188.3 143.2h.1M186.1 143.0h.1M204.4 151.6h.1M198.5 169.5h.1M230.9 176.1h.1M199.7 153.7h.1M210.7 142.5h.1M206.6 148.6h.1M212.8 181.2h.1M185.7 144.4h.1M217.8 139.4h.1M191.4 138.7h.1M195.8 150.7h.1M187.8 148.1h.1M181.1 141.9h.1M180.2 157.2h.1M173.8 146.6h.1M201.4 150.4h.1M180.9 137.5h.1M206.4 147.6h.1M209.9 175.1h.1M207.0 152.7h.1M190.2 143.0h.1M177.2 141.2h.1M178.6 144.9h.1M183.3 135.2h.1M213.5 147.3h.1M209.5 144.0h.1M174.2 143.5h.1M179.5 147.4h.1M198.4 170.9h.1M198.1 150.6h.1M192.9 167.9h.1M222.1 181.4h.1M192.2 141.5h.1M178.3 143.3h.1M213.1 176.4h.1M183.5 141.8h.1M207.7 154.5h.1M191.2 138.6h.1M215.6 137.5h.1M213.8 174.1h.1M192.9 152.5h.1M192.3 168.5h.1M219.8 176.1h.1M209.7 150.0h.1M202.8 167.6h.1M181.7 148.1h.1M199.1 149.7h.1M207.4 157.8h.1M199.4 159.1h.1M202.4 155.7h.1M211.4 159.4h.1M211.3 154.3h.1M190.1 147.1h.1M194.6 148.5h.1M216.8 137.7h.1M186.5 147.7h.1M191.7 143.1h.1M190.3 121.5h.1M186.4 159.9h.1M179.1 152.1h.1M202.7 158.6h.1M203.9 155.8h.1M197.4 153.2h.1M187.9 154.2h.1M194.8 166.0h.1M188.0 154.1h.1M212.8 150.9h.1M179.7 144.9h.1M211.1 149.2h.1M193.4 158.0h.1M194.1 153.7h.1M190.9 146.0h.1M191.2 166.7h.1M187.5 148.0h.1M182.8 152.8h.1M212.5 157.5h.1M215.6 163.2h.1M213.3 134.1h.1M219.3 175.3h.1M205.8 166.4h.1M213.3 143.0h.1M186.7 139.7h.1M207.2 163.1h.1M182.2 152.1h.1M205.2 155.6h.1M211.7 147.4h.1M185.7 154.7h.1M185.2 150.2h.1M198.2 161.3h.1M211.2 150.7h.1M191.2 153.8h.1M191.6 163.9h.1M205.6 150.6h.1M190.7 145.2h.1M221.0 168.4h.1M180.2 151.6h.1M179.2 151.0h.1M217.4 170.2h.1M211.1 158.5h.1M191.3 159.1h.1M191.0 124.5h.1M215.1 169.4h.1M196.1 140.4h.1M191.6 163.2h.1M210.5 155.7h.1M212.0 139.3h.1M190.1 148.3h.1M181.7 138.4h.1M213.9 133.3h.1M209.2 149.3h.1M194.7 151.8h.1M184.2 155.9h.1M213.6 148.7h.1M189.4 123.6h.1M217.5 171.9h.1M190.3 153.2h.1M190.8 169.6h.1M203.0 160.9h.1M210.4 138.0h.1M186.7 124.3h.1M210.8 160.7h.1M205.5 153.3h.1M188.7 146.6h.1M196.6 146.6h.1M211.1 145.7h.1M204.8 162.2h.1M225.3 166.0h.1M193.8 139.8h.1M216.1 180.2h.1M216.8 169.3h.1M198.0 170.3h.1M180.9 142.8h.1M192.9 156.6h.1M198.3 164.2h.1M232.6 170.9h.1M204.8 142.8h.1M216.7 160.4h.1M199.9 159.4h.1M178.2 149.5h.1M204.0 171.8h.1M204.3 154.6h.1M211.9 146.3h.1M206.3 149.7h.1M213.3 155.4h.1M205.9 150.3h.1M216.9 165.8h.1M195.5 158.0h.1M204.2 148.6h.1M179.0 144.7h.1M213.8 167.4h.1M198.8 153.2h.1M185.4 118.8h.1M196.4 171.4h.1M214.4 171.2h.1M195.1 171.5h.1M203.8 138.8h.1M189.9 119.4h.1M193.6 170.3h.1M210.4 157.5h.1M223.0 162.7h.1M185.8 132.2h.1M178.5 151.4h.1M195.4 167.7h.1M211.1 148.3h.1M195.7 151.6h.1M211.5 168.3h.1M197.8 145.0h.1M206.6 140.5h.1M196.1 140.9h.1M212.8 134.8h.1M190.5 161.9h.1M191.4 157.9h.1M201.4 164.9h.1M200.6 147.4h.1M185.3 130.3h.1M191.8 161.4h.1M196.7 164.8h.1M213.9 139.7h.1M203.9 143.5h.1M189.2 148.3h.1M208.5 159.2h.1M205.2 162.4h.1M187.6 118.8h.1M188.5 147.7h.1M189.7 131.0h.1M188.3 149.7h.1M212.1 137.4h.1M204.0 153.6h.1M184.4 157.4h.1M212.2 172.2h.1M200.2 170.3h.1M192.0 158.7h.1M188.8 132.3h.1M181.4 156.2h.1M194.5 140.8h.1M201.2 171.0h.1M201.1 167.7h.1M187.6 160.7h.1M188.6 121.5h.1M174.8 149.9h.1M193.1 161.9h.1M197.8 170.4h.1M179.0 155.3h.1M192.7 124.1h.1M187.0 147.7h.1M214.7 143.5h.1M220.5 159.0h.1M185.3 150.3h.1M192.8 163.1h.1M198.0 167.3h.1M217.6 173.2h.1M188.7 163.7h.1M208.1 164.0h.1M197.9 168.3h.1M199.9 173.7h.1M231.0 166.9h.1M190.7 168.6h.1M174.9 143.4h.1M219.9 163.6h.1M180.0 157.0h.1M195.8 166.9h.1M182.0 134.9h.1M185.5 159.8h.1M218.8 134.2h.1M220.2 176.8h.1M184.3 139.7h.1M180.7 135.9h.1M229.6 178.1h.1M206.4 153.0h.1M192.8 168.4h.1M217.9 178.5h.1M207.4 151.1h.1M195.5 149.9h.1M203.9 164.3h.1M200.1 146.4h.1M209.7 163.2h.1M196.9 162.6h.1M196.6 156.7h.1M213.2 153.8h.1M180.0 144.9h.1M210.9 143.8h.1M190.0 167.4h.1M215.7 134.6h.1M198.0 145.5h.1M201.4 145.7h.1M177.8 144.5h.1M228.4 179.8h.1M228.9 163.9h.1M195.1 170.7h.1M194.6 118.7h.1M208.0 170.8h.1M209.7 144.4h.1M199.9 159.1h.1M222.9 172.7h.1M205.9 148.6h.1M214.2 153.3h.1M198.2 141.9h.1M203.6 164.0h.1M196.1 159.7h.1M200.4 145.7h.1M207.7 150.0h.1M215.9 158.8h.1M187.0 121.2h.1M188.9 147.1h.1M195.8 167.2h.1M184.2 146.3h.1M194.2 162.5h.1M182.2 161.7h.1M184.9 134.1h.1M190.7 135.9h.1M192.0 158.2h.1M216.0 138.8h.1M194.8 139.3h.1M212.2 138.2h.1M183.4 144.5h.1M184.4 142.4h.1M199.3 141.6h.1M207.6 159.9h.1M191.5 123.4h.1M232.7 177.4h.1M203.3 149.7h.1M203.7 156.7h.1M190.7 118.0h.1M194.5 164.7h.1M188.9 123.4h.1M214.4 140.6h.1M180.8 149.7h.1M182.0 160.9h.1M184.3 161.3h.1M182.1 145.2h.1M193.4 157.6h.1M188.2 120.2h.1M181.3 158.8h.1M210.3 162.1h.1M185.3 152.0h.1M186.7 162.0h.1M189.8 128.3h.1M205.7 140.4h.1M182.1 154.3h.1M194.1 120.5h.1M181.6 144.3h.1M193.4 167.1h.1M197.7 146.3h.1M183.4 156.6h.1M213.8 135.5h.1M213.4 145.6h.1M176.6 145.8h.1M215.7 176.3h.1M191.5 120.0h.1M191.3 155.6h.1M188.2 122.4h.1M188.4 133.1h.1M197.8 150.5h.1M184.4 154.2h.1M177.7 157.5h.1M204.6 148.3h.1M182.5 160.0h.1M197.3 161.1h.1M204.2 164.5h.1M218.5 163.4h.1M209.4 155.9h.1M177.9 145.0h.1M189.1 118.4h.1M198.4 146.1h.1M184.0 142.4h.1M209.3 142.9h.1M184.5 144.5h.1M205.4 160.2h.1M203.0 159.0h.1M193.9 150.0h.1M190.0 164.0h.1M184.8 150.7h.1M185.7 123.3h.1M208.9 180.9h.1M192.8 167.4h.1M188.2 156.5h.1M193.8 121.5h.1M192.2 154.6h.1M192.7 165.5h.1M206.6 170.4h.1M221.1 166.9h.1M179.0 151.3h.1M188.3 118.8h.1M197.6 145.8h.1M181.3 140.0h.1M190.9 169.0h.1M190.8 134.2h.1M215.5 178.4h.1M198.7 168.1h.1M188.3 156.3h.1M214.4 141.3h.1M220.1 159.3h.1M189.5 131.1h.1M184.3 133.9h.1M195.4 143.6h.1M191.8 149.9h.1M210.3 137.1h.1M192.0 149.0h.1M196.9 158.8h.1M187.0 146.6h.1M195.6 142.9h.1M209.0 137.7h.1M192.9 155.8h.1M206.2 146.4h.1M194.1 169.2h.1M231.4 162.8h.1M189.1 148.0h.1M195.0 118.4h.1M198.6 160.1h.1M180.6 157.5h.1M207.6 141.8h.1M207.5 159.5h.1M214.9 160.3h.1M199.5 160.3h.1M208.7 152.8h.1M213.4 150.5h.1M216.8 140.8h.1M189.6 144.4h.1M196.7 145.9h.1M189.1 126.3h.1M186.3 145.1h.1M210.2 175.8h.1M178.9 155.4h.1M188.1 167.9h.1M178.8 147.6h.1M192.2 139.3h.1M211.9 147.8h.1M218.7 139.2h.1M194.1 166.9h.1M207.7 160.2h.1M193.8 170.4h.1M188.6 168.3h.1M189.1 144.5h.1M198.8 154.1h.1M206.9 154.2h.1M186.8 158.2h.1M183.4 147.8h.1M197.5 165.0h.1M188.1 161.9h.1M185.2 131.4h.1M188.7 137.4h.1M187.7 160.1h.1M176.0 151.6h.1M189.2 119.1h.1M202.7 149.4h.1M212.1 155.8h.1M186.5 153.9h.1M186.3 136.9h.1M205.4 145.6h.1M209.8 158.7h.1M190.3 168.5h.1M189.4 140.9h.1M195.8 152.6h.1M216.8 156.7h.1M174.2 143.7h.1M191.7 148.8h.1M212.1 147.5h.1M199.9 147.4h.1M208.7 155.5h.1M217.2 164.3h.1M173.5 145.2h.1M191.2 145.0h.1M201.3 159.9h.1M221.1 176.0h.1M205.5 177.9h.1M211.3 157.0h.1M191.6 154.5h.1M195.8 167.0h.1M194.4 139.5h.1M190.6 118.8h.1M178.3 139.3h.1M200.6 154.2h.1M190.8 160.6h.1M201.6 160.5h.1M191.2 119.2h.1M214.1 153.1h.1M177.1 143.8h.1M189.9 138.1h.1M183.1 135.3h.1M188.6 120.8h.1M211.8 143.2h.1M207.0 142.7h.1M195.3 153.7h.1M174.9 142.7h.1M185.0 122.4h.1M217.9 136.9h.1M202.1 150.0h.1M173.9 145.3h.1M214.9 149.0h.1M197.4 145.2h.1M211.5 155.6h.1M206.9 142.5h.1M193.9 168.0h.1M176.3 146.0h.1M179.6 141.7h.1M213.1 161.2h.1M192.1 168.4h.1M188.4 133.5h.1M198.1 137.6h.1M200.2 162.1h.1M193.6 156.9h.1M194.5 146.4h.1M194.6 122.5h.1M197.1 157.0h.1M217.5 134.7h.1M212.1 153.8h.1M213.5 153.4h.1M187.5 132.8h.1M184.1 159.8h.1M183.8 144.2h.1M190.9 124.2h.1M204.3 162.9h.1M190.5 121.7h.1M221.3 165.9h.1M196.4 138.3h.1M209.9 141.6h.1M181.2 137.5h.1M196.6 162.4h.1M200.7 167.1h.1M191.6 140.5h.1M213.6 166.1h.1M212.3 143.2h.1M213.2 148.2h.1M201.8 147.6h.1M188.4 160.5h.1M200.0 150.1h.1M187.2 146.5h.1M219.2 155.4h.1M183.5 162.4h.1M188.2 158.9h.1M193.1 169.5h.1M198.8 140.5h.1M185.4 132.3h.1M212.3 138.2h.1M186.5 120.3h.1M193.4 147.7h.1M210.3 178.5h.1M191.9 161.8h.1M194.5 152.2h.1M196.0 155.2h.1M200.3 150.8h.1M193.8 154.0h.1M191.4 159.7h.1M201.6 149.4h.1M210.5 155.4h.1M193.5 163.1h.1M180.0 141.4h.1M176.4 151.2h.1M206.3 167.8h.1M187.7 160.9h.1M203.4 145.1h.1M189.3 119.3h.1M190.6 166.2h.1M180.4 144.7h.1M186.2 147.8h.1M179.5 156.0h.1M193.4 169.9h.1M222.0 179.3h.1M217.9 138.5h.1M196.3 161.2h.1M218.3 159.5h.1M180.6 145.8h.1M193.8 154.6h.1M202.0 166.9h.1M179.6 159.1h.1M205.3 141.6h.1M207.6 171.3h.1M189.1 135.4h.1M200.5 147.6h.1M181.5 147.1h.1M192.8 167.4h.1M184.7 141.8h.1M199.8 150.0h.1M193.1 121.1h.1M184.8 142.0h.1M199.8 161.1h.1M185.8 160.3h.1M174.7 141.4h.1M196.3 152.0h.1M191.4 134.0h.1M191.1 155.4h.1M193.9 169.6h.1M174.7 142.3h.1M217.9 139.6h.1M189.4 136.5h.1M200.0 171.6h.1M203.1 155.7h.1M177.9 151.4h.1M191.2 156.8h.1M187.9 131.0h.1M184.3 161.2h.1M210.0 161.3h.1M187.8 157.2h.1M175.2 141.6h.1M176.2 142.1h.1M234.1 164.6h.1M188.0 119.1h.1M191.1 118.6h.1M192.8 121.6h.1M214.8 139.7h.1M185.5 134.5h.1M207.8 174.2h.1M181.5 157.5h.1M189.0 151.9h.1M226.1 175.7h.1M217.1 160.9h.1M203.7 149.2h.1M220.8 171.0h.1M213.3 133.7h.1M190.7 143.2h.1M183.2 146.6h.1M215.0 133.6h.1M184.2 150.0h.1M199.1 161.4h.1M194.4 155.0h.1M190.2 166.4h.1M211.6 150.7h.1M214.0 141.9h.1M196.0 170.5h.1M201.1 142.8h.1M205.9 150.7h.1M233.8 171.9h.1M174.4 146.0h.1M199.1 143.7h.1M190.4 161.4h.1M206.3 163.2h.1M185.6 146.8h.1M185.6 148.6h.1M199.3 167.5h.1M194.4 154.2h.1M184.7 147.9h.1M193.2 136.6h.1M187.3 158.4h.1M219.3 135.8h.1M182.6 149.0h.1M182.6 146.8h.1M211.3 135.0h.1M213.5 144.0h.1M201.4 163.1h.1M186.1 118.7h.1M191.9 145.3h.1M182.9 146.4h.1M191.8 138.2h.1M197.4 153.1h.1M211.3 156.3h.1M188.2 122.7h.1M200.8 145.3h.1M197.3 153.3h.1M180.9 144.9h.1M215.8 141.3h.1M219.3 167.7h.1M192.9 150.0h.1M211.9 148.8h.1M179.7 140.4h.1M190.2 151.6h.1M188.9 139.9h.1M202.9 162.3h.1M192.7 147.8h.1M197.8 163.8h.1M211.2 155.0h.1M182.6 153.3h.1M211.8 159.9h.1M191.4 157.1h.1M198.0 151.0h.1M202.8 150.5h.1M217.8 138.6h.1M176.4 151.4h.1M214.8 174.9h.1M198.4 155.5h.1M199.3 149.8h.1M210.4 153.4h.1M211.1 159.2h.1M226.3 180.7h.1M187.7 130.9h.1M184.3 154.4h.1M199.4 153.6h.1M206.6 142.7h.1M212.1 160.4h.1M191.0 137.4h.1M201.2 150.9h.1M194.1 161.1h.1M194.1 121.4h.1M197.6 150.0h.1M185.9 153.6h.1M185.2 147.3h.1M179.5 153.3h.1M198.1 151.3h.1M216.6 155.8h.1M192.5 139.8h.1M196.4 148.1h.1M198.8 139.5h.1M205.8 164.1h.1M203.9 156.9h.1M192.2 153.6h.1M202.2 159.2h.1M181.8 134.8h.1M187.9 122.2h.1M184.8 154.4h.1M188.3 129.4h.1M192.1 160.3h.1M176.0 146.8h.1M196.9 145.8h.1M219.9 177.7h.1M195.5 158.8h.1M193.4 162.8h.1M230.9 162.5h.1M213.5 172.9h.1M213.1 156.7h.1M185.6 159.7h.1M185.5 160.1h.1M186.8 138.1h.1M184.8 159.0h.1M190.1 166.2h.1M213.6 179.8h.1M206.0 149.1h.1M188.2 140.1h.1M193.7 121.5h.1M205.1 154.3h.1M200.9 159.2h.1M195.1 169.6h.1M229.8 165.5h.1M177.4 145.0h.1M184.6 162.7h.1M201.9 146.5h.1M185.3 131.4h.1M210.9 143.2h.1M197.0 172.8h.1M185.2 162.6h.1M201.5 164.3h.1M201.8 163.7h.1M187.6 155.0h.1M233.4 173.3h.1M205.6 172.6h.1M237.6 166.2h.1M187.5 160.7h.1M201.5 148.5h.1M207.1 158.6h.1M189.2 130.2h.1M195.2 165.9h.1M189.4 129.6h.1M221.0 179.3h.1M200.3 171.1h.1M192.9 120.3h.1M199.3 149.5h.1M202.1 169.9h.1M239.6 171.0h.1M190.7 137.5h.1M191.4 161.7h.1M206.6 167.1h.1M198.5 137.6h.1M176.9 153.6h.1M195.2 148.8h.1M218.3 140.3h.1M228.6 168.7h.1M192.2 162.7h.1M213.0 150.3h.1M183.0 153.6h.1M188.7 140.6h.1M200.1 168.0h.1M209.2 146.6h.1M209.2 164.1h.1M189.5 141.1h.1M198.3 155.5h.1M198.1 146.8h.1M196.4 160.1h.1M188.9 117.9h.1M192.9 153.0h.1M199.7 150.5h.1M181.7 145.9h.1M189.1 118.6h.1M190.5 157.1h.1M186.1 161.2h.1M182.5 150.5h.1M206.7 158.9h.1M196.7 165.7h.1M190.4 152.6h.1M190.8 167.8h.1M176.9 148.7h.1M181.9 135.6h.1M201.6 164.4h.1M204.1 152.7h.1M189.6 157.8h.1M195.5 164.2h.1M199.9 165.7h.1M222.6 165.1h.1M182.7 139.4h.1M230.8 164.9h.1M201.8 164.5h.1M191.9 149.2h.1M197.9 145.3h.1M208.1 146.5h.1M198.5 147.5h.1M225.5 163.5h.1M173.9 142.2h.1M204.9 146.5h.1M176.7 148.3h.1M190.5 167.7h.1M198.4 169.9h.1M181.5 137.1h.1M195.1 140.6h.1" stroke="#d8d8d8" stroke-width="0.95" stroke-linecap="square" fill="none"/>
<path d="M211.2 180.0h.1M220.8 172.0h.1M205.5 160.3h.1M219.2 173.2h.1M210.0 176.5h.1M213.7 134.9h.1M211.2 163.7h.1M223.3 164.3h.1M215.3 177.5h.1M216.5 169.2h.1M204.3 161.0h.1M180.3 141.4h.1M185.7 159.5h.1M209.9 173.9h.1M232.4 176.1h.1M218.4 134.0h.1M213.1 135.7h.1M214.2 165.0h.1M202.2 168.8h.1M214.2 132.9h.1M205.8 153.9h.1M214.5 158.0h.1M213.2 166.2h.1M220.5 157.8h.1M191.7 138.2h.1M219.5 161.7h.1M232.6 164.4h.1M236.8 168.6h.1M227.2 167.8h.1M216.4 169.8h.1M205.2 178.5h.1M213.0 167.1h.1M227.2 171.0h.1M225.5 173.1h.1M216.5 165.4h.1M219.0 172.5h.1M206.6 151.9h.1M189.2 144.3h.1M190.8 143.3h.1M206.9 170.5h.1M206.7 171.6h.1M226.9 167.0h.1M207.6 153.9h.1M210.3 167.9h.1M209.8 179.5h.1M213.5 165.5h.1M193.9 156.7h.1M198.0 149.4h.1M193.7 119.4h.1M221.1 176.8h.1M230.9 177.8h.1M186.1 158.6h.1M201.7 159.9h.1M206.2 174.1h.1M208.5 177.5h.1M213.0 176.0h.1M188.0 159.0h.1M188.1 157.3h.1M174.8 140.8h.1M220.5 168.4h.1M180.3 155.5h.1M207.5 162.9h.1M223.8 161.2h.1M213.4 163.4h.1M201.0 167.9h.1M208.7 176.9h.1M208.0 178.7h.1M212.6 177.5h.1M224.5 170.2h.1M218.8 162.5h.1M205.9 174.1h.1M219.4 173.3h.1M186.1 138.8h.1M227.8 168.1h.1M200.8 147.3h.1M206.6 150.1h.1M220.9 170.1h.1M214.6 163.6h.1M218.8 173.6h.1M218.8 155.3h.1M203.2 160.5h.1M216.0 159.1h.1M217.2 153.3h.1M215.4 136.1h.1M226.7 180.1h.1M205.3 178.1h.1M217.6 153.6h.1M189.8 152.3h.1M219.7 165.2h.1M205.1 172.3h.1M216.3 156.7h.1M204.7 174.3h.1M205.2 161.6h.1M236.8 175.7h.1M211.0 169.5h.1M219.2 170.9h.1M206.0 176.0h.1M212.5 180.5h.1M192.7 156.0h.1M202.4 161.8h.1M208.2 180.1h.1M208.3 163.7h.1M209.0 155.5h.1M212.7 150.9h.1M205.2 166.6h.1M206.7 172.2h.1M190.0 121.5h.1M215.5 175.0h.1M213.4 132.8h.1M204.0 176.9h.1M217.8 178.4h.1M220.2 163.8h.1M214.5 175.8h.1M213.8 167.3h.1M228.4 171.2h.1M212.6 134.7h.1M205.6 155.9h.1M204.2 172.2h.1M208.4 173.1h.1M219.3 159.1h.1M183.0 145.6h.1M215.6 177.8h.1M208.8 153.6h.1M200.1 156.8h.1M231.9 169.7h.1M204.7 150.3h.1M205.2 152.7h.1M201.9 151.7h.1M212.2 171.5h.1M238.2 173.3h.1M217.1 174.3h.1M213.3 179.6h.1M220.1 167.7h.1M209.8 180.3h.1" stroke="#b3372c" stroke-width="0.95" stroke-linecap="square" fill="none"/>
<path d="M218.2 169.8h.1M188.1 165.6h.1M199.8 161.3h.1M184.5 139.1h.1M184.7 151.4h.1M198.9 146.2h.1M203.5 149.4h.1M198.6 149.8h.1M183.6 152.3h.1M218.3 179.8h.1M191.4 123.7h.1M210.5 142.7h.1M197.8 173.6h.1M192.8 146.3h.1M188.1 165.8h.1M207.9 158.3h.1M187.1 146.3h.1M186.0 149.3h.1M212.2 149.6h.1M194.3 161.7h.1M197.1 171.6h.1M196.3 165.4h.1M186.6 156.6h.1M181.2 157.6h.1M192.8 148.6h.1M187.6 157.8h.1M194.4 148.1h.1M205.4 154.4h.1M185.4 152.0h.1M191.6 145.8h.1M220.3 170.5h.1M194.8 143.7h.1M187.6 150.6h.1M219.5 135.0h.1M180.0 146.2h.1M181.8 137.2h.1M213.8 146.8h.1M209.9 153.1h.1M185.5 121.9h.1M220.1 139.0h.1M206.3 152.5h.1M220.8 176.2h.1M215.9 141.3h.1M193.1 121.0h.1M198.0 161.1h.1M191.2 153.7h.1M201.0 155.6h.1M193.2 143.0h.1M181.7 149.1h.1M189.5 154.3h.1M200.3 164.5h.1M199.3 173.8h.1M201.8 171.7h.1M186.3 125.8h.1M197.8 155.5h.1M215.6 164.9h.1M201.7 160.8h.1M221.3 172.0h.1M189.7 166.1h.1M210.5 171.3h.1M184.6 138.2h.1M204.2 167.6h.1M188.7 135.6h.1M188.7 127.4h.1M200.2 164.3h.1M187.8 145.4h.1M178.2 147.2h.1M203.8 140.4h.1M210.2 164.7h.1M177.3 139.7h.1M210.7 147.8h.1M219.1 161.0h.1M213.7 135.1h.1M207.4 164.7h.1M203.4 144.7h.1M186.1 157.4h.1M184.9 131.1h.1M237.5 167.8h.1M216.1 165.4h.1M190.2 153.1h.1M186.5 158.6h.1M210.3 154.3h.1M195.6 171.4h.1M217.3 155.7h.1M200.0 142.1h.1M203.2 144.4h.1M212.6 141.1h.1M208.5 150.1h.1M205.7 149.8h.1M181.0 149.2h.1M199.1 145.3h.1M192.7 148.1h.1M178.3 153.3h.1M188.6 167.7h.1M199.9 166.6h.1M202.3 156.7h.1M217.2 137.4h.1M183.9 141.2h.1M204.9 148.2h.1M206.4 141.8h.1M189.1 162.7h.1M191.5 136.4h.1M215.9 140.9h.1M194.9 149.4h.1M175.3 140.8h.1M193.1 154.9h.1M184.1 147.6h.1M189.7 119.4h.1M184.5 141.1h.1M187.0 119.7h.1M207.1 143.5h.1M207.1 177.9h.1M213.9 168.9h.1M180.8 145.4h.1M202.7 147.1h.1M177.8 141.9h.1M188.2 137.4h.1M197.6 146.1h.1M199.4 167.0h.1M205.4 145.2h.1M210.2 143.9h.1M196.7 150.6h.1M182.8 156.8h.1M226.2 173.9h.1M225.8 172.5h.1M192.8 119.0h.1M220.9 162.0h.1M202.1 140.1h.1M211.7 159.7h.1M211.7 151.8h.1M183.7 132.4h.1M189.2 147.5h.1M199.7 154.7h.1M202.0 164.0h.1M176.1 139.1h.1M213.1 147.3h.1M217.5 158.8h.1M205.7 161.5h.1M197.8 145.3h.1M197.6 146.4h.1M183.1 141.7h.1M205.9 157.8h.1M211.4 135.9h.1M213.9 138.2h.1M213.0 168.1h.1M207.7 141.2h.1M219.0 138.1h.1M185.4 129.4h.1M187.3 159.8h.1M178.5 145.2h.1M191.7 148.8h.1M208.2 160.3h.1M183.9 130.0h.1M209.3 166.9h.1M223.8 172.5h.1M194.5 157.6h.1M209.8 144.3h.1M207.9 146.3h.1M213.1 148.8h.1M188.1 163.8h.1M201.4 163.2h.1M181.9 141.1h.1M213.3 177.3h.1M185.5 165.3h.1M192.5 135.3h.1M189.4 137.0h.1M228.9 163.3h.1M195.5 163.5h.1M188.3 149.8h.1M178.7 143.8h.1M190.1 160.4h.1M195.8 145.0h.1M193.1 135.9h.1M227.9 161.3h.1M191.0 169.7h.1M209.4 151.2h.1M178.4 137.7h.1M181.8 144.4h.1M218.0 169.8h.1M228.5 179.1h.1M188.8 132.0h.1M183.8 141.7h.1M209.1 148.1h.1M213.3 146.8h.1M224.7 170.7h.1M208.8 157.7h.1M178.1 150.9h.1M205.0 160.8h.1M218.6 138.0h.1M189.4 142.5h.1M207.5 141.9h.1M181.3 137.0h.1M201.5 169.6h.1M185.4 141.2h.1M194.6 168.1h.1M188.2 124.4h.1M208.7 156.7h.1M185.5 150.1h.1M205.6 142.6h.1M211.4 171.3h.1M185.2 139.6h.1M205.3 148.7h.1M219.3 168.5h.1M192.4 121.6h.1M187.7 132.7h.1M182.5 135.5h.1M198.0 161.5h.1M204.4 174.2h.1M192.1 159.9h.1M179.6 143.6h.1M212.3 144.3h.1M190.7 156.0h.1M202.5 141.5h.1M236.9 174.5h.1M195.9 168.1h.1M184.7 161.7h.1M209.5 139.6h.1M189.6 166.7h.1M206.0 161.0h.1M185.1 156.5h.1M176.2 142.7h.1M199.4 150.3h.1M213.1 161.2h.1M180.8 141.1h.1M188.4 151.8h.1M195.1 138.0h.1M205.7 151.5h.1M192.8 149.0h.1M199.1 167.4h.1M203.5 154.1h.1M207.4 158.8h.1M206.9 156.8h.1M208.6 148.5h.1M178.9 143.1h.1M188.7 144.2h.1M204.3 155.9h.1M188.1 121.6h.1M200.3 151.3h.1M210.9 152.9h.1M189.6 123.4h.1M228.2 163.5h.1M187.0 159.4h.1M214.1 149.0h.1M207.3 159.2h.1M178.9 144.2h.1M180.8 160.6h.1M192.7 157.0h.1M185.2 163.7h.1M195.4 163.6h.1M207.8 156.1h.1M195.6 165.4h.1M235.3 164.2h.1M185.7 153.4h.1M189.5 162.6h.1M196.8 167.5h.1M215.4 140.6h.1M216.2 176.1h.1M175.6 149.8h.1M208.9 155.9h.1M217.9 158.9h.1M213.0 156.5h.1M190.3 142.7h.1M184.0 154.5h.1M223.2 164.5h.1M189.4 123.3h.1M189.5 158.0h.1M209.5 157.5h.1M185.8 138.5h.1M215.0 145.9h.1M213.6 176.8h.1M177.3 154.2h.1M197.6 172.8h.1M195.4 159.0h.1M178.6 152.6h.1M211.4 157.3h.1M214.8 142.4h.1M199.7 170.7h.1M213.2 139.1h.1M175.4 152.2h.1M193.0 142.0h.1M205.7 152.0h.1M208.7 175.9h.1M184.0 157.4h.1M192.7 123.2h.1M208.4 171.3h.1M194.7 165.8h.1M220.9 160.3h.1M220.7 135.4h.1M211.0 160.6h.1M189.6 120.0h.1M198.8 173.3h.1M188.1 165.6h.1M190.0 135.1h.1M217.9 138.7h.1M175.7 144.7h.1M191.4 141.1h.1M192.6 144.4h.1M202.4 168.4h.1M200.3 150.6h.1M192.7 144.2h.1M192.4 144.6h.1M187.2 125.6h.1M195.5 121.4h.1M206.9 164.6h.1M211.3 157.1h.1M218.4 156.0h.1M196.1 164.1h.1M199.5 172.5h.1M190.9 168.7h.1M188.8 158.1h.1M213.6 138.9h.1M211.5 141.7h.1M180.0 155.9h.1M187.0 151.6h.1M174.4 142.5h.1M183.9 142.9h.1M205.8 153.8h.1M188.4 120.2h.1M183.8 155.6h.1M187.7 120.4h.1M191.1 140.6h.1M187.1 181.3h.1M183.7 153.6h.1M208.6 151.5h.1M217.8 137.0h.1M181.0 144.2h.1M198.8 160.0h.1M197.2 142.7h.1M210.7 134.8h.1M203.1 116.3h.1M219.8 179.1h.1M210.5 143.6h.1M195.1 148.7h.1M204.4 163.1h.1M178.8 139.0h.1M204.2 165.6h.1M184.5 150.4h.1M187.1 161.6h.1M186.5 153.5h.1M182.4 148.4h.1M182.4 156.0h.1M187.5 151.1h.1M192.4 160.6h.1M198.4 149.0h.1M190.7 167.5h.1M185.8 164.0h.1M198.4 139.9h.1M218.1 174.3h.1M197.9 150.9h.1M220.7 179.4h.1M188.5 155.5h.1M202.8 147.0h.1M211.8 138.6h.1M184.0 141.1h.1M208.1 164.3h.1M188.4 168.1h.1M202.8 143.7h.1M184.4 153.6h.1M185.7 141.5h.1M198.5 148.6h.1M185.3 123.5h.1M209.7 160.7h.1M191.3 159.0h.1M203.9 174.6h.1M187.4 155.1h.1M183.5 141.9h.1M207.7 147.3h.1M204.5 146.9h.1M203.5 147.7h.1M185.4 165.0h.1M193.6 166.5h.1M202.7 149.1h.1M207.6 148.5h.1M190.5 167.0h.1M202.0 168.7h.1M195.8 170.6h.1M194.3 144.0h.1M193.4 168.2h.1M194.0 150.6h.1M213.2 171.9h.1M185.5 119.6h.1M200.8 153.8h.1M176.1 140.9h.1M188.4 145.5h.1M205.3 148.6h.1M212.3 146.2h.1M185.1 161.2h.1M211.6 154.9h.1M203.4 155.4h.1M216.4 176.1h.1M204.3 148.9h.1M183.1 137.8h.1M181.1 136.7h.1M228.9 179.6h.1M219.4 165.8h.1M216.8 170.2h.1M216.6 177.5h.1M186.1 147.5h.1M183.0 156.3h.1M191.4 163.9h.1M181.5 148.3h.1M188.3 138.4h.1M192.2 122.8h.1M185.1 127.8h.1M199.8 145.0h.1M215.8 140.8h.1M183.8 146.3h.1M191.6 138.4h.1M194.1 170.1h.1M200.9 172.2h.1M175.7 141.7h.1M188.9 120.5h.1M192.1 142.9h.1M207.2 161.2h.1M201.8 146.9h.1M193.1 171.2h.1M178.0 151.7h.1M191.7 150.7h.1M188.5 147.0h.1M179.2 152.1h.1M197.9 162.9h.1M207.5 162.0h.1M181.1 148.5h.1M189.9 122.3h.1M204.1 167.3h.1M187.6 159.4h.1M196.1 170.1h.1M184.8 142.2h.1M230.3 175.9h.1M197.1 155.3h.1M201.6 170.7h.1M184.1 121.1h.1M225.9 169.7h.1M214.2 161.3h.1M190.5 135.8h.1M217.8 174.1h.1M180.0 144.5h.1M185.0 121.4h.1M206.5 152.4h.1M206.1 164.4h.1M201.3 147.4h.1M187.1 149.9h.1M218.2 136.9h.1M218.6 139.2h.1M184.7 153.3h.1M196.1 148.0h.1M189.6 125.4h.1M215.6 167.4h.1M205.7 147.3h.1M184.9 119.5h.1M201.6 161.5h.1M216.3 134.5h.1M212.2 134.5h.1M176.1 147.5h.1M184.6 161.7h.1M200.4 168.3h.1M205.2 169.7h.1M194.1 149.7h.1M187.8 141.4h.1M196.9 172.5h.1M208.0 158.4h.1M196.6 164.3h.1M179.6 144.6h.1M217.0 175.0h.1M178.5 156.5h.1M182.4 138.6h.1M181.5 135.1h.1M191.8 136.2h.1M191.0 147.3h.1M209.7 153.3h.1M183.1 153.6h.1M219.9 165.3h.1M216.4 139.2h.1M205.8 165.1h.1M211.2 134.8h.1M206.0 155.8h.1M188.1 121.6h.1M184.4 134.6h.1M193.9 152.4h.1M194.5 148.8h.1M188.5 144.5h.1M211.8 166.5h.1M200.4 169.3h.1M205.2 165.2h.1M222.7 173.9h.1M188.8 162.7h.1M219.8 137.8h.1M229.4 170.5h.1M189.4 147.1h.1M174.0 146.9h.1M189.8 141.2h.1M206.6 143.0h.1M176.0 140.6h.1M180.1 143.2h.1M194.5 156.6h.1M211.9 151.0h.1M197.7 160.3h.1M190.7 158.1h.1M203.1 166.3h.1M186.1 119.9h.1M206.0 160.8h.1M176.0 140.2h.1M188.3 145.6h.1M178.6 153.6h.1M192.7 147.8h.1M192.1 168.3h.1M186.6 154.8h.1M210.2 150.0h.1M194.6 142.9h.1M176.0 140.8h.1M197.9 160.8h.1M198.1 145.6h.1M202.2 170.8h.1M184.2 121.4h.1M206.2 150.6h.1M195.7 119.9h.1M177.5 139.9h.1M176.4 145.5h.1M200.3 159.3h.1M185.3 151.4h.1M209.5 150.1h.1M186.9 164.6h.1M176.5 155.3h.1M177.8 149.6h.1M182.5 138.1h.1M194.4 142.3h.1M198.3 150.1h.1M211.6 171.4h.1M216.6 180.2h.1M185.8 161.3h.1M221.1 166.5h.1M211.6 168.7h.1M188.1 146.5h.1M201.6 165.1h.1M177.1 150.7h.1M190.5 118.0h.1M194.7 170.7h.1M180.4 151.2h.1M176.7 147.2h.1M190.6 143.4h.1M216.0 137.9h.1M193.6 163.0h.1M214.9 148.4h.1M206.5 150.8h.1M219.8 138.7h.1M184.0 160.9h.1M186.3 119.8h.1M178.3 156.0h.1M187.1 130.3h.1M206.1 148.9h.1M201.3 152.5h.1M187.7 155.7h.1M215.6 136.4h.1M226.8 163.9h.1M202.7 160.9h.1M180.3 156.0h.1M190.6 158.2h.1M209.4 144.3h.1M176.7 153.3h.1M194.4 166.6h.1M200.4 172.0h.1M193.6 148.0h.1M209.7 136.3h.1M184.7 149.5h.1M210.9 170.7h.1M226.7 165.5h.1M205.7 140.2h.1M184.8 143.5h.1M220.1 165.5h.1M187.4 141.2h.1M213.6 140.0h.1M207.3 152.6h.1M197.4 152.6h.1M188.0 118.0h.1M200.8 150.6h.1M178.5 156.4h.1M209.0 147.4h.1M203.6 148.9h.1M189.9 147.1h.1M230.1 169.7h.1M212.3 150.2h.1M195.4 140.3h.1M191.5 153.2h.1M190.6 140.3h.1M198.5 139.7h.1M207.7 145.5h.1M179.6 145.3h.1M215.1 134.7h.1M195.8 165.1h.1M187.5 151.4h.1M214.7 181.5h.1M198.8 144.6h.1M192.4 163.0h.1M215.2 156.4h.1M211.3 137.2h.1M191.8 159.2h.1M238.0 173.6h.1M211.7 152.5h.1M212.7 171.3h.1M205.3 160.2h.1M195.2 165.5h.1M186.7 150.3h.1M219.9 180.3h.1M200.7 160.0h.1M183.2 154.9h.1M191.5 143.1h.1M218.3 154.7h.1M183.9 143.9h.1M196.3 145.0h.1M203.5 162.4h.1M180.7 144.3h.1M184.6 137.3h.1M183.2 139.5h.1M200.0 158.7h.1M208.0 171.6h.1M182.7 139.0h.1M197.5 141.5h.1M173.8 148.8h.1M188.1 134.5h.1M183.7 145.8h.1M212.3 136.9h.1M201.4 138.9h.1M193.6 152.1h.1M191.1 136.7h.1M206.7 157.2h.1M185.5 163.3h.1M183.2 147.1h.1M182.8 135.1h.1M187.0 150.6h.1M207.0 147.5h.1M190.7 169.5h.1M199.7 156.2h.1M187.2 138.6h.1M211.9 137.0h.1M178.1 156.1h.1M190.0 169.4h.1M214.8 145.1h.1M178.0 154.2h.1M218.3 153.9h.1M184.9 119.2h.1M197.8 156.8h.1M184.4 153.4h.1M224.9 176.8h.1M182.6 135.6h.1M206.0 148.9h.1M194.5 158.7h.1M190.6 151.8h.1M187.2 118.1h.1M189.2 121.2h.1M203.2 174.3h.1M178.8 146.3h.1M206.6 143.8h.1M194.7 144.0h.1M187.1 140.9h.1M176.3 144.4h.1M181.1 147.9h.1M193.5 153.4h.1M189.3 118.6h.1M216.2 173.6h.1M197.4 165.0h.1M187.0 161.5h.1M206.3 155.8h.1M215.3 137.8h.1M208.5 157.2h.1M219.5 156.9h.1M204.1 145.7h.1M217.9 156.7h.1M206.5 155.2h.1M204.6 151.6h.1M190.3 147.9h.1M202.7 158.0h.1M199.3 168.5h.1M198.7 144.7h.1M201.7 145.9h.1M209.9 180.5h.1M183.6 159.0h.1M193.2 168.7h.1M189.7 164.7h.1M199.1 170.7h.1M194.1 152.9h.1M189.9 163.1h.1M178.7 149.8h.1M199.2 145.8h.1M190.3 158.1h.1M185.5 138.1h.1M211.0 157.0h.1M185.5 141.5h.1M217.0 138.2h.1M178.3 157.7h.1M182.6 159.2h.1M187.5 147.2h.1M187.7 130.5h.1M216.4 139.2h.1M189.3 143.0h.1M202.2 157.8h.1M180.5 156.1h.1M173.9 146.5h.1M226.2 160.7h.1M219.5 138.3h.1M212.6 146.3h.1M188.7 128.7h.1M189.2 159.5h.1M192.6 141.7h.1M189.5 123.7h.1M211.1 143.4h.1M196.2 172.2h.1M187.5 125.1h.1M229.3 163.9h.1M178.8 142.7h.1M212.3 168.3h.1M195.2 166.1h.1M190.9 147.9h.1M185.3 163.8h.1M199.7 174.1h.1M227.4 170.3h.1M191.0 164.7h.1M220.9 163.9h.1M182.8 140.4h.1M227.2 169.0h.1M191.8 156.1h.1M210.5 147.8h.1M207.6 163.3h.1M187.2 162.0h.1M181.5 156.1h.1M183.7 160.9h.1M211.3 156.2h.1M219.9 180.0h.1M207.1 163.9h.1M186.2 147.1h.1M178.2 138.1h.1M200.7 163.4h.1M198.2 160.6h.1M205.6 164.4h.1M204.7 146.3h.1M187.7 157.6h.1M193.5 147.5h.1M217.8 160.7h.1M189.8 166.7h.1M177.3 138.6h.1M185.3 161.2h.1M191.0 142.1h.1M214.3 177.4h.1M191.1 160.0h.1M197.4 169.7h.1M194.2 146.5h.1M182.8 154.4h.1M196.4 155.5h.1M176.9 154.8h.1M201.8 161.5h.1M191.9 119.4h.1M175.0 151.0h.1M190.6 136.5h.1M215.9 175.0h.1M189.2 159.5h.1M186.3 124.8h.1M187.8 165.7h.1M192.1 154.5h.1M208.6 160.0h.1M206.9 156.8h.1M197.4 169.8h.1M184.7 155.3h.1M178.2 139.9h.1M215.2 135.3h.1M198.1 163.7h.1M228.8 177.6h.1M184.7 159.1h.1M179.4 141.4h.1M215.0 176.6h.1M177.2 143.1h.1M203.5 141.2h.1M186.6 145.7h.1M187.8 121.2h.1M200.3 157.2h.1M184.5 130.0h.1M207.7 167.0h.1M209.5 150.3h.1M199.0 163.9h.1M190.1 148.6h.1M184.9 146.7h.1M177.6 154.3h.1M185.3 123.9h.1M209.2 159.3h.1M190.8 158.5h.1M194.7 120.6h.1M216.7 180.6h.1M176.1 141.0h.1M195.9 166.0h.1M200.6 158.8h.1M200.3 157.1h.1M185.9 141.4h.1M180.7 142.5h.1M198.3 150.5h.1M191.6 121.9h.1M206.4 156.6h.1M198.0 159.7h.1M205.3 160.9h.1M210.8 148.5h.1M182.1 150.2h.1M217.4 139.4h.1M210.9 168.1h.1M191.2 152.7h.1M192.3 170.1h.1M191.0 119.4h.1M220.6 171.1h.1M231.8 165.7h.1M203.4 167.0h.1M193.4 150.5h.1M238.1 172.8h.1M187.0 137.6h.1M211.7 139.7h.1M188.3 117.8h.1M207.6 154.9h.1M219.6 137.2h.1M187.1 153.2h.1M196.6 171.8h.1M189.8 158.2h.1M190.5 160.3h.1M223.3 168.4h.1M187.1 156.9h.1M218.1 173.6h.1M191.4 123.7h.1M188.6 122.0h.1M199.8 162.5h.1M206.4 164.3h.1M203.1 154.5h.1M208.8 178.7h.1M212.0 155.5h.1M180.9 156.8h.1M186.3 146.5h.1M186.4 140.1h.1M185.8 142.9h.1M210.8 158.5h.1M191.5 118.1h.1M187.9 156.8h.1M204.6 163.0h.1M229.0 174.0h.1M202.4 170.0h.1M184.6 136.1h.1M239.5 169.7h.1M211.6 151.4h.1M185.7 147.4h.1M210.6 135.3h.1M213.7 168.2h.1M204.6 152.2h.1M188.3 122.0h.1M188.1 161.3h.1M202.4 164.8h.1M195.8 145.4h.1M226.0 181.0h.1M207.7 156.9h.1M212.5 149.5h.1M195.8 161.5h.1M206.9 170.4h.1M204.4 171.5h.1M188.1 167.1h.1M211.3 137.6h.1M191.9 161.0h.1M192.1 171.0h.1M220.5 172.3h.1M198.9 158.1h.1M177.7 144.9h.1M192.6 124.1h.1M204.9 147.8h.1M197.8 157.6h.1M193.3 123.8h.1M212.0 154.5h.1M185.8 145.9h.1M195.9 144.3h.1M208.9 159.2h.1M216.4 172.3h.1M211.1 139.5h.1M183.5 152.8h.1M191.9 123.7h.1M178.8 147.9h.1M184.0 142.1h.1M186.7 155.3h.1M230.0 164.1h.1M184.4 130.7h.1M205.1 154.7h.1M200.1 142.7h.1M188.0 152.6h.1M215.3 134.3h.1M206.2 144.5h.1M201.7 159.5h.1M205.1 164.9h.1M175.3 152.5h.1M186.8 131.3h.1M196.4 152.5h.1M205.4 142.5h.1M185.6 149.5h.1M194.5 156.3h.1M179.5 138.0h.1M201.7 158.7h.1M192.4 145.1h.1M181.0 156.6h.1M195.1 149.3h.1M182.7 135.5h.1M202.0 172.0h.1M179.9 151.0h.1M186.8 160.9h.1M201.6 166.0h.1M197.5 147.7h.1M207.6 178.7h.1M188.7 154.1h.1M206.9 147.0h.1M193.4 166.7h.1M192.3 155.5h.1M201.1 144.4h.1M191.9 147.4h.1M199.9 146.5h.1M212.0 166.4h.1M184.2 132.6h.1M188.5 121.4h.1M185.6 132.1h.1M188.8 135.4h.1M184.4 153.9h.1M204.7 142.8h.1M175.7 144.9h.1M193.1 158.0h.1M214.2 149.0h.1M186.4 131.6h.1M189.0 129.9h.1M229.5 173.7h.1M205.4 141.7h.1M182.3 155.6h.1M195.3 171.8h.1M188.0 160.4h.1M218.1 166.0h.1M176.3 146.8h.1M192.4 157.9h.1M211.1 145.0h.1M178.6 149.3h.1M185.4 131.4h.1M192.1 149.2h.1M230.1 166.2h.1M206.9 144.6h.1M211.4 155.9h.1M213.6 169.9h.1M206.7 180.9h.1M218.5 138.6h.1M206.6 176.0h.1M185.6 126.7h.1M181.4 159.8h.1M215.1 156.3h.1M206.1 169.3h.1M187.9 165.3h.1M213.6 174.0h.1M210.6 155.6h.1M190.0 136.0h.1M219.9 137.5h.1M195.7 170.0h.1M201.2 167.7h.1M195.8 166.0h.1M194.2 122.8h.1M203.7 146.8h.1M213.9 163.9h.1M190.1 143.3h.1M192.0 137.7h.1M189.4 150.3h.1M194.2 142.5h.1M198.5 159.8h.1M217.9 179.4h.1M191.6 158.0h.1M190.9 144.9h.1M203.7 116.9h.1M199.7 154.1h.1M211.1 134.1h.1M195.0 141.8h.1M178.9 154.9h.1M175.5 147.8h.1M187.7 155.1h.1M185.9 163.6h.1M209.2 147.6h.1M181.9 135.2h.1M210.3 148.4h.1M196.7 158.3h.1M188.2 159.9h.1M192.9 151.4h.1M189.7 151.9h.1M186.4 166.1h.1M219.4 137.5h.1M182.8 137.2h.1M185.8 150.9h.1M204.6 166.8h.1M202.8 143.8h.1M209.9 147.9h.1M192.5 121.9h.1M189.6 125.2h.1M219.8 181.0h.1M181.6 139.8h.1M224.8 165.0h.1M185.9 159.8h.1M196.8 158.6h.1M187.8 132.6h.1M177.5 146.0h.1M206.5 153.5h.1M174.6 141.7h.1M193.4 155.4h.1M219.3 136.1h.1M186.7 149.5h.1M199.7 140.5h.1M191.7 118.2h.1M191.1 142.4h.1M196.1 169.1h.1M189.5 124.1h.1M204.6 161.2h.1M195.9 166.8h.1M179.2 145.9h.1M203.5 158.6h.1M208.4 169.8h.1M195.4 165.1h.1M179.6 154.1h.1M181.2 148.8h.1M209.5 156.4h.1M176.7 148.6h.1M185.5 159.8h.1M213.5 144.7h.1M182.4 147.8h.1M198.8 148.0h.1M185.9 165.3h.1M197.6 153.3h.1M203.7 163.0h.1M206.2 166.3h.1M185.2 134.0h.1M181.1 149.5h.1M195.0 142.7h.1M181.3 140.7h.1M185.5 128.4h.1M203.8 159.0h.1M221.0 136.9h.1M189.6 147.2h.1M213.4 141.8h.1M185.4 162.8h.1M192.6 137.5h.1M198.0 156.1h.1M192.5 157.0h.1M194.8 172.5h.1M189.1 131.1h.1M194.6 162.5h.1M218.6 134.2h.1M201.1 151.4h.1M195.2 152.3h.1M207.1 172.1h.1M188.3 153.1h.1M181.8 145.7h.1M184.9 132.5h.1M231.8 168.2h.1M198.9 160.1h.1M212.6 164.6h.1M204.3 159.8h.1M206.5 141.7h.1M206.9 157.0h.1M188.1 156.0h.1M197.7 140.7h.1M186.8 146.4h.1M205.7 162.3h.1M190.4 148.3h.1M194.0 143.2h.1M203.9 165.5h.1M201.2 166.4h.1M201.2 146.5h.1" stroke="#d8d8d8" stroke-width="0.95" stroke-linecap="square" fill="none"/>
<path d="M205.4 176.5h.1M218.0 175.1h.1M212.2 169.6h.1M208.2 175.4h.1M213.9 154.8h.1M184.5 160.0h.1M205.6 178.0h.1M224.8 165.7h.1M187.9 122.7h.1M187.2 143.0h.1M214.4 163.2h.1M220.6 174.0h.1M227.2 174.5h.1M206.7 179.9h.1M223.5 167.0h.1M218.2 158.3h.1M204.3 172.2h.1M210.7 173.0h.1M190.0 158.5h.1M214.5 176.5h.1M206.5 155.1h.1M204.3 177.1h.1M208.4 162.7h.1M206.2 155.2h.1M217.3 135.8h.1M213.8 168.7h.1M209.9 171.3h.1M203.6 176.5h.1M195.1 148.5h.1M187.6 120.2h.1M212.1 171.6h.1M196.6 166.8h.1M220.7 176.2h.1M214.0 135.7h.1M203.5 164.0h.1M230.3 163.2h.1M198.3 165.5h.1M212.3 163.0h.1M205.8 173.5h.1M228.9 174.6h.1M208.5 152.2h.1M205.9 162.4h.1M212.7 152.0h.1M175.7 139.8h.1M209.6 179.7h.1M215.2 175.4h.1M214.2 135.3h.1M227.7 162.2h.1M182.5 156.6h.1M209.4 142.6h.1M189.4 119.8h.1M235.1 172.1h.1M205.4 178.6h.1M215.9 161.9h.1M180.0 144.2h.1M190.1 147.5h.1M233.5 166.2h.1M216.6 157.0h.1M187.7 143.6h.1M239.1 169.7h.1M201.5 159.0h.1M223.9 176.3h.1M187.9 150.4h.1M220.2 169.2h.1M203.4 174.2h.1M231.1 172.0h.1M215.8 175.4h.1M205.5 166.8h.1M217.0 164.8h.1M215.0 167.6h.1M209.8 159.4h.1M228.1 162.0h.1M218.0 134.5h.1M218.5 166.4h.1M207.3 168.6h.1M212.5 164.7h.1M228.8 164.0h.1M218.5 139.0h.1M216.0 175.2h.1M204.1 154.7h.1M226.5 178.1h.1M207.3 142.0h.1M216.6 163.3h.1M201.4 150.2h.1M228.3 162.8h.1M185.9 155.4h.1M189.2 144.1h.1M212.4 162.2h.1M216.2 134.7h.1M200.9 172.9h.1M196.6 152.6h.1M211.2 162.7h.1M226.1 169.1h.1M213.9 136.1h.1M226.9 169.3h.1M214.1 136.3h.1M219.2 158.8h.1M212.3 166.7h.1M201.8 161.5h.1M191.8 121.5h.1M218.4 177.8h.1M208.3 155.5h.1M207.2 154.5h.1M212.4 168.0h.1M200.8 167.2h.1M203.3 166.4h.1M223.9 167.4h.1M223.0 179.9h.1M212.6 179.5h.1M236.7 163.2h.1M198.8 145.6h.1M208.0 174.8h.1M206.4 152.7h.1M216.7 157.9h.1M214.1 158.0h.1M214.6 163.3h.1M231.1 174.4h.1M218.5 171.1h.1M215.5 180.4h.1M206.5 171.3h.1M204.2 168.8h.1M214.9 179.3h.1M213.0 133.4h.1M229.5 161.7h.1M218.8 176.9h.1M235.9 167.9h.1M219.3 169.4h.1M218.4 179.8h.1M212.3 167.6h.1M220.6 171.6h.1M194.6 119.2h.1M188.6 147.5h.1M229.0 174.8h.1" stroke="#b3372c" stroke-width="0.95" stroke-linecap="square" fill="none"/>
<path d="M194.0 118.5h.1M212.5 154.6h.1M207.2 177.3h.1M185.4 148.3h.1M203.3 167.3h.1M197.3 161.1h.1M218.1 135.5h.1M206.1 148.8h.1M211.6 146.5h.1M177.0 141.1h.1M201.5 172.5h.1M179.2 147.1h.1M211.2 158.8h.1M192.1 170.8h.1M184.2 120.7h.1M196.9 138.0h.1M221.9 164.9h.1M186.4 161.1h.1M198.6 117.1h.1M185.6 157.9h.1M204.6 140.8h.1M199.7 160.4h.1M195.1 122.3h.1M213.7 135.0h.1M205.4 178.8h.1M192.0 153.7h.1M191.4 150.3h.1M186.9 142.1h.1M231.2 176.0h.1M188.3 130.3h.1M180.6 146.9h.1M197.0 144.2h.1M178.9 141.2h.1M212.5 142.0h.1M185.9 142.3h.1M204.1 156.7h.1M207.5 151.3h.1M196.7 158.9h.1M188.8 168.6h.1M184.0 153.1h.1M187.7 147.3h.1M181.0 141.4h.1M192.6 146.0h.1M186.8 126.2h.1M192.7 119.4h.1M200.0 155.3h.1M210.5 144.7h.1M211.2 139.8h.1M213.1 144.5h.1M210.1 135.3h.1M179.4 154.9h.1M199.7 172.1h.1M190.7 168.3h.1M185.6 137.4h.1M177.7 139.8h.1M180.5 158.6h.1M184.6 146.2h.1M189.4 149.1h.1M189.0 158.8h.1M184.5 162.4h.1M184.6 155.1h.1M228.8 166.8h.1M185.5 141.3h.1M204.6 148.1h.1M195.4 138.8h.1M191.8 152.0h.1M201.4 165.1h.1M188.8 143.6h.1M208.1 148.3h.1M204.2 155.1h.1M211.8 157.8h.1M177.7 140.1h.1M184.7 138.6h.1M206.4 146.7h.1M177.3 140.0h.1M207.1 140.7h.1M212.5 156.4h.1M208.5 153.3h.1M180.5 140.2h.1M174.5 147.9h.1M201.7 170.8h.1M210.6 138.5h.1M215.9 134.3h.1M184.2 146.3h.1M207.3 139.7h.1M195.5 148.8h.1M190.5 148.0h.1M208.9 173.3h.1M203.2 147.8h.1M209.5 147.7h.1M202.9 167.2h.1M205.3 151.8h.1M188.0 119.9h.1M213.2 179.8h.1M205.1 149.5h.1M222.2 177.1h.1M194.4 165.2h.1M199.3 150.9h.1M207.4 142.9h.1M187.9 124.7h.1M185.6 138.5h.1M209.9 145.2h.1M208.6 157.3h.1M208.1 178.6h.1M199.6 147.6h.1M196.0 150.8h.1M208.7 156.2h.1M185.5 150.5h.1M205.8 146.1h.1M183.5 160.2h.1M189.2 165.3h.1M210.9 159.6h.1M192.6 121.7h.1M231.0 172.1h.1M191.5 161.9h.1M230.0 172.8h.1M178.4 154.5h.1M208.9 164.1h.1M214.7 159.4h.1M234.5 162.8h.1M203.5 169.3h.1M180.2 145.3h.1M185.1 138.7h.1M187.6 130.5h.1M226.5 179.7h.1M196.5 166.5h.1M205.1 140.2h.1M190.8 147.1h.1M212.5 138.7h.1M202.5 116.2h.1M177.2 147.8h.1M186.4 122.3h.1M176.4 154.7h.1M192.6 169.1h.1M190.2 146.7h.1M207.3 147.0h.1M177.9 138.1h.1M176.3 140.1h.1M217.2 159.9h.1M215.2 178.7h.1M183.3 138.0h.1M176.5 140.9h.1M175.4 145.1h.1M195.2 150.7h.1M180.7 159.1h.1M209.9 158.3h.1M183.6 148.9h.1M191.3 167.3h.1M207.3 150.5h.1M201.5 139.6h.1M200.8 116.8h.1M214.6 137.1h.1M179.2 158.7h.1M178.8 152.5h.1M215.6 171.4h.1M200.3 139.9h.1M190.0 163.5h.1M188.3 165.7h.1M212.4 178.7h.1M192.1 140.1h.1M201.9 156.9h.1M206.2 165.8h.1M209.3 142.4h.1M218.6 161.9h.1M198.2 168.5h.1M199.9 153.4h.1M192.3 149.2h.1M205.1 177.5h.1M193.3 166.4h.1M210.6 164.0h.1M215.6 172.9h.1M209.6 137.5h.1M211.4 137.7h.1M197.4 169.9h.1M203.8 158.5h.1M189.9 164.8h.1M178.2 153.1h.1M200.1 161.2h.1M209.2 162.6h.1M209.3 178.0h.1M221.0 168.4h.1M191.3 133.9h.1M208.2 160.0h.1M195.6 144.9h.1M199.3 146.3h.1M210.3 169.4h.1M204.7 151.2h.1M189.6 159.6h.1M207.7 147.7h.1M207.8 166.8h.1M207.8 146.9h.1M183.4 156.3h.1M188.2 141.4h.1M219.1 137.0h.1M201.3 166.7h.1M216.1 139.8h.1M214.9 160.9h.1M190.0 149.8h.1M182.3 152.4h.1M192.9 154.9h.1M184.4 145.5h.1M190.5 139.5h.1M182.4 157.0h.1M188.6 163.0h.1M187.6 143.2h.1M186.5 152.6h.1M205.9 176.1h.1M198.9 150.5h.1M183.1 152.9h.1M179.5 155.7h.1M223.3 165.1h.1M198.9 146.2h.1M207.4 141.1h.1M175.0 143.8h.1M214.1 142.0h.1M190.1 141.2h.1M186.4 122.4h.1M176.6 148.8h.1M190.0 147.1h.1M207.1 142.7h.1M191.9 170.0h.1M206.9 146.7h.1M188.0 149.9h.1M218.3 154.9h.1M189.0 147.2h.1M209.4 153.6h.1M198.1 165.7h.1M196.0 170.9h.1M225.8 172.5h.1M188.3 137.5h.1M176.6 149.6h.1M195.5 168.3h.1M183.7 138.4h.1M181.5 140.9h.1M201.6 162.5h.1M189.1 138.2h.1M178.9 145.6h.1M181.2 147.6h.1M228.3 177.1h.1M200.5 158.0h.1M188.7 120.5h.1M181.7 137.5h.1M208.9 160.5h.1M209.2 140.9h.1M199.2 147.2h.1M187.1 164.4h.1M210.2 174.9h.1M205.6 167.0h.1M212.9 138.0h.1M231.8 177.6h.1M214.0 166.0h.1M201.8 165.0h.1M208.9 149.4h.1M186.7 137.4h.1M183.7 149.7h.1M208.0 148.2h.1M205.1 144.7h.1M213.7 134.6h.1M199.3 166.4h.1M180.5 160.7h.1M182.2 141.5h.1M225.9 171.0h.1M188.2 120.5h.1M191.5 143.0h.1M189.8 124.0h.1M195.4 172.1h.1M202.2 139.3h.1M199.9 151.2h.1M212.8 170.2h.1M220.6 165.6h.1M185.9 149.3h.1M183.6 153.7h.1M212.6 143.6h.1M192.6 119.7h.1M208.9 164.3h.1M196.8 145.7h.1M224.1 160.1h.1M188.0 129.7h.1M191.1 155.2h.1M204.9 147.1h.1M182.5 153.0h.1M209.8 147.4h.1M193.4 155.2h.1M185.6 165.6h.1M208.4 143.0h.1M178.6 156.2h.1M215.9 137.7h.1M198.9 151.4h.1M203.2 161.6h.1M204.2 151.6h.1M207.7 167.0h.1M200.8 166.3h.1M209.0 138.5h.1M191.7 123.7h.1M212.9 143.1h.1M199.6 163.0h.1M190.6 168.8h.1M181.2 159.7h.1M191.7 123.9h.1M179.5 141.9h.1M177.7 155.4h.1M179.8 142.1h.1M198.0 148.1h.1M206.5 138.5h.1M214.8 166.6h.1M193.6 156.8h.1M177.7 153.6h.1M184.0 140.2h.1M187.9 147.3h.1M197.4 163.9h.1M201.0 167.6h.1M204.0 153.5h.1M206.3 174.3h.1M197.6 167.2h.1M193.0 145.1h.1M178.4 144.5h.1M205.2 144.3h.1M193.3 147.5h.1M192.2 142.8h.1M189.0 168.1h.1M205.6 159.9h.1M187.1 124.1h.1M185.5 145.9h.1M219.3 169.0h.1M215.3 157.7h.1M220.6 167.7h.1M190.9 160.3h.1M199.4 156.6h.1M203.0 163.5h.1M199.5 151.1h.1M203.3 160.5h.1M218.2 171.4h.1M191.4 156.8h.1M214.6 146.6h.1M204.9 164.2h.1M198.8 148.7h.1M211.5 159.9h.1M212.7 137.6h.1M199.1 153.0h.1M203.9 163.5h.1M218.8 136.6h.1M194.6 151.9h.1M185.7 160.9h.1M196.1 171.8h.1M208.5 137.9h.1M197.9 144.5h.1M233.8 167.9h.1M212.1 134.3h.1M188.2 141.1h.1M209.9 137.8h.1M190.6 146.9h.1M190.1 145.7h.1M192.9 143.0h.1M184.5 153.2h.1M190.2 164.3h.1M197.3 150.1h.1M185.1 132.1h.1M185.9 140.3h.1M188.7 161.5h.1M191.5 168.6h.1M185.9 139.1h.1M205.2 161.9h.1M213.7 145.5h.1M193.3 160.4h.1M211.9 173.4h.1M200.3 150.4h.1M205.1 147.1h.1M197.4 173.0h.1M214.5 143.7h.1M234.1 175.4h.1M181.3 151.6h.1M204.7 144.9h.1M200.5 171.6h.1M217.7 138.5h.1M185.2 138.8h.1M193.2 119.9h.1M210.9 149.6h.1M205.6 158.9h.1M216.2 158.9h.1M204.8 161.7h.1M184.5 146.8h.1M213.2 162.1h.1M177.8 150.7h.1M185.7 128.9h.1M187.9 145.3h.1M205.4 159.5h.1M211.0 141.9h.1M187.7 118.1h.1M178.4 150.8h.1M219.3 135.7h.1M212.1 151.3h.1M206.7 163.2h.1M189.3 167.4h.1M184.5 141.9h.1M206.3 141.5h.1M193.4 118.7h.1M191.6 143.9h.1M199.8 139.6h.1M191.7 148.8h.1M216.2 154.2h.1M193.0 152.8h.1M189.5 142.3h.1M201.8 150.4h.1M190.2 132.5h.1M198.1 151.5h.1M192.8 169.0h.1M184.7 154.0h.1M187.0 121.9h.1M199.0 167.2h.1M184.3 134.0h.1M191.5 147.3h.1M178.0 144.0h.1M211.7 151.3h.1M182.3 154.8h.1M176.7 139.4h.1M192.1 170.1h.1M197.8 157.8h.1M197.0 150.4h.1M179.5 156.5h.1M193.6 164.9h.1M232.0 175.5h.1M186.9 147.0h.1M193.9 145.5h.1M206.3 143.1h.1M187.6 147.8h.1M207.0 141.2h.1M215.8 157.0h.1M195.6 145.2h.1M212.8 137.4h.1M185.0 154.9h.1M183.3 159.8h.1M195.1 139.9h.1M190.6 120.7h.1M205.7 166.0h.1M208.7 163.3h.1M194.0 120.8h.1M199.4 139.5h.1M218.2 153.3h.1M195.1 162.0h.1M184.8 139.2h.1M189.0 160.0h.1M195.4 147.5h.1M193.6 120.1h.1M214.2 164.8h.1M200.5 148.8h.1M183.5 155.3h.1M186.8 120.6h.1M182.9 138.5h.1M213.9 151.6h.1M209.0 163.0h.1M187.0 158.4h.1M193.6 164.3h.1M187.4 120.8h.1M187.3 157.8h.1M220.6 173.3h.1M190.2 122.8h.1M219.8 178.3h.1M182.2 139.2h.1M190.1 124.0h.1M182.6 138.1h.1M183.9 154.4h.1M179.9 148.0h.1M191.2 141.8h.1M205.2 153.4h.1M188.7 129.9h.1M200.0 166.5h.1M178.5 149.4h.1M215.3 168.3h.1M188.9 163.4h.1M174.8 140.9h.1M176.3 141.1h.1M201.4 155.1h.1M203.8 150.7h.1M180.6 146.8h.1M208.2 163.8h.1M214.0 139.1h.1M188.1 148.8h.1M200.2 144.4h.1M189.9 142.3h.1M211.8 147.0h.1M192.7 159.4h.1M200.7 163.5h.1M207.4 160.8h.1M203.6 146.8h.1M198.4 163.8h.1M195.1 153.6h.1M211.7 136.6h.1M196.2 149.4h.1M188.6 141.5h.1M179.2 151.6h.1M226.8 161.1h.1M216.0 164.9h.1M174.9 142.4h.1M188.3 158.3h.1M191.6 164.7h.1M207.0 144.2h.1M198.6 168.6h.1M223.7 175.2h.1M192.7 163.2h.1M190.0 166.6h.1M185.4 154.7h.1M214.4 145.2h.1M209.4 180.2h.1M184.0 152.2h.1M212.7 144.6h.1M181.3 150.7h.1M213.4 155.1h.1M206.3 175.3h.1M183.4 144.9h.1M201.4 167.3h.1M213.9 154.2h.1M173.7 145.9h.1M211.8 179.0h.1M193.0 148.5h.1M215.3 166.4h.1M207.9 146.2h.1M203.6 163.4h.1M201.0 170.5h.1M207.3 145.2h.1M178.5 137.9h.1M209.7 146.4h.1M211.4 159.1h.1M181.6 154.1h.1M196.6 165.3h.1M205.5 153.8h.1M196.0 146.0h.1M177.6 146.2h.1M214.6 148.7h.1M208.9 150.8h.1M190.7 141.3h.1M190.2 145.6h.1M213.3 137.9h.1M209.4 146.2h.1M192.8 141.3h.1M185.2 140.7h.1M206.0 168.9h.1M182.8 154.0h.1M174.5 150.7h.1M225.4 171.8h.1M213.5 147.2h.1M182.7 153.5h.1M208.9 160.9h.1M185.2 119.6h.1M202.6 146.1h.1M184.1 153.2h.1M189.9 159.0h.1M190.6 160.9h.1M182.0 158.3h.1M201.7 160.6h.1M204.4 147.6h.1M183.7 132.0h.1M208.3 171.4h.1M181.5 155.3h.1M222.1 173.4h.1M187.2 153.8h.1M199.1 154.3h.1M195.3 139.8h.1M207.6 146.4h.1M184.6 141.2h.1M203.0 168.2h.1M202.1 152.5h.1M174.5 144.0h.1M183.8 157.3h.1M189.1 163.4h.1M234.5 173.4h.1M182.0 135.4h.1M199.1 169.5h.1M210.0 153.7h.1M188.7 153.2h.1M191.5 160.9h.1M207.3 169.5h.1M206.9 163.4h.1M195.7 119.8h.1M198.7 148.9h.1M177.4 143.4h.1M200.2 160.6h.1M200.9 147.5h.1M201.4 150.1h.1M202.5 154.2h.1M189.7 133.5h.1M190.7 144.3h.1M185.7 121.5h.1M195.2 166.5h.1M205.8 179.9h.1M190.2 147.6h.1M203.7 156.8h.1M201.6 155.9h.1M194.5 149.4h.1M187.5 166.4h.1M191.3 155.1h.1M207.7 158.8h.1M191.9 120.3h.1M205.5 164.8h.1M205.6 163.4h.1M194.2 120.3h.1M209.9 151.5h.1M211.3 159.5h.1M206.2 160.7h.1M235.5 175.7h.1M185.1 160.3h.1M209.1 141.9h.1M201.0 140.8h.1M223.2 163.6h.1M196.5 154.6h.1M208.4 158.3h.1M186.7 150.1h.1M190.6 169.9h.1M201.8 143.9h.1M208.1 149.6h.1M192.8 120.4h.1M210.7 138.5h.1M214.0 143.3h.1M202.1 166.2h.1M204.4 156.7h.1M181.5 135.6h.1M188.6 123.6h.1M206.6 139.8h.1M193.6 164.9h.1M191.4 147.5h.1M183.1 147.7h.1M219.3 135.5h.1M215.0 145.2h.1M202.9 154.0h.1M206.7 140.7h.1M218.9 136.0h.1M186.2 159.9h.1M213.3 135.0h.1M181.6 142.7h.1M198.6 152.4h.1M189.7 140.8h.1M182.1 154.6h.1M217.2 167.3h.1M187.5 160.5h.1M193.7 148.2h.1M211.2 162.5h.1M185.5 162.0h.1M181.9 149.7h.1M195.9 153.8h.1M223.2 172.1h.1M219.4 164.7h.1M220.1 158.5h.1M202.5 167.6h.1M214.3 138.7h.1M174.9 148.5h.1M206.2 156.5h.1M189.9 118.5h.1M186.2 161.5h.1M188.6 138.3h.1M193.5 158.5h.1M196.9 145.3h.1M200.2 155.7h.1M196.6 164.5h.1M194.0 158.3h.1M213.8 179.7h.1M219.1 163.4h.1M181.3 149.4h.1M214.7 170.4h.1M211.2 136.2h.1M205.0 155.2h.1M194.7 168.1h.1M207.3 154.2h.1M187.4 120.2h.1M182.8 162.7h.1M186.1 162.2h.1M181.3 141.2h.1M185.4 147.8h.1M214.8 150.9h.1M213.7 155.0h.1M186.1 122.2h.1M190.9 134.0h.1M220.1 161.9h.1M195.1 120.2h.1M209.5 158.0h.1M195.5 170.6h.1M210.4 158.4h.1M201.2 159.4h.1M194.5 164.8h.1M186.4 138.7h.1M193.2 167.1h.1M205.4 151.1h.1M213.1 145.2h.1M196.9 169.0h.1M198.4 161.9h.1M197.9 143.4h.1M185.6 118.9h.1M189.8 137.7h.1M223.0 167.4h.1M184.2 149.0h.1M197.2 169.4h.1M183.0 139.9h.1M216.7 180.4h.1M212.2 144.4h.1M212.8 140.5h.1M209.4 151.3h.1M177.6 152.0h.1M196.2 153.5h.1M192.4 136.9h.1M184.3 152.9h.1M212.7 147.7h.1M209.2 151.6h.1M191.5 121.0h.1M189.5 154.4h.1M207.9 149.8h.1M180.5 152.4h.1M208.9 152.8h.1M199.5 150.6h.1M203.7 150.7h.1M212.9 134.1h.1M204.3 153.1h.1M182.5 146.9h.1M210.5 146.1h.1M193.3 166.0h.1M184.5 157.5h.1M192.3 162.7h.1M198.1 161.6h.1M211.2 175.8h.1M186.1 160.1h.1M202.3 152.3h.1M181.4 159.8h.1M198.9 154.9h.1M217.9 136.1h.1M190.6 158.5h.1M207.9 157.9h.1M210.5 144.2h.1M209.1 139.2h.1M177.7 143.7h.1M214.3 172.2h.1M191.9 141.6h.1M201.6 155.6h.1M188.2 124.1h.1M185.1 150.9h.1M200.3 145.5h.1M195.4 163.6h.1M213.3 139.8h.1M207.1 144.3h.1M182.5 137.9h.1M196.0 157.9h.1M192.8 156.5h.1M191.8 158.9h.1M211.9 159.2h.1M191.7 156.7h.1M206.6 155.2h.1M217.6 155.4h.1M175.3 149.4h.1M200.3 148.8h.1M186.4 151.0h.1M186.5 118.1h.1M189.7 151.5h.1M197.0 146.6h.1M207.9 140.2h.1M187.5 130.2h.1M201.7 149.5h.1M175.9 146.2h.1M198.3 156.2h.1M184.4 137.2h.1M197.7 168.8h.1M194.6 160.7h.1M212.2 168.4h.1M206.1 153.0h.1M217.6 160.9h.1M189.4 139.8h.1M207.0 171.7h.1M208.4 157.9h.1M200.7 167.4h.1M189.7 132.5h.1M208.4 163.6h.1M200.9 165.9h.1M193.2 166.3h.1M217.9 159.4h.1M213.9 162.1h.1M181.0 147.6h.1M212.6 137.0h.1M207.6 147.3h.1M185.9 146.2h.1M185.7 153.7h.1M208.7 141.2h.1M188.7 123.8h.1M229.2 161.4h.1M192.0 147.2h.1M187.9 151.8h.1M215.6 137.9h.1M200.6 160.7h.1M219.7 135.1h.1M191.1 153.4h.1M189.9 147.9h.1M200.0 149.5h.1M188.0 156.7h.1M177.4 142.3h.1M185.6 147.5h.1M177.3 144.2h.1M176.2 149.5h.1M174.9 151.4h.1M224.2 166.3h.1M214.6 143.2h.1M195.7 167.0h.1M210.8 145.5h.1M188.9 155.0h.1M205.0 158.7h.1M200.9 153.5h.1M190.1 119.7h.1M180.3 151.0h.1M219.4 165.9h.1M192.4 138.6h.1M191.7 155.1h.1M209.4 160.2h.1M185.5 158.1h.1M187.7 158.3h.1M200.3 149.8h.1M192.9 169.9h.1M175.2 144.7h.1M224.4 162.1h.1M191.1 161.9h.1M220.2 175.1h.1M227.1 169.3h.1M187.1 143.9h.1M233.4 172.6h.1M184.7 159.0h.1M206.8 156.6h.1M175.4 151.7h.1M182.1 160.0h.1M212.5 142.3h.1M195.7 158.6h.1M184.5 122.1h.1M186.3 119.4h.1M208.3 140.9h.1M190.2 123.2h.1M202.8 148.0h.1M200.8 152.9h.1M185.4 155.4h.1M185.5 147.2h.1M204.4 147.0h.1M222.7 178.3h.1M209.1 152.8h.1M179.7 142.0h.1M177.2 145.1h.1M199.4 170.9h.1M208.4 140.6h.1M210.3 148.0h.1M214.0 166.5h.1M190.4 161.7h.1M188.7 150.3h.1M197.0 145.4h.1M185.0 163.6h.1M205.5 159.8h.1M203.6 116.2h.1M187.3 147.8h.1M199.7 162.2h.1M191.7 167.1h.1M186.8 136.3h.1M218.9 170.8h.1M187.0 156.7h.1M181.9 144.3h.1M182.8 133.3h.1M191.6 160.1h.1M190.8 123.6h.1M235.1 177.3h.1M180.1 151.7h.1M204.6 146.6h.1M209.4 163.0h.1M198.8 170.2h.1M192.3 165.0h.1M193.2 149.6h.1M189.0 118.0h.1M197.2 160.3h.1M205.6 141.9h.1M208.0 159.3h.1M216.6 154.9h.1M215.2 141.3h.1M211.5 141.0h.1M190.9 156.1h.1M213.3 155.5h.1M190.7 120.3h.1M191.9 120.2h.1M184.8 120.8h.1M184.0 144.9h.1M175.3 148.4h.1M210.4 139.3h.1M208.1 148.7h.1M209.3 176.9h.1M192.4 146.2h.1M190.9 148.3h.1M191.6 121.0h.1M195.6 168.7h.1M216.6 164.3h.1M220.7 135.4h.1M200.5 149.2h.1M186.0 122.1h.1M176.8 147.9h.1M202.4 159.8h.1M187.1 160.6h.1M189.4 146.6h.1M187.7 166.5h.1M220.1 161.5h.1M183.8 144.3h.1M193.2 137.3h.1M182.8 145.9h.1M204.0 161.7h.1M185.8 161.5h.1M180.1 137.0h.1M201.9 153.6h.1M206.6 140.6h.1M196.7 149.9h.1M194.1 139.6h.1M190.1 120.9h.1M205.2 162.3h.1M187.7 120.4h.1M213.4 149.2h.1M185.7 155.2h.1M207.1 141.8h.1M202.4 149.0h.1M205.2 143.0h.1M196.9 170.6h.1M178.1 157.5h.1M192.8 122.4h.1M182.9 155.6h.1M191.1 166.3h.1M193.8 170.1h.1M198.5 144.6h.1M185.6 158.2h.1M196.8 143.0h.1M187.9 144.0h.1M209.4 156.4h.1M210.2 156.5h.1M181.6 157.0h.1M186.4 124.1h.1M201.1 148.1h.1M190.3 146.1h.1M225.9 176.5h.1M188.6 150.5h.1M188.6 122.2h.1M216.9 172.7h.1M213.3 179.1h.1M190.8 122.2h.1M201.3 143.2h.1M213.5 149.8h.1M215.0 141.3h.1M183.5 163.3h.1M175.3 141.0h.1M195.2 153.0h.1M194.1 139.0h.1M189.4 159.7h.1M211.4 158.1h.1M216.0 134.4h.1M202.5 155.6h.1M222.7 175.2h.1M175.0 150.1h.1M187.2 146.8h.1M209.6 159.1h.1M192.4 154.3h.1M208.2 163.5h.1M212.8 146.5h.1M189.2 149.7h.1M195.8 159.5h.1M182.5 133.5h.1M182.3 144.6h.1M187.8 150.7h.1M184.6 159.7h.1M182.1 157.0h.1M182.7 135.0h.1M213.6 153.6h.1M220.3 156.1h.1M199.8 170.1h.1M219.9 137.2h.1M195.1 163.4h.1M197.7 166.7h.1M213.8 144.3h.1M220.9 136.8h.1M219.5 172.8h.1M180.7 158.6h.1M219.5 174.7h.1M194.9 170.3h.1M191.6 155.2h.1M198.1 165.7h.1M203.0 158.7h.1M185.7 159.4h.1M208.9 158.0h.1M224.4 165.7h.1M208.8 137.6h.1M201.0 166.6h.1M183.5 157.9h.1M200.9 139.5h.1M208.4 147.3h.1M203.5 151.7h.1M219.8 174.9h.1M185.5 164.2h.1M219.2 134.3h.1M187.5 167.1h.1M190.9 155.8h.1M193.7 169.8h.1M211.0 149.3h.1M219.1 167.6h.1M228.3 170.3h.1M220.4 137.6h.1M197.6 162.5h.1M208.9 143.1h.1M217.8 159.7h.1M204.6 142.9h.1M186.9 141.5h.1M198.1 147.4h.1M212.6 137.4h.1M194.4 147.0h.1M199.3 152.9h.1M185.7 156.8h.1M210.8 158.3h.1M178.8 155.2h.1M187.9 165.9h.1M203.0 138.9h.1M201.2 152.5h.1M184.6 138.7h.1M212.7 146.2h.1M183.6 150.7h.1M184.8 144.4h.1M196.1 155.9h.1M194.5 122.3h.1M206.5 153.4h.1M196.9 172.3h.1M196.9 156.4h.1M199.1 150.8h.1M183.5 151.9h.1M190.8 165.8h.1M193.7 151.9h.1M217.1 136.1h.1M192.5 142.0h.1M200.0 166.0h.1M207.2 165.9h.1M205.9 155.8h.1M207.9 146.1h.1M209.9 161.3h.1M179.0 157.1h.1M208.5 137.9h.1M207.3 161.3h.1M195.9 143.8h.1M197.0 165.6h.1M196.7 162.4h.1M187.7 141.4h.1M220.5 158.3h.1M190.4 150.1h.1M219.4 139.3h.1M198.7 149.5h.1M213.5 153.9h.1M212.4 173.1h.1M201.2 157.6h.1M196.9 172.3h.1M207.8 138.9h.1M181.4 142.4h.1M195.8 139.4h.1M189.4 168.3h.1M206.3 163.1h.1M205.9 145.2h.1M189.4 137.4h.1M194.7 166.1h.1M205.4 161.8h.1M199.3 169.9h.1M234.1 176.7h.1M193.6 170.0h.1M185.9 130.8h.1M206.1 142.5h.1M176.2 145.9h.1M187.8 160.0h.1M179.4 143.7h.1M186.6 146.0h.1M190.9 123.7h.1M194.9 139.0h.1M211.8 144.7h.1M186.9 160.0h.1M198.1 149.0h.1M196.9 155.1h.1M203.0 153.9h.1M209.2 177.9h.1M202.7 165.2h.1M183.6 162.3h.1M216.2 167.1h.1" stroke="#d8d8d8" stroke-width="0.95" stroke-linecap="square" fill="none"/>
<path d="M206.1 171.1h.1M212.6 161.1h.1M207.6 177.9h.1M218.4 135.6h.1M186.3 120.2h.1M217.8 167.1h.1M214.4 133.9h.1M217.2 135.7h.1M214.7 135.7h.1M231.5 168.9h.1M214.8 169.4h.1M212.4 171.1h.1M214.4 134.8h.1M211.5 166.4h.1M210.4 168.7h.1M209.1 167.5h.1M203.7 154.6h.1M209.7 165.0h.1M210.3 163.6h.1M213.0 166.0h.1M212.4 134.7h.1M208.0 170.7h.1M222.6 169.2h.1M212.8 167.3h.1M220.2 159.0h.1M213.8 167.4h.1M214.2 152.8h.1M205.6 172.1h.1M232.2 161.3h.1M225.8 180.9h.1M237.7 165.2h.1M205.9 179.2h.1M207.9 167.2h.1M210.8 162.7h.1M216.4 167.7h.1M211.5 138.1h.1M213.4 133.6h.1M190.6 123.4h.1M225.2 176.7h.1M201.5 156.5h.1M225.4 179.6h.1M208.0 164.7h.1M220.2 171.4h.1M184.8 140.5h.1M213.6 134.1h.1M215.9 161.1h.1M207.4 178.1h.1M219.3 174.9h.1M215.8 181.0h.1M211.9 174.8h.1M231.0 168.2h.1M229.9 163.7h.1M232.2 162.5h.1M181.8 142.3h.1M213.4 169.4h.1M201.5 156.3h.1M208.5 170.2h.1M233.3 166.8h.1M221.3 180.4h.1M180.9 139.5h.1M206.0 171.1h.1M180.9 143.0h.1M216.3 179.5h.1M204.8 178.8h.1M220.6 167.4h.1M215.4 175.2h.1M209.8 171.1h.1M216.3 181.6h.1M216.6 161.9h.1M202.9 159.9h.1M215.7 159.1h.1M209.5 168.6h.1M207.8 172.2h.1M229.6 163.3h.1M207.3 168.2h.1M189.6 147.6h.1M210.1 180.3h.1M212.6 173.9h.1M210.7 160.3h.1M223.8 169.1h.1M219.8 179.9h.1M222.6 162.0h.1M214.0 153.7h.1M208.4 163.8h.1M190.8 124.5h.1M213.5 165.6h.1M205.1 156.5h.1M209.4 149.5h.1M180.5 144.7h.1M198.4 151.9h.1M184.3 140.9h.1M220.7 166.5h.1M211.6 162.6h.1M235.4 177.4h.1M215.5 167.1h.1M213.8 134.6h.1M215.8 167.7h.1M209.6 170.1h.1M204.3 177.5h.1M194.7 119.1h.1M213.5 136.9h.1M203.4 176.8h.1M199.2 160.2h.1M217.0 163.7h.1M205.9 169.5h.1M236.4 167.1h.1M213.7 165.6h.1M224.8 179.2h.1M217.9 136.6h.1M213.9 178.4h.1M211.5 168.4h.1M213.8 171.8h.1M230.7 174.6h.1M206.7 167.5h.1M224.3 175.7h.1M216.3 166.1h.1M184.3 122.3h.1M206.8 172.3h.1M186.0 122.5h.1M189.2 154.1h.1M202.7 160.0h.1M215.7 163.6h.1M228.6 168.8h.1" stroke="#b3372c" stroke-width="0.95" stroke-linecap="square" fill="none"/>
<line x1="8.5" y1="34.5" x2="246.9" y2="34.5" stroke="#8a8a8a" stroke-width="1.2"/>
<line x1="8.5" y1="34" x2="8.5" y2="187.2" stroke="#444" stroke-width="1"/>
<line x1="8" y1="187.2" x2="246.9" y2="187.2" stroke="#444" stroke-width="1"/>
<line x1="167.4" y1="34" x2="167.4" y2="187.2" stroke="#333" stroke-width="1"/>
<line x1="246.9" y1="34" x2="246.9" y2="187.7" stroke="#777" stroke-width="1"/>
<line x1="167.4" y1="110.8" x2="246.9" y2="110.8" stroke="#777" stroke-width="1"/>
<text x="0.3" y="27.8" font-size="24" text-anchor="start" fill="#000" font-weight="bold" stroke="#000" stroke-width="0.15">a</text>
<circle cx="130" cy="44" r="3.2" fill="#5a9bd0"/>
<circle cx="130" cy="57.1" r="3.2" fill="#f0963c"/>
<text x="137.3" y="47.2" font-size="8.2" text-anchor="start" fill="#111" stroke="#111" stroke-width="0.15">Tγδ1</text>
<text x="137.3" y="60.3" font-size="8.2" text-anchor="start" fill="#111" stroke="#111" stroke-width="0.15">Tγδ17</text>
<text x="244.3" y="44.8" font-size="10" text-anchor="end" fill="#111" font-style="italic" stroke="#111" stroke-width="0.15">IFNG</text>
<text x="244.5" y="121.5" font-size="10" text-anchor="end" fill="#111" font-style="italic" stroke="#111" stroke-width="0.15">IL17A</text>
<defs><linearGradient id="gr1" x1="0" y1="0" x2="0" y2="1"><stop offset="0" stop-color="#a01818"/><stop offset="1" stop-color="#e8e8e8"/></linearGradient><linearGradient id="go1" x1="0" y1="0" x2="0" y2="1"><stop offset="0" stop-color="#ee8326"/><stop offset="1" stop-color="#fdf3ea"/></linearGradient><linearGradient id="gb1" x1="0" y1="0" x2="0" y2="1"><stop offset="0" stop-color="#3a7ab8"/><stop offset="1" stop-color="#f1f5fa"/></linearGradient><linearGradient id="gr2" x1="0" y1="0" x2="0" y2="1"><stop offset="0" stop-color="#a31c1c"/><stop offset="1" stop-color="#ececec"/></linearGradient></defs>
<rect x="257.4" y="123.3" width="8.3" height="59.4" fill="url(#gr1)"/>
<text x="267.6" y="127.9" font-size="7.8" text-anchor="start" fill="#111" stroke="#111" stroke-width="0.15">high</text>
<text x="267.6" y="184.5" font-size="7.8" text-anchor="start" fill="#111" stroke="#111" stroke-width="0.15">low</text>
<text x="252.9" y="152.4" font-size="8.2" text-anchor="middle" fill="#111" transform="rotate(-90 252.9 152.4)" stroke="#111" stroke-width="0.15">expression</text>
<text x="0.8" y="207.4" font-size="21.5" text-anchor="start" fill="#000" font-weight="bold" stroke="#000" stroke-width="0.15">b</text>
<rect x="10.7" y="221.4" width="235.8" height="117" fill="none" stroke="#666" stroke-width="0.8"/>
<line x1="9" y1="333.9" x2="10.7" y2="333.9" stroke="#666" stroke-width="0.6"/>
<text x="9.0" y="335.9" font-size="5.5" text-anchor="end" fill="#444" stroke="#444" stroke-width="0.15">0.0</text>
<line x1="9" y1="310.8" x2="10.7" y2="310.8" stroke="#666" stroke-width="0.6"/>
<text x="9.0" y="312.8" font-size="5.5" text-anchor="end" fill="#444" stroke="#444" stroke-width="0.15">0.5</text>
<line x1="9" y1="287.7" x2="10.7" y2="287.7" stroke="#666" stroke-width="0.6"/>
<text x="9.0" y="289.7" font-size="5.5" text-anchor="end" fill="#444" stroke="#444" stroke-width="0.15">1.0</text>
<line x1="9" y1="264.6" x2="10.7" y2="264.6" stroke="#666" stroke-width="0.6"/>
<text x="9.0" y="266.6" font-size="5.5" text-anchor="end" fill="#444" stroke="#444" stroke-width="0.15">1.5</text>
<line x1="9" y1="241.5" x2="10.7" y2="241.5" stroke="#666" stroke-width="0.6"/>
<text x="9.0" y="243.5" font-size="5.5" text-anchor="end" fill="#444" stroke="#444" stroke-width="0.15">2.0</text>
<line x1="23.1" y1="338.4" x2="23.1" y2="340.2" stroke="#666" stroke-width="0.6"/>
<line x1="44.2" y1="338.4" x2="44.2" y2="340.2" stroke="#666" stroke-width="0.6"/>
<line x1="65.4" y1="338.4" x2="65.4" y2="340.2" stroke="#666" stroke-width="0.6"/>
<line x1="86.5" y1="338.4" x2="86.5" y2="340.2" stroke="#666" stroke-width="0.6"/>
<line x1="107.7" y1="338.4" x2="107.7" y2="340.2" stroke="#666" stroke-width="0.6"/>
<line x1="128.8" y1="338.4" x2="128.8" y2="340.2" stroke="#666" stroke-width="0.6"/>
<line x1="150.0" y1="338.4" x2="150.0" y2="340.2" stroke="#666" stroke-width="0.6"/>
<line x1="171.1" y1="338.4" x2="171.1" y2="340.2" stroke="#666" stroke-width="0.6"/>
<line x1="192.3" y1="338.4" x2="192.3" y2="340.2" stroke="#666" stroke-width="0.6"/>
<line x1="213.4" y1="338.4" x2="213.4" y2="340.2" stroke="#666" stroke-width="0.6"/>
<line x1="234.6" y1="338.4" x2="234.6" y2="340.2" stroke="#666" stroke-width="0.6"/>
<line x1="75.8" y1="221.4" x2="75.8" y2="338.4" stroke="#444" stroke-width="0.6" stroke-dasharray="2,1.5"/>
<line x1="181.7" y1="221.4" x2="181.7" y2="338.4" stroke="#444" stroke-width="0.6" stroke-dasharray="2,1.5"/>
<line x1="223.6" y1="221.4" x2="223.6" y2="229" stroke="#444" stroke-width="0.6"/>
<line x1="223.6" y1="243.8" x2="223.6" y2="338.4" stroke="#444" stroke-width="0.6" stroke-dasharray="2,1.5"/>
<line x1="23.10" y1="227" x2="23.10" y2="332.2" stroke="#333" stroke-width="0.55"/>
<path d="M23.10,227.00 L23.10,227.00 C23.10,229.17 23.52,237.33 23.10,240.00 C22.68,242.67 21.53,241.87 20.60,243.00 C19.67,244.13 18.42,245.47 17.50,246.80 C16.58,248.13 15.73,249.60 15.10,251.00 C14.47,252.40 13.93,253.95 13.70,255.20 C13.47,256.45 13.55,257.37 13.70,258.50 C13.85,259.63 14.23,260.88 14.60,262.00 C14.97,263.12 15.45,263.87 15.90,265.20 C16.35,266.53 16.88,268.32 17.30,270.00 C17.72,271.68 18.08,273.03 18.40,275.30 C18.72,277.57 18.93,280.82 19.20,283.60 C19.47,286.38 19.63,289.48 20.00,292.00 C20.37,294.52 20.97,296.47 21.40,298.70 C21.83,300.93 22.32,303.18 22.60,305.40 C22.88,307.62 23.02,307.53 23.10,312.00 C23.18,316.47 23.10,328.83 23.10,332.20 L23.10,332.20 Z" fill="#5b9bc9" stroke="#4a4a4a" stroke-width="0.35"/>
<path d="M23.10,227.00 L23.10,227.00 C23.10,229.17 22.90,237.27 23.10,240.00 C23.30,242.73 23.97,242.15 24.30,243.40 C24.63,244.65 24.83,246.10 25.10,247.50 C25.37,248.90 25.62,249.97 25.90,251.80 C26.18,253.63 26.60,255.98 26.80,258.50 C27.00,261.02 26.68,264.10 27.10,266.90 C27.52,269.70 28.65,272.52 29.30,275.30 C29.95,278.08 30.58,280.82 31.00,283.60 C31.42,286.38 31.72,289.77 31.80,292.00 C31.88,294.23 31.78,294.77 31.50,297.00 C31.22,299.23 30.67,302.60 30.10,305.40 C29.53,308.20 28.80,311.28 28.10,313.80 C27.40,316.32 26.53,318.55 25.90,320.50 C25.27,322.45 24.72,324.10 24.30,325.50 C23.88,326.90 23.60,327.78 23.40,328.90 C23.20,330.02 23.15,331.65 23.10,332.20 L23.10,332.20 Z" fill="#ef9b3e" stroke="#4a4a4a" stroke-width="0.35"/>
<line x1="44.25" y1="240.9" x2="44.25" y2="332.2" stroke="#333" stroke-width="0.55"/>
<path d="M44.25,240.90 L44.25,240.90 C44.25,243.00 45.03,250.57 44.25,253.50 C43.47,256.43 40.88,256.83 39.55,258.50 C38.22,260.17 37.00,261.77 36.25,263.50 C35.50,265.23 34.77,267.37 35.05,268.90 C35.33,270.43 36.78,271.37 37.95,272.70 C39.12,274.03 41.08,275.63 42.05,276.90 C43.02,278.17 43.38,279.12 43.75,280.30 C44.12,281.48 44.17,283.38 44.25,284.00 L44.25,284.00 Z" fill="#5b9bc9" stroke="#4a4a4a" stroke-width="0.35"/>
<path d="M44.25,240.90 L44.25,240.90 C44.33,243.28 44.33,251.98 44.75,255.20 C45.17,258.42 45.80,258.40 46.75,260.20 C47.70,262.00 49.33,263.77 50.45,266.00 C51.57,268.23 53.23,271.50 53.45,273.60 C53.67,275.70 52.53,276.93 51.75,278.60 C50.97,280.27 49.47,281.37 48.75,283.60 C48.03,285.83 47.87,289.20 47.45,292.00 C47.03,294.80 46.37,297.60 46.25,300.40 C46.13,303.20 46.53,306.02 46.75,308.80 C46.97,311.58 47.63,314.60 47.55,317.10 C47.47,319.60 46.72,321.83 46.25,323.80 C45.78,325.77 45.08,327.50 44.75,328.90 C44.42,330.30 44.33,331.65 44.25,332.20 L44.25,332.20 Z" fill="#ef9b3e" stroke="#4a4a4a" stroke-width="0.35"/>
<line x1="65.40" y1="227" x2="65.40" y2="332.2" stroke="#333" stroke-width="0.55"/>
<path d="M65.40,227.00 L65.40,227.00 C65.32,227.67 65.12,229.67 64.90,231.00 C64.68,232.33 64.93,233.77 64.10,235.00 C63.27,236.23 61.08,237.27 59.90,238.40 C58.72,239.53 57.57,240.68 57.00,241.80 C56.43,242.92 56.38,243.98 56.50,245.10 C56.62,246.22 57.55,247.38 57.70,248.50 C57.85,249.62 57.03,250.83 57.40,251.80 C57.77,252.77 58.85,253.18 59.90,254.30 C60.95,255.42 62.78,257.23 63.70,258.50 C64.62,259.77 65.12,261.33 65.40,261.90 L65.40,261.90 Z" fill="#5b9bc9" stroke="#4a4a4a" stroke-width="0.35"/>
<path d="M65.40,227.00 L65.40,227.00 C65.52,227.50 65.63,228.10 66.10,230.00 C66.57,231.90 67.20,235.60 68.20,238.40 C69.20,241.20 71.07,243.73 72.10,246.80 C73.13,249.87 74.12,254.02 74.40,256.80 C74.68,259.58 74.27,260.98 73.80,263.50 C73.33,266.02 72.38,269.38 71.60,271.90 C70.82,274.42 69.85,276.37 69.10,278.60 C68.35,280.83 67.55,283.35 67.10,285.30 C66.65,287.25 66.30,288.35 66.40,290.30 C66.50,292.25 67.30,294.77 67.70,297.00 C68.10,299.23 68.72,301.18 68.80,303.70 C68.88,306.22 68.48,309.30 68.20,312.10 C67.92,314.90 67.45,317.98 67.10,320.50 C66.75,323.02 66.38,325.25 66.10,327.20 C65.82,329.15 65.52,331.37 65.40,332.20 L65.40,332.20 Z" fill="#ef9b3e" stroke="#4a4a4a" stroke-width="0.35"/>
<line x1="86.55" y1="263.9" x2="86.55" y2="333.5" stroke="#333" stroke-width="0.55"/>
<path d="M86.55,263.90 L86.55,263.90 C86.43,265.18 86.43,269.37 85.85,271.60 C85.27,273.83 84.05,275.42 83.05,277.30 C82.05,279.18 80.43,281.03 79.85,282.90 C79.27,284.77 79.83,286.63 79.55,288.50 C79.27,290.37 78.57,292.00 78.15,294.10 C77.73,296.20 76.93,299.00 77.05,301.10 C77.17,303.20 78.08,304.83 78.85,306.70 C79.62,308.57 80.78,310.43 81.65,312.30 C82.52,314.17 83.47,315.80 84.05,317.90 C84.63,320.00 84.78,322.55 85.15,324.90 C85.52,327.25 86.02,330.57 86.25,332.00 C86.48,333.43 86.50,333.25 86.55,333.50 L86.55,333.50 Z" fill="#5b9bc9" stroke="#4a4a4a" stroke-width="0.35"/>
<path d="M86.55,313.00 L86.55,313.00 C86.73,313.12 87.13,313.12 87.65,313.70 C88.17,314.28 89.08,315.33 89.65,316.50 C90.22,317.67 90.40,319.53 91.05,320.70 C91.70,321.87 92.78,322.60 93.55,323.50 C94.32,324.40 95.88,325.15 95.65,326.10 C95.42,327.05 93.43,328.22 92.15,329.20 C90.87,330.18 88.88,331.30 87.95,332.00 C87.02,332.70 86.78,333.17 86.55,333.40 L86.55,333.40 Z" fill="#ef9b3e" stroke="#4a4a4a" stroke-width="0.35"/>
<line x1="107.70" y1="256.9" x2="107.70" y2="333.4" stroke="#333" stroke-width="0.55"/>
<path d="M107.70,256.90 L107.70,256.90 C107.58,257.95 107.82,261.45 107.00,263.20 C106.18,264.95 104.08,266.12 102.80,267.40 C101.52,268.68 100.07,269.72 99.30,270.90 C98.53,272.08 98.15,272.97 98.20,274.50 C98.25,276.03 99.00,278.23 99.60,280.10 C100.20,281.97 101.57,283.83 101.80,285.70 C102.03,287.57 101.53,289.20 101.00,291.30 C100.47,293.40 99.07,296.20 98.60,298.30 C98.13,300.40 97.85,302.03 98.20,303.90 C98.55,305.77 99.82,307.63 100.70,309.50 C101.58,311.37 102.68,313.00 103.50,315.10 C104.32,317.20 105.02,319.75 105.60,322.10 C106.18,324.45 106.65,327.32 107.00,329.20 C107.35,331.08 107.58,332.70 107.70,333.40 L107.70,333.40 Z" fill="#5b9bc9" stroke="#4a4a4a" stroke-width="0.35"/>
<path d="M107.70,310.20 L107.70,310.20 C107.93,310.43 108.17,310.90 109.10,311.60 C110.03,312.30 112.02,313.53 113.30,314.40 C114.58,315.27 116.80,316.10 116.80,316.80 C116.80,317.50 114.30,317.95 113.30,318.60 C112.30,319.25 111.50,319.65 110.80,320.70 C110.10,321.75 109.50,323.25 109.10,324.90 C108.70,326.55 108.63,329.18 108.40,330.60 C108.17,332.02 107.82,332.93 107.70,333.40 L107.70,333.40 Z" fill="#ef9b3e" stroke="#4a4a4a" stroke-width="0.35"/>
<line x1="128.85" y1="246.6" x2="128.85" y2="323.5" stroke="#333" stroke-width="0.55"/>
<path d="M128.85,246.60 L128.85,246.60 C128.78,249.20 128.82,259.00 128.45,262.20 C128.08,265.40 127.65,264.58 126.65,265.80 C125.65,267.02 123.32,268.02 122.45,269.50 C121.58,270.98 121.93,272.97 121.45,274.70 C120.97,276.43 119.30,278.30 119.55,279.90 C119.80,281.50 121.82,282.83 122.95,284.30 C124.08,285.77 125.53,287.47 126.35,288.70 C127.17,289.93 127.50,289.97 127.85,291.70 C128.20,293.43 128.28,296.88 128.45,299.10 C128.62,301.32 128.78,304.02 128.85,305.00 L128.85,305.00 Z" fill="#5b9bc9" stroke="#4a4a4a" stroke-width="0.35"/>
<path d="M128.85,305.70 L128.85,305.70 C129.22,306.07 130.07,307.03 131.05,307.90 C132.03,308.77 133.57,309.98 134.75,310.90 C135.93,311.82 138.15,312.67 138.15,313.40 C138.15,314.13 135.80,314.48 134.75,315.30 C133.70,316.12 132.72,317.32 131.85,318.30 C130.98,319.28 130.05,320.33 129.55,321.20 C129.05,322.07 128.97,323.12 128.85,323.50 L128.85,323.50 Z" fill="#ef9b3e" stroke="#4a4a4a" stroke-width="0.35"/>
<line x1="150.00" y1="291.7" x2="150.00" y2="333.5" stroke="#333" stroke-width="0.55"/>
<path d="M150.00,291.70 L150.00,291.70 C149.97,292.97 150.17,297.65 149.80,299.30 C149.43,300.95 148.60,300.68 147.80,301.60 C147.00,302.52 146.02,303.60 145.00,304.80 C143.98,306.00 142.33,307.75 141.70,308.80 C141.07,309.85 141.10,310.32 141.20,311.10 C141.30,311.88 142.38,312.57 142.30,313.50 C142.22,314.43 140.92,315.65 140.70,316.70 C140.48,317.75 140.48,318.75 141.00,319.80 C141.52,320.85 142.83,321.93 143.80,323.00 C144.77,324.07 146.07,325.15 146.80,326.20 C147.53,327.25 147.80,328.25 148.20,329.30 C148.60,330.35 148.90,331.80 149.20,332.50 C149.50,333.20 149.87,333.33 150.00,333.50 L150.00,333.50 Z" fill="#5b9bc9" stroke="#4a4a4a" stroke-width="0.35"/>
<path d="M150.00,322.20 L150.00,322.20 C150.22,322.47 150.55,323.20 151.30,323.80 C152.05,324.40 153.63,325.27 154.50,325.80 C155.37,326.33 156.03,326.55 156.50,327.00 C156.97,327.45 156.97,327.98 157.30,328.50 C157.63,329.02 158.13,329.63 158.50,330.10 C158.87,330.57 159.70,330.90 159.50,331.30 C159.30,331.70 158.73,332.17 157.30,332.50 C155.87,332.83 152.12,333.13 150.90,333.30 C149.68,333.47 150.15,333.47 150.00,333.50 L150.00,333.50 Z" fill="#ef9b3e" stroke="#4a4a4a" stroke-width="0.35"/>
<line x1="171.15" y1="231.8" x2="171.15" y2="323.1" stroke="#333" stroke-width="0.55"/>
<path d="M171.15,231.80 L171.15,231.80 C171.07,233.32 171.10,238.75 170.65,240.90 C170.20,243.05 169.40,243.30 168.45,244.70 C167.50,246.10 165.72,247.77 164.95,249.30 C164.18,250.83 164.17,252.38 163.85,253.90 C163.53,255.42 163.38,257.02 163.05,258.40 C162.72,259.78 161.53,260.67 161.85,262.20 C162.17,263.73 163.85,265.68 164.95,267.60 C166.05,269.52 167.55,271.93 168.45,273.70 C169.35,275.47 169.90,276.68 170.35,278.20 C170.80,279.72 171.02,282.03 171.15,282.80 L171.15,282.80 Z" fill="#5b9bc9" stroke="#4a4a4a" stroke-width="0.35"/>
<path d="M171.15,302.60 L171.15,302.60 C171.45,302.85 172.07,303.47 172.95,304.10 C173.83,304.73 175.62,305.77 176.45,306.40 C177.28,307.03 177.58,307.27 177.95,307.90 C178.32,308.53 178.72,309.43 178.65,310.20 C178.58,310.97 177.15,311.62 177.55,312.50 C177.95,313.38 181.05,314.62 181.05,315.50 C181.05,316.38 178.77,317.03 177.55,317.80 C176.33,318.57 174.68,319.47 173.75,320.10 C172.82,320.73 172.38,321.10 171.95,321.60 C171.52,322.10 171.28,322.85 171.15,323.10 L171.15,323.10 Z" fill="#ef9b3e" stroke="#4a4a4a" stroke-width="0.35"/>
<line x1="192.30" y1="298.2" x2="192.30" y2="333.5" stroke="#333" stroke-width="0.55"/>
<path d="M192.30,320.80 L192.30,320.80 C191.70,321.10 189.90,322.00 188.70,322.60 C187.50,323.20 185.98,323.87 185.10,324.40 C184.22,324.93 183.52,325.22 183.40,325.80 C183.28,326.38 183.75,327.18 184.40,327.90 C185.05,328.62 186.33,329.43 187.30,330.10 C188.27,330.77 189.38,331.37 190.20,331.90 C191.02,332.43 191.85,333.03 192.20,333.30 C192.55,333.57 192.28,333.47 192.30,333.50 L192.30,333.50 Z" fill="#5b9bc9" stroke="#4a4a4a" stroke-width="0.35"/>
<path d="M192.30,298.20 L192.30,298.20 C192.37,298.98 192.40,301.88 192.70,302.90 C193.00,303.92 193.33,303.70 194.10,304.30 C194.87,304.90 196.32,305.78 197.30,306.50 C198.28,307.22 199.25,307.95 200.00,308.60 C200.75,309.25 201.80,309.80 201.80,310.40 C201.80,311.00 200.53,311.55 200.00,312.20 C199.47,312.85 198.53,313.47 198.60,314.30 C198.67,315.13 200.03,316.23 200.40,317.20 C200.77,318.17 200.80,319.15 200.80,320.10 C200.80,321.05 200.98,322.07 200.40,322.90 C199.82,323.73 198.30,324.38 197.30,325.10 C196.30,325.82 195.12,326.48 194.40,327.20 C193.68,327.92 193.35,328.80 193.00,329.40 C192.65,330.00 192.42,330.57 192.30,330.80 L192.30,330.80 Z" fill="#ef9b3e" stroke="#4a4a4a" stroke-width="0.35"/>
<line x1="213.45" y1="244.4" x2="213.45" y2="333.4" stroke="#333" stroke-width="0.55"/>
<path d="M213.45,316.80 L213.45,316.80 C213.03,317.42 211.98,319.27 210.95,320.50 C209.92,321.73 208.37,322.97 207.25,324.20 C206.13,325.43 204.37,326.92 204.25,327.90 C204.13,328.88 205.43,329.37 206.55,330.10 C207.67,330.83 209.80,331.75 210.95,332.30 C212.10,332.85 213.03,333.22 213.45,333.40 L213.45,333.40 Z" fill="#5b9bc9" stroke="#4a4a4a" stroke-width="0.35"/>
<path d="M213.45,244.40 L213.45,244.40 C213.57,244.47 213.83,244.05 214.15,244.80 C214.47,245.55 214.83,247.23 215.35,248.90 C215.87,250.57 216.88,252.83 217.25,254.80 C217.62,256.77 217.68,258.73 217.55,260.70 C217.42,262.67 216.57,264.63 216.45,266.60 C216.33,268.57 216.42,270.03 216.85,272.50 C217.28,274.97 218.43,278.45 219.05,281.40 C219.67,284.35 220.10,287.25 220.55,290.20 C221.00,293.15 221.45,296.38 221.75,299.10 C222.05,301.82 222.43,304.03 222.35,306.50 C222.27,308.97 221.80,311.68 221.25,313.90 C220.70,316.12 219.78,317.83 219.05,319.80 C218.32,321.77 217.58,323.98 216.85,325.70 C216.12,327.42 215.22,328.87 214.65,330.10 C214.08,331.33 213.65,332.60 213.45,333.10 L213.45,333.10 Z" fill="#ef9b3e" stroke="#4a4a4a" stroke-width="0.35"/>
<line x1="234.60" y1="323" x2="234.60" y2="333.6" stroke="#333" stroke-width="0.55"/>
<path d="M234.60,330.00 L234.60,330.00 C234.43,330.17 234.60,330.58 233.60,331.00 C232.60,331.42 229.93,332.12 228.60,332.50 C227.27,332.88 224.60,333.12 225.60,333.30 C226.60,333.48 233.10,333.55 234.60,333.60 L234.60,333.60 Z" fill="#5b9bc9" stroke="#4a4a4a" stroke-width="0.35"/>
<path d="M234.60,323.00 L234.60,323.00 C234.65,323.67 234.65,326.12 234.90,327.00 C235.15,327.88 235.48,327.80 236.10,328.30 C236.72,328.80 237.52,329.38 238.60,330.00 C239.68,330.62 241.68,331.45 242.60,332.00 C243.52,332.55 245.43,333.03 244.10,333.30 C242.77,333.57 236.18,333.55 234.60,333.60 L234.60,333.60 Z" fill="#ef9b3e" stroke="#4a4a4a" stroke-width="0.35"/>
<path d="M223.60,229.20 L223.60,229.20 C223.13,229.58 221.67,230.70 220.80,231.50 C219.93,232.30 218.93,233.18 218.40,234.00 C217.87,234.82 217.57,235.57 217.60,236.40 C217.63,237.23 218.07,238.15 218.60,239.00 C219.13,239.85 219.97,240.73 220.80,241.50 C221.63,242.27 223.13,243.25 223.60,243.60 L223.60,243.60 Z" fill="#5b9bc9" stroke="#4a4a4a" stroke-width="0.35"/>
<path d="M223.60,229.20 L223.60,229.20 C224.07,229.58 225.53,230.70 226.40,231.50 C227.27,232.30 228.27,233.18 228.80,234.00 C229.33,234.82 229.63,235.57 229.60,236.40 C229.57,237.23 229.13,238.15 228.60,239.00 C228.07,239.85 227.23,240.73 226.40,241.50 C225.57,242.27 224.07,243.25 223.60,243.60 L223.60,243.60 Z" fill="#ef9b3e" stroke="#4a4a4a" stroke-width="0.35"/>
<text x="213.3" y="245" font-size="6.6" text-anchor="start" fill="#222" transform="rotate(-90 213.3 245)" stroke="#222" stroke-width="0.15">Tγδ1</text>
<text x="236.7" y="247.5" font-size="6.6" text-anchor="start" fill="#222" transform="rotate(-90 236.7 247.5)" stroke="#222" stroke-width="0.15">Tγδ17</text>
<text x="28.1" y="344.7" font-size="10.2" text-anchor="end" fill="#000" transform="rotate(-45 28.1 344.7)" stroke="#000" stroke-width="0.22">TRDC</text>
<text x="49.2" y="344.7" font-size="10.2" text-anchor="end" fill="#000" transform="rotate(-45 49.2 344.7)" stroke="#000" stroke-width="0.22">TRGC1</text>
<text x="70.4" y="344.7" font-size="10.2" text-anchor="end" fill="#000" transform="rotate(-45 70.4 344.7)" stroke="#000" stroke-width="0.22">TRGC2</text>
<text x="91.5" y="344.7" font-size="10.2" text-anchor="end" fill="#000" transform="rotate(-45 91.5 344.7)" stroke="#000" stroke-width="0.22">IFNG</text>
<text x="112.7" y="344.7" font-size="10.2" text-anchor="end" fill="#000" transform="rotate(-45 112.7 344.7)" stroke="#000" stroke-width="0.22">CD27</text>
<text x="133.8" y="344.7" font-size="10.2" text-anchor="end" fill="#000" transform="rotate(-45 133.8 344.7)" stroke="#000" stroke-width="0.22">IL2RB</text>
<text x="155.0" y="344.7" font-size="10.2" text-anchor="end" fill="#000" transform="rotate(-45 155.0 344.7)" stroke="#000" stroke-width="0.22">EOMES</text>
<text x="176.1" y="344.7" font-size="10.2" text-anchor="end" fill="#000" transform="rotate(-45 176.1 344.7)" stroke="#000" stroke-width="0.22">CD69</text>
<text x="197.3" y="344.7" font-size="10.2" text-anchor="end" fill="#000" transform="rotate(-45 197.3 344.7)" stroke="#000" stroke-width="0.22">IL17A</text>
<text x="218.4" y="344.7" font-size="10.2" text-anchor="end" fill="#000" transform="rotate(-45 218.4 344.7)" stroke="#000" stroke-width="0.22">IL2RA</text>
<text x="239.6" y="344.7" font-size="10.2" text-anchor="end" fill="#000" transform="rotate(-45 239.6 344.7)" stroke="#000" stroke-width="0.22">PDCD1LG2</text>
<line x1="6.1" y1="371.5" x2="52.2" y2="371.5" stroke="#222" stroke-width="0.7"/>
<text x="26.6" y="381" font-size="8.8" text-anchor="middle" fill="#111" stroke="#111" stroke-width="0.15">Tγδ</text>
<line x1="70.2" y1="371.5" x2="161.9" y2="371.5" stroke="#222" stroke-width="0.7"/>
<text x="114.8" y="381" font-size="8.8" text-anchor="middle" fill="#111" stroke="#111" stroke-width="0.15">Tγδ1</text>
<line x1="166" y1="371.5" x2="197.3" y2="371.5" stroke="#222" stroke-width="0.7"/>
<text x="181.3" y="381" font-size="8.8" text-anchor="middle" fill="#111" stroke="#111" stroke-width="0.15">Tγδ17</text>
<text x="291.9" y="13.2" font-size="22.5" text-anchor="start" fill="#000" font-weight="bold" stroke="#000" stroke-width="0.15">c</text>
<path d="M331.75,54 L331.75,15.00 A39,39 0 1 1 298.69,33.31 Z" fill="#5b9bc6"/>
<path d="M331.75,54 L298.69,33.31 A39,39 0 0 1 331.75,15.00 Z" fill="#ef9b43"/>
<circle cx="331.75" cy="54" r="20" fill="#dcdcdc"/>
<text x="317.5" y="31.5" font-size="9.4" text-anchor="middle" fill="#3d4b57" transform="rotate(-29.0 317.5 28.2)" stroke="#3d4b57" stroke-width="0.15">16.1%</text>
<text x="345.6" y="82.2" font-size="9.4" text-anchor="middle" fill="#3d4b57" transform="rotate(-29.0 345.6 78.9)" stroke="#3d4b57" stroke-width="0.15">83.9%</text>
<text x="331.75" y="56.8" font-size="9.6" text-anchor="middle" fill="#111" stroke="#111" stroke-width="0.15">young</text>
<path d="M421.9,50 L421.90,10.75 A39.25,39.25 0 1 1 383.06,44.35 Z" fill="#5b9bc6"/>
<path d="M421.9,50 L383.06,44.35 A39.25,39.25 0 0 1 421.90,10.75 Z" fill="#ef9b43"/>
<circle cx="421.9" cy="50" r="20" fill="#dcdcdc"/>
<text x="402.6" y="31.0" font-size="9.4" text-anchor="middle" fill="#3d4b57" transform="rotate(-40.9 402.6 27.7)" stroke="#3d4b57" stroke-width="0.15">22.7%</text>
<text x="440.5" y="74.9" font-size="9.4" text-anchor="middle" fill="#3d4b57" transform="rotate(-40.9 440.5 71.6)" stroke="#3d4b57" stroke-width="0.15">77.3%</text>
<text x="421.9" y="52.9" font-size="9.6" text-anchor="middle" fill="#111" stroke="#111" stroke-width="0.15">old</text>
<rect x="459.1" y="15.2" width="5.9" height="5.8" fill="#5b9bc6"/>
<rect x="459.1" y="26.8" width="5.9" height="5.6" fill="#ef9b43"/>
<text x="467.8" y="22" font-size="8.3" text-anchor="start" fill="#111" stroke="#111" stroke-width="0.15">Tγδ1</text>
<text x="467.8" y="33.6" font-size="8.3" text-anchor="start" fill="#111" stroke="#111" stroke-width="0.15">Tγδ17</text>
<text x="292.0" y="118.9" font-size="22" text-anchor="start" fill="#000" font-weight="bold" stroke="#000" stroke-width="0.15">d</text>
<rect x="324.4" y="116" width="247.5" height="52.4" fill="none" stroke="#bdbdbd" stroke-width="0.9"/>
<line x1="338.8" y1="116" x2="338.8" y2="168.4" stroke="#cacaca" stroke-width="0.55" stroke-dasharray="2,2.2"/>
<line x1="338.8" y1="168.4" x2="338.8" y2="169.9" stroke="#888" stroke-width="0.5"/>
<text x="342.0" y="173.7" font-size="6.8" text-anchor="end" fill="#222" transform="rotate(-45 342.0 173.7)" stroke="#222" stroke-width="0.15">29</text>
<line x1="350.1" y1="116" x2="350.1" y2="168.4" stroke="#cacaca" stroke-width="0.55" stroke-dasharray="2,2.2"/>
<line x1="350.1" y1="168.4" x2="350.1" y2="169.9" stroke="#888" stroke-width="0.5"/>
<text x="353.3" y="173.7" font-size="6.8" text-anchor="end" fill="#222" transform="rotate(-45 353.3 173.7)" stroke="#222" stroke-width="0.15">33</text>
<line x1="361.4" y1="116" x2="361.4" y2="168.4" stroke="#cacaca" stroke-width="0.55" stroke-dasharray="2,2.2"/>
<line x1="361.4" y1="168.4" x2="361.4" y2="169.9" stroke="#888" stroke-width="0.5"/>
<text x="364.6" y="173.7" font-size="6.8" text-anchor="end" fill="#222" transform="rotate(-45 364.6 173.7)" stroke="#222" stroke-width="0.15">48</text>
<line x1="372.7" y1="116" x2="372.7" y2="168.4" stroke="#cacaca" stroke-width="0.55" stroke-dasharray="2,2.2"/>
<line x1="372.7" y1="168.4" x2="372.7" y2="169.9" stroke="#888" stroke-width="0.5"/>
<text x="375.9" y="173.7" font-size="6.8" text-anchor="end" fill="#222" transform="rotate(-45 375.9 173.7)" stroke="#222" stroke-width="0.15">49</text>
<line x1="384.0" y1="116" x2="384.0" y2="168.4" stroke="#cacaca" stroke-width="0.55" stroke-dasharray="2,2.2"/>
<line x1="384.0" y1="168.4" x2="384.0" y2="169.9" stroke="#888" stroke-width="0.5"/>
<text x="387.2" y="173.7" font-size="6.8" text-anchor="end" fill="#222" transform="rotate(-45 387.2 173.7)" stroke="#222" stroke-width="0.15">52</text>
<line x1="395.2" y1="116" x2="395.2" y2="168.4" stroke="#cacaca" stroke-width="0.55" stroke-dasharray="2,2.2"/>
<line x1="395.2" y1="168.4" x2="395.2" y2="169.9" stroke="#888" stroke-width="0.5"/>
<text x="398.4" y="173.7" font-size="6.8" text-anchor="end" fill="#222" transform="rotate(-45 398.4 173.7)" stroke="#222" stroke-width="0.15">53</text>
<line x1="406.5" y1="116" x2="406.5" y2="168.4" stroke="#cacaca" stroke-width="0.55" stroke-dasharray="2,2.2"/>
<line x1="406.5" y1="168.4" x2="406.5" y2="169.9" stroke="#888" stroke-width="0.5"/>
<text x="409.7" y="173.7" font-size="6.8" text-anchor="end" fill="#222" transform="rotate(-45 409.7 173.7)" stroke="#222" stroke-width="0.15">56</text>
<line x1="417.8" y1="116" x2="417.8" y2="168.4" stroke="#cacaca" stroke-width="0.55" stroke-dasharray="2,2.2"/>
<line x1="417.8" y1="168.4" x2="417.8" y2="169.9" stroke="#888" stroke-width="0.5"/>
<text x="421.0" y="173.7" font-size="6.8" text-anchor="end" fill="#222" transform="rotate(-45 421.0 173.7)" stroke="#222" stroke-width="0.15">60</text>
<line x1="429.1" y1="116" x2="429.1" y2="168.4" stroke="#cacaca" stroke-width="0.55" stroke-dasharray="2,2.2"/>
<line x1="429.1" y1="168.4" x2="429.1" y2="169.9" stroke="#888" stroke-width="0.5"/>
<text x="432.3" y="173.7" font-size="6.8" text-anchor="end" fill="#222" transform="rotate(-45 432.3 173.7)" stroke="#222" stroke-width="0.15">62</text>
<line x1="440.4" y1="116" x2="440.4" y2="168.4" stroke="#cacaca" stroke-width="0.55" stroke-dasharray="2,2.2"/>
<line x1="440.4" y1="168.4" x2="440.4" y2="169.9" stroke="#888" stroke-width="0.5"/>
<text x="443.6" y="173.7" font-size="6.8" text-anchor="end" fill="#222" transform="rotate(-45 443.6 173.7)" stroke="#222" stroke-width="0.15">64</text>
<line x1="451.7" y1="116" x2="451.7" y2="168.4" stroke="#cacaca" stroke-width="0.55" stroke-dasharray="2,2.2"/>
<line x1="451.7" y1="168.4" x2="451.7" y2="169.9" stroke="#888" stroke-width="0.5"/>
<text x="454.9" y="173.7" font-size="6.8" text-anchor="end" fill="#222" transform="rotate(-45 454.9 173.7)" stroke="#222" stroke-width="0.15">65</text>
<line x1="463.0" y1="116" x2="463.0" y2="168.4" stroke="#cacaca" stroke-width="0.55" stroke-dasharray="2,2.2"/>
<line x1="463.0" y1="168.4" x2="463.0" y2="169.9" stroke="#888" stroke-width="0.5"/>
<text x="466.2" y="173.7" font-size="6.8" text-anchor="end" fill="#222" transform="rotate(-45 466.2 173.7)" stroke="#222" stroke-width="0.15">66</text>
<line x1="474.3" y1="116" x2="474.3" y2="168.4" stroke="#cacaca" stroke-width="0.55" stroke-dasharray="2,2.2"/>
<line x1="474.3" y1="168.4" x2="474.3" y2="169.9" stroke="#888" stroke-width="0.5"/>
<text x="477.5" y="173.7" font-size="6.8" text-anchor="end" fill="#222" transform="rotate(-45 477.5 173.7)" stroke="#222" stroke-width="0.15">67</text>
<line x1="485.6" y1="116" x2="485.6" y2="168.4" stroke="#cacaca" stroke-width="0.55" stroke-dasharray="2,2.2"/>
<line x1="485.6" y1="168.4" x2="485.6" y2="169.9" stroke="#888" stroke-width="0.5"/>
<text x="488.8" y="173.7" font-size="6.8" text-anchor="end" fill="#222" transform="rotate(-45 488.8 173.7)" stroke="#222" stroke-width="0.15">68</text>
<line x1="496.9" y1="116" x2="496.9" y2="168.4" stroke="#cacaca" stroke-width="0.55" stroke-dasharray="2,2.2"/>
<line x1="496.9" y1="168.4" x2="496.9" y2="169.9" stroke="#888" stroke-width="0.5"/>
<text x="500.1" y="173.7" font-size="6.8" text-anchor="end" fill="#222" transform="rotate(-45 500.1 173.7)" stroke="#222" stroke-width="0.15">70</text>
<line x1="508.1" y1="116" x2="508.1" y2="168.4" stroke="#cacaca" stroke-width="0.55" stroke-dasharray="2,2.2"/>
<line x1="508.1" y1="168.4" x2="508.1" y2="169.9" stroke="#888" stroke-width="0.5"/>
<text x="511.3" y="173.7" font-size="6.8" text-anchor="end" fill="#222" transform="rotate(-45 511.3 173.7)" stroke="#222" stroke-width="0.15">72</text>
<line x1="519.4" y1="116" x2="519.4" y2="168.4" stroke="#cacaca" stroke-width="0.55" stroke-dasharray="2,2.2"/>
<line x1="519.4" y1="168.4" x2="519.4" y2="169.9" stroke="#888" stroke-width="0.5"/>
<text x="522.6" y="173.7" font-size="6.8" text-anchor="end" fill="#222" transform="rotate(-45 522.6 173.7)" stroke="#222" stroke-width="0.15">73</text>
<line x1="530.7" y1="116" x2="530.7" y2="168.4" stroke="#cacaca" stroke-width="0.55" stroke-dasharray="2,2.2"/>
<line x1="530.7" y1="168.4" x2="530.7" y2="169.9" stroke="#888" stroke-width="0.5"/>
<text x="533.9" y="173.7" font-size="6.8" text-anchor="end" fill="#222" transform="rotate(-45 533.9 173.7)" stroke="#222" stroke-width="0.15">74</text>
<line x1="542.0" y1="116" x2="542.0" y2="168.4" stroke="#cacaca" stroke-width="0.55" stroke-dasharray="2,2.2"/>
<line x1="542.0" y1="168.4" x2="542.0" y2="169.9" stroke="#888" stroke-width="0.5"/>
<text x="545.2" y="173.7" font-size="6.8" text-anchor="end" fill="#222" transform="rotate(-45 545.2 173.7)" stroke="#222" stroke-width="0.15">75</text>
<line x1="553.3" y1="116" x2="553.3" y2="168.4" stroke="#cacaca" stroke-width="0.55" stroke-dasharray="2,2.2"/>
<line x1="553.3" y1="168.4" x2="553.3" y2="169.9" stroke="#888" stroke-width="0.5"/>
<text x="556.5" y="173.7" font-size="6.8" text-anchor="end" fill="#222" transform="rotate(-45 556.5 173.7)" stroke="#222" stroke-width="0.15">79</text>
<line x1="564.6" y1="116" x2="564.6" y2="168.4" stroke="#cacaca" stroke-width="0.55" stroke-dasharray="2,2.2"/>
<line x1="564.6" y1="168.4" x2="564.6" y2="169.9" stroke="#888" stroke-width="0.5"/>
<text x="567.8" y="173.7" font-size="6.8" text-anchor="end" fill="#222" transform="rotate(-45 567.8 173.7)" stroke="#222" stroke-width="0.15">83</text>
<line x1="324.4" y1="129.3" x2="571.9" y2="129.3" stroke="#cacaca" stroke-width="0.55" stroke-dasharray="2,2.2"/>
<line x1="324.4" y1="151.9" x2="571.9" y2="151.9" stroke="#cacaca" stroke-width="0.55" stroke-dasharray="2,2.2"/>
<line x1="322.4" y1="129.3" x2="324.4" y2="129.3" stroke="#555" stroke-width="0.6"/>
<text x="320.4" y="132.2" font-size="8.6" text-anchor="end" fill="#000" stroke="#000" stroke-width="0.25">Tγδ1</text>
<line x1="322.4" y1="151.9" x2="324.4" y2="151.9" stroke="#555" stroke-width="0.6"/>
<text x="320.4" y="154.8" font-size="8.6" text-anchor="end" fill="#000" stroke="#000" stroke-width="0.25">Tγδ17</text>
<circle cx="338.8" cy="129.3" r="5.2" fill="#c3d5ea" stroke="#555" stroke-width="0.5"/>
<circle cx="350.1" cy="129.3" r="5.2" fill="#dae5f1" stroke="#555" stroke-width="0.5"/>
<circle cx="361.4" cy="129.3" r="5.9" fill="#afc7e3" stroke="#555" stroke-width="0.5"/>
<circle cx="372.7" cy="129.3" r="5.5" fill="#b3cae4" stroke="#555" stroke-width="0.5"/>
<circle cx="384.0" cy="129.3" r="5.3" fill="#c3d5ea" stroke="#555" stroke-width="0.5"/>
<circle cx="395.2" cy="129.3" r="2.4" fill="#e3ebf5" stroke="#555" stroke-width="0.5"/>
<circle cx="406.5" cy="129.3" r="5.5" fill="#d9e4f1" stroke="#555" stroke-width="0.5"/>
<circle cx="417.8" cy="129.3" r="5.7" fill="#b3cae4" stroke="#555" stroke-width="0.5"/>
<circle cx="429.1" cy="129.3" r="5.4" fill="#cfdded" stroke="#555" stroke-width="0.5"/>
<circle cx="440.4" cy="129.3" r="5.7" fill="#b6cbe5" stroke="#555" stroke-width="0.5"/>
<circle cx="451.7" cy="129.3" r="4.7" fill="#d8e3f0" stroke="#555" stroke-width="0.5"/>
<circle cx="463.0" cy="129.3" r="7.1" fill="#6f9bcb" stroke="#555" stroke-width="0.5"/>
<circle cx="474.3" cy="129.3" r="6.2" fill="#a7c1df" stroke="#555" stroke-width="0.5"/>
<circle cx="485.6" cy="129.3" r="5.0" fill="#d6e2f0" stroke="#555" stroke-width="0.5"/>
<circle cx="496.9" cy="129.3" r="3.6" fill="#e0e9f4" stroke="#555" stroke-width="0.5"/>
<circle cx="508.1" cy="129.3" r="5.4" fill="#bed1e8" stroke="#555" stroke-width="0.5"/>
<circle cx="519.4" cy="129.3" r="3.1" fill="#e1e9f4" stroke="#555" stroke-width="0.5"/>
<circle cx="530.7" cy="129.3" r="5.9" fill="#b2c8e4" stroke="#555" stroke-width="0.5"/>
<circle cx="542.0" cy="129.3" r="5.5" fill="#c5d6ea" stroke="#555" stroke-width="0.5"/>
<circle cx="553.3" cy="129.3" r="5.5" fill="#bccfe7" stroke="#555" stroke-width="0.5"/>
<circle cx="564.6" cy="129.3" r="6.1" fill="#b5cae5" stroke="#555" stroke-width="0.5"/>
<circle cx="338.8" cy="151.9" r="7.8" fill="#eea76b" stroke="#555" stroke-width="0.5"/>
<circle cx="350.1" cy="151.9" r="5.2" fill="#eda364" stroke="#555" stroke-width="0.5"/>
<circle cx="361.4" cy="151.9" r="6.9" fill="#eca365" stroke="#555" stroke-width="0.5"/>
<circle cx="372.7" cy="151.9" r="5.0" fill="#eda364" stroke="#555" stroke-width="0.5"/>
<circle cx="384.0" cy="151.9" r="5.5" fill="#eb9241" stroke="#555" stroke-width="0.5"/>
<circle cx="395.2" cy="151.9" r="6.2" fill="#f0b27c" stroke="#555" stroke-width="0.5"/>
<circle cx="417.8" cy="151.9" r="4.5" fill="#eda161" stroke="#555" stroke-width="0.5"/>
<circle cx="429.1" cy="151.9" r="5.7" fill="#ec9d5c" stroke="#555" stroke-width="0.5"/>
<circle cx="440.4" cy="151.9" r="7.6" fill="#eca266" stroke="#555" stroke-width="0.5"/>
<circle cx="451.7" cy="151.9" r="5.7" fill="#f1b783" stroke="#555" stroke-width="0.5"/>
<circle cx="463.0" cy="151.9" r="5.7" fill="#eda364" stroke="#555" stroke-width="0.5"/>
<circle cx="474.3" cy="151.9" r="6.4" fill="#eea76d" stroke="#555" stroke-width="0.5"/>
<circle cx="485.6" cy="151.9" r="6.2" fill="#efaa71" stroke="#555" stroke-width="0.5"/>
<circle cx="496.9" cy="151.9" r="4.7" fill="#eda161" stroke="#555" stroke-width="0.5"/>
<circle cx="508.1" cy="151.9" r="6.9" fill="#ec9b56" stroke="#555" stroke-width="0.5"/>
<circle cx="519.4" cy="151.9" r="6.2" fill="#ec9d5c" stroke="#555" stroke-width="0.5"/>
<circle cx="530.7" cy="151.9" r="7.6" fill="#eb964f" stroke="#555" stroke-width="0.5"/>
<circle cx="542.0" cy="151.9" r="4.5" fill="#ec9b5c" stroke="#555" stroke-width="0.5"/>
<circle cx="553.3" cy="151.9" r="6.9" fill="#eca161" stroke="#555" stroke-width="0.5"/>
<circle cx="564.6" cy="151.9" r="6.4" fill="#efad76" stroke="#555" stroke-width="0.5"/>
<rect x="586.1" y="125" width="5.1" height="34.3" fill="url(#go1)"/>
<text x="593" y="127.4" font-size="5.4" text-anchor="start" fill="#222" stroke="#222" stroke-width="0.15">high</text>
<text x="593" y="161.7" font-size="5.4" text-anchor="start" fill="#222" stroke="#222" stroke-width="0.15">low</text>
<text x="582.1" y="160.9" font-size="4.7" text-anchor="start" fill="#222" transform="rotate(-90 582.1 160.9)" stroke="#222" stroke-width="0.15">IL17A expression</text>
<rect x="616.1" y="125" width="5.3" height="34.5" fill="url(#gb1)"/>
<text x="623.3" y="127.4" font-size="5.4" text-anchor="start" fill="#222" stroke="#222" stroke-width="0.15">high</text>
<text x="623.3" y="161.7" font-size="5.4" text-anchor="start" fill="#222" stroke="#222" stroke-width="0.15">low</text>
<text x="611.6" y="159.7" font-size="4.8" text-anchor="start" fill="#222" transform="rotate(-90 611.6 159.7)" stroke="#222" stroke-width="0.15">IFNG expression</text>
<text x="645.2" y="139.2" font-size="7.9" text-anchor="middle" fill="#111" transform="rotate(-90 645.2 139.2)" stroke="#111" stroke-width="0.15">percent (%)</text>
<circle cx="659.8" cy="120.4" r="2.7" fill="#e6e6e6" stroke="#777" stroke-width="0.45"/>
<text x="670.6" y="123.2" font-size="7.6" text-anchor="start" fill="#111" stroke="#111" stroke-width="0.15">0</text>
<circle cx="659.8" cy="136.2" r="6.5" fill="#e6e6e6" stroke="#777" stroke-width="0.45"/>
<text x="670.6" y="139.9" font-size="7.6" text-anchor="start" fill="#111" stroke="#111" stroke-width="0.15">50</text>
<circle cx="659.8" cy="158.9" r="9.2" fill="#e6e6e6" stroke="#777" stroke-width="0.45"/>
<text x="670.6" y="161.8" font-size="7.6" text-anchor="start" fill="#111" stroke="#111" stroke-width="0.15">100</text>
<text x="292.0" y="216.5" font-size="23" text-anchor="start" fill="#000" font-weight="bold" stroke="#000" stroke-width="0.15">e</text>
<rect x="342.5" y="205.3" width="246.7" height="52.5" fill="none" stroke="#bdbdbd" stroke-width="0.9"/>
<line x1="356.6" y1="205.3" x2="356.6" y2="257.8" stroke="#cacaca" stroke-width="0.55" stroke-dasharray="2,2.2"/>
<line x1="356.6" y1="257.8" x2="356.6" y2="259.3" stroke="#888" stroke-width="0.5"/>
<text x="359.8" y="263.1" font-size="6.8" text-anchor="end" fill="#222" transform="rotate(-45 359.8 263.1)" stroke="#222" stroke-width="0.15">29</text>
<line x1="367.9" y1="205.3" x2="367.9" y2="257.8" stroke="#cacaca" stroke-width="0.55" stroke-dasharray="2,2.2"/>
<line x1="367.9" y1="257.8" x2="367.9" y2="259.3" stroke="#888" stroke-width="0.5"/>
<text x="371.1" y="263.1" font-size="6.8" text-anchor="end" fill="#222" transform="rotate(-45 371.1 263.1)" stroke="#222" stroke-width="0.15">33</text>
<line x1="379.2" y1="205.3" x2="379.2" y2="257.8" stroke="#cacaca" stroke-width="0.55" stroke-dasharray="2,2.2"/>
<line x1="379.2" y1="257.8" x2="379.2" y2="259.3" stroke="#888" stroke-width="0.5"/>
<text x="382.4" y="263.1" font-size="6.8" text-anchor="end" fill="#222" transform="rotate(-45 382.4 263.1)" stroke="#222" stroke-width="0.15">48</text>
<line x1="390.5" y1="205.3" x2="390.5" y2="257.8" stroke="#cacaca" stroke-width="0.55" stroke-dasharray="2,2.2"/>
<line x1="390.5" y1="257.8" x2="390.5" y2="259.3" stroke="#888" stroke-width="0.5"/>
<text x="393.7" y="263.1" font-size="6.8" text-anchor="end" fill="#222" transform="rotate(-45 393.7 263.1)" stroke="#222" stroke-width="0.15">49</text>
<line x1="401.8" y1="205.3" x2="401.8" y2="257.8" stroke="#cacaca" stroke-width="0.55" stroke-dasharray="2,2.2"/>
<line x1="401.8" y1="257.8" x2="401.8" y2="259.3" stroke="#888" stroke-width="0.5"/>
<text x="405.0" y="263.1" font-size="6.8" text-anchor="end" fill="#222" transform="rotate(-45 405.0 263.1)" stroke="#222" stroke-width="0.15">52</text>
<line x1="413.1" y1="205.3" x2="413.1" y2="257.8" stroke="#cacaca" stroke-width="0.55" stroke-dasharray="2,2.2"/>
<line x1="413.1" y1="257.8" x2="413.1" y2="259.3" stroke="#888" stroke-width="0.5"/>
<text x="416.3" y="263.1" font-size="6.8" text-anchor="end" fill="#222" transform="rotate(-45 416.3 263.1)" stroke="#222" stroke-width="0.15">53</text>
<line x1="424.4" y1="205.3" x2="424.4" y2="257.8" stroke="#cacaca" stroke-width="0.55" stroke-dasharray="2,2.2"/>
<line x1="424.4" y1="257.8" x2="424.4" y2="259.3" stroke="#888" stroke-width="0.5"/>
<text x="427.6" y="263.1" font-size="6.8" text-anchor="end" fill="#222" transform="rotate(-45 427.6 263.1)" stroke="#222" stroke-width="0.15">56</text>
<line x1="435.7" y1="205.3" x2="435.7" y2="257.8" stroke="#cacaca" stroke-width="0.55" stroke-dasharray="2,2.2"/>
<line x1="435.7" y1="257.8" x2="435.7" y2="259.3" stroke="#888" stroke-width="0.5"/>
<text x="438.9" y="263.1" font-size="6.8" text-anchor="end" fill="#222" transform="rotate(-45 438.9 263.1)" stroke="#222" stroke-width="0.15">60</text>
<line x1="447.0" y1="205.3" x2="447.0" y2="257.8" stroke="#cacaca" stroke-width="0.55" stroke-dasharray="2,2.2"/>
<line x1="447.0" y1="257.8" x2="447.0" y2="259.3" stroke="#888" stroke-width="0.5"/>
<text x="450.2" y="263.1" font-size="6.8" text-anchor="end" fill="#222" transform="rotate(-45 450.2 263.1)" stroke="#222" stroke-width="0.15">62</text>
<line x1="458.3" y1="205.3" x2="458.3" y2="257.8" stroke="#cacaca" stroke-width="0.55" stroke-dasharray="2,2.2"/>
<line x1="458.3" y1="257.8" x2="458.3" y2="259.3" stroke="#888" stroke-width="0.5"/>
<text x="461.5" y="263.1" font-size="6.8" text-anchor="end" fill="#222" transform="rotate(-45 461.5 263.1)" stroke="#222" stroke-width="0.15">64</text>
<line x1="469.6" y1="205.3" x2="469.6" y2="257.8" stroke="#cacaca" stroke-width="0.55" stroke-dasharray="2,2.2"/>
<line x1="469.6" y1="257.8" x2="469.6" y2="259.3" stroke="#888" stroke-width="0.5"/>
<text x="472.8" y="263.1" font-size="6.8" text-anchor="end" fill="#222" transform="rotate(-45 472.8 263.1)" stroke="#222" stroke-width="0.15">65</text>
<line x1="480.9" y1="205.3" x2="480.9" y2="257.8" stroke="#cacaca" stroke-width="0.55" stroke-dasharray="2,2.2"/>
<line x1="480.9" y1="257.8" x2="480.9" y2="259.3" stroke="#888" stroke-width="0.5"/>
<text x="484.1" y="263.1" font-size="6.8" text-anchor="end" fill="#222" transform="rotate(-45 484.1 263.1)" stroke="#222" stroke-width="0.15">66</text>
<line x1="492.2" y1="205.3" x2="492.2" y2="257.8" stroke="#cacaca" stroke-width="0.55" stroke-dasharray="2,2.2"/>
<line x1="492.2" y1="257.8" x2="492.2" y2="259.3" stroke="#888" stroke-width="0.5"/>
<text x="495.4" y="263.1" font-size="6.8" text-anchor="end" fill="#222" transform="rotate(-45 495.4 263.1)" stroke="#222" stroke-width="0.15">67</text>
<line x1="503.5" y1="205.3" x2="503.5" y2="257.8" stroke="#cacaca" stroke-width="0.55" stroke-dasharray="2,2.2"/>
<line x1="503.5" y1="257.8" x2="503.5" y2="259.3" stroke="#888" stroke-width="0.5"/>
<text x="506.7" y="263.1" font-size="6.8" text-anchor="end" fill="#222" transform="rotate(-45 506.7 263.1)" stroke="#222" stroke-width="0.15">68</text>
<line x1="514.8" y1="205.3" x2="514.8" y2="257.8" stroke="#cacaca" stroke-width="0.55" stroke-dasharray="2,2.2"/>
<line x1="514.8" y1="257.8" x2="514.8" y2="259.3" stroke="#888" stroke-width="0.5"/>
<text x="518.0" y="263.1" font-size="6.8" text-anchor="end" fill="#222" transform="rotate(-45 518.0 263.1)" stroke="#222" stroke-width="0.15">70</text>
<line x1="526.1" y1="205.3" x2="526.1" y2="257.8" stroke="#cacaca" stroke-width="0.55" stroke-dasharray="2,2.2"/>
<line x1="526.1" y1="257.8" x2="526.1" y2="259.3" stroke="#888" stroke-width="0.5"/>
<text x="529.3" y="263.1" font-size="6.8" text-anchor="end" fill="#222" transform="rotate(-45 529.3 263.1)" stroke="#222" stroke-width="0.15">72</text>
<line x1="537.4" y1="205.3" x2="537.4" y2="257.8" stroke="#cacaca" stroke-width="0.55" stroke-dasharray="2,2.2"/>
<line x1="537.4" y1="257.8" x2="537.4" y2="259.3" stroke="#888" stroke-width="0.5"/>
<text x="540.6" y="263.1" font-size="6.8" text-anchor="end" fill="#222" transform="rotate(-45 540.6 263.1)" stroke="#222" stroke-width="0.15">73</text>
<line x1="548.7" y1="205.3" x2="548.7" y2="257.8" stroke="#cacaca" stroke-width="0.55" stroke-dasharray="2,2.2"/>
<line x1="548.7" y1="257.8" x2="548.7" y2="259.3" stroke="#888" stroke-width="0.5"/>
<text x="551.9" y="263.1" font-size="6.8" text-anchor="end" fill="#222" transform="rotate(-45 551.9 263.1)" stroke="#222" stroke-width="0.15">74</text>
<line x1="560.0" y1="205.3" x2="560.0" y2="257.8" stroke="#cacaca" stroke-width="0.55" stroke-dasharray="2,2.2"/>
<line x1="560.0" y1="257.8" x2="560.0" y2="259.3" stroke="#888" stroke-width="0.5"/>
<text x="563.2" y="263.1" font-size="6.8" text-anchor="end" fill="#222" transform="rotate(-45 563.2 263.1)" stroke="#222" stroke-width="0.15">75</text>
<line x1="571.3" y1="205.3" x2="571.3" y2="257.8" stroke="#cacaca" stroke-width="0.55" stroke-dasharray="2,2.2"/>
<line x1="571.3" y1="257.8" x2="571.3" y2="259.3" stroke="#888" stroke-width="0.5"/>
<text x="574.5" y="263.1" font-size="6.8" text-anchor="end" fill="#222" transform="rotate(-45 574.5 263.1)" stroke="#222" stroke-width="0.15">79</text>
<line x1="582.6" y1="205.3" x2="582.6" y2="257.8" stroke="#cacaca" stroke-width="0.55" stroke-dasharray="2,2.2"/>
<line x1="582.6" y1="257.8" x2="582.6" y2="259.3" stroke="#888" stroke-width="0.5"/>
<text x="585.8" y="263.1" font-size="6.8" text-anchor="end" fill="#222" transform="rotate(-45 585.8 263.1)" stroke="#222" stroke-width="0.15">83</text>
<line x1="342.5" y1="214.5" x2="589.2" y2="214.5" stroke="#cacaca" stroke-width="0.55" stroke-dasharray="2,2.2"/>
<line x1="342.5" y1="230.4" x2="589.2" y2="230.4" stroke="#cacaca" stroke-width="0.55" stroke-dasharray="2,2.2"/>
<line x1="342.5" y1="246.3" x2="589.2" y2="246.3" stroke="#cacaca" stroke-width="0.55" stroke-dasharray="2,2.2"/>
<line x1="340.5" y1="214.5" x2="342.5" y2="214.5" stroke="#555" stroke-width="0.6"/>
<text x="338.5" y="217.4" font-size="8.6" text-anchor="end" fill="#000" stroke="#000" stroke-width="0.25">All Tγδ</text>
<line x1="340.5" y1="230.4" x2="342.5" y2="230.4" stroke="#555" stroke-width="0.6"/>
<text x="338.5" y="233.3" font-size="8.6" text-anchor="end" fill="#000" stroke="#000" stroke-width="0.25">Tγδ1</text>
<line x1="340.5" y1="246.3" x2="342.5" y2="246.3" stroke="#555" stroke-width="0.6"/>
<text x="338.5" y="249.2" font-size="8.6" text-anchor="end" fill="#000" stroke="#000" stroke-width="0.25">Tγδ17</text>
<circle cx="356.6" cy="214.5" r="2.4" fill="#e8e8e8" stroke="#555" stroke-width="0.5"/>
<circle cx="367.9" cy="214.5" r="2.4" fill="#e8e8e8" stroke="#555" stroke-width="0.5"/>
<circle cx="379.2" cy="214.5" r="3.3" fill="#e6e0df" stroke="#555" stroke-width="0.5"/>
<circle cx="390.5" cy="214.5" r="3.3" fill="#e6dcda" stroke="#555" stroke-width="0.5"/>
<circle cx="401.8" cy="214.5" r="5.5" fill="#dbb3ac" stroke="#555" stroke-width="0.5"/>
<circle cx="413.1" cy="214.5" r="2.4" fill="#e8e8e8" stroke="#555" stroke-width="0.5"/>
<circle cx="424.4" cy="214.5" r="2.4" fill="#e8e8e8" stroke="#555" stroke-width="0.5"/>
<circle cx="435.7" cy="214.5" r="3.5" fill="#e6d9d7" stroke="#555" stroke-width="0.5"/>
<circle cx="447.0" cy="214.5" r="3.9" fill="#e6d6d3" stroke="#555" stroke-width="0.5"/>
<circle cx="458.3" cy="214.5" r="3.8" fill="#e6dcda" stroke="#555" stroke-width="0.5"/>
<circle cx="469.6" cy="214.5" r="2.4" fill="#e8e8e8" stroke="#555" stroke-width="0.5"/>
<circle cx="480.9" cy="214.5" r="4.2" fill="#dfc4bf" stroke="#555" stroke-width="0.5"/>
<circle cx="492.2" cy="214.5" r="2.4" fill="#e8e8e8" stroke="#555" stroke-width="0.5"/>
<circle cx="503.5" cy="214.5" r="2.4" fill="#e8e8e8" stroke="#555" stroke-width="0.5"/>
<circle cx="514.8" cy="214.5" r="2.4" fill="#e8e8e8" stroke="#555" stroke-width="0.5"/>
<circle cx="526.1" cy="214.5" r="2.4" fill="#e8e8e8" stroke="#555" stroke-width="0.5"/>
<circle cx="537.4" cy="214.5" r="2.4" fill="#e8e8e8" stroke="#555" stroke-width="0.5"/>
<circle cx="548.7" cy="214.5" r="2.4" fill="#e8e8e8" stroke="#555" stroke-width="0.5"/>
<circle cx="560.0" cy="214.5" r="4.1" fill="#e0cbc7" stroke="#555" stroke-width="0.5"/>
<circle cx="571.3" cy="214.5" r="2.4" fill="#e8e8e8" stroke="#555" stroke-width="0.5"/>
<circle cx="582.6" cy="214.5" r="2.4" fill="#e8e8e8" stroke="#555" stroke-width="0.5"/>
<circle cx="356.6" cy="230.4" r="2.4" fill="#e8e8e8" stroke="#555" stroke-width="0.5"/>
<circle cx="367.9" cy="230.4" r="2.4" fill="#e8e8e8" stroke="#555" stroke-width="0.5"/>
<circle cx="379.2" cy="230.4" r="2.4" fill="#e8e8e8" stroke="#555" stroke-width="0.5"/>
<circle cx="390.5" cy="230.4" r="2.4" fill="#e8e8e8" stroke="#555" stroke-width="0.5"/>
<circle cx="401.8" cy="230.4" r="2.4" fill="#e8e8e8" stroke="#555" stroke-width="0.5"/>
<circle cx="413.1" cy="230.4" r="2.4" fill="#e8e8e8" stroke="#555" stroke-width="0.5"/>
<circle cx="424.4" cy="230.4" r="2.4" fill="#e8e8e8" stroke="#555" stroke-width="0.5"/>
<circle cx="435.7" cy="230.4" r="2.4" fill="#e8e8e8" stroke="#555" stroke-width="0.5"/>
<circle cx="447.0" cy="230.4" r="4.1" fill="#e6d8d5" stroke="#555" stroke-width="0.5"/>
<circle cx="458.3" cy="230.4" r="3.5" fill="#e6dcda" stroke="#555" stroke-width="0.5"/>
<circle cx="469.6" cy="230.4" r="2.4" fill="#e8e8e8" stroke="#555" stroke-width="0.5"/>
<circle cx="480.9" cy="230.4" r="4.2" fill="#debfba" stroke="#555" stroke-width="0.5"/>
<circle cx="492.2" cy="230.4" r="2.4" fill="#e8e8e8" stroke="#555" stroke-width="0.5"/>
<circle cx="503.5" cy="230.4" r="2.4" fill="#e8e8e8" stroke="#555" stroke-width="0.5"/>
<circle cx="514.8" cy="230.4" r="2.4" fill="#e8e8e8" stroke="#555" stroke-width="0.5"/>
<circle cx="526.1" cy="230.4" r="2.4" fill="#e8e8e8" stroke="#555" stroke-width="0.5"/>
<circle cx="537.4" cy="230.4" r="2.4" fill="#e8e8e8" stroke="#555" stroke-width="0.5"/>
<circle cx="548.7" cy="230.4" r="2.4" fill="#e8e8e8" stroke="#555" stroke-width="0.5"/>
<circle cx="560.0" cy="230.4" r="2.2" fill="#e8e8e8" stroke="#555" stroke-width="0.5"/>
<circle cx="571.3" cy="230.4" r="2.4" fill="#e8e8e8" stroke="#555" stroke-width="0.5"/>
<circle cx="582.6" cy="230.4" r="2.4" fill="#e8e8e8" stroke="#555" stroke-width="0.5"/>
<circle cx="356.6" cy="246.3" r="2.4" fill="#e8e8e8" stroke="#555" stroke-width="0.5"/>
<circle cx="367.9" cy="246.3" r="2.4" fill="#e8e8e8" stroke="#555" stroke-width="0.5"/>
<circle cx="379.2" cy="246.3" r="7.5" fill="#c05448" stroke="#555" stroke-width="0.5"/>
<circle cx="390.5" cy="246.3" r="3.8" fill="#e8d8d6" stroke="#555" stroke-width="0.5"/>
<circle cx="401.8" cy="246.3" r="8.3" fill="#ae2b2e" stroke="#555" stroke-width="0.5"/>
<circle cx="413.1" cy="246.3" r="2.4" fill="#e8e8e8" stroke="#555" stroke-width="0.5"/>
<circle cx="435.7" cy="246.3" r="5.1" fill="#d9968d" stroke="#555" stroke-width="0.5"/>
<circle cx="447.0" cy="246.3" r="2.4" fill="#e8e8e8" stroke="#555" stroke-width="0.5"/>
<circle cx="458.3" cy="246.3" r="5.2" fill="#ebe7e6" stroke="#555" stroke-width="0.5"/>
<circle cx="469.6" cy="246.3" r="2.4" fill="#e8e8e8" stroke="#555" stroke-width="0.5"/>
<circle cx="480.9" cy="246.3" r="2.4" fill="#e8e8e8" stroke="#555" stroke-width="0.5"/>
<circle cx="492.2" cy="246.3" r="2.4" fill="#e8e8e8" stroke="#555" stroke-width="0.5"/>
<circle cx="503.5" cy="246.3" r="2.4" fill="#e8e8e8" stroke="#555" stroke-width="0.5"/>
<circle cx="514.8" cy="246.3" r="2.4" fill="#e8e8e8" stroke="#555" stroke-width="0.5"/>
<circle cx="526.1" cy="246.3" r="2.4" fill="#e8e8e8" stroke="#555" stroke-width="0.5"/>
<circle cx="537.4" cy="246.3" r="2.4" fill="#e8e8e8" stroke="#555" stroke-width="0.5"/>
<circle cx="548.7" cy="246.3" r="2.4" fill="#e8e8e8" stroke="#555" stroke-width="0.5"/>
<circle cx="560.0" cy="246.3" r="5.4" fill="#d4958f" stroke="#555" stroke-width="0.5"/>
<circle cx="571.3" cy="246.3" r="2.4" fill="#e8e8e8" stroke="#555" stroke-width="0.5"/>
<circle cx="582.6" cy="246.3" r="2.4" fill="#e8e8e8" stroke="#555" stroke-width="0.5"/>
<rect x="611" y="206.9" width="6.8" height="51.5" fill="url(#gr2)"/>
<text x="619.4" y="211.2" font-size="7.0" text-anchor="start" fill="#111" stroke="#111" stroke-width="0.15">high</text>
<text x="619.4" y="260" font-size="7.0" text-anchor="start" fill="#111" stroke="#111" stroke-width="0.15">low</text>
<text x="601.0" y="250.2" font-size="5.8" text-anchor="start" fill="#222" transform="rotate(-90 601.0 250.2)" stroke="#222" stroke-width="0.15">PDCD1LG2</text>
<text x="607.0" y="250.4" font-size="7.2" text-anchor="start" fill="#222" transform="rotate(-90 607.0 250.4)" stroke="#222" stroke-width="0.15">expression</text>
<text x="645.7" y="227.2" font-size="7.9" text-anchor="middle" fill="#111" transform="rotate(-90 645.7 227.2)" stroke="#111" stroke-width="0.15">percent (%)</text>
<circle cx="657.4" cy="209.2" r="2.3" fill="#e6e6e6" stroke="#777" stroke-width="0.45"/>
<text x="668.6" y="211.6" font-size="7.6" text-anchor="start" fill="#111" stroke="#111" stroke-width="0.15">0</text>
<circle cx="657.4" cy="225" r="6.2" fill="#e6e6e6" stroke="#777" stroke-width="0.45"/>
<text x="668.6" y="228.6" font-size="7.6" text-anchor="start" fill="#111" stroke="#111" stroke-width="0.15">50</text>
<circle cx="657.4" cy="247.6" r="9.2" fill="#e6e6e6" stroke="#777" stroke-width="0.45"/>
<text x="668.6" y="250.4" font-size="7.6" text-anchor="start" fill="#111" stroke="#111" stroke-width="0.15">100</text>
<text x="291.9" y="293.1" font-size="22" text-anchor="start" fill="#000" font-weight="bold" stroke="#000" stroke-width="0.15">f</text>
<rect x="339.9" y="306.1" width="62.4" height="7" fill="#8b63b8"/>
<rect x="339.9" y="313.1" width="62.4" height="81.3" fill="#fff" stroke="#444" stroke-width="0.8"/>
<line x1="339.9" y1="313.1" x2="402.3" y2="313.1" stroke="#222" stroke-width="1"/>
<text x="371" y="302.3" font-size="9.4" text-anchor="middle" fill="#111" stroke="#111" stroke-width="0.15">All Tγδ</text>
<line x1="337.7" y1="391.8" x2="339.9" y2="391.8" stroke="#444" stroke-width="0.6"/>
<text x="337.09999999999997" y="395.4" font-size="10.2" text-anchor="end" fill="#000" stroke="#000" stroke-width="0.2">0.0</text>
<line x1="337.7" y1="373.2" x2="339.9" y2="373.2" stroke="#444" stroke-width="0.6"/>
<text x="337.09999999999997" y="376.8" font-size="10.2" text-anchor="end" fill="#000" stroke="#000" stroke-width="0.2">2.5</text>
<line x1="337.7" y1="354.7" x2="339.9" y2="354.7" stroke="#444" stroke-width="0.6"/>
<text x="337.09999999999997" y="358.3" font-size="10.2" text-anchor="end" fill="#000" stroke="#000" stroke-width="0.2">5.0</text>
<line x1="337.7" y1="336.1" x2="339.9" y2="336.1" stroke="#444" stroke-width="0.6"/>
<text x="337.09999999999997" y="339.7" font-size="10.2" text-anchor="end" fill="#000" stroke="#000" stroke-width="0.2">7.5</text>
<line x1="337.7" y1="317.5" x2="339.9" y2="317.5" stroke="#444" stroke-width="0.6"/>
<text x="337.09999999999997" y="321.1" font-size="10.2" text-anchor="end" fill="#000" stroke="#000" stroke-width="0.2">10.0</text>
<text x="315.8" y="358.2" font-size="7.8" text-anchor="middle" fill="#1a1a1a" transform="rotate(-90 315.8 358.2)" stroke="#1a1a1a" stroke-width="0.15">PDCD1LG2 expression</text>
<circle cx="355.2" cy="326.2" r="2.5" fill="#000"/>
<circle cx="351.5" cy="332.3" r="2.5" fill="#000"/>
<circle cx="357.3" cy="337" r="2.5" fill="#000"/>
<circle cx="362.2" cy="338.6" r="2.5" fill="#000"/>
<circle cx="349.9" cy="347.8" r="2.5" fill="#000"/>
<circle cx="361.7" cy="356.4" r="2.5" fill="#000"/>
<circle cx="362.2" cy="358.5" r="2.5" fill="#000"/>
<circle cx="352.6" cy="368.3" r="2.5" fill="#000"/>
<circle cx="354" cy="381.4" r="2.5" fill="#000"/>
<circle cx="355.6" cy="384" r="2.5" fill="#000"/>
<circle cx="378.1" cy="346.6" r="2.5" fill="#000"/>
<circle cx="382.6" cy="349.3" r="2.5" fill="#000"/>
<path d="M346.2,391.8 L348.8,389.3 L364.8,389.3 L367.4,391.8 L364.8,394.3 L348.8,394.3 Z" fill="#000" stroke="#000" stroke-width="0.7" stroke-linejoin="round"/>
<path d="M374.9,391.8 L377.5,389.3 L393.7,389.3 L396.3,391.8 L393.7,394.3 L377.5,394.3 Z" fill="#000" stroke="#000" stroke-width="0.7" stroke-linejoin="round"/>
<text x="358.4" y="404.8" font-size="8.6" text-anchor="middle" fill="#111" stroke="#111" stroke-width="0.15">young</text>
<text x="385.8" y="404.8" font-size="8.6" text-anchor="middle" fill="#111" stroke="#111" stroke-width="0.15">old</text>
<rect x="447.6" y="306.1" width="62.3" height="7" fill="#5b9bc6"/>
<rect x="447.6" y="313.1" width="62.3" height="81.3" fill="#fff" stroke="#444" stroke-width="0.8"/>
<line x1="447.6" y1="313.1" x2="509.9" y2="313.1" stroke="#222" stroke-width="1"/>
<text x="479.3" y="302.3" font-size="9.4" text-anchor="middle" fill="#111" stroke="#111" stroke-width="0.15">Tγδ1</text>
<line x1="445.40000000000003" y1="391.9" x2="447.6" y2="391.9" stroke="#444" stroke-width="0.6"/>
<text x="444.8" y="395.5" font-size="10.2" text-anchor="end" fill="#000" stroke="#000" stroke-width="0.2">0.0</text>
<line x1="445.40000000000003" y1="371.5" x2="447.6" y2="371.5" stroke="#444" stroke-width="0.6"/>
<text x="444.8" y="375.1" font-size="10.2" text-anchor="end" fill="#000" stroke="#000" stroke-width="0.2">2.5</text>
<line x1="445.40000000000003" y1="351.2" x2="447.6" y2="351.2" stroke="#444" stroke-width="0.6"/>
<text x="444.8" y="354.8" font-size="10.2" text-anchor="end" fill="#000" stroke="#000" stroke-width="0.2">5.0</text>
<line x1="445.40000000000003" y1="330.8" x2="447.6" y2="330.8" stroke="#444" stroke-width="0.6"/>
<text x="444.8" y="334.4" font-size="10.2" text-anchor="end" fill="#000" stroke="#000" stroke-width="0.2">7.5</text>
<text x="426.6" y="358.2" font-size="7.8" text-anchor="middle" fill="#1a1a1a" transform="rotate(-90 426.6 358.2)" stroke="#1a1a1a" stroke-width="0.15">PDCD1LG2 expression</text>
<circle cx="458.4" cy="325.8" r="2.5" fill="#000"/>
<circle cx="459.4" cy="330.9" r="2.5" fill="#000"/>
<circle cx="460.9" cy="332.9" r="2.5" fill="#000"/>
<circle cx="468.6" cy="331.5" r="2.5" fill="#000"/>
<circle cx="457.8" cy="380.3" r="2.5" fill="#000"/>
<path d="M453.9,391.9 L456.5,389.4 L472.5,389.4 L475.1,391.9 L472.5,394.4 L456.5,394.4 Z" fill="#000" stroke="#000" stroke-width="0.7" stroke-linejoin="round"/>
<path d="M482.6,391.9 L485.2,389.4 L501.4,389.4 L504.0,391.9 L501.4,394.4 L485.2,394.4 Z" fill="#000" stroke="#000" stroke-width="0.7" stroke-linejoin="round"/>
<text x="466.1" y="404.8" font-size="8.6" text-anchor="middle" fill="#111" stroke="#111" stroke-width="0.15">young</text>
<text x="493.5" y="404.8" font-size="8.6" text-anchor="middle" fill="#111" stroke="#111" stroke-width="0.15">old</text>
<rect x="560.3" y="306.1" width="62.8" height="7" fill="#ef9b43"/>
<rect x="560.3" y="313.1" width="62.8" height="81.3" fill="#fff" stroke="#444" stroke-width="0.8"/>
<line x1="560.3" y1="313.1" x2="623.1" y2="313.1" stroke="#222" stroke-width="1"/>
<text x="592" y="302.3" font-size="9.4" text-anchor="middle" fill="#111" stroke="#111" stroke-width="0.15">Tγδ17</text>
<line x1="558.0999999999999" y1="391.9" x2="560.3" y2="391.9" stroke="#444" stroke-width="0.6"/>
<text x="557.5" y="395.5" font-size="10.2" text-anchor="end" fill="#000" stroke="#000" stroke-width="0.2">0.0</text>
<line x1="558.0999999999999" y1="373.3" x2="560.3" y2="373.3" stroke="#444" stroke-width="0.6"/>
<text x="557.5" y="376.9" font-size="10.2" text-anchor="end" fill="#000" stroke="#000" stroke-width="0.2">2.5</text>
<line x1="558.0999999999999" y1="354.7" x2="560.3" y2="354.7" stroke="#444" stroke-width="0.6"/>
<text x="557.5" y="358.3" font-size="10.2" text-anchor="end" fill="#000" stroke="#000" stroke-width="0.2">5.0</text>
<line x1="558.0999999999999" y1="336.1" x2="560.3" y2="336.1" stroke="#444" stroke-width="0.6"/>
<text x="557.5" y="339.7" font-size="10.2" text-anchor="end" fill="#000" stroke="#000" stroke-width="0.2">7.5</text>
<line x1="558.0999999999999" y1="317.5" x2="560.3" y2="317.5" stroke="#444" stroke-width="0.6"/>
<text x="557.5" y="321.1" font-size="10.2" text-anchor="end" fill="#000" stroke="#000" stroke-width="0.2">10.0</text>
<text x="536.2" y="358.2" font-size="7.8" text-anchor="middle" fill="#1a1a1a" transform="rotate(-90 536.2 358.2)" stroke="#1a1a1a" stroke-width="0.15">PDCD1LG2 expression</text>
<circle cx="571.6" cy="326.2" r="2.5" fill="#000"/>
<circle cx="581.2" cy="348.2" r="2.5" fill="#000"/>
<circle cx="575.2" cy="356.4" r="2.5" fill="#000"/>
<circle cx="574.2" cy="358.9" r="2.5" fill="#000"/>
<circle cx="570.5" cy="368.7" r="2.5" fill="#000"/>
<circle cx="575.2" cy="384.4" r="2.5" fill="#000"/>
<circle cx="601.8" cy="346.8" r="2.5" fill="#000"/>
<circle cx="607.7" cy="349.3" r="2.5" fill="#000"/>
<path d="M566.6,391.9 L569.2,389.4 L585.2,389.4 L587.8,391.9 L585.2,394.4 L569.2,394.4 Z" fill="#000" stroke="#000" stroke-width="0.7" stroke-linejoin="round"/>
<path d="M595.3,391.9 L597.9,389.4 L614.1,389.4 L616.7,391.9 L614.1,394.4 L597.9,394.4 Z" fill="#000" stroke="#000" stroke-width="0.7" stroke-linejoin="round"/>
<text x="578.8" y="404.8" font-size="8.6" text-anchor="middle" fill="#111" stroke="#111" stroke-width="0.15">young</text>
<text x="606.2" y="404.8" font-size="8.6" text-anchor="middle" fill="#111" stroke="#111" stroke-width="0.15">old</text>
<text x="478.3" y="328.2" font-size="16" text-anchor="middle" fill="#111" font-weight="bold" stroke="#111" stroke-width="0.15">*</text>
<text x="478.3" y="346.2" font-size="9.2" text-anchor="middle" fill="#111" font-weight="bold" stroke="#111" stroke-width="0.15">p &lt; 0.05</text>
<text x="0.0" y="411.8" font-size="22.5" text-anchor="start" fill="#000" font-weight="bold" stroke="#000" stroke-width="0.15">g</text>
<text x="111.3" y="411.6" font-size="16.9" text-anchor="middle" fill="#111" stroke="#111" stroke-width="0.15">All Tγδ</text>
<rect x="1.7" y="417.9" width="227.7" height="209.2" fill="#fff"/>
<line x1="1.7" y1="423.9" x2="229.4" y2="423.9" stroke="#e3e3e3" stroke-width="1.1"/>
<line x1="1.7" y1="434.3" x2="229.4" y2="434.3" stroke="#e3e3e3" stroke-width="1.1"/>
<line x1="1.7" y1="444.7" x2="229.4" y2="444.7" stroke="#e3e3e3" stroke-width="1.1"/>
<line x1="1.7" y1="455.1" x2="229.4" y2="455.1" stroke="#e3e3e3" stroke-width="1.1"/>
<line x1="1.7" y1="465.5" x2="229.4" y2="465.5" stroke="#e3e3e3" stroke-width="1.1"/>
<line x1="1.7" y1="475.9" x2="229.4" y2="475.9" stroke="#e3e3e3" stroke-width="1.1"/>
<line x1="1.7" y1="486.4" x2="229.4" y2="486.4" stroke="#e3e3e3" stroke-width="1.1"/>
<line x1="1.7" y1="496.8" x2="229.4" y2="496.8" stroke="#e3e3e3" stroke-width="1.1"/>
<line x1="1.7" y1="507.2" x2="229.4" y2="507.2" stroke="#e3e3e3" stroke-width="1.1"/>
<line x1="1.7" y1="517.6" x2="229.4" y2="517.6" stroke="#e3e3e3" stroke-width="1.1"/>
<line x1="1.7" y1="528.0" x2="229.4" y2="528.0" stroke="#e3e3e3" stroke-width="1.1"/>
<line x1="1.7" y1="538.4" x2="229.4" y2="538.4" stroke="#e3e3e3" stroke-width="1.1"/>
<line x1="1.7" y1="548.8" x2="229.4" y2="548.8" stroke="#e3e3e3" stroke-width="1.1"/>
<line x1="1.7" y1="559.2" x2="229.4" y2="559.2" stroke="#e3e3e3" stroke-width="1.1"/>
<line x1="1.7" y1="569.6" x2="229.4" y2="569.6" stroke="#e3e3e3" stroke-width="1.1"/>
<line x1="1.7" y1="580.0" x2="229.4" y2="580.0" stroke="#e3e3e3" stroke-width="1.1"/>
<line x1="1.7" y1="590.5" x2="229.4" y2="590.5" stroke="#e3e3e3" stroke-width="1.1"/>
<line x1="1.7" y1="600.9" x2="229.4" y2="600.9" stroke="#e3e3e3" stroke-width="1.1"/>
<line x1="1.7" y1="611.3" x2="229.4" y2="611.3" stroke="#e3e3e3" stroke-width="1.1"/>
<line x1="1.7" y1="621.7" x2="229.4" y2="621.7" stroke="#e3e3e3" stroke-width="1.1"/>
<line x1="4.4" y1="417.9" x2="4.4" y2="627.1" stroke="#e3e3e3" stroke-width="1.1"/>
<line x1="58.0" y1="417.9" x2="58.0" y2="627.1" stroke="#e3e3e3" stroke-width="1.1"/>
<line x1="111.6" y1="417.9" x2="111.6" y2="627.1" stroke="#e3e3e3" stroke-width="1.1"/>
<line x1="165.2" y1="417.9" x2="165.2" y2="627.1" stroke="#e3e3e3" stroke-width="1.1"/>
<line x1="218.8" y1="417.9" x2="218.8" y2="627.1" stroke="#e3e3e3" stroke-width="1.1"/>
<line x1="31.2" y1="417.9" x2="31.2" y2="627.1" stroke="#e0e0e0" stroke-width="1.1" stroke-dasharray="3.5,2.5"/>
<line x1="84.8" y1="417.9" x2="84.8" y2="627.1" stroke="#e0e0e0" stroke-width="1.1" stroke-dasharray="3.5,2.5"/>
<line x1="138.4" y1="417.9" x2="138.4" y2="627.1" stroke="#e0e0e0" stroke-width="1.1" stroke-dasharray="3.5,2.5"/>
<line x1="192.0" y1="417.9" x2="192.0" y2="627.1" stroke="#e0e0e0" stroke-width="1.1" stroke-dasharray="3.5,2.5"/>
<rect x="1.7" y="417.9" width="227.7" height="209.2" fill="none" stroke="#9a9a9a" stroke-width="0.9"/>
<circle cx="218.8" cy="423.9" r="5.5" fill="#5a5a5a" stroke="#3a3a3a" stroke-width="0.5"/>
<circle cx="203.8" cy="434.4" r="5.8" fill="#5a5a5a" stroke="#3a3a3a" stroke-width="0.5"/>
<circle cx="141.2" cy="444.9" r="3.5" fill="#5a5a5a" stroke="#3a3a3a" stroke-width="0.5"/>
<circle cx="129.8" cy="455.2" r="4.4" fill="#5a5a5a" stroke="#3a3a3a" stroke-width="0.5"/>
<circle cx="128.9" cy="465.7" r="5.0" fill="#5a5a5a" stroke="#3a3a3a" stroke-width="0.5"/>
<circle cx="127.7" cy="476.2" r="5.8" fill="#5a5a5a" stroke="#3a3a3a" stroke-width="0.5"/>
<circle cx="108.5" cy="486.2" r="5.4" fill="#5a5a5a" stroke="#3a3a3a" stroke-width="0.5"/>
<circle cx="104.3" cy="496.8" r="5.4" fill="#5a5a5a" stroke="#3a3a3a" stroke-width="0.5"/>
<circle cx="83.5" cy="507.3" r="3.5" fill="#5a5a5a" stroke="#3a3a3a" stroke-width="0.5"/>
<circle cx="81.7" cy="517.3" r="4.7" fill="#5a5a5a" stroke="#3a3a3a" stroke-width="0.5"/>
<circle cx="30.1" cy="528" r="3.0" fill="#e3e3e3" stroke="#5a5a5a" stroke-width="0.5"/>
<circle cx="28.1" cy="538.7" r="4.4" fill="#e3e3e3" stroke="#5a5a5a" stroke-width="0.5"/>
<circle cx="27.6" cy="549.3" r="3.2" fill="#e3e3e3" stroke="#5a5a5a" stroke-width="0.5"/>
<circle cx="25.9" cy="559.7" r="4.5" fill="#e3e3e3" stroke="#5a5a5a" stroke-width="0.5"/>
<circle cx="22.1" cy="570.2" r="4.35" fill="#e3e3e3" stroke="#5a5a5a" stroke-width="0.5"/>
<circle cx="22.1" cy="580.6" r="4.35" fill="#e3e3e3" stroke="#5a5a5a" stroke-width="0.5"/>
<circle cx="22.1" cy="590.8" r="4.35" fill="#e3e3e3" stroke="#5a5a5a" stroke-width="0.5"/>
<circle cx="16.7" cy="601.3" r="1.8" fill="#e3e3e3" stroke="#5a5a5a" stroke-width="0.5"/>
<circle cx="14.2" cy="611.5" r="3.8" fill="#e3e3e3" stroke="#5a5a5a" stroke-width="0.5"/>
<circle cx="11.7" cy="622.1" r="4.1" fill="#e3e3e3" stroke="#5a5a5a" stroke-width="0.5"/>
<line x1="4.4" y1="627.1" x2="4.4" y2="629" stroke="#555" stroke-width="0.6"/>
<text x="4.4" y="637.3" font-size="7.4" text-anchor="middle" fill="#222" stroke="#222" stroke-width="0.15">3</text>
<line x1="58.0" y1="627.1" x2="58.0" y2="629" stroke="#555" stroke-width="0.6"/>
<text x="58.0" y="637.3" font-size="7.4" text-anchor="middle" fill="#222" stroke="#222" stroke-width="0.15">5</text>
<line x1="111.6" y1="627.1" x2="111.6" y2="629" stroke="#555" stroke-width="0.6"/>
<text x="111.6" y="637.3" font-size="7.4" text-anchor="middle" fill="#222" stroke="#222" stroke-width="0.15">7</text>
<line x1="165.2" y1="627.1" x2="165.2" y2="629" stroke="#555" stroke-width="0.6"/>
<text x="165.2" y="637.3" font-size="7.4" text-anchor="middle" fill="#222" stroke="#222" stroke-width="0.15">9</text>
<line x1="218.8" y1="627.1" x2="218.8" y2="629" stroke="#555" stroke-width="0.6"/>
<text x="218.8" y="637.3" font-size="7.4" text-anchor="middle" fill="#222" stroke="#222" stroke-width="0.15">11</text>
<text x="109.9" y="652.4" font-size="10.5" text-anchor="middle" fill="#111" stroke="#111" stroke-width="0.15">-log10(p value)</text>
<text x="244.0" y="427.4" font-size="8.28" text-anchor="start" fill="#111" stroke="#111" stroke-width="0.15">cytoplasmic translation</text>
<text x="244.0" y="437.8" font-size="8.28" text-anchor="start" fill="#111" stroke="#111" stroke-width="0.15">ribosomal small subunit assembly</text>
<text x="244.0" y="448.2" font-size="8.28" text-anchor="start" fill="#111" stroke="#111" stroke-width="0.15">rRNA processing</text>
<text x="244.0" y="458.6" font-size="8.28" text-anchor="start" fill="#111" stroke="#111" stroke-width="0.15">positive regulation of T cell mediated cytotoxicity</text>
<text x="244.0" y="469.0" font-size="8.28" text-anchor="start" fill="#111" stroke="#111" stroke-width="0.15">ribosomal large subunit assembly</text>
<text x="244.0" y="479.4" font-size="8.28" text-anchor="start" fill="#111" stroke="#111" stroke-width="0.15">negative regulation of ubiquitin protein ligase activity</text>
<text x="244.0" y="489.9" font-size="8.28" text-anchor="start" fill="#111" stroke="#111" stroke-width="0.15">antigen processing and presentation of endogenous peptide antigen via MHC class I via ER pathway, TAP−independent</text>
<text x="244.0" y="500.3" font-size="8.28" text-anchor="start" fill="#111" stroke="#111" stroke-width="0.15">antigen processing and presentation of endogenous peptide antigen via MHC class Ib</text>
<text x="244.0" y="510.7" font-size="8.28" text-anchor="start" fill="#111" stroke="#111" stroke-width="0.15">T cell receptor signaling pathway</text>
<text x="244.0" y="521.1" font-size="8.28" text-anchor="start" fill="#111" stroke="#111" stroke-width="0.15">ribosomal small subunit biogenesis</text>
<text x="244.0" y="531.5" font-size="8.28" text-anchor="start" fill="#9a9a9a" stroke="#9a9a9a" stroke-width="0.15">maternal process involved in female pregnancy</text>
<text x="244.0" y="541.9" font-size="8.28" text-anchor="start" fill="#9a9a9a" stroke="#9a9a9a" stroke-width="0.15">T cell activation via T cell receptor contact with antigen bound to MHC molecule on antigen presenting cell</text>
<text x="244.0" y="552.3" font-size="8.28" text-anchor="start" fill="#9a9a9a" stroke="#9a9a9a" stroke-width="0.15">positive regulation of NIK/NF−kappaB signaling</text>
<text x="244.0" y="562.7" font-size="8.28" text-anchor="start" fill="#9a9a9a" stroke="#9a9a9a" stroke-width="0.15">negative regulation of myeloid leukocyte mediated immunity</text>
<text x="244.0" y="573.1" font-size="8.28" text-anchor="start" fill="#9a9a9a" stroke="#9a9a9a" stroke-width="0.15">positive regulation of monocyte chemotactic protein−1 production</text>
<text x="244.0" y="583.5" font-size="8.28" text-anchor="start" fill="#9a9a9a" stroke="#9a9a9a" stroke-width="0.15">negative regulation of mast cell activation</text>
<text x="244.0" y="594.0" font-size="8.28" text-anchor="start" fill="#9a9a9a" stroke="#9a9a9a" stroke-width="0.15">negative regulation of leukocyte degranulation</text>
<text x="244.0" y="604.4" font-size="8.28" text-anchor="start" fill="#9a9a9a" stroke="#9a9a9a" stroke-width="0.15">response to lipid</text>
<text x="244.0" y="614.8" font-size="8.28" text-anchor="start" fill="#9a9a9a" stroke="#9a9a9a" stroke-width="0.15">response to hydroperoxide</text>
<text x="244.0" y="625.2" font-size="8.28" text-anchor="start" fill="#9a9a9a" stroke="#9a9a9a" stroke-width="0.15">negative regulation of natural killer cell mediated cytotoxicity</text>
<circle cx="640.1" cy="499.9" r="4" fill="#5a5a5a" stroke="#3a3a3a" stroke-width="0.5"/>
<circle cx="640.1" cy="516.2" r="4" fill="#e3e3e3" stroke="#777" stroke-width="0.5"/>
<text x="648.6" y="504.0" font-size="10.5" text-anchor="start" fill="#111" stroke="#111" stroke-width="0.15">old</text>
<text x="648.6" y="520.0" font-size="10.5" text-anchor="start" fill="#111" stroke="#111" stroke-width="0.15">young</text>
<text x="645.6" y="571" font-size="9.6" text-anchor="middle" fill="#111" transform="rotate(-90 645.6 571)" stroke="#111" stroke-width="0.15">overlapping ratio</text>
<circle cx="657.1" cy="546.7" r="2.2" fill="#fff" stroke="#444" stroke-width="0.6"/>
<text x="664.4" y="549.8" font-size="9.4" text-anchor="start" fill="#111" stroke="#111" stroke-width="0.15">1%</text>
<circle cx="656.1" cy="565.7" r="4" fill="#fff" stroke="#444" stroke-width="0.6"/>
<text x="664.4" y="569.5" font-size="9.4" text-anchor="start" fill="#111" stroke="#111" stroke-width="0.15">21%</text>
<circle cx="656.5" cy="587.9" r="5.9" fill="#fff" stroke="#444" stroke-width="0.6"/>
<text x="664.4" y="590" font-size="9.4" text-anchor="start" fill="#111" stroke="#111" stroke-width="0.15">42%</text>
</svg></body></html>
